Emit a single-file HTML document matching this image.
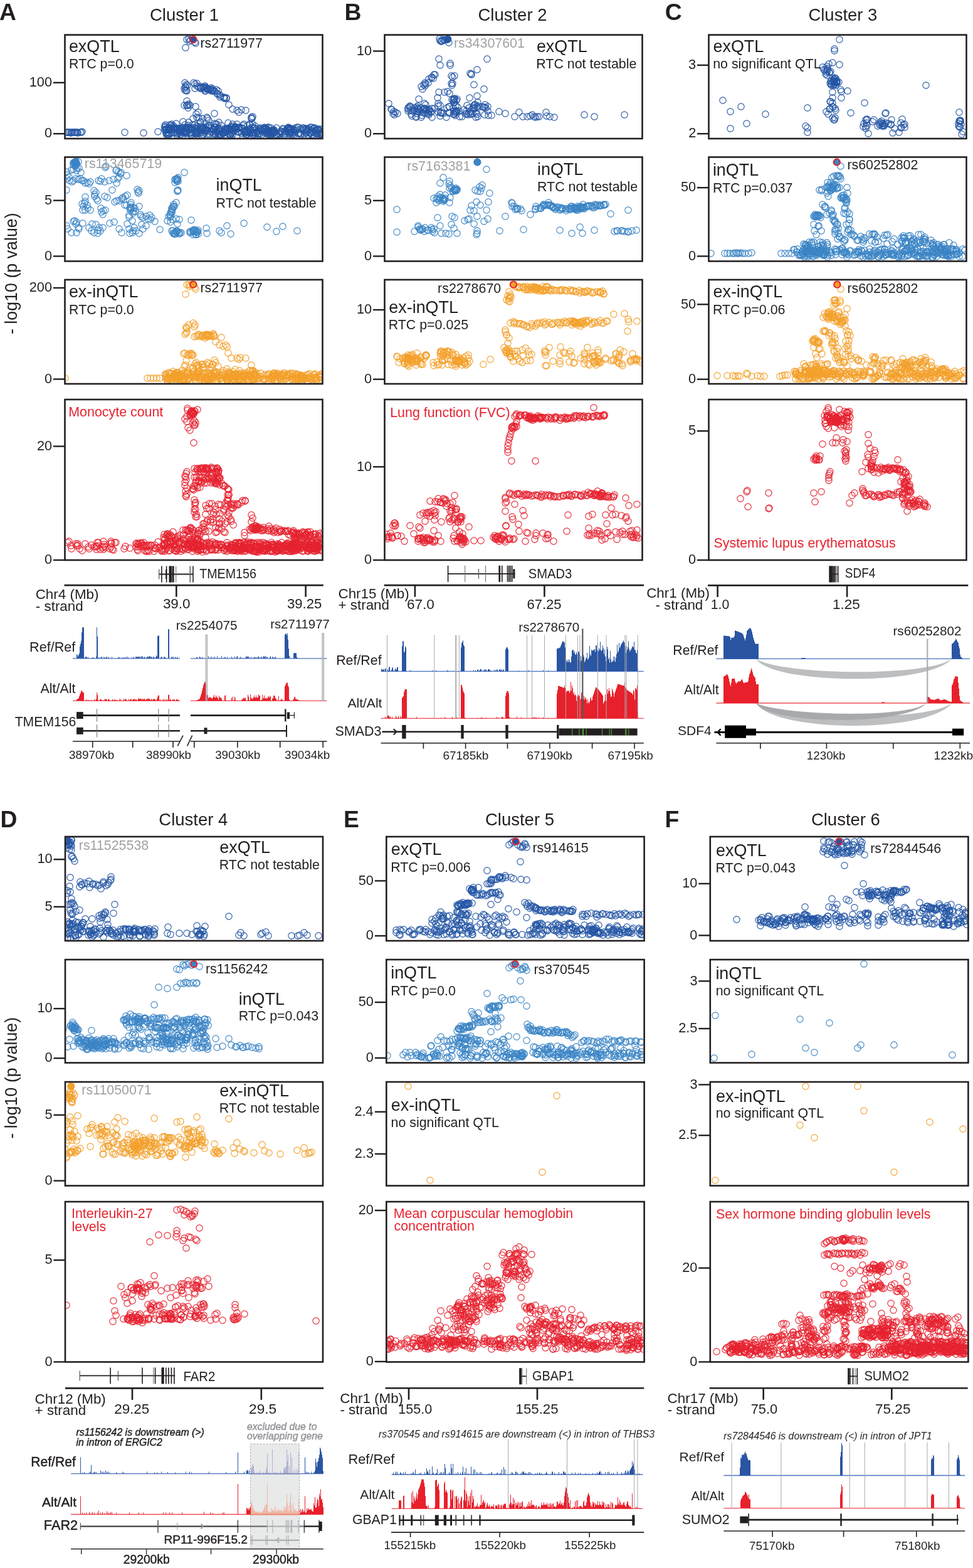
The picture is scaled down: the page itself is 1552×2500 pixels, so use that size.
<!DOCTYPE html>
<html><head><meta charset="utf-8"><title>Figure</title>
<style>html,body{margin:0;padding:0;background:#fff;} svg{display:block;} circle{r:5.15px;} text{font-family:'Liberation Sans', Arial, Helvetica, sans-serif;}</style>
</head><body>
<svg fill="#231f20" width="1552" height="2500" viewBox="0 0 1552 2500">
<rect width="1552" height="2500" fill="#fff"/>
<text x="-0.9" y="31.7" font-size="37.3" font-weight="bold">A</text>
<text x="294.0" y="32.8" font-size="27.5" text-anchor="middle">Cluster 1</text>
<text x="549.5" y="31.7" font-size="37.3" font-weight="bold">B</text>
<text x="817.5" y="32.8" font-size="27.5" text-anchor="middle">Cluster 2</text>
<text x="1060.8" y="31.7" font-size="37.3" font-weight="bold">C</text>
<text x="1344.4" y="32.8" font-size="27.5" text-anchor="middle">Cluster 3</text>
<text x="0.5" y="1318.9" font-size="37.3" font-weight="bold">D</text>
<text x="308.3" y="1315.8" font-size="27.5" text-anchor="middle">Cluster 4</text>
<text x="547.9" y="1318.9" font-size="37.3" font-weight="bold">E</text>
<text x="829.0" y="1315.8" font-size="27.5" text-anchor="middle">Cluster 5</text>
<text x="1060.6" y="1318.9" font-size="37.3" font-weight="bold">F</text>
<text x="1348.9" y="1315.8" font-size="27.5" text-anchor="middle">Cluster 6</text>
<text transform="translate(26.8,533) rotate(-90)" font-size="26.8">- log10 (p value)</text>
<text transform="translate(26.8,1815.5) rotate(-90)" font-size="26.8">- log10 (p value)</text>
<defs>
<clipPath id="cA1"><rect x="104.8" y="56.9" width="408.4" height="162.8"/></clipPath>
<clipPath id="cA2"><rect x="104.8" y="251.8" width="408.4" height="163.4"/></clipPath>
<clipPath id="cA3"><rect x="104.8" y="447.3" width="408.4" height="163.4"/></clipPath>
<clipPath id="cA4"><rect x="104.8" y="638.3" width="408.4" height="253.4"/></clipPath>
<clipPath id="cB1"><rect x="614.8" y="56.9" width="408.4" height="162.8"/></clipPath>
<clipPath id="cB2"><rect x="614.8" y="251.8" width="408.4" height="163.4"/></clipPath>
<clipPath id="cB3"><rect x="614.8" y="447.3" width="408.4" height="163.4"/></clipPath>
<clipPath id="cB4"><rect x="614.8" y="638.3" width="408.4" height="253.4"/></clipPath>
<clipPath id="cC1"><rect x="1131.8" y="56.9" width="408.4" height="162.8"/></clipPath>
<clipPath id="cC2"><rect x="1131.8" y="251.8" width="408.4" height="163.4"/></clipPath>
<clipPath id="cC3"><rect x="1131.8" y="447.3" width="408.4" height="163.4"/></clipPath>
<clipPath id="cC4"><rect x="1131.8" y="638.3" width="408.4" height="253.4"/></clipPath>
<clipPath id="cD1"><rect x="105.3" y="1335.3" width="408.4" height="163.4"/></clipPath>
<clipPath id="cD2"><rect x="105.3" y="1531.3" width="408.4" height="161.9"/></clipPath>
<clipPath id="cD3"><rect x="105.3" y="1726.3" width="408.4" height="162.9"/></clipPath>
<clipPath id="cD4"><rect x="105.3" y="1917.3" width="408.4" height="252.9"/></clipPath>
<clipPath id="cE1"><rect x="617.6" y="1335.3" width="408.7" height="163.4"/></clipPath>
<clipPath id="cE2"><rect x="617.6" y="1531.3" width="408.7" height="161.9"/></clipPath>
<clipPath id="cE3"><rect x="617.6" y="1726.3" width="408.7" height="162.9"/></clipPath>
<clipPath id="cE4"><rect x="617.6" y="1917.3" width="408.7" height="252.9"/></clipPath>
<clipPath id="cF1"><rect x="1134.1" y="1335.3" width="409.0" height="163.4"/></clipPath>
<clipPath id="cF2"><rect x="1134.1" y="1531.3" width="409.0" height="161.9"/></clipPath>
<clipPath id="cF3"><rect x="1134.1" y="1726.3" width="409.0" height="162.9"/></clipPath>
<clipPath id="cF4"><rect x="1134.1" y="1917.3" width="409.0" height="252.9"/></clipPath>
</defs>
<g clip-path="url(#cA1)" fill="none" stroke-width="1.1">
<g stroke="#2456a5"><circle cx="106" cy="211"/><circle cx="108" cy="211"/><circle cx="109" cy="211"/><circle cx="111" cy="211"/><circle cx="113" cy="212"/><circle cx="114" cy="211"/><circle cx="115" cy="211"/><circle cx="117" cy="211"/><circle cx="119" cy="211"/><circle cx="120" cy="211"/><circle cx="122" cy="211"/><circle cx="124" cy="211"/><circle cx="124" cy="212"/><circle cx="128" cy="211"/><circle cx="130" cy="211"/><circle cx="131" cy="210"/><circle cx="199" cy="211"/><circle cx="229" cy="212"/><circle cx="252" cy="210"/><circle cx="307" cy="204"/><circle cx="367" cy="215"/><circle cx="408" cy="213"/><circle cx="321" cy="210"/><circle cx="441" cy="214"/><circle cx="465" cy="206"/><circle cx="482" cy="206"/><circle cx="464" cy="210"/><circle cx="309" cy="211"/><circle cx="393" cy="216"/><circle cx="273" cy="205"/><circle cx="510" cy="214"/><circle cx="300" cy="206"/><circle cx="398" cy="205"/><circle cx="344" cy="203"/><circle cx="441" cy="204"/><circle cx="513" cy="215"/><circle cx="461" cy="213"/><circle cx="355" cy="212"/><circle cx="454" cy="209"/><circle cx="278" cy="211"/><circle cx="344" cy="211"/><circle cx="368" cy="215"/><circle cx="313" cy="213"/><circle cx="438" cy="210"/><circle cx="283" cy="205"/><circle cx="506" cy="206"/><circle cx="304" cy="207"/><circle cx="398" cy="210"/><circle cx="263" cy="203"/><circle cx="387" cy="205"/><circle cx="415" cy="213"/><circle cx="287" cy="210"/><circle cx="365" cy="213"/><circle cx="503" cy="208"/><circle cx="324" cy="214"/><circle cx="269" cy="207"/><circle cx="362" cy="205"/><circle cx="433" cy="210"/><circle cx="325" cy="208"/><circle cx="436" cy="207"/><circle cx="280" cy="209"/><circle cx="312" cy="211"/><circle cx="313" cy="205"/><circle cx="487" cy="207"/><circle cx="336" cy="210"/><circle cx="437" cy="212"/><circle cx="463" cy="206"/><circle cx="370" cy="208"/><circle cx="392" cy="210"/><circle cx="421" cy="204"/><circle cx="356" cy="212"/><circle cx="271" cy="213"/><circle cx="435" cy="208"/><circle cx="375" cy="206"/><circle cx="448" cy="209"/><circle cx="329" cy="203"/><circle cx="349" cy="215"/><circle cx="432" cy="211"/><circle cx="497" cy="203"/><circle cx="414" cy="205"/><circle cx="362" cy="205"/><circle cx="350" cy="215"/><circle cx="445" cy="214"/><circle cx="281" cy="207"/><circle cx="460" cy="203"/><circle cx="310" cy="204"/><circle cx="468" cy="206"/><circle cx="369" cy="203"/><circle cx="291" cy="210"/><circle cx="461" cy="207"/><circle cx="343" cy="203"/><circle cx="288" cy="205"/><circle cx="314" cy="210"/><circle cx="353" cy="216"/><circle cx="334" cy="214"/><circle cx="286" cy="210"/><circle cx="401" cy="212"/><circle cx="366" cy="210"/><circle cx="458" cy="205"/><circle cx="396" cy="211"/><circle cx="459" cy="205"/><circle cx="367" cy="203"/><circle cx="429" cy="214"/><circle cx="351" cy="214"/><circle cx="428" cy="203"/><circle cx="381" cy="203"/><circle cx="341" cy="213"/><circle cx="294" cy="210"/><circle cx="277" cy="204"/><circle cx="502" cy="204"/><circle cx="306" cy="215"/><circle cx="340" cy="206"/><circle cx="287" cy="209"/><circle cx="277" cy="206"/><circle cx="318" cy="213"/><circle cx="303" cy="211"/><circle cx="323" cy="216"/><circle cx="512" cy="215"/><circle cx="489" cy="210"/><circle cx="497" cy="211"/><circle cx="303" cy="213"/><circle cx="476" cy="203"/><circle cx="312" cy="213"/><circle cx="456" cy="210"/><circle cx="293" cy="206"/><circle cx="322" cy="216"/><circle cx="319" cy="208"/><circle cx="436" cy="212"/><circle cx="404" cy="211"/><circle cx="480" cy="215"/><circle cx="290" cy="203"/><circle cx="492" cy="215"/><circle cx="355" cy="208"/><circle cx="435" cy="208"/><circle cx="290" cy="206"/><circle cx="339" cy="210"/><circle cx="306" cy="212"/><circle cx="506" cy="208"/><circle cx="406" cy="211"/><circle cx="463" cy="211"/><circle cx="392" cy="212"/><circle cx="268" cy="215"/><circle cx="488" cy="212"/><circle cx="313" cy="211"/><circle cx="270" cy="208"/><circle cx="317" cy="210"/><circle cx="325" cy="204"/><circle cx="462" cy="206"/><circle cx="403" cy="203"/><circle cx="404" cy="213"/><circle cx="460" cy="207"/><circle cx="295" cy="211"/><circle cx="340" cy="207"/><circle cx="315" cy="208"/><circle cx="434" cy="208"/><circle cx="425" cy="212"/><circle cx="466" cy="210"/><circle cx="511" cy="209"/><circle cx="398" cy="212"/><circle cx="507" cy="212"/><circle cx="493" cy="205"/><circle cx="369" cy="212"/><circle cx="447" cy="214"/><circle cx="329" cy="207"/><circle cx="366" cy="208"/><circle cx="286" cy="208"/><circle cx="424" cy="213"/><circle cx="320" cy="211"/><circle cx="451" cy="205"/><circle cx="266" cy="205"/><circle cx="433" cy="215"/><circle cx="360" cy="207"/><circle cx="420" cy="207"/><circle cx="272" cy="206"/><circle cx="413" cy="209"/><circle cx="350" cy="208"/><circle cx="297" cy="213"/><circle cx="357" cy="212"/><circle cx="405" cy="215"/><circle cx="463" cy="205"/><circle cx="376" cy="203"/><circle cx="452" cy="206"/><circle cx="508" cy="206"/><circle cx="390" cy="209"/><circle cx="470" cy="211"/><circle cx="484" cy="207"/><circle cx="287" cy="205"/><circle cx="274" cy="212"/><circle cx="435" cy="213"/><circle cx="459" cy="204"/><circle cx="279" cy="212"/><circle cx="263" cy="207"/><circle cx="410" cy="211"/><circle cx="417" cy="215"/><circle cx="508" cy="207"/><circle cx="342" cy="203"/><circle cx="293" cy="209"/><circle cx="424" cy="206"/><circle cx="287" cy="212"/><circle cx="431" cy="209"/><circle cx="298" cy="205"/><circle cx="330" cy="214"/><circle cx="495" cy="203"/><circle cx="498" cy="215"/><circle cx="462" cy="206"/><circle cx="506" cy="214"/><circle cx="298" cy="203"/><circle cx="358" cy="211"/><circle cx="269" cy="216"/><circle cx="432" cy="210"/><circle cx="386" cy="204"/><circle cx="450" cy="213"/><circle cx="268" cy="214"/><circle cx="352" cy="215"/><circle cx="348" cy="206"/><circle cx="312" cy="207"/><circle cx="280" cy="205"/><circle cx="381" cy="210"/><circle cx="403" cy="205"/><circle cx="269" cy="205"/><circle cx="489" cy="205"/><circle cx="434" cy="210"/><circle cx="413" cy="215"/><circle cx="327" cy="212"/><circle cx="393" cy="208"/><circle cx="363" cy="205"/><circle cx="288" cy="215"/><circle cx="423" cy="205"/><circle cx="464" cy="205"/><circle cx="429" cy="211"/><circle cx="463" cy="208"/><circle cx="503" cy="212"/><circle cx="375" cy="204"/><circle cx="327" cy="205"/><circle cx="394" cy="214"/><circle cx="449" cy="211"/><circle cx="370" cy="206"/><circle cx="465" cy="212"/><circle cx="429" cy="210"/><circle cx="461" cy="211"/><circle cx="329" cy="208"/><circle cx="340" cy="207"/><circle cx="488" cy="212"/><circle cx="417" cy="209"/><circle cx="385" cy="204"/><circle cx="382" cy="211"/><circle cx="351" cy="210"/><circle cx="514" cy="215"/><circle cx="282" cy="215"/><circle cx="462" cy="214"/><circle cx="465" cy="206"/><circle cx="296" cy="211"/><circle cx="471" cy="204"/><circle cx="266" cy="215"/><circle cx="491" cy="206"/><circle cx="471" cy="207"/><circle cx="474" cy="203"/><circle cx="415" cy="206"/><circle cx="422" cy="203"/><circle cx="425" cy="204"/><circle cx="374" cy="204"/><circle cx="359" cy="205"/><circle cx="345" cy="209"/><circle cx="428" cy="211"/><circle cx="394" cy="214"/><circle cx="366" cy="205"/><circle cx="435" cy="208"/><circle cx="497" cy="208"/><circle cx="266" cy="207"/><circle cx="504" cy="209"/><circle cx="469" cy="208"/><circle cx="415" cy="204"/><circle cx="313" cy="204"/><circle cx="364" cy="207"/><circle cx="403" cy="211"/><circle cx="323" cy="206"/><circle cx="269" cy="204"/><circle cx="358" cy="215"/><circle cx="310" cy="208"/><circle cx="266" cy="211"/><circle cx="368" cy="207"/><circle cx="361" cy="206"/><circle cx="365" cy="205"/><circle cx="442" cy="215"/><circle cx="490" cy="208"/><circle cx="265" cy="213"/><circle cx="379" cy="210"/><circle cx="427" cy="214"/><circle cx="393" cy="209"/><circle cx="296" cy="203"/><circle cx="304" cy="205"/><circle cx="499" cy="210"/><circle cx="269" cy="207"/><circle cx="366" cy="214"/><circle cx="366" cy="210"/><circle cx="329" cy="207"/><circle cx="283" cy="213"/><circle cx="385" cy="213"/><circle cx="406" cy="204"/><circle cx="330" cy="207"/><circle cx="459" cy="207"/><circle cx="505" cy="213"/><circle cx="436" cy="210"/><circle cx="437" cy="207"/><circle cx="288" cy="214"/><circle cx="378" cy="216"/><circle cx="447" cy="210"/><circle cx="370" cy="212"/><circle cx="323" cy="207"/><circle cx="343" cy="214"/><circle cx="501" cy="204"/><circle cx="269" cy="207"/><circle cx="434" cy="209"/><circle cx="454" cy="216"/><circle cx="430" cy="212"/><circle cx="298" cy="211"/><circle cx="420" cy="205"/><circle cx="269" cy="212"/><circle cx="512" cy="211"/><circle cx="313" cy="214"/><circle cx="342" cy="207"/><circle cx="467" cy="213"/><circle cx="497" cy="215"/><circle cx="263" cy="206"/><circle cx="409" cy="206"/><circle cx="476" cy="213"/><circle cx="453" cy="215"/><circle cx="440" cy="216"/><circle cx="380" cy="205"/><circle cx="392" cy="215"/><circle cx="417" cy="207"/><circle cx="287" cy="205"/><circle cx="293" cy="212"/><circle cx="345" cy="209"/><circle cx="508" cy="207"/><circle cx="427" cy="207"/><circle cx="359" cy="208"/><circle cx="374" cy="204"/><circle cx="424" cy="210"/><circle cx="291" cy="216"/><circle cx="511" cy="206"/><circle cx="348" cy="213"/><circle cx="390" cy="210"/><circle cx="455" cy="213"/><circle cx="329" cy="209"/><circle cx="466" cy="215"/><circle cx="480" cy="213"/><circle cx="428" cy="203"/><circle cx="354" cy="212"/><circle cx="324" cy="204"/><circle cx="412" cy="213"/><circle cx="513" cy="212"/><circle cx="375" cy="203"/><circle cx="433" cy="215"/><circle cx="393" cy="210"/><circle cx="286" cy="207"/><circle cx="411" cy="213"/><circle cx="344" cy="214"/><circle cx="410" cy="210"/><circle cx="313" cy="212"/><circle cx="297" cy="208"/><circle cx="485" cy="214"/><circle cx="500" cy="205"/><circle cx="490" cy="209"/><circle cx="304" cy="215"/><circle cx="501" cy="216"/><circle cx="353" cy="206"/><circle cx="495" cy="212"/><circle cx="495" cy="213"/><circle cx="510" cy="213"/><circle cx="469" cy="215"/><circle cx="371" cy="215"/><circle cx="367" cy="216"/><circle cx="399" cy="211"/><circle cx="265" cy="207"/><circle cx="332" cy="203"/><circle cx="341" cy="206"/><circle cx="290" cy="206"/><circle cx="479" cy="206"/><circle cx="438" cy="216"/><circle cx="265" cy="212"/><circle cx="296" cy="205"/><circle cx="340" cy="215"/><circle cx="483" cy="204"/><circle cx="461" cy="204"/><circle cx="353" cy="216"/><circle cx="484" cy="204"/><circle cx="405" cy="208"/><circle cx="432" cy="214"/><circle cx="403" cy="215"/><circle cx="488" cy="205"/><circle cx="277" cy="205"/><circle cx="390" cy="212"/><circle cx="477" cy="213"/><circle cx="427" cy="211"/><circle cx="427" cy="208"/><circle cx="429" cy="214"/><circle cx="478" cy="212"/><circle cx="432" cy="204"/><circle cx="314" cy="201"/><circle cx="311" cy="199"/><circle cx="321" cy="204"/><circle cx="304" cy="205"/><circle cx="263" cy="201"/><circle cx="376" cy="204"/><circle cx="264" cy="199"/><circle cx="274" cy="202"/><circle cx="277" cy="201"/><circle cx="307" cy="199"/><circle cx="321" cy="201"/><circle cx="353" cy="200"/><circle cx="273" cy="200"/><circle cx="371" cy="198"/><circle cx="344" cy="198"/><circle cx="398" cy="199"/><circle cx="346" cy="198"/><circle cx="348" cy="204"/><circle cx="406" cy="204"/><circle cx="403" cy="198"/><circle cx="389" cy="198"/><circle cx="399" cy="206"/><circle cx="375" cy="202"/><circle cx="378" cy="198"/><circle cx="398" cy="198"/><circle cx="300" cy="200"/><circle cx="370" cy="201"/><circle cx="323" cy="202"/><circle cx="381" cy="204"/><circle cx="395" cy="200"/><circle cx="271" cy="199"/><circle cx="281" cy="204"/><circle cx="276" cy="204"/><circle cx="263" cy="203"/><circle cx="301" cy="203"/><circle cx="382" cy="203"/><circle cx="274" cy="198"/><circle cx="323" cy="205"/><circle cx="335" cy="200"/><circle cx="336" cy="204"/><circle cx="295" cy="199"/><circle cx="407" cy="201"/><circle cx="332" cy="200"/><circle cx="301" cy="204"/><circle cx="388" cy="200"/><circle cx="316" cy="179"/><circle cx="281" cy="197"/><circle cx="349" cy="195"/><circle cx="330" cy="187"/><circle cx="320" cy="194"/><circle cx="342" cy="197"/><circle cx="313" cy="182"/><circle cx="314" cy="187"/><circle cx="333" cy="192"/><circle cx="323" cy="189"/><circle cx="308" cy="189"/><circle cx="319" cy="195"/><circle cx="342" cy="181"/><circle cx="317" cy="188"/><circle cx="331" cy="189"/><circle cx="292" cy="194"/><circle cx="301" cy="195"/><circle cx="364" cy="196"/><circle cx="401" cy="189"/><circle cx="403" cy="186"/><circle cx="298" cy="63"/><circle cx="301" cy="62"/><circle cx="304" cy="64"/><circle cx="311" cy="67"/><circle cx="312" cy="69"/><circle cx="302" cy="66"/><circle cx="296" cy="76"/><circle cx="307" cy="61"/><circle cx="296" cy="138"/><circle cx="298" cy="145"/><circle cx="297" cy="135"/><circle cx="297" cy="144"/><circle cx="299" cy="136"/><circle cx="294" cy="141"/><circle cx="295" cy="144"/><circle cx="296" cy="139"/><circle cx="295" cy="132"/><circle cx="309" cy="132"/><circle cx="311" cy="134"/><circle cx="314" cy="133"/><circle cx="314" cy="137"/><circle cx="317" cy="139"/><circle cx="320" cy="138"/><circle cx="320" cy="140"/><circle cx="324" cy="139"/><circle cx="324" cy="140"/><circle cx="328" cy="139"/><circle cx="328" cy="140"/><circle cx="328" cy="145"/><circle cx="331" cy="142"/><circle cx="334" cy="143"/><circle cx="336" cy="142"/><circle cx="339" cy="145"/><circle cx="337" cy="145"/><circle cx="341" cy="145"/><circle cx="345" cy="143"/><circle cx="343" cy="146"/><circle cx="346" cy="149"/><circle cx="350" cy="151"/><circle cx="347" cy="150"/><circle cx="352" cy="153"/><circle cx="351" cy="155"/><circle cx="357" cy="155"/><circle cx="358" cy="156"/><circle cx="358" cy="157"/><circle cx="361" cy="156"/><circle cx="361" cy="157"/><circle cx="320" cy="141"/><circle cx="326" cy="142"/><circle cx="320" cy="141"/><circle cx="348" cy="145"/><circle cx="337" cy="140"/><circle cx="330" cy="141"/><circle cx="332" cy="142"/><circle cx="327" cy="137"/><circle cx="339" cy="144"/><circle cx="332" cy="143"/><circle cx="311" cy="141"/><circle cx="327" cy="145"/><circle cx="325" cy="139"/><circle cx="339" cy="142"/><circle cx="365" cy="167"/><circle cx="371" cy="174"/><circle cx="378" cy="176"/><circle cx="385" cy="175"/><circle cx="392" cy="176"/><circle cx="381" cy="179"/><circle cx="401" cy="187"/><circle cx="402" cy="189"/><circle cx="312" cy="170"/><circle cx="300" cy="172"/><circle cx="298" cy="161"/><circle cx="298" cy="168"/><circle cx="294" cy="168"/><circle cx="301" cy="166"/><circle cx="300" cy="168"/><circle cx="303" cy="168"/><circle cx="298" cy="168"/></g>
<circle cx="308.3" cy="63.1" fill="#2456a5" stroke="#e8212b" stroke-width="2"/>
</g>
<g clip-path="url(#cA2)" fill="none" stroke-width="1.1">
<g stroke="#3a84c5"><circle cx="120" cy="265"/><circle cx="121" cy="264"/><circle cx="120" cy="265"/><circle cx="122" cy="261"/><circle cx="121" cy="262"/><circle cx="125" cy="258"/><circle cx="122" cy="260"/><circle cx="117" cy="263"/><circle cx="117" cy="260"/><circle cx="123" cy="268"/><circle cx="118" cy="259"/><circle cx="119" cy="259"/><circle cx="122" cy="261"/><circle cx="120" cy="261"/><circle cx="119" cy="260"/><circle cx="120" cy="258"/><circle cx="117" cy="270"/><circle cx="122" cy="272"/><circle cx="129" cy="275"/><circle cx="126" cy="268"/><circle cx="114" cy="271"/><circle cx="106" cy="274"/><circle cx="107" cy="279"/><circle cx="110" cy="282"/><circle cx="106" cy="285"/><circle cx="106" cy="303"/><circle cx="111" cy="288"/><circle cx="117" cy="288"/><circle cx="121" cy="285"/><circle cx="125" cy="286"/><circle cx="131" cy="288"/><circle cx="136" cy="292"/><circle cx="142" cy="293"/><circle cx="144" cy="290"/><circle cx="133" cy="288"/><circle cx="139" cy="291"/><circle cx="128" cy="285"/><circle cx="115" cy="290"/><circle cx="157" cy="288"/><circle cx="162" cy="285"/><circle cx="167" cy="290"/><circle cx="174" cy="288"/><circle cx="181" cy="286"/><circle cx="186" cy="292"/><circle cx="160" cy="289"/><circle cx="168" cy="267"/><circle cx="169" cy="265"/><circle cx="186" cy="271"/><circle cx="189" cy="274"/><circle cx="192" cy="277"/><circle cx="190" cy="282"/><circle cx="188" cy="285"/><circle cx="185" cy="272"/><circle cx="193" cy="275"/><circle cx="202" cy="280"/><circle cx="179" cy="303"/><circle cx="219" cy="302"/><circle cx="222" cy="304"/><circle cx="221" cy="308"/><circle cx="220" cy="306"/><circle cx="150" cy="304"/><circle cx="153" cy="307"/><circle cx="151" cy="313"/><circle cx="154" cy="317"/><circle cx="156" cy="320"/><circle cx="151" cy="310"/><circle cx="136" cy="314"/><circle cx="135" cy="324"/><circle cx="139" cy="327"/><circle cx="133" cy="329"/><circle cx="136" cy="335"/><circle cx="140" cy="332"/><circle cx="132" cy="335"/><circle cx="144" cy="335"/><circle cx="136" cy="321"/><circle cx="131" cy="325"/><circle cx="167" cy="313"/><circle cx="171" cy="315"/><circle cx="183" cy="322"/><circle cx="186" cy="320"/><circle cx="196" cy="315"/><circle cx="200" cy="313"/><circle cx="203" cy="311"/><circle cx="197" cy="318"/><circle cx="199" cy="327"/><circle cx="194" cy="317"/><circle cx="190" cy="320"/><circle cx="207" cy="332"/><circle cx="212" cy="340"/><circle cx="210" cy="332"/><circle cx="216" cy="337"/><circle cx="208" cy="326"/><circle cx="209" cy="330"/><circle cx="215" cy="332"/><circle cx="209" cy="323"/><circle cx="213" cy="331"/><circle cx="213" cy="337"/><circle cx="208" cy="335"/><circle cx="206" cy="343"/><circle cx="202" cy="327"/><circle cx="208" cy="332"/><circle cx="161" cy="332"/><circle cx="165" cy="336"/><circle cx="164" cy="342"/><circle cx="168" cy="335"/><circle cx="162" cy="338"/><circle cx="222" cy="329"/><circle cx="224" cy="342"/><circle cx="228" cy="347"/><circle cx="233" cy="345"/><circle cx="239" cy="343"/><circle cx="242" cy="347"/><circle cx="247" cy="353"/><circle cx="240" cy="350"/><circle cx="236" cy="349"/><circle cx="225" cy="345"/><circle cx="119" cy="352"/><circle cx="122" cy="354"/><circle cx="117" cy="353"/><circle cx="132" cy="356"/><circle cx="106" cy="360"/><circle cx="108" cy="365"/><circle cx="114" cy="371"/><circle cx="122" cy="371"/><circle cx="125" cy="363"/><circle cx="142" cy="363"/><circle cx="146" cy="368"/><circle cx="150" cy="371"/><circle cx="156" cy="367"/><circle cx="158" cy="363"/><circle cx="164" cy="363"/><circle cx="156" cy="372"/><circle cx="175" cy="356"/><circle cx="182" cy="354"/><circle cx="190" cy="365"/><circle cx="194" cy="371"/><circle cx="206" cy="365"/><circle cx="211" cy="371"/><circle cx="214" cy="363"/><circle cx="217" cy="368"/><circle cx="222" cy="372"/><circle cx="228" cy="365"/><circle cx="233" cy="360"/><circle cx="211" cy="352"/><circle cx="206" cy="346"/><circle cx="203" cy="357"/><circle cx="121" cy="357"/><circle cx="126" cy="365"/><circle cx="147" cy="357"/><circle cx="153" cy="358"/><circle cx="160" cy="368"/><circle cx="207" cy="372"/><circle cx="212" cy="368"/><circle cx="226" cy="358"/><circle cx="255" cy="366"/><circle cx="282" cy="286"/><circle cx="283" cy="285"/><circle cx="283" cy="286"/><circle cx="282" cy="285"/><circle cx="284" cy="283"/><circle cx="279" cy="286"/><circle cx="282" cy="289"/><circle cx="283" cy="288"/><circle cx="284" cy="289"/><circle cx="280" cy="286"/><circle cx="279" cy="291"/><circle cx="283" cy="304"/><circle cx="284" cy="303"/><circle cx="283" cy="305"/><circle cx="294" cy="275"/><circle cx="281" cy="323"/><circle cx="277" cy="326"/><circle cx="278" cy="329"/><circle cx="276" cy="329"/><circle cx="277" cy="330"/><circle cx="274" cy="332"/><circle cx="275" cy="334"/><circle cx="274" cy="334"/><circle cx="274" cy="337"/><circle cx="274" cy="339"/><circle cx="272" cy="339"/><circle cx="271" cy="343"/><circle cx="272" cy="342"/><circle cx="272" cy="346"/><circle cx="269" cy="345"/><circle cx="267" cy="352"/><circle cx="272" cy="354"/><circle cx="281" cy="349"/><circle cx="286" cy="350"/><circle cx="283" cy="357"/><circle cx="275" cy="350"/><circle cx="303" cy="371"/><circle cx="286" cy="373"/><circle cx="313" cy="374"/><circle cx="282" cy="368"/><circle cx="276" cy="372"/><circle cx="315" cy="369"/><circle cx="289" cy="371"/><circle cx="287" cy="371"/><circle cx="285" cy="371"/><circle cx="316" cy="373"/><circle cx="315" cy="370"/><circle cx="274" cy="368"/><circle cx="278" cy="373"/><circle cx="278" cy="371"/><circle cx="313" cy="370"/><circle cx="279" cy="373"/><circle cx="316" cy="367"/><circle cx="308" cy="374"/><circle cx="281" cy="370"/><circle cx="276" cy="368"/><circle cx="305" cy="370"/><circle cx="282" cy="370"/><circle cx="312" cy="374"/><circle cx="283" cy="369"/><circle cx="280" cy="373"/><circle cx="312" cy="368"/><circle cx="309" cy="369"/><circle cx="310" cy="366"/><circle cx="310" cy="368"/><circle cx="308" cy="368"/><circle cx="308" cy="367"/><circle cx="308" cy="369"/><circle cx="313" cy="370"/><circle cx="303" cy="369"/><circle cx="305" cy="351"/><circle cx="329" cy="364"/><circle cx="330" cy="372"/><circle cx="350" cy="368"/><circle cx="353" cy="371"/><circle cx="362" cy="360"/><circle cx="368" cy="373"/><circle cx="389" cy="356"/><circle cx="426" cy="362"/><circle cx="441" cy="369"/><circle cx="451" cy="361"/><circle cx="474" cy="368"/></g>
<circle cx="120.8" cy="257.7" fill="#3a84c5" stroke="#3a84c5" stroke-width="2"/>
</g>
<g clip-path="url(#cA3)" fill="none" stroke-width="1.1">
<g stroke="#f3a02b"><circle cx="104" cy="603"/><circle cx="235" cy="603"/><circle cx="240" cy="603"/><circle cx="245" cy="603"/><circle cx="250" cy="603"/><circle cx="255" cy="603"/><circle cx="313" cy="602"/><circle cx="326" cy="607"/><circle cx="480" cy="604"/><circle cx="404" cy="605"/><circle cx="284" cy="600"/><circle cx="484" cy="605"/><circle cx="342" cy="600"/><circle cx="298" cy="595"/><circle cx="501" cy="597"/><circle cx="464" cy="597"/><circle cx="377" cy="602"/><circle cx="309" cy="599"/><circle cx="298" cy="595"/><circle cx="355" cy="606"/><circle cx="318" cy="601"/><circle cx="361" cy="602"/><circle cx="316" cy="595"/><circle cx="346" cy="608"/><circle cx="408" cy="601"/><circle cx="337" cy="604"/><circle cx="300" cy="603"/><circle cx="388" cy="596"/><circle cx="388" cy="599"/><circle cx="265" cy="601"/><circle cx="314" cy="596"/><circle cx="435" cy="602"/><circle cx="361" cy="604"/><circle cx="483" cy="600"/><circle cx="395" cy="607"/><circle cx="329" cy="601"/><circle cx="385" cy="600"/><circle cx="403" cy="605"/><circle cx="482" cy="600"/><circle cx="334" cy="605"/><circle cx="439" cy="598"/><circle cx="374" cy="598"/><circle cx="394" cy="598"/><circle cx="280" cy="598"/><circle cx="284" cy="599"/><circle cx="345" cy="599"/><circle cx="496" cy="605"/><circle cx="328" cy="607"/><circle cx="384" cy="595"/><circle cx="381" cy="596"/><circle cx="332" cy="608"/><circle cx="396" cy="608"/><circle cx="374" cy="599"/><circle cx="320" cy="598"/><circle cx="456" cy="603"/><circle cx="479" cy="601"/><circle cx="481" cy="607"/><circle cx="281" cy="604"/><circle cx="281" cy="599"/><circle cx="295" cy="603"/><circle cx="294" cy="596"/><circle cx="447" cy="604"/><circle cx="475" cy="607"/><circle cx="442" cy="606"/><circle cx="335" cy="601"/><circle cx="400" cy="600"/><circle cx="379" cy="601"/><circle cx="393" cy="595"/><circle cx="300" cy="605"/><circle cx="480" cy="598"/><circle cx="291" cy="598"/><circle cx="483" cy="601"/><circle cx="509" cy="601"/><circle cx="292" cy="605"/><circle cx="293" cy="604"/><circle cx="513" cy="605"/><circle cx="467" cy="600"/><circle cx="278" cy="598"/><circle cx="478" cy="605"/><circle cx="407" cy="597"/><circle cx="383" cy="606"/><circle cx="290" cy="607"/><circle cx="282" cy="604"/><circle cx="267" cy="606"/><circle cx="342" cy="602"/><circle cx="274" cy="604"/><circle cx="513" cy="599"/><circle cx="473" cy="597"/><circle cx="272" cy="604"/><circle cx="331" cy="604"/><circle cx="279" cy="597"/><circle cx="342" cy="602"/><circle cx="323" cy="596"/><circle cx="291" cy="600"/><circle cx="278" cy="602"/><circle cx="270" cy="602"/><circle cx="342" cy="595"/><circle cx="268" cy="603"/><circle cx="441" cy="597"/><circle cx="406" cy="596"/><circle cx="380" cy="606"/><circle cx="310" cy="601"/><circle cx="490" cy="598"/><circle cx="459" cy="596"/><circle cx="331" cy="605"/><circle cx="481" cy="599"/><circle cx="366" cy="599"/><circle cx="311" cy="599"/><circle cx="473" cy="602"/><circle cx="475" cy="602"/><circle cx="433" cy="602"/><circle cx="316" cy="601"/><circle cx="349" cy="598"/><circle cx="342" cy="607"/><circle cx="505" cy="608"/><circle cx="399" cy="598"/><circle cx="354" cy="599"/><circle cx="504" cy="606"/><circle cx="460" cy="602"/><circle cx="384" cy="605"/><circle cx="486" cy="604"/><circle cx="501" cy="603"/><circle cx="473" cy="603"/><circle cx="401" cy="606"/><circle cx="375" cy="606"/><circle cx="327" cy="608"/><circle cx="446" cy="597"/><circle cx="435" cy="599"/><circle cx="287" cy="597"/><circle cx="371" cy="607"/><circle cx="322" cy="602"/><circle cx="373" cy="597"/><circle cx="437" cy="599"/><circle cx="274" cy="606"/><circle cx="454" cy="595"/><circle cx="376" cy="599"/><circle cx="427" cy="599"/><circle cx="438" cy="595"/><circle cx="491" cy="603"/><circle cx="363" cy="606"/><circle cx="449" cy="599"/><circle cx="285" cy="603"/><circle cx="369" cy="606"/><circle cx="300" cy="606"/><circle cx="475" cy="598"/><circle cx="327" cy="603"/><circle cx="334" cy="601"/><circle cx="396" cy="600"/><circle cx="294" cy="599"/><circle cx="466" cy="605"/><circle cx="288" cy="604"/><circle cx="484" cy="603"/><circle cx="504" cy="603"/><circle cx="380" cy="600"/><circle cx="409" cy="604"/><circle cx="512" cy="597"/><circle cx="344" cy="607"/><circle cx="435" cy="599"/><circle cx="404" cy="596"/><circle cx="300" cy="595"/><circle cx="475" cy="597"/><circle cx="356" cy="599"/><circle cx="438" cy="596"/><circle cx="265" cy="597"/><circle cx="405" cy="599"/><circle cx="282" cy="599"/><circle cx="329" cy="604"/><circle cx="442" cy="595"/><circle cx="472" cy="596"/><circle cx="363" cy="600"/><circle cx="270" cy="596"/><circle cx="449" cy="604"/><circle cx="461" cy="608"/><circle cx="486" cy="599"/><circle cx="428" cy="604"/><circle cx="320" cy="605"/><circle cx="491" cy="603"/><circle cx="459" cy="599"/><circle cx="475" cy="599"/><circle cx="339" cy="602"/><circle cx="416" cy="601"/><circle cx="472" cy="605"/><circle cx="395" cy="607"/><circle cx="363" cy="600"/><circle cx="509" cy="599"/><circle cx="296" cy="606"/><circle cx="436" cy="599"/><circle cx="465" cy="604"/><circle cx="376" cy="602"/><circle cx="501" cy="602"/><circle cx="289" cy="601"/><circle cx="339" cy="608"/><circle cx="372" cy="600"/><circle cx="455" cy="605"/><circle cx="283" cy="604"/><circle cx="497" cy="603"/><circle cx="332" cy="607"/><circle cx="279" cy="601"/><circle cx="312" cy="602"/><circle cx="363" cy="607"/><circle cx="281" cy="601"/><circle cx="335" cy="596"/><circle cx="475" cy="603"/><circle cx="351" cy="602"/><circle cx="375" cy="596"/><circle cx="345" cy="595"/><circle cx="287" cy="606"/><circle cx="459" cy="599"/><circle cx="267" cy="607"/><circle cx="280" cy="598"/><circle cx="476" cy="602"/><circle cx="373" cy="605"/><circle cx="493" cy="602"/><circle cx="494" cy="596"/><circle cx="393" cy="604"/><circle cx="475" cy="601"/><circle cx="421" cy="599"/><circle cx="446" cy="602"/><circle cx="511" cy="602"/><circle cx="311" cy="605"/><circle cx="376" cy="597"/><circle cx="504" cy="601"/><circle cx="305" cy="597"/><circle cx="326" cy="607"/><circle cx="467" cy="595"/><circle cx="439" cy="599"/><circle cx="372" cy="605"/><circle cx="336" cy="599"/><circle cx="497" cy="605"/><circle cx="471" cy="605"/><circle cx="504" cy="605"/><circle cx="450" cy="599"/><circle cx="440" cy="607"/><circle cx="406" cy="604"/><circle cx="307" cy="601"/><circle cx="396" cy="605"/><circle cx="393" cy="598"/><circle cx="510" cy="601"/><circle cx="292" cy="606"/><circle cx="354" cy="607"/><circle cx="270" cy="605"/><circle cx="433" cy="604"/><circle cx="272" cy="602"/><circle cx="389" cy="599"/><circle cx="285" cy="603"/><circle cx="355" cy="608"/><circle cx="321" cy="600"/><circle cx="428" cy="597"/><circle cx="300" cy="596"/><circle cx="476" cy="605"/><circle cx="292" cy="599"/><circle cx="429" cy="596"/><circle cx="278" cy="597"/><circle cx="458" cy="598"/><circle cx="450" cy="597"/><circle cx="422" cy="604"/><circle cx="423" cy="597"/><circle cx="380" cy="598"/><circle cx="344" cy="599"/><circle cx="491" cy="597"/><circle cx="362" cy="605"/><circle cx="283" cy="605"/><circle cx="490" cy="603"/><circle cx="495" cy="601"/><circle cx="458" cy="608"/><circle cx="387" cy="601"/><circle cx="502" cy="604"/><circle cx="389" cy="600"/><circle cx="443" cy="608"/><circle cx="389" cy="601"/><circle cx="390" cy="595"/><circle cx="470" cy="604"/><circle cx="420" cy="604"/><circle cx="466" cy="601"/><circle cx="406" cy="598"/><circle cx="403" cy="603"/><circle cx="404" cy="597"/><circle cx="332" cy="595"/><circle cx="368" cy="602"/><circle cx="351" cy="604"/><circle cx="359" cy="601"/><circle cx="313" cy="602"/><circle cx="317" cy="598"/><circle cx="370" cy="603"/><circle cx="392" cy="598"/><circle cx="406" cy="604"/><circle cx="316" cy="596"/><circle cx="481" cy="599"/><circle cx="404" cy="601"/><circle cx="391" cy="599"/><circle cx="301" cy="604"/><circle cx="433" cy="607"/><circle cx="388" cy="606"/><circle cx="389" cy="608"/><circle cx="304" cy="599"/><circle cx="456" cy="600"/><circle cx="404" cy="607"/><circle cx="316" cy="596"/><circle cx="267" cy="603"/><circle cx="500" cy="598"/><circle cx="390" cy="600"/><circle cx="387" cy="606"/><circle cx="485" cy="603"/><circle cx="381" cy="607"/><circle cx="374" cy="599"/><circle cx="383" cy="604"/><circle cx="321" cy="605"/><circle cx="356" cy="596"/><circle cx="438" cy="607"/><circle cx="491" cy="608"/><circle cx="274" cy="608"/><circle cx="489" cy="607"/><circle cx="264" cy="604"/><circle cx="312" cy="607"/><circle cx="332" cy="596"/><circle cx="410" cy="604"/><circle cx="397" cy="600"/><circle cx="280" cy="604"/><circle cx="265" cy="602"/><circle cx="287" cy="601"/><circle cx="409" cy="598"/><circle cx="452" cy="598"/><circle cx="480" cy="600"/><circle cx="435" cy="601"/><circle cx="343" cy="596"/><circle cx="416" cy="595"/><circle cx="380" cy="600"/><circle cx="336" cy="598"/><circle cx="385" cy="607"/><circle cx="462" cy="599"/><circle cx="412" cy="603"/><circle cx="444" cy="603"/><circle cx="278" cy="597"/><circle cx="461" cy="598"/><circle cx="405" cy="595"/><circle cx="409" cy="599"/><circle cx="273" cy="595"/><circle cx="322" cy="602"/><circle cx="452" cy="595"/><circle cx="390" cy="599"/><circle cx="415" cy="604"/><circle cx="284" cy="598"/><circle cx="481" cy="604"/><circle cx="304" cy="602"/><circle cx="354" cy="597"/><circle cx="365" cy="602"/><circle cx="428" cy="607"/><circle cx="331" cy="608"/><circle cx="355" cy="603"/><circle cx="362" cy="601"/><circle cx="435" cy="605"/><circle cx="280" cy="595"/><circle cx="350" cy="599"/><circle cx="375" cy="607"/><circle cx="338" cy="598"/><circle cx="371" cy="599"/><circle cx="366" cy="602"/><circle cx="291" cy="605"/><circle cx="422" cy="605"/><circle cx="373" cy="597"/><circle cx="449" cy="606"/><circle cx="487" cy="604"/><circle cx="294" cy="599"/><circle cx="436" cy="595"/><circle cx="334" cy="600"/><circle cx="463" cy="595"/><circle cx="331" cy="603"/><circle cx="264" cy="599"/><circle cx="448" cy="601"/><circle cx="449" cy="598"/><circle cx="442" cy="597"/><circle cx="421" cy="605"/><circle cx="278" cy="599"/><circle cx="346" cy="607"/><circle cx="280" cy="600"/><circle cx="513" cy="596"/><circle cx="503" cy="596"/><circle cx="399" cy="601"/><circle cx="434" cy="599"/><circle cx="381" cy="606"/><circle cx="303" cy="607"/><circle cx="286" cy="597"/><circle cx="319" cy="602"/><circle cx="340" cy="601"/><circle cx="277" cy="599"/><circle cx="264" cy="596"/><circle cx="366" cy="594"/><circle cx="335" cy="591"/><circle cx="382" cy="591"/><circle cx="372" cy="593"/><circle cx="399" cy="591"/><circle cx="318" cy="591"/><circle cx="410" cy="595"/><circle cx="316" cy="592"/><circle cx="402" cy="593"/><circle cx="282" cy="594"/><circle cx="320" cy="596"/><circle cx="272" cy="596"/><circle cx="402" cy="591"/><circle cx="369" cy="596"/><circle cx="381" cy="597"/><circle cx="336" cy="595"/><circle cx="355" cy="594"/><circle cx="283" cy="594"/><circle cx="345" cy="593"/><circle cx="377" cy="597"/><circle cx="342" cy="593"/><circle cx="342" cy="596"/><circle cx="310" cy="596"/><circle cx="366" cy="595"/><circle cx="356" cy="591"/><circle cx="364" cy="597"/><circle cx="367" cy="596"/><circle cx="285" cy="594"/><circle cx="375" cy="597"/><circle cx="276" cy="592"/><circle cx="300" cy="592"/><circle cx="364" cy="593"/><circle cx="407" cy="595"/><circle cx="372" cy="597"/><circle cx="398" cy="591"/><circle cx="329" cy="595"/><circle cx="376" cy="597"/><circle cx="295" cy="594"/><circle cx="404" cy="592"/><circle cx="269" cy="594"/><circle cx="290" cy="591"/><circle cx="324" cy="595"/><circle cx="364" cy="597"/><circle cx="307" cy="593"/><circle cx="404" cy="591"/><circle cx="316" cy="582"/><circle cx="323" cy="581"/><circle cx="328" cy="581"/><circle cx="340" cy="581"/><circle cx="323" cy="581"/><circle cx="313" cy="578"/><circle cx="308" cy="587"/><circle cx="296" cy="582"/><circle cx="348" cy="584"/><circle cx="316" cy="584"/><circle cx="297" cy="575"/><circle cx="324" cy="586"/><circle cx="324" cy="585"/><circle cx="313" cy="583"/><circle cx="344" cy="578"/><circle cx="334" cy="580"/><circle cx="303" cy="586"/><circle cx="307" cy="587"/><circle cx="338" cy="586"/><circle cx="313" cy="583"/><circle cx="294" cy="584"/><circle cx="311" cy="580"/><circle cx="322" cy="581"/><circle cx="331" cy="578"/><circle cx="342" cy="574"/><circle cx="339" cy="581"/><circle cx="317" cy="586"/><circle cx="336" cy="586"/><circle cx="362" cy="588"/><circle cx="375" cy="589"/><circle cx="298" cy="454"/><circle cx="301" cy="454"/><circle cx="304" cy="455"/><circle cx="311" cy="458"/><circle cx="312" cy="461"/><circle cx="302" cy="457"/><circle cx="296" cy="469"/><circle cx="307" cy="453"/><circle cx="298" cy="529"/><circle cx="301" cy="518"/><circle cx="297" cy="522"/><circle cx="295" cy="533"/><circle cx="297" cy="531"/><circle cx="297" cy="522"/><circle cx="298" cy="524"/><circle cx="308" cy="515"/><circle cx="311" cy="518"/><circle cx="310" cy="521"/><circle cx="342" cy="536"/><circle cx="316" cy="536"/><circle cx="341" cy="534"/><circle cx="335" cy="536"/><circle cx="337" cy="536"/><circle cx="325" cy="534"/><circle cx="323" cy="536"/><circle cx="330" cy="537"/><circle cx="327" cy="539"/><circle cx="329" cy="534"/><circle cx="332" cy="535"/><circle cx="335" cy="534"/><circle cx="313" cy="536"/><circle cx="329" cy="535"/><circle cx="334" cy="535"/><circle cx="353" cy="538"/><circle cx="341" cy="536"/><circle cx="329" cy="536"/><circle cx="330" cy="533"/><circle cx="340" cy="532"/><circle cx="316" cy="534"/><circle cx="322" cy="537"/><circle cx="322" cy="535"/><circle cx="317" cy="533"/><circle cx="310" cy="537"/><circle cx="328" cy="535"/><circle cx="344" cy="545"/><circle cx="350" cy="550"/><circle cx="356" cy="552"/><circle cx="362" cy="553"/><circle cx="360" cy="550"/><circle cx="364" cy="563"/><circle cx="369" cy="571"/><circle cx="378" cy="571"/><circle cx="383" cy="570"/><circle cx="392" cy="571"/><circle cx="401" cy="582"/><circle cx="381" cy="573"/><circle cx="306" cy="565"/><circle cx="295" cy="563"/><circle cx="306" cy="567"/><circle cx="299" cy="566"/><circle cx="308" cy="566"/><circle cx="301" cy="566"/><circle cx="305" cy="563"/><circle cx="302" cy="564"/><circle cx="293" cy="564"/></g>
<circle cx="308.3" cy="453.7" fill="#f3a02b" stroke="#e8212b" stroke-width="2"/>
</g>
<g clip-path="url(#cA4)" fill="none" stroke-width="1.1">
<g stroke="#e62330"><circle cx="306" cy="655"/><circle cx="308" cy="661"/><circle cx="308" cy="657"/><circle cx="304" cy="661"/><circle cx="305" cy="662"/><circle cx="306" cy="659"/><circle cx="306" cy="659"/><circle cx="309" cy="660"/><circle cx="305" cy="663"/><circle cx="309" cy="659"/><circle cx="305" cy="656"/><circle cx="305" cy="656"/><circle cx="308" cy="658"/><circle cx="306" cy="658"/><circle cx="310" cy="671"/><circle cx="315" cy="653"/><circle cx="306" cy="659"/><circle cx="303" cy="686"/><circle cx="299" cy="654"/><circle cx="303" cy="660"/><circle cx="310" cy="677"/><circle cx="300" cy="682"/><circle cx="299" cy="651"/><circle cx="298" cy="672"/><circle cx="311" cy="678"/><circle cx="298" cy="664"/><circle cx="312" cy="674"/><circle cx="310" cy="655"/><circle cx="311" cy="656"/><circle cx="295" cy="668"/><circle cx="308" cy="674"/><circle cx="305" cy="656"/><circle cx="309" cy="706"/><circle cx="332" cy="749"/><circle cx="310" cy="747"/><circle cx="325" cy="752"/><circle cx="348" cy="754"/><circle cx="332" cy="748"/><circle cx="343" cy="752"/><circle cx="347" cy="747"/><circle cx="349" cy="750"/><circle cx="335" cy="747"/><circle cx="346" cy="746"/><circle cx="337" cy="754"/><circle cx="341" cy="747"/><circle cx="348" cy="753"/><circle cx="348" cy="752"/><circle cx="347" cy="747"/><circle cx="318" cy="747"/><circle cx="328" cy="746"/><circle cx="345" cy="753"/><circle cx="323" cy="747"/><circle cx="315" cy="747"/><circle cx="320" cy="748"/><circle cx="337" cy="745"/><circle cx="331" cy="752"/><circle cx="319" cy="751"/><circle cx="320" cy="753"/><circle cx="329" cy="748"/><circle cx="346" cy="749"/><circle cx="325" cy="746"/><circle cx="314" cy="748"/><circle cx="311" cy="753"/><circle cx="345" cy="753"/><circle cx="328" cy="748"/><circle cx="321" cy="746"/><circle cx="321" cy="748"/><circle cx="329" cy="746"/><circle cx="330" cy="749"/><circle cx="315" cy="750"/><circle cx="345" cy="752"/><circle cx="331" cy="747"/><circle cx="338" cy="747"/><circle cx="345" cy="762"/><circle cx="318" cy="768"/><circle cx="319" cy="762"/><circle cx="339" cy="763"/><circle cx="326" cy="770"/><circle cx="346" cy="771"/><circle cx="333" cy="763"/><circle cx="334" cy="763"/><circle cx="350" cy="762"/><circle cx="344" cy="768"/><circle cx="321" cy="768"/><circle cx="339" cy="768"/><circle cx="331" cy="760"/><circle cx="330" cy="770"/><circle cx="348" cy="762"/><circle cx="337" cy="759"/><circle cx="340" cy="766"/><circle cx="326" cy="762"/><circle cx="313" cy="761"/><circle cx="328" cy="764"/><circle cx="316" cy="767"/><circle cx="310" cy="761"/><circle cx="322" cy="761"/><circle cx="344" cy="770"/><circle cx="329" cy="763"/><circle cx="345" cy="768"/><circle cx="337" cy="770"/><circle cx="313" cy="766"/><circle cx="321" cy="770"/><circle cx="312" cy="769"/><circle cx="348" cy="759"/><circle cx="347" cy="765"/><circle cx="347" cy="764"/><circle cx="351" cy="762"/><circle cx="318" cy="766"/><circle cx="350" cy="762"/><circle cx="338" cy="762"/><circle cx="325" cy="766"/><circle cx="342" cy="765"/><circle cx="348" cy="767"/><circle cx="298" cy="752"/><circle cx="297" cy="755"/><circle cx="295" cy="759"/><circle cx="296" cy="761"/><circle cx="297" cy="765"/><circle cx="295" cy="769"/><circle cx="295" cy="774"/><circle cx="298" cy="778"/><circle cx="296" cy="783"/><circle cx="298" cy="788"/><circle cx="296" cy="790"/><circle cx="297" cy="792"/><circle cx="311" cy="775"/><circle cx="315" cy="778"/><circle cx="307" cy="780"/><circle cx="309" cy="775"/><circle cx="308" cy="779"/><circle cx="314" cy="775"/><circle cx="319" cy="777"/><circle cx="309" cy="781"/><circle cx="343" cy="771"/><circle cx="346" cy="771"/><circle cx="350" cy="773"/><circle cx="354" cy="771"/><circle cx="356" cy="774"/><circle cx="357" cy="775"/><circle cx="359" cy="775"/><circle cx="364" cy="780"/><circle cx="363" cy="779"/><circle cx="365" cy="781"/><circle cx="363" cy="789"/><circle cx="365" cy="789"/><circle cx="365" cy="789"/><circle cx="364" cy="794"/><circle cx="363" cy="797"/><circle cx="364" cy="799"/><circle cx="362" cy="798"/><circle cx="364" cy="805"/><circle cx="368" cy="804"/><circle cx="374" cy="806"/><circle cx="373" cy="803"/><circle cx="379" cy="804"/><circle cx="378" cy="803"/><circle cx="380" cy="805"/><circle cx="385" cy="801"/><circle cx="387" cy="798"/><circle cx="391" cy="798"/><circle cx="391" cy="799"/><circle cx="310" cy="797"/><circle cx="312" cy="801"/><circle cx="311" cy="802"/><circle cx="311" cy="805"/><circle cx="310" cy="812"/><circle cx="312" cy="812"/><circle cx="310" cy="817"/><circle cx="313" cy="820"/><circle cx="312" cy="824"/><circle cx="314" cy="824"/><circle cx="340" cy="820"/><circle cx="362" cy="832"/><circle cx="344" cy="849"/><circle cx="349" cy="804"/><circle cx="341" cy="817"/><circle cx="330" cy="832"/><circle cx="350" cy="836"/><circle cx="368" cy="810"/><circle cx="336" cy="832"/><circle cx="359" cy="835"/><circle cx="325" cy="840"/><circle cx="334" cy="803"/><circle cx="371" cy="805"/><circle cx="370" cy="810"/><circle cx="333" cy="847"/><circle cx="359" cy="849"/><circle cx="324" cy="835"/><circle cx="344" cy="813"/><circle cx="344" cy="841"/><circle cx="346" cy="848"/><circle cx="369" cy="831"/><circle cx="328" cy="806"/><circle cx="349" cy="842"/><circle cx="372" cy="837"/><circle cx="322" cy="847"/><circle cx="352" cy="805"/><circle cx="357" cy="848"/><circle cx="336" cy="829"/><circle cx="354" cy="831"/><circle cx="339" cy="828"/><circle cx="368" cy="828"/><circle cx="331" cy="829"/><circle cx="359" cy="803"/><circle cx="365" cy="824"/><circle cx="333" cy="810"/><circle cx="326" cy="844"/><circle cx="363" cy="821"/><circle cx="372" cy="810"/><circle cx="322" cy="842"/><circle cx="360" cy="808"/><circle cx="338" cy="803"/><circle cx="350" cy="827"/><circle cx="354" cy="843"/><circle cx="365" cy="817"/><circle cx="343" cy="807"/><circle cx="351" cy="819"/><circle cx="357" cy="815"/><circle cx="340" cy="833"/><circle cx="330" cy="811"/><circle cx="350" cy="834"/><circle cx="328" cy="820"/><circle cx="345" cy="820"/><circle cx="326" cy="835"/><circle cx="357" cy="812"/><circle cx="349" cy="842"/><circle cx="401" cy="821"/><circle cx="403" cy="826"/><circle cx="401" cy="832"/><circle cx="390" cy="849"/><circle cx="390" cy="854"/><circle cx="328" cy="847"/><circle cx="328" cy="857"/><circle cx="407" cy="843"/><circle cx="406" cy="845"/><circle cx="411" cy="841"/><circle cx="407" cy="843"/><circle cx="407" cy="842"/><circle cx="409" cy="845"/><circle cx="404" cy="842"/><circle cx="411" cy="840"/><circle cx="409" cy="843"/><circle cx="403" cy="843"/><circle cx="405" cy="844"/><circle cx="409" cy="842"/><circle cx="408" cy="843"/><circle cx="409" cy="839"/><circle cx="398" cy="844"/><circle cx="400" cy="846"/><circle cx="401" cy="842"/><circle cx="403" cy="840"/><circle cx="410" cy="841"/><circle cx="407" cy="838"/><circle cx="409" cy="842"/><circle cx="412" cy="844"/><circle cx="415" cy="843"/><circle cx="414" cy="843"/><circle cx="415" cy="842"/><circle cx="416" cy="846"/><circle cx="420" cy="841"/><circle cx="420" cy="844"/><circle cx="419" cy="846"/><circle cx="421" cy="845"/><circle cx="427" cy="843"/><circle cx="428" cy="846"/><circle cx="427" cy="846"/><circle cx="433" cy="847"/><circle cx="429" cy="839"/><circle cx="432" cy="843"/><circle cx="437" cy="844"/><circle cx="440" cy="842"/><circle cx="436" cy="846"/><circle cx="437" cy="849"/><circle cx="439" cy="847"/><circle cx="443" cy="849"/><circle cx="449" cy="846"/><circle cx="447" cy="847"/><circle cx="447" cy="848"/><circle cx="446" cy="844"/><circle cx="448" cy="847"/><circle cx="456" cy="847"/><circle cx="453" cy="846"/><circle cx="459" cy="846"/><circle cx="456" cy="847"/><circle cx="455" cy="847"/><circle cx="460" cy="847"/><circle cx="460" cy="852"/><circle cx="466" cy="850"/><circle cx="468" cy="846"/><circle cx="467" cy="848"/><circle cx="468" cy="850"/><circle cx="470" cy="852"/><circle cx="472" cy="850"/><circle cx="476" cy="850"/><circle cx="473" cy="851"/><circle cx="475" cy="853"/><circle cx="483" cy="848"/><circle cx="482" cy="849"/><circle cx="478" cy="852"/><circle cx="486" cy="855"/><circle cx="486" cy="849"/><circle cx="489" cy="851"/><circle cx="489" cy="853"/><circle cx="488" cy="853"/><circle cx="491" cy="848"/><circle cx="495" cy="848"/><circle cx="493" cy="853"/><circle cx="495" cy="854"/><circle cx="495" cy="853"/><circle cx="502" cy="852"/><circle cx="500" cy="852"/><circle cx="500" cy="852"/><circle cx="504" cy="851"/><circle cx="508" cy="855"/><circle cx="508" cy="855"/><circle cx="513" cy="852"/><circle cx="516" cy="852"/><circle cx="475" cy="857"/><circle cx="486" cy="860"/><circle cx="482" cy="851"/><circle cx="507" cy="873"/><circle cx="490" cy="859"/><circle cx="491" cy="864"/><circle cx="480" cy="869"/><circle cx="474" cy="859"/><circle cx="503" cy="869"/><circle cx="471" cy="858"/><circle cx="487" cy="853"/><circle cx="498" cy="866"/><circle cx="479" cy="858"/><circle cx="470" cy="854"/><circle cx="490" cy="864"/><circle cx="503" cy="871"/><circle cx="498" cy="865"/><circle cx="473" cy="861"/><circle cx="506" cy="870"/><circle cx="498" cy="873"/><circle cx="503" cy="856"/><circle cx="506" cy="876"/><circle cx="491" cy="865"/><circle cx="503" cy="871"/><circle cx="506" cy="862"/><circle cx="505" cy="861"/><circle cx="483" cy="862"/><circle cx="491" cy="849"/><circle cx="473" cy="872"/><circle cx="463" cy="873"/><circle cx="507" cy="862"/><circle cx="505" cy="874"/><circle cx="480" cy="870"/><circle cx="471" cy="860"/><circle cx="470" cy="857"/><circle cx="510" cy="866"/><circle cx="477" cy="851"/><circle cx="504" cy="875"/><circle cx="511" cy="850"/><circle cx="501" cy="857"/><circle cx="471" cy="862"/><circle cx="476" cy="874"/><circle cx="469" cy="859"/><circle cx="469" cy="869"/><circle cx="486" cy="862"/><circle cx="506" cy="865"/><circle cx="487" cy="873"/><circle cx="491" cy="874"/><circle cx="493" cy="869"/><circle cx="488" cy="852"/><circle cx="490" cy="873"/><circle cx="499" cy="875"/><circle cx="474" cy="873"/><circle cx="469" cy="849"/><circle cx="463" cy="854"/><circle cx="472" cy="870"/><circle cx="487" cy="873"/><circle cx="479" cy="853"/><circle cx="476" cy="854"/><circle cx="500" cy="875"/><circle cx="166" cy="871"/><circle cx="168" cy="873"/><circle cx="198" cy="875"/><circle cx="155" cy="870"/><circle cx="157" cy="865"/><circle cx="114" cy="875"/><circle cx="155" cy="865"/><circle cx="110" cy="863"/><circle cx="153" cy="871"/><circle cx="207" cy="874"/><circle cx="150" cy="872"/><circle cx="108" cy="865"/><circle cx="154" cy="872"/><circle cx="181" cy="877"/><circle cx="146" cy="869"/><circle cx="121" cy="867"/><circle cx="127" cy="875"/><circle cx="175" cy="875"/><circle cx="113" cy="870"/><circle cx="178" cy="866"/><circle cx="165" cy="863"/><circle cx="177" cy="872"/><circle cx="177" cy="863"/><circle cx="166" cy="868"/><circle cx="131" cy="878"/><circle cx="164" cy="873"/><circle cx="160" cy="876"/><circle cx="124" cy="870"/><circle cx="183" cy="865"/><circle cx="122" cy="870"/><circle cx="165" cy="876"/><circle cx="177" cy="866"/><circle cx="142" cy="875"/><circle cx="124" cy="867"/><circle cx="141" cy="872"/><circle cx="185" cy="865"/><circle cx="154" cy="876"/><circle cx="179" cy="876"/><circle cx="200" cy="871"/><circle cx="136" cy="867"/><circle cx="374" cy="878"/><circle cx="300" cy="876"/><circle cx="293" cy="868"/><circle cx="233" cy="870"/><circle cx="457" cy="871"/><circle cx="401" cy="865"/><circle cx="310" cy="872"/><circle cx="221" cy="868"/><circle cx="459" cy="866"/><circle cx="450" cy="874"/><circle cx="285" cy="867"/><circle cx="416" cy="873"/><circle cx="319" cy="877"/><circle cx="379" cy="879"/><circle cx="319" cy="871"/><circle cx="464" cy="869"/><circle cx="444" cy="876"/><circle cx="412" cy="873"/><circle cx="475" cy="867"/><circle cx="502" cy="878"/><circle cx="320" cy="864"/><circle cx="514" cy="878"/><circle cx="407" cy="879"/><circle cx="263" cy="869"/><circle cx="334" cy="867"/><circle cx="269" cy="878"/><circle cx="369" cy="870"/><circle cx="338" cy="875"/><circle cx="425" cy="870"/><circle cx="247" cy="869"/><circle cx="306" cy="867"/><circle cx="391" cy="879"/><circle cx="389" cy="865"/><circle cx="258" cy="879"/><circle cx="507" cy="870"/><circle cx="352" cy="868"/><circle cx="419" cy="878"/><circle cx="391" cy="875"/><circle cx="220" cy="878"/><circle cx="381" cy="865"/><circle cx="316" cy="876"/><circle cx="278" cy="877"/><circle cx="399" cy="874"/><circle cx="482" cy="878"/><circle cx="311" cy="866"/><circle cx="423" cy="876"/><circle cx="298" cy="870"/><circle cx="470" cy="867"/><circle cx="246" cy="879"/><circle cx="220" cy="867"/><circle cx="223" cy="871"/><circle cx="423" cy="867"/><circle cx="255" cy="872"/><circle cx="280" cy="873"/><circle cx="344" cy="868"/><circle cx="459" cy="868"/><circle cx="383" cy="865"/><circle cx="476" cy="867"/><circle cx="413" cy="880"/><circle cx="282" cy="875"/><circle cx="238" cy="879"/><circle cx="413" cy="875"/><circle cx="229" cy="870"/><circle cx="394" cy="868"/><circle cx="441" cy="873"/><circle cx="280" cy="878"/><circle cx="409" cy="868"/><circle cx="320" cy="875"/><circle cx="407" cy="871"/><circle cx="415" cy="865"/><circle cx="285" cy="865"/><circle cx="421" cy="875"/><circle cx="427" cy="874"/><circle cx="317" cy="872"/><circle cx="343" cy="866"/><circle cx="458" cy="866"/><circle cx="300" cy="876"/><circle cx="473" cy="865"/><circle cx="445" cy="868"/><circle cx="488" cy="866"/><circle cx="511" cy="868"/><circle cx="293" cy="877"/><circle cx="316" cy="867"/><circle cx="307" cy="879"/><circle cx="381" cy="872"/><circle cx="384" cy="866"/><circle cx="385" cy="875"/><circle cx="217" cy="867"/><circle cx="492" cy="872"/><circle cx="295" cy="874"/><circle cx="334" cy="865"/><circle cx="500" cy="869"/><circle cx="355" cy="870"/><circle cx="457" cy="870"/><circle cx="316" cy="871"/><circle cx="506" cy="878"/><circle cx="233" cy="879"/><circle cx="394" cy="866"/><circle cx="314" cy="875"/><circle cx="495" cy="876"/><circle cx="319" cy="872"/><circle cx="446" cy="873"/><circle cx="376" cy="865"/><circle cx="267" cy="866"/><circle cx="283" cy="875"/><circle cx="380" cy="872"/><circle cx="382" cy="867"/><circle cx="266" cy="874"/><circle cx="506" cy="867"/><circle cx="375" cy="867"/><circle cx="235" cy="879"/><circle cx="448" cy="877"/><circle cx="411" cy="865"/><circle cx="323" cy="880"/><circle cx="359" cy="875"/><circle cx="502" cy="875"/><circle cx="271" cy="878"/><circle cx="436" cy="868"/><circle cx="229" cy="869"/><circle cx="343" cy="868"/><circle cx="330" cy="871"/><circle cx="280" cy="878"/><circle cx="407" cy="879"/><circle cx="401" cy="867"/><circle cx="237" cy="869"/><circle cx="380" cy="878"/><circle cx="459" cy="879"/><circle cx="443" cy="872"/><circle cx="323" cy="866"/><circle cx="219" cy="876"/><circle cx="399" cy="868"/><circle cx="252" cy="864"/><circle cx="353" cy="868"/><circle cx="471" cy="865"/><circle cx="362" cy="871"/><circle cx="415" cy="867"/><circle cx="392" cy="868"/><circle cx="335" cy="868"/><circle cx="461" cy="872"/><circle cx="221" cy="872"/><circle cx="469" cy="866"/><circle cx="467" cy="875"/><circle cx="439" cy="876"/><circle cx="226" cy="870"/><circle cx="465" cy="875"/><circle cx="441" cy="874"/><circle cx="330" cy="877"/><circle cx="257" cy="877"/><circle cx="463" cy="872"/><circle cx="393" cy="875"/><circle cx="223" cy="866"/><circle cx="456" cy="868"/><circle cx="338" cy="876"/><circle cx="420" cy="865"/><circle cx="335" cy="868"/><circle cx="350" cy="870"/><circle cx="325" cy="876"/><circle cx="358" cy="874"/><circle cx="278" cy="869"/><circle cx="355" cy="873"/><circle cx="343" cy="876"/><circle cx="325" cy="868"/><circle cx="307" cy="871"/><circle cx="469" cy="876"/><circle cx="281" cy="879"/><circle cx="481" cy="874"/><circle cx="370" cy="878"/><circle cx="417" cy="874"/><circle cx="230" cy="872"/><circle cx="468" cy="871"/><circle cx="497" cy="870"/><circle cx="343" cy="877"/><circle cx="346" cy="867"/><circle cx="401" cy="865"/><circle cx="248" cy="874"/><circle cx="376" cy="866"/><circle cx="339" cy="864"/><circle cx="471" cy="877"/><circle cx="241" cy="870"/><circle cx="290" cy="874"/><circle cx="369" cy="873"/><circle cx="473" cy="873"/><circle cx="387" cy="875"/><circle cx="286" cy="876"/><circle cx="493" cy="874"/><circle cx="488" cy="869"/><circle cx="311" cy="873"/><circle cx="234" cy="872"/><circle cx="247" cy="873"/><circle cx="498" cy="864"/><circle cx="317" cy="864"/><circle cx="319" cy="869"/><circle cx="218" cy="866"/><circle cx="401" cy="872"/><circle cx="421" cy="870"/><circle cx="429" cy="874"/><circle cx="446" cy="869"/><circle cx="362" cy="865"/><circle cx="311" cy="872"/><circle cx="463" cy="879"/><circle cx="436" cy="868"/><circle cx="336" cy="876"/><circle cx="483" cy="879"/><circle cx="327" cy="869"/><circle cx="438" cy="872"/><circle cx="466" cy="871"/><circle cx="261" cy="870"/><circle cx="380" cy="875"/><circle cx="329" cy="879"/><circle cx="260" cy="870"/><circle cx="277" cy="867"/><circle cx="472" cy="878"/><circle cx="500" cy="873"/><circle cx="229" cy="865"/><circle cx="288" cy="879"/><circle cx="315" cy="879"/><circle cx="330" cy="865"/><circle cx="450" cy="875"/><circle cx="390" cy="873"/><circle cx="425" cy="867"/><circle cx="319" cy="870"/><circle cx="253" cy="874"/><circle cx="381" cy="866"/><circle cx="474" cy="865"/><circle cx="329" cy="867"/><circle cx="443" cy="867"/><circle cx="236" cy="877"/><circle cx="325" cy="876"/><circle cx="429" cy="878"/><circle cx="320" cy="877"/><circle cx="371" cy="877"/><circle cx="299" cy="866"/><circle cx="406" cy="878"/><circle cx="308" cy="873"/><circle cx="389" cy="865"/><circle cx="400" cy="876"/><circle cx="308" cy="864"/><circle cx="318" cy="871"/><circle cx="396" cy="867"/><circle cx="231" cy="878"/><circle cx="381" cy="871"/><circle cx="449" cy="865"/><circle cx="420" cy="877"/><circle cx="334" cy="870"/><circle cx="491" cy="866"/><circle cx="406" cy="872"/><circle cx="365" cy="874"/><circle cx="389" cy="875"/><circle cx="291" cy="876"/><circle cx="349" cy="868"/><circle cx="264" cy="876"/><circle cx="491" cy="878"/><circle cx="451" cy="879"/><circle cx="506" cy="872"/><circle cx="433" cy="865"/><circle cx="226" cy="866"/><circle cx="403" cy="879"/><circle cx="358" cy="878"/><circle cx="275" cy="875"/><circle cx="406" cy="866"/><circle cx="309" cy="875"/><circle cx="374" cy="875"/><circle cx="366" cy="877"/><circle cx="392" cy="873"/><circle cx="464" cy="877"/><circle cx="409" cy="880"/><circle cx="406" cy="878"/><circle cx="374" cy="877"/><circle cx="323" cy="871"/><circle cx="419" cy="878"/><circle cx="470" cy="878"/><circle cx="409" cy="878"/><circle cx="512" cy="866"/><circle cx="301" cy="869"/><circle cx="357" cy="877"/><circle cx="480" cy="874"/><circle cx="235" cy="870"/><circle cx="422" cy="878"/><circle cx="260" cy="878"/><circle cx="455" cy="877"/><circle cx="410" cy="880"/><circle cx="435" cy="871"/><circle cx="509" cy="872"/><circle cx="506" cy="873"/><circle cx="447" cy="875"/><circle cx="224" cy="866"/><circle cx="480" cy="865"/><circle cx="346" cy="873"/><circle cx="472" cy="867"/><circle cx="316" cy="877"/><circle cx="345" cy="876"/><circle cx="259" cy="875"/><circle cx="362" cy="879"/><circle cx="343" cy="870"/><circle cx="308" cy="867"/><circle cx="404" cy="866"/><circle cx="311" cy="872"/><circle cx="471" cy="867"/><circle cx="263" cy="879"/><circle cx="429" cy="870"/><circle cx="241" cy="869"/><circle cx="273" cy="865"/><circle cx="314" cy="870"/><circle cx="434" cy="879"/><circle cx="295" cy="868"/><circle cx="280" cy="867"/><circle cx="430" cy="873"/><circle cx="267" cy="871"/><circle cx="333" cy="872"/><circle cx="441" cy="877"/><circle cx="460" cy="872"/><circle cx="439" cy="880"/><circle cx="498" cy="872"/><circle cx="469" cy="866"/><circle cx="363" cy="871"/><circle cx="353" cy="873"/><circle cx="495" cy="869"/><circle cx="337" cy="877"/><circle cx="370" cy="873"/><circle cx="486" cy="864"/><circle cx="348" cy="877"/><circle cx="371" cy="869"/><circle cx="248" cy="875"/><circle cx="398" cy="866"/><circle cx="217" cy="872"/><circle cx="382" cy="876"/><circle cx="395" cy="864"/><circle cx="425" cy="869"/><circle cx="427" cy="874"/><circle cx="456" cy="868"/><circle cx="428" cy="873"/><circle cx="432" cy="872"/><circle cx="371" cy="870"/><circle cx="425" cy="870"/><circle cx="448" cy="872"/><circle cx="459" cy="870"/><circle cx="449" cy="875"/><circle cx="505" cy="877"/><circle cx="495" cy="874"/><circle cx="445" cy="868"/><circle cx="437" cy="873"/><circle cx="372" cy="873"/><circle cx="436" cy="873"/><circle cx="514" cy="869"/><circle cx="442" cy="871"/><circle cx="412" cy="873"/><circle cx="498" cy="878"/><circle cx="387" cy="871"/><circle cx="453" cy="876"/><circle cx="453" cy="871"/><circle cx="465" cy="873"/><circle cx="432" cy="879"/><circle cx="402" cy="878"/><circle cx="466" cy="876"/><circle cx="415" cy="871"/><circle cx="467" cy="874"/><circle cx="372" cy="869"/><circle cx="468" cy="868"/><circle cx="435" cy="869"/><circle cx="466" cy="871"/><circle cx="456" cy="872"/><circle cx="487" cy="868"/><circle cx="510" cy="876"/><circle cx="362" cy="869"/><circle cx="434" cy="878"/><circle cx="414" cy="868"/><circle cx="484" cy="870"/><circle cx="397" cy="877"/><circle cx="451" cy="878"/><circle cx="486" cy="868"/><circle cx="457" cy="877"/><circle cx="448" cy="877"/><circle cx="468" cy="874"/><circle cx="493" cy="876"/><circle cx="400" cy="875"/><circle cx="497" cy="875"/><circle cx="496" cy="869"/><circle cx="396" cy="872"/><circle cx="452" cy="870"/><circle cx="375" cy="876"/><circle cx="433" cy="870"/><circle cx="509" cy="868"/><circle cx="466" cy="879"/><circle cx="475" cy="873"/><circle cx="398" cy="876"/><circle cx="386" cy="879"/><circle cx="443" cy="872"/><circle cx="431" cy="879"/><circle cx="378" cy="876"/><circle cx="383" cy="871"/><circle cx="399" cy="876"/><circle cx="458" cy="871"/><circle cx="441" cy="878"/><circle cx="369" cy="873"/><circle cx="415" cy="877"/><circle cx="492" cy="878"/><circle cx="420" cy="878"/><circle cx="477" cy="874"/><circle cx="500" cy="868"/><circle cx="413" cy="877"/><circle cx="462" cy="879"/><circle cx="495" cy="875"/><circle cx="427" cy="873"/><circle cx="505" cy="871"/><circle cx="399" cy="868"/><circle cx="374" cy="878"/><circle cx="408" cy="872"/><circle cx="506" cy="871"/><circle cx="495" cy="872"/><circle cx="491" cy="879"/><circle cx="442" cy="879"/><circle cx="410" cy="871"/><circle cx="478" cy="877"/><circle cx="504" cy="873"/><circle cx="501" cy="868"/><circle cx="507" cy="870"/><circle cx="466" cy="879"/><circle cx="494" cy="875"/><circle cx="478" cy="873"/><circle cx="461" cy="870"/><circle cx="383" cy="877"/><circle cx="444" cy="878"/><circle cx="371" cy="870"/><circle cx="472" cy="874"/><circle cx="383" cy="876"/><circle cx="444" cy="871"/><circle cx="399" cy="875"/><circle cx="512" cy="872"/><circle cx="395" cy="875"/><circle cx="466" cy="876"/><circle cx="426" cy="878"/><circle cx="405" cy="878"/><circle cx="502" cy="879"/><circle cx="442" cy="870"/><circle cx="464" cy="868"/><circle cx="475" cy="871"/><circle cx="495" cy="868"/><circle cx="504" cy="873"/><circle cx="409" cy="875"/><circle cx="513" cy="878"/><circle cx="428" cy="874"/><circle cx="379" cy="875"/><circle cx="390" cy="869"/><circle cx="433" cy="868"/><circle cx="416" cy="874"/><circle cx="487" cy="871"/><circle cx="465" cy="871"/><circle cx="411" cy="871"/><circle cx="427" cy="868"/><circle cx="443" cy="878"/><circle cx="425" cy="875"/><circle cx="445" cy="874"/><circle cx="369" cy="868"/><circle cx="406" cy="878"/><circle cx="366" cy="875"/><circle cx="383" cy="868"/><circle cx="384" cy="876"/><circle cx="366" cy="873"/><circle cx="475" cy="876"/><circle cx="422" cy="879"/><circle cx="445" cy="870"/><circle cx="391" cy="878"/><circle cx="395" cy="872"/><circle cx="475" cy="875"/><circle cx="420" cy="870"/><circle cx="367" cy="873"/><circle cx="458" cy="877"/><circle cx="376" cy="872"/><circle cx="384" cy="878"/><circle cx="423" cy="874"/><circle cx="311" cy="860"/><circle cx="292" cy="866"/><circle cx="293" cy="859"/><circle cx="306" cy="869"/><circle cx="314" cy="862"/><circle cx="304" cy="843"/><circle cx="299" cy="868"/><circle cx="301" cy="866"/><circle cx="302" cy="846"/><circle cx="305" cy="871"/><circle cx="315" cy="859"/><circle cx="297" cy="874"/><circle cx="302" cy="851"/><circle cx="299" cy="847"/><circle cx="293" cy="852"/><circle cx="302" cy="870"/><circle cx="311" cy="858"/><circle cx="317" cy="846"/><circle cx="305" cy="873"/><circle cx="292" cy="845"/><circle cx="296" cy="845"/><circle cx="305" cy="860"/><circle cx="318" cy="852"/><circle cx="317" cy="846"/><circle cx="294" cy="862"/><circle cx="314" cy="861"/><circle cx="300" cy="857"/><circle cx="316" cy="850"/><circle cx="316" cy="860"/><circle cx="298" cy="845"/><circle cx="308" cy="861"/><circle cx="307" cy="848"/><circle cx="303" cy="863"/><circle cx="304" cy="841"/><circle cx="309" cy="846"/><circle cx="315" cy="851"/><circle cx="306" cy="865"/><circle cx="307" cy="844"/><circle cx="305" cy="873"/><circle cx="304" cy="842"/><circle cx="315" cy="861"/><circle cx="300" cy="872"/><circle cx="297" cy="863"/><circle cx="300" cy="846"/><circle cx="297" cy="859"/><circle cx="311" cy="851"/><circle cx="316" cy="858"/><circle cx="304" cy="861"/><circle cx="306" cy="865"/><circle cx="316" cy="869"/><circle cx="262" cy="866"/><circle cx="266" cy="865"/><circle cx="262" cy="852"/><circle cx="271" cy="852"/><circle cx="279" cy="861"/><circle cx="278" cy="870"/><circle cx="263" cy="860"/><circle cx="265" cy="854"/><circle cx="272" cy="865"/><circle cx="281" cy="860"/><circle cx="283" cy="857"/><circle cx="270" cy="858"/><circle cx="286" cy="865"/><circle cx="274" cy="856"/><circle cx="273" cy="854"/><circle cx="276" cy="848"/><circle cx="287" cy="853"/><circle cx="268" cy="868"/><circle cx="263" cy="859"/><circle cx="267" cy="851"/><circle cx="267" cy="852"/><circle cx="272" cy="868"/><circle cx="287" cy="863"/><circle cx="270" cy="855"/><circle cx="268" cy="856"/><circle cx="284" cy="855"/><circle cx="283" cy="859"/><circle cx="261" cy="857"/><circle cx="273" cy="864"/><circle cx="268" cy="854"/><circle cx="266" cy="866"/><circle cx="262" cy="867"/><circle cx="276" cy="863"/><circle cx="272" cy="864"/><circle cx="280" cy="863"/></g>
</g>
<g clip-path="url(#cB1)" fill="none" stroke-width="1.1">
<g stroke="#2456a5"><circle cx="701" cy="62"/><circle cx="702" cy="65"/><circle cx="704" cy="66"/><circle cx="705" cy="65"/><circle cx="707" cy="63"/><circle cx="709" cy="64"/><circle cx="709" cy="64"/><circle cx="713" cy="63"/><circle cx="716" cy="68"/><circle cx="704" cy="66"/><circle cx="700" cy="94"/><circle cx="702" cy="104"/><circle cx="718" cy="101"/><circle cx="718" cy="104"/><circle cx="777" cy="94"/><circle cx="720" cy="121"/><circle cx="725" cy="121"/><circle cx="722" cy="123"/><circle cx="750" cy="117"/><circle cx="752" cy="119"/><circle cx="761" cy="111"/><circle cx="752" cy="118"/><circle cx="674" cy="142"/><circle cx="672" cy="138"/><circle cx="676" cy="135"/><circle cx="678" cy="137"/><circle cx="679" cy="134"/><circle cx="678" cy="132"/><circle cx="683" cy="132"/><circle cx="684" cy="126"/><circle cx="688" cy="124"/><circle cx="689" cy="123"/><circle cx="691" cy="125"/><circle cx="692" cy="119"/><circle cx="694" cy="119"/><circle cx="720" cy="133"/><circle cx="722" cy="133"/><circle cx="721" cy="136"/><circle cx="756" cy="135"/><circle cx="772" cy="142"/><circle cx="700" cy="147"/><circle cx="709" cy="147"/><circle cx="714" cy="146"/><circle cx="717" cy="149"/><circle cx="723" cy="160"/><circle cx="721" cy="159"/><circle cx="728" cy="160"/><circle cx="724" cy="160"/><circle cx="729" cy="158"/><circle cx="725" cy="163"/><circle cx="725" cy="158"/><circle cx="724" cy="158"/><circle cx="725" cy="157"/><circle cx="724" cy="164"/><circle cx="698" cy="156"/><circle cx="668" cy="158"/><circle cx="749" cy="156"/><circle cx="761" cy="153"/><circle cx="699" cy="165"/><circle cx="702" cy="168"/><circle cx="677" cy="165"/><circle cx="679" cy="167"/><circle cx="705" cy="180"/><circle cx="702" cy="185"/><circle cx="762" cy="186"/><circle cx="726" cy="184"/><circle cx="712" cy="187"/><circle cx="730" cy="171"/><circle cx="723" cy="182"/><circle cx="684" cy="183"/><circle cx="743" cy="182"/><circle cx="728" cy="177"/><circle cx="728" cy="177"/><circle cx="724" cy="177"/><circle cx="681" cy="175"/><circle cx="723" cy="172"/><circle cx="727" cy="169"/><circle cx="677" cy="173"/><circle cx="654" cy="169"/><circle cx="715" cy="180"/><circle cx="737" cy="186"/><circle cx="703" cy="180"/><circle cx="666" cy="173"/><circle cx="657" cy="185"/><circle cx="752" cy="182"/><circle cx="773" cy="183"/><circle cx="779" cy="184"/><circle cx="669" cy="175"/><circle cx="703" cy="179"/><circle cx="754" cy="181"/><circle cx="707" cy="181"/><circle cx="778" cy="170"/><circle cx="667" cy="174"/><circle cx="673" cy="184"/><circle cx="762" cy="172"/><circle cx="658" cy="177"/><circle cx="675" cy="180"/><circle cx="778" cy="177"/><circle cx="726" cy="180"/><circle cx="664" cy="187"/><circle cx="667" cy="174"/><circle cx="729" cy="178"/><circle cx="651" cy="174"/><circle cx="740" cy="175"/><circle cx="656" cy="182"/><circle cx="661" cy="172"/><circle cx="672" cy="187"/><circle cx="727" cy="177"/><circle cx="748" cy="180"/><circle cx="775" cy="172"/><circle cx="688" cy="178"/><circle cx="684" cy="181"/><circle cx="699" cy="169"/><circle cx="716" cy="170"/><circle cx="750" cy="182"/><circle cx="748" cy="172"/><circle cx="713" cy="172"/><circle cx="745" cy="168"/><circle cx="759" cy="187"/><circle cx="761" cy="182"/><circle cx="732" cy="177"/><circle cx="726" cy="178"/><circle cx="699" cy="179"/><circle cx="666" cy="169"/><circle cx="689" cy="187"/><circle cx="733" cy="186"/><circle cx="747" cy="183"/><circle cx="717" cy="180"/><circle cx="653" cy="170"/><circle cx="651" cy="177"/><circle cx="654" cy="171"/><circle cx="663" cy="186"/><circle cx="689" cy="173"/><circle cx="759" cy="180"/><circle cx="693" cy="173"/><circle cx="771" cy="171"/><circle cx="655" cy="176"/><circle cx="744" cy="181"/><circle cx="661" cy="176"/><circle cx="725" cy="182"/><circle cx="744" cy="177"/><circle cx="751" cy="178"/><circle cx="665" cy="171"/><circle cx="666" cy="181"/><circle cx="651" cy="172"/><circle cx="784" cy="184"/><circle cx="717" cy="170"/><circle cx="679" cy="178"/><circle cx="682" cy="180"/><circle cx="685" cy="175"/><circle cx="680" cy="175"/><circle cx="687" cy="179"/><circle cx="684" cy="174"/><circle cx="671" cy="172"/><circle cx="676" cy="175"/><circle cx="678" cy="181"/><circle cx="678" cy="173"/><circle cx="677" cy="173"/><circle cx="664" cy="177"/><circle cx="684" cy="177"/><circle cx="667" cy="177"/><circle cx="668" cy="179"/><circle cx="755" cy="173"/><circle cx="762" cy="163"/><circle cx="755" cy="171"/><circle cx="769" cy="170"/><circle cx="756" cy="168"/><circle cx="761" cy="170"/><circle cx="757" cy="167"/><circle cx="774" cy="167"/><circle cx="758" cy="167"/><circle cx="763" cy="169"/><circle cx="773" cy="171"/><circle cx="757" cy="173"/><circle cx="620" cy="165"/><circle cx="625" cy="175"/><circle cx="627" cy="181"/><circle cx="631" cy="179"/><circle cx="634" cy="181"/><circle cx="629" cy="183"/><circle cx="628" cy="178"/><circle cx="624" cy="174"/><circle cx="796" cy="178"/><circle cx="806" cy="181"/><circle cx="821" cy="186"/><circle cx="828" cy="179"/><circle cx="834" cy="186"/><circle cx="841" cy="186"/><circle cx="846" cy="185"/><circle cx="849" cy="183"/><circle cx="852" cy="186"/><circle cx="854" cy="187"/><circle cx="857" cy="186"/><circle cx="860" cy="186"/><circle cx="871" cy="179"/><circle cx="872" cy="185"/><circle cx="877" cy="186"/><circle cx="884" cy="187"/><circle cx="932" cy="183"/><circle cx="948" cy="186"/><circle cx="996" cy="183"/></g>
<circle cx="714.2" cy="62.5" fill="#2456a5" stroke="#2456a5" stroke-width="2"/>
</g>
<g clip-path="url(#cB2)" fill="none" stroke-width="1.1">
<g stroke="#3a84c5"><circle cx="776" cy="270"/><circle cx="707" cy="283"/><circle cx="702" cy="292"/><circle cx="717" cy="289"/><circle cx="716" cy="293"/><circle cx="718" cy="296"/><circle cx="725" cy="304"/><circle cx="720" cy="300"/><circle cx="727" cy="300"/><circle cx="722" cy="305"/><circle cx="729" cy="302"/><circle cx="729" cy="302"/><circle cx="725" cy="302"/><circle cx="723" cy="305"/><circle cx="726" cy="304"/><circle cx="724" cy="302"/><circle cx="726" cy="303"/><circle cx="728" cy="304"/><circle cx="717" cy="300"/><circle cx="728" cy="303"/><circle cx="717" cy="323"/><circle cx="708" cy="319"/><circle cx="718" cy="315"/><circle cx="706" cy="316"/><circle cx="707" cy="317"/><circle cx="692" cy="316"/><circle cx="709" cy="319"/><circle cx="698" cy="317"/><circle cx="710" cy="316"/><circle cx="700" cy="320"/><circle cx="702" cy="319"/><circle cx="702" cy="316"/><circle cx="696" cy="323"/><circle cx="709" cy="318"/><circle cx="702" cy="315"/><circle cx="696" cy="317"/><circle cx="708" cy="318"/><circle cx="707" cy="321"/><circle cx="702" cy="310"/><circle cx="699" cy="313"/><circle cx="710" cy="311"/><circle cx="758" cy="303"/><circle cx="762" cy="305"/><circle cx="766" cy="305"/><circle cx="765" cy="298"/><circle cx="768" cy="300"/><circle cx="769" cy="295"/><circle cx="781" cy="308"/><circle cx="760" cy="322"/><circle cx="766" cy="327"/><circle cx="779" cy="322"/><circle cx="752" cy="328"/><circle cx="750" cy="335"/><circle cx="756" cy="336"/><circle cx="776" cy="335"/><circle cx="761" cy="345"/><circle cx="778" cy="349"/><circle cx="772" cy="353"/><circle cx="756" cy="357"/><circle cx="746" cy="350"/><circle cx="741" cy="352"/><circle cx="748" cy="349"/><circle cx="633" cy="334"/><circle cx="633" cy="370"/><circle cx="698" cy="347"/><circle cx="721" cy="345"/><circle cx="725" cy="347"/><circle cx="761" cy="368"/><circle cx="761" cy="372"/><circle cx="760" cy="374"/><circle cx="797" cy="368"/><circle cx="806" cy="345"/><circle cx="835" cy="366"/><circle cx="846" cy="342"/><circle cx="893" cy="367"/><circle cx="912" cy="372"/><circle cx="925" cy="362"/><circle cx="929" cy="372"/><circle cx="948" cy="367"/><circle cx="974" cy="341"/><circle cx="1002" cy="335"/><circle cx="661" cy="369"/><circle cx="667" cy="360"/><circle cx="693" cy="371"/><circle cx="702" cy="360"/><circle cx="704" cy="372"/><circle cx="711" cy="372"/><circle cx="716" cy="373"/><circle cx="720" cy="358"/><circle cx="724" cy="364"/><circle cx="729" cy="372"/><circle cx="690" cy="369"/><circle cx="669" cy="365"/><circle cx="692" cy="365"/><circle cx="683" cy="367"/><circle cx="678" cy="363"/><circle cx="688" cy="363"/><circle cx="677" cy="369"/><circle cx="667" cy="362"/><circle cx="689" cy="366"/><circle cx="671" cy="367"/><circle cx="673" cy="366"/><circle cx="682" cy="367"/><circle cx="674" cy="365"/><circle cx="670" cy="366"/><circle cx="816" cy="323"/><circle cx="817" cy="324"/><circle cx="817" cy="329"/><circle cx="820" cy="329"/><circle cx="822" cy="334"/><circle cx="825" cy="332"/><circle cx="824" cy="333"/><circle cx="826" cy="333"/><circle cx="830" cy="333"/><circle cx="832" cy="336"/><circle cx="854" cy="333"/><circle cx="854" cy="334"/><circle cx="859" cy="332"/><circle cx="855" cy="329"/><circle cx="862" cy="332"/><circle cx="863" cy="332"/><circle cx="863" cy="332"/><circle cx="865" cy="329"/><circle cx="867" cy="328"/><circle cx="868" cy="327"/><circle cx="867" cy="326"/><circle cx="870" cy="327"/><circle cx="872" cy="327"/><circle cx="875" cy="323"/><circle cx="874" cy="327"/><circle cx="874" cy="327"/><circle cx="877" cy="328"/><circle cx="878" cy="327"/><circle cx="877" cy="327"/><circle cx="881" cy="330"/><circle cx="883" cy="330"/><circle cx="882" cy="331"/><circle cx="886" cy="334"/><circle cx="882" cy="329"/><circle cx="886" cy="332"/><circle cx="889" cy="330"/><circle cx="889" cy="331"/><circle cx="893" cy="335"/><circle cx="894" cy="331"/><circle cx="895" cy="334"/><circle cx="897" cy="333"/><circle cx="896" cy="332"/><circle cx="897" cy="332"/><circle cx="902" cy="333"/><circle cx="903" cy="333"/><circle cx="903" cy="336"/><circle cx="908" cy="332"/><circle cx="908" cy="334"/><circle cx="910" cy="334"/><circle cx="912" cy="332"/><circle cx="915" cy="331"/><circle cx="916" cy="333"/><circle cx="916" cy="331"/><circle cx="919" cy="335"/><circle cx="919" cy="332"/><circle cx="920" cy="333"/><circle cx="921" cy="332"/><circle cx="924" cy="332"/><circle cx="925" cy="331"/><circle cx="926" cy="333"/><circle cx="928" cy="330"/><circle cx="931" cy="331"/><circle cx="932" cy="333"/><circle cx="932" cy="331"/><circle cx="935" cy="329"/><circle cx="937" cy="329"/><circle cx="938" cy="328"/><circle cx="938" cy="329"/><circle cx="941" cy="328"/><circle cx="945" cy="331"/><circle cx="944" cy="328"/><circle cx="944" cy="329"/><circle cx="948" cy="331"/><circle cx="949" cy="326"/><circle cx="951" cy="329"/><circle cx="951" cy="327"/><circle cx="953" cy="327"/><circle cx="956" cy="328"/><circle cx="957" cy="327"/><circle cx="957" cy="328"/><circle cx="959" cy="328"/><circle cx="963" cy="327"/><circle cx="963" cy="326"/><circle cx="966" cy="326"/><circle cx="964" cy="327"/><circle cx="926" cy="329"/><circle cx="917" cy="332"/><circle cx="914" cy="331"/><circle cx="910" cy="332"/><circle cx="927" cy="331"/><circle cx="926" cy="332"/><circle cx="930" cy="326"/><circle cx="917" cy="333"/><circle cx="921" cy="331"/><circle cx="929" cy="331"/><circle cx="912" cy="329"/><circle cx="921" cy="329"/><circle cx="929" cy="332"/><circle cx="922" cy="335"/><circle cx="911" cy="329"/><circle cx="980" cy="369"/><circle cx="984" cy="368"/><circle cx="985" cy="368"/><circle cx="991" cy="368"/><circle cx="993" cy="368"/><circle cx="996" cy="369"/><circle cx="1002" cy="370"/><circle cx="1002" cy="369"/><circle cx="1008" cy="368"/><circle cx="1015" cy="367"/></g>
<circle cx="761.4" cy="258.5" fill="#3a84c5" stroke="#3a84c5" stroke-width="2"/>
</g>
<g clip-path="url(#cB3)" fill="none" stroke-width="1.1">
<g stroke="#f3a02b"><circle cx="822" cy="457"/><circle cx="825" cy="458"/><circle cx="828" cy="459"/><circle cx="829" cy="458"/><circle cx="834" cy="458"/><circle cx="835" cy="459"/><circle cx="835" cy="457"/><circle cx="841" cy="457"/><circle cx="842" cy="459"/><circle cx="841" cy="462"/><circle cx="848" cy="462"/><circle cx="848" cy="458"/><circle cx="850" cy="460"/><circle cx="854" cy="458"/><circle cx="856" cy="461"/><circle cx="858" cy="461"/><circle cx="863" cy="462"/><circle cx="860" cy="464"/><circle cx="865" cy="464"/><circle cx="870" cy="463"/><circle cx="871" cy="462"/><circle cx="875" cy="463"/><circle cx="876" cy="462"/><circle cx="879" cy="464"/><circle cx="879" cy="461"/><circle cx="882" cy="462"/><circle cx="885" cy="463"/><circle cx="888" cy="463"/><circle cx="892" cy="463"/><circle cx="894" cy="464"/><circle cx="895" cy="462"/><circle cx="897" cy="462"/><circle cx="901" cy="463"/><circle cx="902" cy="463"/><circle cx="904" cy="464"/><circle cx="911" cy="464"/><circle cx="909" cy="462"/><circle cx="914" cy="464"/><circle cx="914" cy="463"/><circle cx="919" cy="465"/><circle cx="918" cy="465"/><circle cx="924" cy="463"/><circle cx="925" cy="467"/><circle cx="928" cy="465"/><circle cx="931" cy="465"/><circle cx="932" cy="466"/><circle cx="934" cy="466"/><circle cx="936" cy="464"/><circle cx="938" cy="464"/><circle cx="942" cy="465"/><circle cx="945" cy="467"/><circle cx="945" cy="467"/><circle cx="948" cy="466"/><circle cx="953" cy="465"/><circle cx="958" cy="465"/><circle cx="956" cy="466"/><circle cx="958" cy="467"/><circle cx="961" cy="464"/><circle cx="963" cy="468"/><circle cx="963" cy="469"/><circle cx="853" cy="461"/><circle cx="841" cy="461"/><circle cx="873" cy="457"/><circle cx="847" cy="458"/><circle cx="855" cy="463"/><circle cx="862" cy="461"/><circle cx="855" cy="459"/><circle cx="871" cy="457"/><circle cx="866" cy="457"/><circle cx="844" cy="462"/><circle cx="851" cy="457"/><circle cx="837" cy="462"/><circle cx="828" cy="457"/><circle cx="867" cy="464"/><circle cx="855" cy="458"/><circle cx="854" cy="459"/><circle cx="858" cy="459"/><circle cx="872" cy="458"/><circle cx="867" cy="462"/><circle cx="862" cy="461"/><circle cx="815" cy="474"/><circle cx="810" cy="472"/><circle cx="813" cy="473"/><circle cx="811" cy="480"/><circle cx="812" cy="476"/><circle cx="812" cy="476"/><circle cx="812" cy="465"/><circle cx="813" cy="481"/><circle cx="814" cy="470"/><circle cx="808" cy="478"/><circle cx="814" cy="515"/><circle cx="819" cy="513"/><circle cx="820" cy="516"/><circle cx="821" cy="514"/><circle cx="825" cy="516"/><circle cx="828" cy="516"/><circle cx="831" cy="516"/><circle cx="834" cy="518"/><circle cx="836" cy="518"/><circle cx="840" cy="520"/><circle cx="841" cy="521"/><circle cx="845" cy="522"/><circle cx="848" cy="516"/><circle cx="849" cy="519"/><circle cx="854" cy="520"/><circle cx="856" cy="517"/><circle cx="857" cy="515"/><circle cx="861" cy="515"/><circle cx="865" cy="515"/><circle cx="868" cy="513"/><circle cx="869" cy="518"/><circle cx="871" cy="516"/><circle cx="876" cy="514"/><circle cx="880" cy="517"/><circle cx="881" cy="517"/><circle cx="883" cy="515"/><circle cx="889" cy="514"/><circle cx="891" cy="515"/><circle cx="893" cy="518"/><circle cx="895" cy="514"/><circle cx="898" cy="515"/><circle cx="903" cy="514"/><circle cx="904" cy="515"/><circle cx="909" cy="512"/><circle cx="912" cy="512"/><circle cx="916" cy="513"/><circle cx="914" cy="515"/><circle cx="919" cy="514"/><circle cx="924" cy="514"/><circle cx="925" cy="515"/><circle cx="928" cy="513"/><circle cx="930" cy="512"/><circle cx="935" cy="514"/><circle cx="936" cy="513"/><circle cx="939" cy="511"/><circle cx="943" cy="517"/><circle cx="945" cy="515"/><circle cx="948" cy="513"/><circle cx="949" cy="515"/><circle cx="954" cy="514"/><circle cx="957" cy="511"/><circle cx="960" cy="515"/><circle cx="963" cy="515"/><circle cx="967" cy="512"/><circle cx="969" cy="512"/><circle cx="917" cy="516"/><circle cx="930" cy="517"/><circle cx="920" cy="515"/><circle cx="912" cy="518"/><circle cx="916" cy="513"/><circle cx="932" cy="516"/><circle cx="917" cy="514"/><circle cx="914" cy="512"/><circle cx="926" cy="520"/><circle cx="901" cy="512"/><circle cx="921" cy="518"/><circle cx="917" cy="515"/><circle cx="923" cy="515"/><circle cx="935" cy="511"/><circle cx="928" cy="515"/><circle cx="979" cy="501"/><circle cx="996" cy="500"/><circle cx="1002" cy="509"/><circle cx="1003" cy="513"/><circle cx="1016" cy="512"/><circle cx="1001" cy="528"/><circle cx="806" cy="526"/><circle cx="806" cy="529"/><circle cx="808" cy="534"/><circle cx="808" cy="534"/><circle cx="812" cy="539"/><circle cx="810" cy="547"/><circle cx="809" cy="560"/><circle cx="808" cy="563"/><circle cx="810" cy="556"/><circle cx="806" cy="559"/><circle cx="804" cy="554"/><circle cx="814" cy="568"/><circle cx="808" cy="562"/><circle cx="813" cy="559"/><circle cx="808" cy="558"/><circle cx="815" cy="570"/><circle cx="814" cy="568"/><circle cx="812" cy="561"/><circle cx="813" cy="564"/><circle cx="819" cy="576"/><circle cx="812" cy="564"/><circle cx="822" cy="568"/><circle cx="838" cy="555"/><circle cx="821" cy="565"/><circle cx="829" cy="576"/><circle cx="843" cy="560"/><circle cx="821" cy="560"/><circle cx="825" cy="560"/><circle cx="827" cy="572"/><circle cx="833" cy="578"/><circle cx="844" cy="566"/><circle cx="834" cy="567"/><circle cx="848" cy="565"/><circle cx="833" cy="558"/><circle cx="846" cy="575"/><circle cx="840" cy="575"/><circle cx="916" cy="578"/><circle cx="894" cy="553"/><circle cx="952" cy="576"/><circle cx="940" cy="570"/><circle cx="937" cy="554"/><circle cx="938" cy="580"/><circle cx="871" cy="561"/><circle cx="933" cy="565"/><circle cx="954" cy="558"/><circle cx="945" cy="568"/><circle cx="966" cy="573"/><circle cx="954" cy="562"/><circle cx="983" cy="564"/><circle cx="945" cy="563"/><circle cx="975" cy="575"/><circle cx="940" cy="582"/><circle cx="982" cy="564"/><circle cx="901" cy="563"/><circle cx="899" cy="562"/><circle cx="882" cy="576"/><circle cx="915" cy="579"/><circle cx="869" cy="562"/><circle cx="988" cy="580"/><circle cx="993" cy="583"/><circle cx="979" cy="573"/><circle cx="989" cy="558"/><circle cx="926" cy="571"/><circle cx="966" cy="571"/><circle cx="893" cy="580"/><circle cx="932" cy="573"/><circle cx="870" cy="583"/><circle cx="872" cy="583"/><circle cx="947" cy="567"/><circle cx="949" cy="568"/><circle cx="986" cy="578"/><circle cx="870" cy="566"/><circle cx="908" cy="577"/><circle cx="908" cy="564"/><circle cx="986" cy="570"/><circle cx="910" cy="560"/><circle cx="869" cy="559"/><circle cx="893" cy="576"/><circle cx="988" cy="565"/><circle cx="876" cy="554"/><circle cx="992" cy="580"/><circle cx="978" cy="575"/><circle cx="932" cy="563"/><circle cx="912" cy="568"/><circle cx="893" cy="566"/><circle cx="987" cy="569"/><circle cx="933" cy="568"/><circle cx="932" cy="580"/><circle cx="949" cy="576"/><circle cx="984" cy="576"/><circle cx="957" cy="579"/><circle cx="947" cy="578"/><circle cx="951" cy="582"/><circle cx="954" cy="572"/><circle cx="945" cy="569"/><circle cx="949" cy="579"/><circle cx="955" cy="573"/><circle cx="954" cy="576"/><circle cx="955" cy="577"/><circle cx="958" cy="577"/><circle cx="952" cy="576"/><circle cx="1005" cy="575"/><circle cx="1007" cy="574"/><circle cx="1006" cy="577"/><circle cx="1011" cy="574"/><circle cx="1015" cy="575"/><circle cx="1012" cy="572"/><circle cx="1015" cy="572"/><circle cx="1016" cy="573"/><circle cx="1019" cy="574"/><circle cx="1021" cy="577"/><circle cx="1009" cy="564"/><circle cx="995" cy="561"/><circle cx="664" cy="571"/><circle cx="661" cy="576"/><circle cx="633" cy="568"/><circle cx="674" cy="581"/><circle cx="653" cy="572"/><circle cx="646" cy="572"/><circle cx="636" cy="578"/><circle cx="667" cy="573"/><circle cx="646" cy="571"/><circle cx="638" cy="572"/><circle cx="652" cy="572"/><circle cx="653" cy="571"/><circle cx="645" cy="578"/><circle cx="657" cy="575"/><circle cx="658" cy="573"/><circle cx="650" cy="571"/><circle cx="657" cy="570"/><circle cx="670" cy="576"/><circle cx="650" cy="570"/><circle cx="671" cy="579"/><circle cx="647" cy="569"/><circle cx="665" cy="575"/><circle cx="652" cy="570"/><circle cx="634" cy="569"/><circle cx="644" cy="575"/><circle cx="652" cy="573"/><circle cx="652" cy="571"/><circle cx="680" cy="566"/><circle cx="679" cy="568"/><circle cx="658" cy="578"/><circle cx="657" cy="567"/><circle cx="651" cy="566"/><circle cx="661" cy="573"/><circle cx="679" cy="566"/><circle cx="654" cy="567"/><circle cx="665" cy="563"/><circle cx="658" cy="565"/><circle cx="666" cy="573"/><circle cx="650" cy="576"/><circle cx="651" cy="580"/><circle cx="721" cy="562"/><circle cx="714" cy="560"/><circle cx="713" cy="560"/><circle cx="708" cy="563"/><circle cx="703" cy="562"/><circle cx="715" cy="561"/><circle cx="717" cy="561"/><circle cx="714" cy="566"/><circle cx="709" cy="561"/><circle cx="704" cy="560"/><circle cx="703" cy="560"/><circle cx="707" cy="562"/><circle cx="727" cy="565"/><circle cx="723" cy="566"/><circle cx="706" cy="566"/><circle cx="702" cy="564"/><circle cx="711" cy="564"/><circle cx="721" cy="566"/><circle cx="749" cy="576"/><circle cx="734" cy="572"/><circle cx="737" cy="582"/><circle cx="727" cy="576"/><circle cx="714" cy="572"/><circle cx="739" cy="571"/><circle cx="719" cy="573"/><circle cx="731" cy="576"/><circle cx="728" cy="575"/><circle cx="731" cy="578"/><circle cx="730" cy="575"/><circle cx="732" cy="575"/><circle cx="747" cy="566"/><circle cx="732" cy="574"/><circle cx="742" cy="579"/><circle cx="719" cy="576"/><circle cx="721" cy="582"/><circle cx="729" cy="580"/><circle cx="726" cy="574"/><circle cx="727" cy="584"/><circle cx="747" cy="571"/><circle cx="731" cy="570"/><circle cx="671" cy="569"/><circle cx="746" cy="580"/><circle cx="664" cy="582"/><circle cx="703" cy="569"/><circle cx="671" cy="571"/><circle cx="726" cy="581"/><circle cx="709" cy="574"/><circle cx="737" cy="574"/><circle cx="650" cy="578"/><circle cx="743" cy="582"/><circle cx="733" cy="574"/><circle cx="691" cy="578"/><circle cx="698" cy="582"/><circle cx="715" cy="581"/><circle cx="707" cy="568"/><circle cx="642" cy="571"/><circle cx="705" cy="582"/><circle cx="741" cy="577"/><circle cx="665" cy="577"/><circle cx="662" cy="576"/><circle cx="692" cy="583"/><circle cx="743" cy="568"/><circle cx="732" cy="577"/><circle cx="705" cy="574"/><circle cx="741" cy="580"/><circle cx="650" cy="573"/><circle cx="663" cy="571"/><circle cx="657" cy="578"/><circle cx="677" cy="571"/><circle cx="672" cy="581"/><circle cx="650" cy="582"/><circle cx="706" cy="575"/><circle cx="652" cy="584"/><circle cx="733" cy="577"/><circle cx="697" cy="577"/><circle cx="680" cy="567"/><circle cx="655" cy="573"/><circle cx="645" cy="580"/><circle cx="700" cy="581"/><circle cx="740" cy="577"/><circle cx="771" cy="581"/><circle cx="782" cy="573"/></g>
<circle cx="818.9" cy="453.7" fill="#f3a02b" stroke="#e8212b" stroke-width="2"/>
</g>
<g clip-path="url(#cB4)" fill="none" stroke-width="1.1">
<g stroke="#e62330"><circle cx="823" cy="662"/><circle cx="828" cy="664"/><circle cx="829" cy="662"/><circle cx="831" cy="662"/><circle cx="830" cy="662"/><circle cx="836" cy="662"/><circle cx="837" cy="662"/><circle cx="839" cy="662"/><circle cx="840" cy="666"/><circle cx="843" cy="665"/><circle cx="845" cy="665"/><circle cx="846" cy="666"/><circle cx="849" cy="667"/><circle cx="852" cy="667"/><circle cx="853" cy="667"/><circle cx="853" cy="667"/><circle cx="854" cy="668"/><circle cx="861" cy="666"/><circle cx="860" cy="666"/><circle cx="862" cy="666"/><circle cx="864" cy="666"/><circle cx="866" cy="666"/><circle cx="871" cy="666"/><circle cx="870" cy="666"/><circle cx="873" cy="668"/><circle cx="875" cy="665"/><circle cx="879" cy="666"/><circle cx="879" cy="668"/><circle cx="884" cy="668"/><circle cx="885" cy="665"/><circle cx="887" cy="665"/><circle cx="886" cy="667"/><circle cx="887" cy="665"/><circle cx="893" cy="670"/><circle cx="894" cy="666"/><circle cx="896" cy="667"/><circle cx="899" cy="666"/><circle cx="901" cy="665"/><circle cx="902" cy="668"/><circle cx="904" cy="667"/><circle cx="905" cy="668"/><circle cx="906" cy="666"/><circle cx="908" cy="667"/><circle cx="911" cy="666"/><circle cx="915" cy="667"/><circle cx="916" cy="663"/><circle cx="916" cy="665"/><circle cx="919" cy="663"/><circle cx="920" cy="663"/><circle cx="924" cy="666"/><circle cx="925" cy="663"/><circle cx="928" cy="664"/><circle cx="931" cy="663"/><circle cx="931" cy="665"/><circle cx="934" cy="666"/><circle cx="938" cy="664"/><circle cx="937" cy="664"/><circle cx="939" cy="664"/><circle cx="945" cy="665"/><circle cx="946" cy="664"/><circle cx="946" cy="664"/><circle cx="951" cy="662"/><circle cx="952" cy="663"/><circle cx="954" cy="663"/><circle cx="956" cy="664"/><circle cx="958" cy="663"/><circle cx="962" cy="662"/><circle cx="963" cy="663"/><circle cx="964" cy="663"/><circle cx="964" cy="661"/><circle cx="847" cy="669"/><circle cx="848" cy="667"/><circle cx="862" cy="668"/><circle cx="846" cy="663"/><circle cx="850" cy="667"/><circle cx="853" cy="666"/><circle cx="850" cy="670"/><circle cx="843" cy="667"/><circle cx="847" cy="666"/><circle cx="852" cy="666"/><circle cx="861" cy="667"/><circle cx="858" cy="663"/><circle cx="862" cy="666"/><circle cx="861" cy="666"/><circle cx="844" cy="667"/><circle cx="846" cy="665"/><circle cx="859" cy="665"/><circle cx="864" cy="665"/><circle cx="947" cy="650"/><circle cx="824" cy="660"/><circle cx="821" cy="664"/><circle cx="824" cy="672"/><circle cx="823" cy="676"/><circle cx="819" cy="679"/><circle cx="818" cy="683"/><circle cx="816" cy="687"/><circle cx="814" cy="693"/><circle cx="813" cy="697"/><circle cx="812" cy="700"/><circle cx="811" cy="706"/><circle cx="810" cy="711"/><circle cx="810" cy="717"/><circle cx="810" cy="721"/><circle cx="816" cy="682"/><circle cx="817" cy="680"/><circle cx="821" cy="682"/><circle cx="817" cy="681"/><circle cx="824" cy="680"/><circle cx="821" cy="680"/><circle cx="816" cy="735"/><circle cx="854" cy="735"/><circle cx="813" cy="788"/><circle cx="813" cy="786"/><circle cx="817" cy="788"/><circle cx="820" cy="790"/><circle cx="825" cy="788"/><circle cx="825" cy="787"/><circle cx="828" cy="787"/><circle cx="829" cy="788"/><circle cx="832" cy="791"/><circle cx="836" cy="788"/><circle cx="837" cy="790"/><circle cx="840" cy="788"/><circle cx="840" cy="790"/><circle cx="844" cy="789"/><circle cx="843" cy="789"/><circle cx="848" cy="791"/><circle cx="851" cy="790"/><circle cx="855" cy="789"/><circle cx="858" cy="790"/><circle cx="857" cy="790"/><circle cx="863" cy="791"/><circle cx="863" cy="793"/><circle cx="864" cy="788"/><circle cx="868" cy="791"/><circle cx="870" cy="789"/><circle cx="874" cy="790"/><circle cx="876" cy="789"/><circle cx="878" cy="792"/><circle cx="879" cy="790"/><circle cx="883" cy="791"/><circle cx="884" cy="792"/><circle cx="886" cy="792"/><circle cx="890" cy="792"/><circle cx="893" cy="792"/><circle cx="898" cy="790"/><circle cx="898" cy="790"/><circle cx="899" cy="791"/><circle cx="904" cy="789"/><circle cx="905" cy="790"/><circle cx="908" cy="790"/><circle cx="911" cy="791"/><circle cx="908" cy="788"/><circle cx="912" cy="791"/><circle cx="917" cy="788"/><circle cx="917" cy="789"/><circle cx="922" cy="789"/><circle cx="926" cy="790"/><circle cx="928" cy="791"/><circle cx="926" cy="791"/><circle cx="931" cy="788"/><circle cx="934" cy="790"/><circle cx="937" cy="790"/><circle cx="938" cy="785"/><circle cx="941" cy="787"/><circle cx="942" cy="788"/><circle cx="947" cy="790"/><circle cx="949" cy="790"/><circle cx="951" cy="789"/><circle cx="952" cy="789"/><circle cx="956" cy="792"/><circle cx="955" cy="789"/><circle cx="959" cy="791"/><circle cx="964" cy="791"/><circle cx="966" cy="792"/><circle cx="968" cy="792"/><circle cx="970" cy="790"/><circle cx="971" cy="793"/><circle cx="975" cy="792"/><circle cx="979" cy="792"/><circle cx="978" cy="792"/><circle cx="960" cy="786"/><circle cx="959" cy="787"/><circle cx="959" cy="792"/><circle cx="953" cy="783"/><circle cx="961" cy="787"/><circle cx="960" cy="786"/><circle cx="944" cy="787"/><circle cx="959" cy="790"/><circle cx="949" cy="788"/><circle cx="954" cy="790"/><circle cx="980" cy="789"/><circle cx="958" cy="789"/><circle cx="949" cy="787"/><circle cx="962" cy="791"/><circle cx="806" cy="793"/><circle cx="806" cy="795"/><circle cx="808" cy="800"/><circle cx="806" cy="802"/><circle cx="821" cy="804"/><circle cx="806" cy="815"/><circle cx="817" cy="824"/><circle cx="818" cy="828"/><circle cx="827" cy="836"/><circle cx="828" cy="847"/><circle cx="807" cy="839"/><circle cx="807" cy="838"/><circle cx="834" cy="814"/><circle cx="836" cy="822"/><circle cx="906" cy="821"/><circle cx="904" cy="847"/><circle cx="939" cy="823"/><circle cx="945" cy="820"/><circle cx="939" cy="842"/><circle cx="956" cy="847"/><circle cx="959" cy="854"/><circle cx="960" cy="861"/><circle cx="968" cy="835"/><circle cx="966" cy="821"/><circle cx="975" cy="810"/><circle cx="977" cy="821"/><circle cx="982" cy="820"/><circle cx="991" cy="822"/><circle cx="998" cy="794"/><circle cx="998" cy="826"/><circle cx="1002" cy="831"/><circle cx="1003" cy="806"/><circle cx="1016" cy="804"/><circle cx="999" cy="824"/><circle cx="874" cy="852"/><circle cx="866" cy="850"/><circle cx="874" cy="858"/><circle cx="855" cy="850"/><circle cx="873" cy="853"/><circle cx="883" cy="863"/><circle cx="842" cy="850"/><circle cx="840" cy="849"/><circle cx="838" cy="863"/><circle cx="853" cy="860"/><circle cx="871" cy="859"/><circle cx="855" cy="854"/><circle cx="953" cy="846"/><circle cx="982" cy="848"/><circle cx="989" cy="849"/><circle cx="952" cy="851"/><circle cx="944" cy="853"/><circle cx="1005" cy="847"/><circle cx="993" cy="847"/><circle cx="956" cy="851"/><circle cx="965" cy="859"/><circle cx="937" cy="853"/><circle cx="968" cy="850"/><circle cx="948" cy="850"/><circle cx="984" cy="860"/><circle cx="1013" cy="852"/><circle cx="940" cy="851"/><circle cx="997" cy="852"/><circle cx="970" cy="849"/><circle cx="1010" cy="857"/><circle cx="974" cy="854"/><circle cx="940" cy="854"/><circle cx="1011" cy="856"/><circle cx="993" cy="852"/><circle cx="1005" cy="853"/><circle cx="1008" cy="852"/><circle cx="1016" cy="854"/><circle cx="1007" cy="856"/><circle cx="1018" cy="858"/><circle cx="1015" cy="857"/><circle cx="1008" cy="846"/><circle cx="1016" cy="845"/><circle cx="800" cy="858"/><circle cx="813" cy="860"/><circle cx="791" cy="860"/><circle cx="803" cy="853"/><circle cx="803" cy="855"/><circle cx="801" cy="853"/><circle cx="790" cy="859"/><circle cx="794" cy="855"/><circle cx="789" cy="854"/><circle cx="792" cy="857"/><circle cx="793" cy="856"/><circle cx="806" cy="864"/><circle cx="813" cy="858"/><circle cx="787" cy="857"/><circle cx="805" cy="861"/><circle cx="799" cy="860"/><circle cx="790" cy="857"/><circle cx="798" cy="858"/><circle cx="818" cy="860"/><circle cx="796" cy="863"/><circle cx="794" cy="860"/><circle cx="800" cy="860"/><circle cx="756" cy="862"/><circle cx="767" cy="862"/><circle cx="820" cy="859"/><circle cx="811" cy="860"/><circle cx="629" cy="834"/><circle cx="631" cy="837"/><circle cx="630" cy="834"/><circle cx="627" cy="838"/><circle cx="630" cy="839"/><circle cx="617" cy="852"/><circle cx="640" cy="855"/><circle cx="618" cy="859"/><circle cx="634" cy="854"/><circle cx="623" cy="850"/><circle cx="616" cy="856"/><circle cx="612" cy="857"/><circle cx="620" cy="856"/><circle cx="625" cy="855"/><circle cx="634" cy="854"/><circle cx="603" cy="857"/><circle cx="626" cy="858"/><circle cx="626" cy="857"/><circle cx="620" cy="856"/><circle cx="645" cy="863"/><circle cx="654" cy="838"/><circle cx="660" cy="851"/><circle cx="668" cy="840"/><circle cx="670" cy="842"/><circle cx="681" cy="859"/><circle cx="676" cy="862"/><circle cx="678" cy="865"/><circle cx="690" cy="864"/><circle cx="693" cy="864"/><circle cx="681" cy="862"/><circle cx="684" cy="860"/><circle cx="685" cy="859"/><circle cx="685" cy="862"/><circle cx="686" cy="861"/><circle cx="687" cy="860"/><circle cx="675" cy="860"/><circle cx="680" cy="859"/><circle cx="676" cy="862"/><circle cx="674" cy="859"/><circle cx="676" cy="865"/><circle cx="694" cy="861"/><circle cx="675" cy="857"/><circle cx="682" cy="857"/><circle cx="693" cy="862"/><circle cx="670" cy="858"/><circle cx="667" cy="859"/><circle cx="668" cy="860"/><circle cx="667" cy="863"/><circle cx="667" cy="859"/><circle cx="671" cy="858"/><circle cx="687" cy="816"/><circle cx="675" cy="818"/><circle cx="670" cy="821"/><circle cx="693" cy="818"/><circle cx="686" cy="823"/><circle cx="684" cy="818"/><circle cx="695" cy="816"/><circle cx="680" cy="818"/><circle cx="692" cy="814"/><circle cx="694" cy="822"/><circle cx="682" cy="817"/><circle cx="681" cy="821"/><circle cx="699" cy="795"/><circle cx="698" cy="800"/><circle cx="706" cy="802"/><circle cx="703" cy="801"/><circle cx="713" cy="803"/><circle cx="686" cy="799"/><circle cx="694" cy="800"/><circle cx="718" cy="803"/><circle cx="702" cy="801"/><circle cx="709" cy="796"/><circle cx="712" cy="807"/><circle cx="710" cy="799"/><circle cx="707" cy="795"/><circle cx="711" cy="797"/><circle cx="725" cy="790"/><circle cx="693" cy="829"/><circle cx="704" cy="832"/><circle cx="678" cy="831"/><circle cx="692" cy="846"/><circle cx="699" cy="854"/><circle cx="718" cy="832"/><circle cx="703" cy="863"/><circle cx="722" cy="801"/><circle cx="724" cy="828"/><circle cx="717" cy="825"/><circle cx="721" cy="829"/><circle cx="724" cy="826"/><circle cx="720" cy="815"/><circle cx="727" cy="817"/><circle cx="728" cy="812"/><circle cx="728" cy="811"/><circle cx="716" cy="827"/><circle cx="720" cy="809"/><circle cx="721" cy="813"/><circle cx="718" cy="815"/><circle cx="726" cy="813"/><circle cx="730" cy="829"/><circle cx="735" cy="826"/><circle cx="733" cy="827"/><circle cx="735" cy="824"/><circle cx="735" cy="828"/><circle cx="730" cy="832"/><circle cx="731" cy="832"/><circle cx="734" cy="824"/><circle cx="735" cy="832"/><circle cx="737" cy="824"/><circle cx="733" cy="848"/><circle cx="741" cy="861"/><circle cx="734" cy="858"/><circle cx="740" cy="859"/><circle cx="739" cy="862"/><circle cx="723" cy="858"/><circle cx="737" cy="868"/><circle cx="733" cy="856"/><circle cx="739" cy="858"/><circle cx="740" cy="864"/><circle cx="730" cy="863"/><circle cx="738" cy="860"/><circle cx="734" cy="855"/><circle cx="732" cy="860"/><circle cx="738" cy="851"/><circle cx="748" cy="840"/><circle cx="735" cy="860"/><circle cx="737" cy="865"/><circle cx="737" cy="859"/><circle cx="734" cy="858"/><circle cx="736" cy="858"/><circle cx="729" cy="862"/><circle cx="727" cy="842"/><circle cx="725" cy="863"/><circle cx="743" cy="864"/><circle cx="724" cy="854"/></g>
</g>
<g clip-path="url(#cC1)" fill="none" stroke-width="1.1">
<g stroke="#2456a5"><circle cx="1339" cy="63"/><circle cx="1331" cy="78"/><circle cx="1331" cy="81"/><circle cx="1328" cy="100"/><circle cx="1339" cy="103"/><circle cx="1153" cy="160"/><circle cx="1165" cy="178"/><circle cx="1182" cy="170"/><circle cx="1221" cy="182"/><circle cx="1191" cy="197"/><circle cx="1165" cy="205"/><circle cx="1288" cy="172"/><circle cx="1285" cy="201"/><circle cx="1288" cy="204"/><circle cx="1288" cy="211"/><circle cx="1477" cy="136"/><circle cx="1379" cy="164"/><circle cx="1357" cy="180"/><circle cx="1352" cy="145"/><circle cx="1342" cy="146"/><circle cx="1342" cy="156"/><circle cx="1341" cy="143"/><circle cx="1317" cy="118"/><circle cx="1314" cy="111"/><circle cx="1323" cy="115"/><circle cx="1320" cy="109"/><circle cx="1322" cy="102"/><circle cx="1319" cy="106"/><circle cx="1316" cy="112"/><circle cx="1323" cy="116"/><circle cx="1319" cy="120"/><circle cx="1318" cy="115"/><circle cx="1325" cy="114"/><circle cx="1320" cy="113"/><circle cx="1312" cy="107"/><circle cx="1319" cy="111"/><circle cx="1331" cy="130"/><circle cx="1326" cy="136"/><circle cx="1331" cy="135"/><circle cx="1326" cy="130"/><circle cx="1324" cy="133"/><circle cx="1335" cy="131"/><circle cx="1326" cy="134"/><circle cx="1333" cy="136"/><circle cx="1330" cy="129"/><circle cx="1332" cy="125"/><circle cx="1331" cy="130"/><circle cx="1331" cy="134"/><circle cx="1333" cy="125"/><circle cx="1335" cy="132"/><circle cx="1334" cy="131"/><circle cx="1331" cy="124"/><circle cx="1330" cy="126"/><circle cx="1334" cy="131"/><circle cx="1331" cy="131"/><circle cx="1330" cy="127"/><circle cx="1331" cy="129"/><circle cx="1329" cy="136"/><circle cx="1325" cy="129"/><circle cx="1326" cy="134"/><circle cx="1334" cy="132"/><circle cx="1328" cy="131"/><circle cx="1335" cy="129"/><circle cx="1338" cy="131"/><circle cx="1328" cy="188"/><circle cx="1325" cy="162"/><circle cx="1328" cy="170"/><circle cx="1324" cy="162"/><circle cx="1324" cy="173"/><circle cx="1329" cy="171"/><circle cx="1332" cy="188"/><circle cx="1328" cy="164"/><circle cx="1330" cy="191"/><circle cx="1323" cy="174"/><circle cx="1328" cy="156"/><circle cx="1328" cy="147"/><circle cx="1332" cy="173"/><circle cx="1321" cy="182"/><circle cx="1331" cy="191"/><circle cx="1318" cy="178"/><circle cx="1333" cy="176"/><circle cx="1413" cy="196"/><circle cx="1438" cy="203"/><circle cx="1437" cy="204"/><circle cx="1392" cy="194"/><circle cx="1443" cy="198"/><circle cx="1381" cy="205"/><circle cx="1406" cy="196"/><circle cx="1427" cy="205"/><circle cx="1417" cy="197"/><circle cx="1394" cy="191"/><circle cx="1383" cy="190"/><circle cx="1382" cy="196"/><circle cx="1421" cy="198"/><circle cx="1422" cy="191"/><circle cx="1443" cy="203"/><circle cx="1441" cy="199"/><circle cx="1408" cy="200"/><circle cx="1439" cy="190"/><circle cx="1381" cy="191"/><circle cx="1383" cy="200"/><circle cx="1377" cy="202"/><circle cx="1421" cy="199"/><circle cx="1406" cy="193"/><circle cx="1381" cy="202"/><circle cx="1378" cy="197"/><circle cx="1383" cy="191"/><circle cx="1437" cy="196"/><circle cx="1400" cy="201"/><circle cx="1385" cy="213"/><circle cx="1424" cy="212"/><circle cx="1434" cy="211"/><circle cx="1413" cy="180"/><circle cx="1412" cy="181"/><circle cx="1410" cy="200"/><circle cx="1404" cy="198"/><circle cx="1403" cy="199"/><circle cx="1410" cy="201"/><circle cx="1407" cy="201"/><circle cx="1408" cy="197"/><circle cx="1411" cy="198"/><circle cx="1404" cy="195"/><circle cx="1530" cy="179"/><circle cx="1534" cy="214"/><circle cx="1533" cy="198"/><circle cx="1536" cy="210"/><circle cx="1531" cy="203"/><circle cx="1530" cy="193"/><circle cx="1531" cy="192"/><circle cx="1529" cy="197"/><circle cx="1532" cy="194"/><circle cx="1531" cy="202"/><circle cx="1529" cy="201"/><circle cx="1532" cy="192"/></g>
</g>
<g clip-path="url(#cC2)" fill="none" stroke-width="1.1">
<g stroke="#3a84c5"><circle cx="1341" cy="265"/><circle cx="1134" cy="404"/><circle cx="1341" cy="285"/><circle cx="1340" cy="282"/><circle cx="1338" cy="280"/><circle cx="1330" cy="281"/><circle cx="1327" cy="283"/><circle cx="1338" cy="281"/><circle cx="1336" cy="281"/><circle cx="1334" cy="280"/><circle cx="1332" cy="297"/><circle cx="1336" cy="300"/><circle cx="1331" cy="294"/><circle cx="1310" cy="304"/><circle cx="1321" cy="299"/><circle cx="1326" cy="303"/><circle cx="1328" cy="295"/><circle cx="1320" cy="297"/><circle cx="1320" cy="291"/><circle cx="1311" cy="302"/><circle cx="1328" cy="301"/><circle cx="1325" cy="299"/><circle cx="1318" cy="299"/><circle cx="1329" cy="301"/><circle cx="1320" cy="305"/><circle cx="1328" cy="298"/><circle cx="1307" cy="303"/><circle cx="1323" cy="295"/><circle cx="1323" cy="298"/><circle cx="1324" cy="303"/><circle cx="1334" cy="301"/><circle cx="1336" cy="299"/><circle cx="1330" cy="295"/><circle cx="1325" cy="291"/><circle cx="1325" cy="300"/><circle cx="1325" cy="304"/><circle cx="1329" cy="297"/><circle cx="1328" cy="299"/><circle cx="1334" cy="295"/><circle cx="1339" cy="299"/><circle cx="1352" cy="308"/><circle cx="1346" cy="311"/><circle cx="1341" cy="315"/><circle cx="1350" cy="322"/><circle cx="1344" cy="316"/><circle cx="1345" cy="316"/><circle cx="1350" cy="324"/><circle cx="1345" cy="316"/><circle cx="1349" cy="319"/><circle cx="1351" cy="319"/><circle cx="1342" cy="316"/><circle cx="1350" cy="317"/><circle cx="1343" cy="312"/><circle cx="1346" cy="315"/><circle cx="1347" cy="318"/><circle cx="1347" cy="314"/><circle cx="1351" cy="299"/><circle cx="1319" cy="308"/><circle cx="1321" cy="313"/><circle cx="1312" cy="326"/><circle cx="1316" cy="329"/><circle cx="1315" cy="330"/><circle cx="1317" cy="331"/><circle cx="1319" cy="342"/><circle cx="1326" cy="335"/><circle cx="1323" cy="340"/><circle cx="1326" cy="337"/><circle cx="1328" cy="345"/><circle cx="1329" cy="342"/><circle cx="1327" cy="343"/><circle cx="1329" cy="351"/><circle cx="1332" cy="352"/><circle cx="1331" cy="353"/><circle cx="1332" cy="355"/><circle cx="1335" cy="357"/><circle cx="1336" cy="358"/><circle cx="1337" cy="364"/><circle cx="1332" cy="366"/><circle cx="1334" cy="366"/><circle cx="1332" cy="373"/><circle cx="1332" cy="369"/><circle cx="1337" cy="372"/><circle cx="1339" cy="377"/><circle cx="1336" cy="381"/><circle cx="1339" cy="378"/><circle cx="1343" cy="380"/><circle cx="1346" cy="385"/><circle cx="1348" cy="383"/><circle cx="1347" cy="382"/><circle cx="1347" cy="333"/><circle cx="1348" cy="331"/><circle cx="1352" cy="338"/><circle cx="1346" cy="340"/><circle cx="1349" cy="341"/><circle cx="1355" cy="341"/><circle cx="1355" cy="350"/><circle cx="1355" cy="350"/><circle cx="1354" cy="356"/><circle cx="1350" cy="358"/><circle cx="1354" cy="367"/><circle cx="1353" cy="366"/><circle cx="1352" cy="370"/><circle cx="1357" cy="367"/><circle cx="1357" cy="374"/><circle cx="1362" cy="375"/><circle cx="1359" cy="373"/><circle cx="1363" cy="377"/><circle cx="1367" cy="383"/><circle cx="1369" cy="383"/><circle cx="1373" cy="377"/><circle cx="1375" cy="382"/><circle cx="1303" cy="343"/><circle cx="1306" cy="343"/><circle cx="1301" cy="346"/><circle cx="1298" cy="345"/><circle cx="1302" cy="345"/><circle cx="1309" cy="347"/><circle cx="1308" cy="344"/><circle cx="1301" cy="345"/><circle cx="1303" cy="343"/><circle cx="1305" cy="343"/><circle cx="1299" cy="344"/><circle cx="1300" cy="342"/><circle cx="1306" cy="345"/><circle cx="1304" cy="345"/><circle cx="1298" cy="358"/><circle cx="1305" cy="361"/><circle cx="1299" cy="368"/><circle cx="1302" cy="374"/><circle cx="1310" cy="368"/><circle cx="1306" cy="360"/><circle cx="1391" cy="374"/><circle cx="1393" cy="373"/><circle cx="1395" cy="374"/><circle cx="1395" cy="373"/><circle cx="1414" cy="375"/><circle cx="1399" cy="378"/><circle cx="1387" cy="373"/><circle cx="1396" cy="386"/><circle cx="1378" cy="383"/><circle cx="1416" cy="374"/><circle cx="1423" cy="385"/><circle cx="1415" cy="389"/><circle cx="1411" cy="375"/><circle cx="1409" cy="380"/><circle cx="1396" cy="386"/><circle cx="1377" cy="386"/><circle cx="1378" cy="379"/><circle cx="1380" cy="380"/><circle cx="1390" cy="384"/><circle cx="1401" cy="385"/><circle cx="1454" cy="386"/><circle cx="1455" cy="391"/><circle cx="1426" cy="381"/><circle cx="1468" cy="392"/><circle cx="1465" cy="374"/><circle cx="1468" cy="386"/><circle cx="1477" cy="388"/><circle cx="1459" cy="388"/><circle cx="1449" cy="386"/><circle cx="1438" cy="385"/><circle cx="1455" cy="385"/><circle cx="1462" cy="385"/><circle cx="1457" cy="381"/><circle cx="1439" cy="384"/><circle cx="1432" cy="390"/><circle cx="1446" cy="387"/><circle cx="1457" cy="383"/><circle cx="1452" cy="376"/><circle cx="1442" cy="379"/><circle cx="1445" cy="386"/><circle cx="1443" cy="380"/><circle cx="1441" cy="376"/><circle cx="1441" cy="379"/><circle cx="1463" cy="386"/><circle cx="1444" cy="386"/><circle cx="1444" cy="388"/><circle cx="1438" cy="379"/><circle cx="1449" cy="376"/><circle cx="1474" cy="386"/><circle cx="1452" cy="380"/><circle cx="1484" cy="388"/><circle cx="1469" cy="374"/><circle cx="1467" cy="387"/><circle cx="1467" cy="387"/><circle cx="1474" cy="381"/><circle cx="1472" cy="385"/><circle cx="1485" cy="383"/><circle cx="1474" cy="381"/><circle cx="1476" cy="382"/><circle cx="1472" cy="385"/><circle cx="1475" cy="378"/><circle cx="1475" cy="385"/><circle cx="1494" cy="390"/><circle cx="1503" cy="393"/><circle cx="1490" cy="394"/><circle cx="1521" cy="391"/><circle cx="1473" cy="395"/><circle cx="1505" cy="390"/><circle cx="1487" cy="389"/><circle cx="1500" cy="398"/><circle cx="1510" cy="397"/><circle cx="1497" cy="390"/><circle cx="1488" cy="390"/><circle cx="1488" cy="392"/><circle cx="1508" cy="401"/><circle cx="1506" cy="390"/><circle cx="1501" cy="395"/><circle cx="1514" cy="387"/><circle cx="1498" cy="393"/><circle cx="1492" cy="397"/><circle cx="1500" cy="394"/><circle cx="1489" cy="387"/><circle cx="1288" cy="392"/><circle cx="1319" cy="387"/><circle cx="1291" cy="386"/><circle cx="1320" cy="390"/><circle cx="1285" cy="392"/><circle cx="1298" cy="400"/><circle cx="1289" cy="391"/><circle cx="1289" cy="396"/><circle cx="1287" cy="394"/><circle cx="1300" cy="400"/><circle cx="1313" cy="392"/><circle cx="1283" cy="396"/><circle cx="1293" cy="399"/><circle cx="1295" cy="388"/><circle cx="1302" cy="401"/><circle cx="1316" cy="400"/><circle cx="1308" cy="386"/><circle cx="1296" cy="399"/><circle cx="1288" cy="396"/><circle cx="1319" cy="393"/><circle cx="1298" cy="386"/><circle cx="1313" cy="390"/><circle cx="1286" cy="390"/><circle cx="1295" cy="386"/><circle cx="1318" cy="401"/><circle cx="1296" cy="399"/><circle cx="1296" cy="391"/><circle cx="1286" cy="400"/><circle cx="1282" cy="389"/><circle cx="1306" cy="393"/><circle cx="1313" cy="397"/><circle cx="1297" cy="401"/><circle cx="1306" cy="393"/><circle cx="1309" cy="391"/><circle cx="1288" cy="397"/><circle cx="1292" cy="399"/><circle cx="1284" cy="390"/><circle cx="1312" cy="387"/><circle cx="1291" cy="398"/><circle cx="1302" cy="398"/><circle cx="1500" cy="403"/><circle cx="1301" cy="406"/><circle cx="1350" cy="406"/><circle cx="1292" cy="404"/><circle cx="1343" cy="396"/><circle cx="1306" cy="403"/><circle cx="1283" cy="410"/><circle cx="1520" cy="398"/><circle cx="1285" cy="397"/><circle cx="1503" cy="398"/><circle cx="1423" cy="400"/><circle cx="1377" cy="410"/><circle cx="1466" cy="408"/><circle cx="1434" cy="405"/><circle cx="1373" cy="408"/><circle cx="1457" cy="404"/><circle cx="1291" cy="407"/><circle cx="1495" cy="404"/><circle cx="1350" cy="404"/><circle cx="1333" cy="406"/><circle cx="1426" cy="403"/><circle cx="1405" cy="398"/><circle cx="1520" cy="397"/><circle cx="1367" cy="401"/><circle cx="1424" cy="407"/><circle cx="1335" cy="401"/><circle cx="1426" cy="407"/><circle cx="1409" cy="409"/><circle cx="1400" cy="402"/><circle cx="1402" cy="399"/><circle cx="1280" cy="404"/><circle cx="1482" cy="403"/><circle cx="1370" cy="402"/><circle cx="1309" cy="398"/><circle cx="1493" cy="397"/><circle cx="1333" cy="401"/><circle cx="1478" cy="408"/><circle cx="1502" cy="406"/><circle cx="1493" cy="404"/><circle cx="1497" cy="402"/><circle cx="1401" cy="409"/><circle cx="1369" cy="402"/><circle cx="1295" cy="405"/><circle cx="1510" cy="401"/><circle cx="1475" cy="407"/><circle cx="1480" cy="401"/><circle cx="1277" cy="406"/><circle cx="1434" cy="407"/><circle cx="1277" cy="407"/><circle cx="1271" cy="402"/><circle cx="1387" cy="402"/><circle cx="1413" cy="406"/><circle cx="1486" cy="410"/><circle cx="1344" cy="402"/><circle cx="1394" cy="405"/><circle cx="1513" cy="407"/><circle cx="1440" cy="398"/><circle cx="1297" cy="409"/><circle cx="1487" cy="401"/><circle cx="1443" cy="400"/><circle cx="1476" cy="402"/><circle cx="1512" cy="409"/><circle cx="1459" cy="403"/><circle cx="1488" cy="410"/><circle cx="1364" cy="402"/><circle cx="1320" cy="407"/><circle cx="1326" cy="407"/><circle cx="1525" cy="405"/><circle cx="1306" cy="404"/><circle cx="1301" cy="402"/><circle cx="1307" cy="402"/><circle cx="1459" cy="399"/><circle cx="1370" cy="398"/><circle cx="1320" cy="410"/><circle cx="1510" cy="406"/><circle cx="1308" cy="404"/><circle cx="1422" cy="404"/><circle cx="1524" cy="398"/><circle cx="1347" cy="403"/><circle cx="1314" cy="406"/><circle cx="1344" cy="396"/><circle cx="1326" cy="403"/><circle cx="1512" cy="404"/><circle cx="1385" cy="408"/><circle cx="1489" cy="401"/><circle cx="1464" cy="408"/><circle cx="1438" cy="409"/><circle cx="1414" cy="406"/><circle cx="1403" cy="406"/><circle cx="1310" cy="399"/><circle cx="1348" cy="402"/><circle cx="1401" cy="410"/><circle cx="1433" cy="407"/><circle cx="1451" cy="402"/><circle cx="1447" cy="408"/><circle cx="1323" cy="400"/><circle cx="1479" cy="401"/><circle cx="1306" cy="403"/><circle cx="1517" cy="397"/><circle cx="1512" cy="404"/><circle cx="1380" cy="405"/><circle cx="1271" cy="402"/><circle cx="1405" cy="404"/><circle cx="1517" cy="409"/><circle cx="1512" cy="400"/><circle cx="1506" cy="400"/><circle cx="1289" cy="409"/><circle cx="1411" cy="398"/><circle cx="1500" cy="397"/><circle cx="1473" cy="401"/><circle cx="1464" cy="398"/><circle cx="1462" cy="409"/><circle cx="1339" cy="398"/><circle cx="1409" cy="403"/><circle cx="1447" cy="400"/><circle cx="1443" cy="409"/><circle cx="1267" cy="398"/><circle cx="1525" cy="401"/><circle cx="1375" cy="401"/><circle cx="1510" cy="407"/><circle cx="1343" cy="406"/><circle cx="1299" cy="402"/><circle cx="1469" cy="403"/><circle cx="1411" cy="402"/><circle cx="1447" cy="397"/><circle cx="1280" cy="404"/><circle cx="1392" cy="403"/><circle cx="1494" cy="402"/><circle cx="1412" cy="407"/><circle cx="1354" cy="406"/><circle cx="1351" cy="410"/><circle cx="1488" cy="403"/><circle cx="1453" cy="400"/><circle cx="1290" cy="401"/><circle cx="1477" cy="409"/><circle cx="1357" cy="400"/><circle cx="1535" cy="409"/><circle cx="1447" cy="398"/><circle cx="1475" cy="404"/><circle cx="1304" cy="398"/><circle cx="1504" cy="401"/><circle cx="1421" cy="406"/><circle cx="1459" cy="402"/><circle cx="1344" cy="399"/><circle cx="1364" cy="406"/><circle cx="1526" cy="401"/><circle cx="1380" cy="408"/><circle cx="1512" cy="397"/><circle cx="1374" cy="399"/><circle cx="1432" cy="409"/><circle cx="1425" cy="405"/><circle cx="1421" cy="400"/><circle cx="1468" cy="404"/><circle cx="1289" cy="405"/><circle cx="1313" cy="407"/><circle cx="1465" cy="409"/><circle cx="1440" cy="397"/><circle cx="1504" cy="406"/><circle cx="1497" cy="402"/><circle cx="1436" cy="403"/><circle cx="1528" cy="405"/><circle cx="1387" cy="397"/><circle cx="1312" cy="400"/><circle cx="1391" cy="408"/><circle cx="1459" cy="397"/><circle cx="1539" cy="399"/><circle cx="1317" cy="401"/><circle cx="1362" cy="407"/><circle cx="1470" cy="401"/><circle cx="1315" cy="403"/><circle cx="1332" cy="397"/><circle cx="1506" cy="402"/><circle cx="1508" cy="406"/><circle cx="1383" cy="405"/><circle cx="1490" cy="407"/><circle cx="1488" cy="402"/><circle cx="1438" cy="407"/><circle cx="1440" cy="404"/><circle cx="1303" cy="407"/><circle cx="1323" cy="403"/><circle cx="1314" cy="406"/><circle cx="1404" cy="407"/><circle cx="1445" cy="399"/><circle cx="1346" cy="402"/><circle cx="1272" cy="397"/><circle cx="1305" cy="402"/><circle cx="1508" cy="397"/><circle cx="1285" cy="402"/><circle cx="1411" cy="397"/><circle cx="1415" cy="403"/><circle cx="1319" cy="399"/><circle cx="1394" cy="407"/><circle cx="1449" cy="406"/><circle cx="1452" cy="397"/><circle cx="1486" cy="397"/><circle cx="1311" cy="403"/><circle cx="1280" cy="407"/><circle cx="1433" cy="410"/><circle cx="1490" cy="406"/><circle cx="1355" cy="400"/><circle cx="1530" cy="403"/><circle cx="1539" cy="399"/><circle cx="1480" cy="408"/><circle cx="1282" cy="405"/><circle cx="1422" cy="404"/><circle cx="1455" cy="399"/><circle cx="1513" cy="408"/><circle cx="1288" cy="404"/><circle cx="1494" cy="409"/><circle cx="1334" cy="398"/><circle cx="1454" cy="405"/><circle cx="1386" cy="409"/><circle cx="1295" cy="408"/><circle cx="1536" cy="397"/><circle cx="1530" cy="409"/><circle cx="1472" cy="407"/><circle cx="1516" cy="407"/><circle cx="1276" cy="407"/><circle cx="1394" cy="401"/><circle cx="1315" cy="405"/><circle cx="1468" cy="409"/><circle cx="1506" cy="397"/><circle cx="1283" cy="408"/><circle cx="1379" cy="399"/><circle cx="1407" cy="397"/><circle cx="1367" cy="405"/><circle cx="1369" cy="401"/><circle cx="1488" cy="410"/><circle cx="1492" cy="401"/><circle cx="1390" cy="409"/><circle cx="1425" cy="396"/><circle cx="1350" cy="402"/><circle cx="1384" cy="407"/><circle cx="1459" cy="406"/><circle cx="1417" cy="405"/><circle cx="1280" cy="401"/><circle cx="1274" cy="407"/><circle cx="1284" cy="399"/><circle cx="1304" cy="400"/><circle cx="1523" cy="406"/><circle cx="1449" cy="407"/><circle cx="1307" cy="399"/><circle cx="1472" cy="407"/><circle cx="1443" cy="401"/><circle cx="1302" cy="404"/><circle cx="1438" cy="396"/><circle cx="1526" cy="405"/><circle cx="1298" cy="402"/><circle cx="1500" cy="399"/><circle cx="1454" cy="397"/><circle cx="1287" cy="401"/><circle cx="1315" cy="407"/><circle cx="1395" cy="399"/><circle cx="1517" cy="406"/><circle cx="1311" cy="399"/><circle cx="1526" cy="398"/><circle cx="1279" cy="401"/><circle cx="1506" cy="407"/><circle cx="1266" cy="398"/><circle cx="1397" cy="404"/><circle cx="1246" cy="404"/><circle cx="1252" cy="404"/><circle cx="1258" cy="404"/><circle cx="1263" cy="404"/><circle cx="1156" cy="404"/><circle cx="1160" cy="404"/><circle cx="1164" cy="404"/><circle cx="1169" cy="404"/><circle cx="1171" cy="404"/><circle cx="1174" cy="403"/><circle cx="1176" cy="404"/><circle cx="1178" cy="404"/><circle cx="1181" cy="403"/><circle cx="1184" cy="404"/><circle cx="1188" cy="404"/><circle cx="1194" cy="404"/><circle cx="1199" cy="403"/></g>
<circle cx="1334.8" cy="258.5" fill="#3a84c5" stroke="#e8212b" stroke-width="2"/>
</g>
<g clip-path="url(#cC3)" fill="none" stroke-width="1.1">
<g stroke="#f3a02b"><circle cx="1341" cy="461"/><circle cx="1351" cy="492"/><circle cx="1332" cy="478"/><circle cx="1332" cy="479"/><circle cx="1335" cy="483"/><circle cx="1340" cy="479"/><circle cx="1330" cy="487"/><circle cx="1330" cy="479"/><circle cx="1340" cy="482"/><circle cx="1333" cy="485"/><circle cx="1332" cy="483"/><circle cx="1321" cy="500"/><circle cx="1327" cy="499"/><circle cx="1327" cy="502"/><circle cx="1328" cy="505"/><circle cx="1338" cy="497"/><circle cx="1324" cy="506"/><circle cx="1321" cy="509"/><circle cx="1318" cy="505"/><circle cx="1337" cy="505"/><circle cx="1345" cy="506"/><circle cx="1328" cy="501"/><circle cx="1337" cy="511"/><circle cx="1330" cy="507"/><circle cx="1331" cy="512"/><circle cx="1336" cy="503"/><circle cx="1324" cy="501"/><circle cx="1323" cy="504"/><circle cx="1337" cy="499"/><circle cx="1318" cy="505"/><circle cx="1313" cy="506"/><circle cx="1327" cy="506"/><circle cx="1335" cy="513"/><circle cx="1326" cy="504"/><circle cx="1331" cy="506"/><circle cx="1321" cy="498"/><circle cx="1323" cy="497"/><circle cx="1320" cy="501"/><circle cx="1315" cy="500"/><circle cx="1321" cy="505"/><circle cx="1321" cy="507"/><circle cx="1348" cy="502"/><circle cx="1348" cy="510"/><circle cx="1340" cy="517"/><circle cx="1343" cy="516"/><circle cx="1344" cy="513"/><circle cx="1348" cy="520"/><circle cx="1345" cy="511"/><circle cx="1335" cy="510"/><circle cx="1343" cy="513"/><circle cx="1342" cy="513"/><circle cx="1347" cy="511"/><circle cx="1340" cy="514"/><circle cx="1341" cy="506"/><circle cx="1343" cy="512"/><circle cx="1313" cy="528"/><circle cx="1315" cy="528"/><circle cx="1316" cy="527"/><circle cx="1317" cy="529"/><circle cx="1323" cy="531"/><circle cx="1322" cy="535"/><circle cx="1324" cy="531"/><circle cx="1331" cy="535"/><circle cx="1327" cy="535"/><circle cx="1332" cy="540"/><circle cx="1327" cy="547"/><circle cx="1328" cy="545"/><circle cx="1329" cy="547"/><circle cx="1332" cy="547"/><circle cx="1327" cy="550"/><circle cx="1336" cy="555"/><circle cx="1330" cy="559"/><circle cx="1331" cy="561"/><circle cx="1335" cy="560"/><circle cx="1335" cy="566"/><circle cx="1336" cy="570"/><circle cx="1337" cy="573"/><circle cx="1333" cy="571"/><circle cx="1339" cy="570"/><circle cx="1339" cy="578"/><circle cx="1341" cy="576"/><circle cx="1346" cy="578"/><circle cx="1346" cy="577"/><circle cx="1347" cy="578"/><circle cx="1351" cy="583"/><circle cx="1350" cy="527"/><circle cx="1354" cy="529"/><circle cx="1352" cy="534"/><circle cx="1352" cy="534"/><circle cx="1356" cy="535"/><circle cx="1354" cy="543"/><circle cx="1349" cy="544"/><circle cx="1353" cy="549"/><circle cx="1351" cy="552"/><circle cx="1348" cy="556"/><circle cx="1353" cy="556"/><circle cx="1349" cy="565"/><circle cx="1353" cy="560"/><circle cx="1353" cy="568"/><circle cx="1357" cy="567"/><circle cx="1358" cy="572"/><circle cx="1365" cy="570"/><circle cx="1369" cy="573"/><circle cx="1369" cy="575"/><circle cx="1369" cy="575"/><circle cx="1374" cy="576"/><circle cx="1382" cy="582"/><circle cx="1305" cy="545"/><circle cx="1298" cy="543"/><circle cx="1302" cy="547"/><circle cx="1307" cy="546"/><circle cx="1305" cy="547"/><circle cx="1300" cy="545"/><circle cx="1298" cy="541"/><circle cx="1297" cy="543"/><circle cx="1305" cy="544"/><circle cx="1304" cy="544"/><circle cx="1296" cy="544"/><circle cx="1300" cy="540"/><circle cx="1305" cy="547"/><circle cx="1300" cy="543"/><circle cx="1298" cy="554"/><circle cx="1306" cy="557"/><circle cx="1301" cy="564"/><circle cx="1303" cy="570"/><circle cx="1311" cy="564"/><circle cx="1308" cy="556"/><circle cx="1392" cy="569"/><circle cx="1396" cy="570"/><circle cx="1396" cy="569"/><circle cx="1394" cy="571"/><circle cx="1409" cy="575"/><circle cx="1428" cy="586"/><circle cx="1400" cy="580"/><circle cx="1395" cy="573"/><circle cx="1406" cy="586"/><circle cx="1426" cy="582"/><circle cx="1413" cy="574"/><circle cx="1389" cy="583"/><circle cx="1407" cy="580"/><circle cx="1421" cy="574"/><circle cx="1393" cy="579"/><circle cx="1395" cy="579"/><circle cx="1401" cy="583"/><circle cx="1422" cy="575"/><circle cx="1408" cy="583"/><circle cx="1415" cy="585"/><circle cx="1467" cy="578"/><circle cx="1452" cy="577"/><circle cx="1440" cy="585"/><circle cx="1460" cy="586"/><circle cx="1447" cy="583"/><circle cx="1461" cy="576"/><circle cx="1445" cy="578"/><circle cx="1442" cy="582"/><circle cx="1451" cy="579"/><circle cx="1430" cy="580"/><circle cx="1448" cy="578"/><circle cx="1443" cy="584"/><circle cx="1440" cy="579"/><circle cx="1462" cy="582"/><circle cx="1436" cy="578"/><circle cx="1452" cy="584"/><circle cx="1450" cy="583"/><circle cx="1438" cy="586"/><circle cx="1444" cy="588"/><circle cx="1442" cy="580"/><circle cx="1440" cy="572"/><circle cx="1464" cy="580"/><circle cx="1446" cy="587"/><circle cx="1458" cy="574"/><circle cx="1446" cy="581"/><circle cx="1455" cy="574"/><circle cx="1448" cy="588"/><circle cx="1444" cy="580"/><circle cx="1470" cy="581"/><circle cx="1448" cy="585"/><circle cx="1485" cy="577"/><circle cx="1472" cy="583"/><circle cx="1469" cy="572"/><circle cx="1476" cy="570"/><circle cx="1482" cy="584"/><circle cx="1478" cy="586"/><circle cx="1477" cy="575"/><circle cx="1468" cy="577"/><circle cx="1473" cy="577"/><circle cx="1472" cy="580"/><circle cx="1476" cy="574"/><circle cx="1474" cy="576"/><circle cx="1498" cy="595"/><circle cx="1506" cy="591"/><circle cx="1486" cy="593"/><circle cx="1512" cy="594"/><circle cx="1486" cy="583"/><circle cx="1492" cy="591"/><circle cx="1503" cy="589"/><circle cx="1499" cy="593"/><circle cx="1499" cy="590"/><circle cx="1495" cy="596"/><circle cx="1504" cy="588"/><circle cx="1494" cy="588"/><circle cx="1491" cy="592"/><circle cx="1503" cy="588"/><circle cx="1487" cy="587"/><circle cx="1508" cy="588"/><circle cx="1495" cy="596"/><circle cx="1502" cy="591"/><circle cx="1506" cy="592"/><circle cx="1504" cy="589"/><circle cx="1319" cy="593"/><circle cx="1309" cy="597"/><circle cx="1301" cy="596"/><circle cx="1285" cy="584"/><circle cx="1314" cy="591"/><circle cx="1311" cy="583"/><circle cx="1302" cy="585"/><circle cx="1284" cy="593"/><circle cx="1293" cy="582"/><circle cx="1303" cy="588"/><circle cx="1287" cy="592"/><circle cx="1312" cy="596"/><circle cx="1306" cy="591"/><circle cx="1302" cy="584"/><circle cx="1311" cy="594"/><circle cx="1290" cy="590"/><circle cx="1292" cy="597"/><circle cx="1297" cy="597"/><circle cx="1317" cy="591"/><circle cx="1282" cy="580"/><circle cx="1299" cy="589"/><circle cx="1313" cy="591"/><circle cx="1298" cy="581"/><circle cx="1316" cy="582"/><circle cx="1285" cy="585"/><circle cx="1290" cy="597"/><circle cx="1286" cy="593"/><circle cx="1305" cy="593"/><circle cx="1289" cy="597"/><circle cx="1291" cy="597"/><circle cx="1320" cy="580"/><circle cx="1306" cy="589"/><circle cx="1302" cy="586"/><circle cx="1296" cy="582"/><circle cx="1287" cy="594"/><circle cx="1285" cy="592"/><circle cx="1297" cy="594"/><circle cx="1295" cy="597"/><circle cx="1307" cy="587"/><circle cx="1284" cy="585"/><circle cx="1285" cy="595"/><circle cx="1317" cy="597"/><circle cx="1319" cy="581"/><circle cx="1301" cy="581"/><circle cx="1310" cy="580"/><circle cx="1305" cy="597"/><circle cx="1298" cy="591"/><circle cx="1489" cy="601"/><circle cx="1273" cy="597"/><circle cx="1461" cy="600"/><circle cx="1476" cy="602"/><circle cx="1439" cy="598"/><circle cx="1331" cy="591"/><circle cx="1330" cy="595"/><circle cx="1274" cy="604"/><circle cx="1389" cy="593"/><circle cx="1312" cy="595"/><circle cx="1339" cy="592"/><circle cx="1436" cy="594"/><circle cx="1455" cy="593"/><circle cx="1521" cy="601"/><circle cx="1376" cy="597"/><circle cx="1437" cy="604"/><circle cx="1484" cy="598"/><circle cx="1345" cy="600"/><circle cx="1355" cy="597"/><circle cx="1305" cy="598"/><circle cx="1328" cy="596"/><circle cx="1287" cy="593"/><circle cx="1316" cy="591"/><circle cx="1459" cy="592"/><circle cx="1288" cy="604"/><circle cx="1420" cy="601"/><circle cx="1422" cy="604"/><circle cx="1400" cy="599"/><circle cx="1312" cy="602"/><circle cx="1300" cy="595"/><circle cx="1518" cy="595"/><circle cx="1335" cy="596"/><circle cx="1327" cy="597"/><circle cx="1276" cy="591"/><circle cx="1416" cy="594"/><circle cx="1271" cy="596"/><circle cx="1539" cy="594"/><circle cx="1525" cy="596"/><circle cx="1463" cy="601"/><circle cx="1397" cy="602"/><circle cx="1500" cy="593"/><circle cx="1425" cy="604"/><circle cx="1421" cy="597"/><circle cx="1371" cy="597"/><circle cx="1389" cy="593"/><circle cx="1322" cy="593"/><circle cx="1358" cy="594"/><circle cx="1474" cy="595"/><circle cx="1450" cy="604"/><circle cx="1513" cy="600"/><circle cx="1518" cy="599"/><circle cx="1533" cy="593"/><circle cx="1507" cy="600"/><circle cx="1421" cy="596"/><circle cx="1425" cy="604"/><circle cx="1469" cy="597"/><circle cx="1525" cy="602"/><circle cx="1323" cy="601"/><circle cx="1294" cy="603"/><circle cx="1313" cy="604"/><circle cx="1377" cy="594"/><circle cx="1314" cy="601"/><circle cx="1292" cy="592"/><circle cx="1514" cy="599"/><circle cx="1431" cy="602"/><circle cx="1425" cy="596"/><circle cx="1394" cy="603"/><circle cx="1271" cy="596"/><circle cx="1470" cy="592"/><circle cx="1403" cy="593"/><circle cx="1338" cy="601"/><circle cx="1454" cy="595"/><circle cx="1373" cy="593"/><circle cx="1281" cy="604"/><circle cx="1518" cy="604"/><circle cx="1329" cy="592"/><circle cx="1485" cy="599"/><circle cx="1479" cy="596"/><circle cx="1529" cy="599"/><circle cx="1474" cy="595"/><circle cx="1327" cy="600"/><circle cx="1465" cy="603"/><circle cx="1364" cy="594"/><circle cx="1352" cy="593"/><circle cx="1319" cy="593"/><circle cx="1509" cy="603"/><circle cx="1458" cy="591"/><circle cx="1525" cy="603"/><circle cx="1324" cy="596"/><circle cx="1350" cy="598"/><circle cx="1397" cy="600"/><circle cx="1441" cy="604"/><circle cx="1462" cy="595"/><circle cx="1436" cy="596"/><circle cx="1447" cy="597"/><circle cx="1471" cy="600"/><circle cx="1428" cy="594"/><circle cx="1346" cy="604"/><circle cx="1289" cy="604"/><circle cx="1329" cy="591"/><circle cx="1295" cy="602"/><circle cx="1336" cy="600"/><circle cx="1291" cy="604"/><circle cx="1508" cy="598"/><circle cx="1479" cy="604"/><circle cx="1319" cy="597"/><circle cx="1294" cy="593"/><circle cx="1363" cy="598"/><circle cx="1475" cy="602"/><circle cx="1446" cy="594"/><circle cx="1325" cy="594"/><circle cx="1339" cy="598"/><circle cx="1425" cy="596"/><circle cx="1514" cy="596"/><circle cx="1342" cy="595"/><circle cx="1426" cy="601"/><circle cx="1493" cy="599"/><circle cx="1280" cy="604"/><circle cx="1494" cy="592"/><circle cx="1299" cy="600"/><circle cx="1359" cy="602"/><circle cx="1481" cy="593"/><circle cx="1434" cy="604"/><circle cx="1307" cy="594"/><circle cx="1462" cy="599"/><circle cx="1366" cy="602"/><circle cx="1292" cy="602"/><circle cx="1531" cy="598"/><circle cx="1513" cy="595"/><circle cx="1406" cy="596"/><circle cx="1422" cy="595"/><circle cx="1537" cy="603"/><circle cx="1277" cy="604"/><circle cx="1395" cy="601"/><circle cx="1368" cy="592"/><circle cx="1475" cy="598"/><circle cx="1339" cy="592"/><circle cx="1485" cy="594"/><circle cx="1334" cy="604"/><circle cx="1432" cy="603"/><circle cx="1537" cy="591"/><circle cx="1310" cy="600"/><circle cx="1434" cy="591"/><circle cx="1536" cy="604"/><circle cx="1296" cy="599"/><circle cx="1447" cy="604"/><circle cx="1269" cy="596"/><circle cx="1318" cy="598"/><circle cx="1427" cy="599"/><circle cx="1442" cy="596"/><circle cx="1302" cy="592"/><circle cx="1305" cy="604"/><circle cx="1451" cy="595"/><circle cx="1523" cy="592"/><circle cx="1417" cy="601"/><circle cx="1366" cy="603"/><circle cx="1444" cy="601"/><circle cx="1302" cy="598"/><circle cx="1363" cy="604"/><circle cx="1508" cy="603"/><circle cx="1363" cy="598"/><circle cx="1411" cy="601"/><circle cx="1483" cy="601"/><circle cx="1275" cy="594"/><circle cx="1510" cy="601"/><circle cx="1356" cy="592"/><circle cx="1526" cy="599"/><circle cx="1457" cy="597"/><circle cx="1424" cy="595"/><circle cx="1394" cy="604"/><circle cx="1284" cy="591"/><circle cx="1490" cy="603"/><circle cx="1276" cy="600"/><circle cx="1269" cy="593"/><circle cx="1290" cy="602"/><circle cx="1306" cy="591"/><circle cx="1497" cy="602"/><circle cx="1283" cy="594"/><circle cx="1378" cy="597"/><circle cx="1297" cy="595"/><circle cx="1468" cy="603"/><circle cx="1434" cy="594"/><circle cx="1514" cy="596"/><circle cx="1300" cy="601"/><circle cx="1429" cy="591"/><circle cx="1360" cy="594"/><circle cx="1486" cy="594"/><circle cx="1341" cy="596"/><circle cx="1300" cy="603"/><circle cx="1345" cy="592"/><circle cx="1303" cy="598"/><circle cx="1465" cy="596"/><circle cx="1332" cy="597"/><circle cx="1470" cy="596"/><circle cx="1368" cy="601"/><circle cx="1466" cy="600"/><circle cx="1354" cy="596"/><circle cx="1522" cy="603"/><circle cx="1519" cy="596"/><circle cx="1473" cy="600"/><circle cx="1492" cy="602"/><circle cx="1461" cy="604"/><circle cx="1298" cy="591"/><circle cx="1285" cy="595"/><circle cx="1340" cy="594"/><circle cx="1377" cy="600"/><circle cx="1437" cy="596"/><circle cx="1377" cy="598"/><circle cx="1509" cy="591"/><circle cx="1451" cy="594"/><circle cx="1380" cy="594"/><circle cx="1432" cy="601"/><circle cx="1350" cy="596"/><circle cx="1275" cy="600"/><circle cx="1295" cy="594"/><circle cx="1343" cy="602"/><circle cx="1430" cy="600"/><circle cx="1283" cy="596"/><circle cx="1451" cy="591"/><circle cx="1319" cy="594"/><circle cx="1513" cy="599"/><circle cx="1362" cy="595"/><circle cx="1269" cy="604"/><circle cx="1286" cy="592"/><circle cx="1401" cy="598"/><circle cx="1311" cy="595"/><circle cx="1294" cy="596"/><circle cx="1387" cy="592"/><circle cx="1414" cy="602"/><circle cx="1480" cy="596"/><circle cx="1377" cy="592"/><circle cx="1378" cy="599"/><circle cx="1456" cy="601"/><circle cx="1403" cy="595"/><circle cx="1484" cy="604"/><circle cx="1387" cy="594"/><circle cx="1327" cy="593"/><circle cx="1479" cy="591"/><circle cx="1316" cy="596"/><circle cx="1329" cy="597"/><circle cx="1508" cy="600"/><circle cx="1391" cy="604"/><circle cx="1269" cy="597"/><circle cx="1428" cy="599"/><circle cx="1267" cy="592"/><circle cx="1284" cy="604"/><circle cx="1348" cy="595"/><circle cx="1298" cy="592"/><circle cx="1244" cy="600"/><circle cx="1248" cy="599"/><circle cx="1252" cy="598"/><circle cx="1256" cy="598"/><circle cx="1270" cy="593"/><circle cx="1273" cy="599"/><circle cx="1144" cy="599"/><circle cx="1160" cy="599"/><circle cx="1169" cy="599"/><circle cx="1173" cy="600"/><circle cx="1177" cy="599"/><circle cx="1180" cy="600"/><circle cx="1191" cy="595"/><circle cx="1192" cy="597"/><circle cx="1199" cy="600"/><circle cx="1208" cy="599"/><circle cx="1213" cy="600"/><circle cx="1219" cy="600"/></g>
<circle cx="1335.3" cy="453.7" fill="#f3a02b" stroke="#e8212b" stroke-width="2"/>
</g>
<g clip-path="url(#cC4)" fill="none" stroke-width="1.1">
<g stroke="#e62330"><circle cx="1316" cy="670"/><circle cx="1326" cy="672"/><circle cx="1353" cy="658"/><circle cx="1330" cy="663"/><circle cx="1315" cy="663"/><circle cx="1355" cy="656"/><circle cx="1346" cy="678"/><circle cx="1333" cy="671"/><circle cx="1321" cy="665"/><circle cx="1345" cy="670"/><circle cx="1316" cy="675"/><circle cx="1351" cy="657"/><circle cx="1345" cy="672"/><circle cx="1335" cy="674"/><circle cx="1318" cy="680"/><circle cx="1320" cy="664"/><circle cx="1323" cy="667"/><circle cx="1351" cy="668"/><circle cx="1336" cy="670"/><circle cx="1341" cy="677"/><circle cx="1330" cy="663"/><circle cx="1317" cy="675"/><circle cx="1350" cy="658"/><circle cx="1351" cy="663"/><circle cx="1319" cy="663"/><circle cx="1334" cy="667"/><circle cx="1354" cy="673"/><circle cx="1332" cy="668"/><circle cx="1318" cy="656"/><circle cx="1354" cy="663"/><circle cx="1321" cy="664"/><circle cx="1341" cy="662"/><circle cx="1350" cy="666"/><circle cx="1347" cy="656"/><circle cx="1351" cy="671"/><circle cx="1344" cy="669"/><circle cx="1333" cy="668"/><circle cx="1322" cy="662"/><circle cx="1350" cy="680"/><circle cx="1341" cy="673"/><circle cx="1354" cy="680"/><circle cx="1342" cy="680"/><circle cx="1325" cy="672"/><circle cx="1343" cy="669"/><circle cx="1344" cy="668"/><circle cx="1351" cy="666"/><circle cx="1319" cy="666"/><circle cx="1325" cy="673"/><circle cx="1337" cy="671"/><circle cx="1325" cy="671"/><circle cx="1335" cy="673"/><circle cx="1331" cy="664"/><circle cx="1334" cy="674"/><circle cx="1337" cy="664"/><circle cx="1335" cy="667"/><circle cx="1338" cy="670"/><circle cx="1334" cy="665"/><circle cx="1325" cy="665"/><circle cx="1329" cy="672"/><circle cx="1323" cy="668"/><circle cx="1339" cy="666"/><circle cx="1333" cy="672"/><circle cx="1335" cy="672"/><circle cx="1333" cy="669"/><circle cx="1331" cy="668"/><circle cx="1325" cy="667"/><circle cx="1330" cy="669"/><circle cx="1334" cy="666"/><circle cx="1327" cy="670"/><circle cx="1326" cy="670"/><circle cx="1333" cy="666"/><circle cx="1329" cy="670"/><circle cx="1327" cy="661"/><circle cx="1326" cy="670"/><circle cx="1332" cy="672"/><circle cx="1321" cy="650"/><circle cx="1321" cy="653"/><circle cx="1339" cy="653"/><circle cx="1352" cy="658"/><circle cx="1356" cy="665"/><circle cx="1353" cy="686"/><circle cx="1321" cy="683"/><circle cx="1331" cy="682"/><circle cx="1312" cy="708"/><circle cx="1328" cy="706"/><circle cx="1334" cy="698"/><circle cx="1333" cy="706"/><circle cx="1344" cy="706"/><circle cx="1345" cy="701"/><circle cx="1351" cy="704"/><circle cx="1350" cy="717"/><circle cx="1347" cy="719"/><circle cx="1349" cy="721"/><circle cx="1349" cy="723"/><circle cx="1349" cy="727"/><circle cx="1350" cy="730"/><circle cx="1348" cy="732"/><circle cx="1349" cy="735"/><circle cx="1307" cy="733"/><circle cx="1308" cy="727"/><circle cx="1300" cy="730"/><circle cx="1302" cy="727"/><circle cx="1306" cy="733"/><circle cx="1298" cy="732"/><circle cx="1301" cy="734"/><circle cx="1302" cy="730"/><circle cx="1303" cy="733"/><circle cx="1302" cy="732"/><circle cx="1324" cy="752"/><circle cx="1323" cy="755"/><circle cx="1322" cy="758"/><circle cx="1322" cy="762"/><circle cx="1322" cy="766"/><circle cx="1385" cy="693"/><circle cx="1385" cy="707"/><circle cx="1388" cy="715"/><circle cx="1395" cy="718"/><circle cx="1396" cy="722"/><circle cx="1384" cy="725"/><circle cx="1385" cy="729"/><circle cx="1394" cy="728"/><circle cx="1394" cy="753"/><circle cx="1390" cy="745"/><circle cx="1389" cy="739"/><circle cx="1393" cy="744"/><circle cx="1381" cy="737"/><circle cx="1392" cy="734"/><circle cx="1394" cy="746"/><circle cx="1390" cy="743"/><circle cx="1405" cy="745"/><circle cx="1391" cy="738"/><circle cx="1385" cy="747"/><circle cx="1390" cy="749"/><circle cx="1401" cy="754"/><circle cx="1390" cy="741"/><circle cx="1389" cy="743"/><circle cx="1399" cy="746"/><circle cx="1390" cy="748"/><circle cx="1375" cy="752"/><circle cx="1407" cy="748"/><circle cx="1404" cy="748"/><circle cx="1407" cy="751"/><circle cx="1409" cy="747"/><circle cx="1411" cy="747"/><circle cx="1412" cy="749"/><circle cx="1413" cy="748"/><circle cx="1416" cy="747"/><circle cx="1416" cy="747"/><circle cx="1419" cy="749"/><circle cx="1417" cy="745"/><circle cx="1420" cy="748"/><circle cx="1419" cy="750"/><circle cx="1424" cy="747"/><circle cx="1424" cy="746"/><circle cx="1428" cy="747"/><circle cx="1425" cy="747"/><circle cx="1427" cy="748"/><circle cx="1431" cy="746"/><circle cx="1431" cy="748"/><circle cx="1431" cy="749"/><circle cx="1436" cy="748"/><circle cx="1435" cy="748"/><circle cx="1436" cy="750"/><circle cx="1435" cy="752"/><circle cx="1441" cy="749"/><circle cx="1440" cy="752"/><circle cx="1443" cy="755"/><circle cx="1445" cy="754"/><circle cx="1445" cy="753"/><circle cx="1447" cy="766"/><circle cx="1446" cy="761"/><circle cx="1440" cy="762"/><circle cx="1446" cy="767"/><circle cx="1442" cy="769"/><circle cx="1437" cy="768"/><circle cx="1443" cy="772"/><circle cx="1443" cy="769"/><circle cx="1445" cy="772"/><circle cx="1444" cy="768"/><circle cx="1451" cy="776"/><circle cx="1442" cy="773"/><circle cx="1444" cy="779"/><circle cx="1447" cy="775"/><circle cx="1451" cy="773"/><circle cx="1449" cy="775"/><circle cx="1447" cy="780"/><circle cx="1452" cy="783"/><circle cx="1442" cy="779"/><circle cx="1449" cy="782"/><circle cx="1449" cy="783"/><circle cx="1451" cy="785"/><circle cx="1451" cy="781"/><circle cx="1446" cy="784"/><circle cx="1453" cy="784"/><circle cx="1460" cy="807"/><circle cx="1450" cy="807"/><circle cx="1450" cy="804"/><circle cx="1452" cy="798"/><circle cx="1457" cy="803"/><circle cx="1444" cy="799"/><circle cx="1442" cy="804"/><circle cx="1447" cy="815"/><circle cx="1440" cy="794"/><circle cx="1440" cy="795"/><circle cx="1443" cy="785"/><circle cx="1452" cy="802"/><circle cx="1460" cy="805"/><circle cx="1463" cy="805"/><circle cx="1467" cy="796"/><circle cx="1456" cy="802"/><circle cx="1448" cy="802"/><circle cx="1458" cy="808"/><circle cx="1456" cy="802"/><circle cx="1447" cy="798"/><circle cx="1466" cy="800"/><circle cx="1443" cy="802"/><circle cx="1432" cy="733"/><circle cx="1449" cy="760"/><circle cx="1378" cy="784"/><circle cx="1378" cy="786"/><circle cx="1382" cy="790"/><circle cx="1380" cy="790"/><circle cx="1386" cy="788"/><circle cx="1390" cy="788"/><circle cx="1392" cy="790"/><circle cx="1394" cy="791"/><circle cx="1394" cy="792"/><circle cx="1400" cy="789"/><circle cx="1403" cy="793"/><circle cx="1404" cy="791"/><circle cx="1403" cy="789"/><circle cx="1406" cy="792"/><circle cx="1412" cy="790"/><circle cx="1411" cy="789"/><circle cx="1416" cy="787"/><circle cx="1418" cy="788"/><circle cx="1420" cy="788"/><circle cx="1423" cy="789"/><circle cx="1425" cy="790"/><circle cx="1431" cy="785"/><circle cx="1431" cy="788"/><circle cx="1435" cy="784"/><circle cx="1435" cy="784"/><circle cx="1440" cy="788"/><circle cx="1439" cy="788"/><circle cx="1443" cy="787"/><circle cx="1455" cy="796"/><circle cx="1458" cy="800"/><circle cx="1461" cy="798"/><circle cx="1465" cy="799"/><circle cx="1464" cy="803"/><circle cx="1467" cy="805"/><circle cx="1474" cy="805"/><circle cx="1475" cy="802"/><circle cx="1475" cy="804"/><circle cx="1474" cy="807"/><circle cx="1476" cy="807"/><circle cx="1479" cy="808"/><circle cx="1181" cy="795"/><circle cx="1191" cy="784"/><circle cx="1192" cy="782"/><circle cx="1193" cy="808"/><circle cx="1226" cy="786"/><circle cx="1226" cy="811"/><circle cx="1227" cy="810"/><circle cx="1298" cy="786"/><circle cx="1300" cy="800"/><circle cx="1310" cy="784"/><circle cx="1355" cy="802"/><circle cx="1359" cy="790"/><circle cx="1363" cy="786"/><circle cx="1376" cy="779"/><circle cx="1376" cy="782"/></g>
</g>
<g clip-path="url(#cD1)" fill="none" stroke-width="1.1">
<g stroke="#2456a5"><circle cx="108" cy="1340"/><circle cx="114" cy="1339"/><circle cx="110" cy="1347"/><circle cx="107" cy="1352"/><circle cx="114" cy="1349"/><circle cx="108" cy="1342"/><circle cx="107" cy="1340"/><circle cx="106" cy="1348"/><circle cx="113" cy="1343"/><circle cx="113" cy="1347"/><circle cx="111" cy="1343"/><circle cx="114" cy="1340"/><circle cx="109" cy="1347"/><circle cx="111" cy="1346"/><circle cx="114" cy="1355"/><circle cx="111" cy="1354"/><circle cx="115" cy="1365"/><circle cx="117" cy="1369"/><circle cx="119" cy="1373"/><circle cx="114" cy="1366"/><circle cx="112" cy="1399"/><circle cx="111" cy="1413"/><circle cx="108" cy="1420"/><circle cx="112" cy="1422"/><circle cx="107" cy="1424"/><circle cx="127" cy="1414"/><circle cx="130" cy="1410"/><circle cx="131" cy="1411"/><circle cx="135" cy="1408"/><circle cx="139" cy="1409"/><circle cx="142" cy="1405"/><circle cx="148" cy="1410"/><circle cx="148" cy="1409"/><circle cx="153" cy="1410"/><circle cx="156" cy="1412"/><circle cx="159" cy="1411"/><circle cx="165" cy="1408"/><circle cx="165" cy="1406"/><circle cx="173" cy="1407"/><circle cx="172" cy="1410"/><circle cx="176" cy="1404"/><circle cx="177" cy="1402"/><circle cx="177" cy="1398"/><circle cx="143" cy="1415"/><circle cx="161" cy="1417"/><circle cx="169" cy="1412"/><circle cx="128" cy="1406"/><circle cx="119" cy="1445"/><circle cx="113" cy="1456"/><circle cx="114" cy="1433"/><circle cx="112" cy="1451"/><circle cx="114" cy="1441"/><circle cx="112" cy="1442"/><circle cx="127" cy="1451"/><circle cx="115" cy="1439"/><circle cx="117" cy="1441"/><circle cx="121" cy="1453"/><circle cx="116" cy="1456"/><circle cx="116" cy="1467"/><circle cx="109" cy="1442"/><circle cx="115" cy="1458"/><circle cx="183" cy="1442"/><circle cx="136" cy="1465"/><circle cx="147" cy="1465"/><circle cx="162" cy="1458"/><circle cx="160" cy="1470"/><circle cx="181" cy="1456"/><circle cx="168" cy="1454"/><circle cx="171" cy="1466"/><circle cx="172" cy="1474"/><circle cx="144" cy="1477"/><circle cx="146" cy="1484"/><circle cx="158" cy="1460"/><circle cx="165" cy="1459"/><circle cx="166" cy="1458"/><circle cx="159" cy="1464"/><circle cx="168" cy="1456"/><circle cx="163" cy="1463"/><circle cx="131" cy="1474"/><circle cx="108" cy="1495"/><circle cx="133" cy="1485"/><circle cx="130" cy="1477"/><circle cx="117" cy="1473"/><circle cx="110" cy="1483"/><circle cx="125" cy="1471"/><circle cx="121" cy="1470"/><circle cx="109" cy="1484"/><circle cx="132" cy="1471"/><circle cx="124" cy="1479"/><circle cx="119" cy="1481"/><circle cx="124" cy="1490"/><circle cx="129" cy="1477"/><circle cx="111" cy="1472"/><circle cx="110" cy="1489"/><circle cx="120" cy="1492"/><circle cx="120" cy="1491"/><circle cx="113" cy="1483"/><circle cx="109" cy="1488"/><circle cx="120" cy="1492"/><circle cx="108" cy="1473"/><circle cx="126" cy="1490"/><circle cx="108" cy="1496"/><circle cx="115" cy="1473"/><circle cx="113" cy="1496"/><circle cx="112" cy="1477"/><circle cx="114" cy="1475"/><circle cx="129" cy="1483"/><circle cx="107" cy="1489"/><circle cx="111" cy="1474"/><circle cx="133" cy="1471"/><circle cx="121" cy="1486"/><circle cx="121" cy="1495"/><circle cx="132" cy="1485"/><circle cx="108" cy="1470"/><circle cx="128" cy="1483"/><circle cx="115" cy="1478"/><circle cx="125" cy="1477"/><circle cx="127" cy="1480"/><circle cx="142" cy="1485"/><circle cx="223" cy="1492"/><circle cx="213" cy="1484"/><circle cx="142" cy="1486"/><circle cx="141" cy="1484"/><circle cx="232" cy="1489"/><circle cx="214" cy="1486"/><circle cx="212" cy="1492"/><circle cx="232" cy="1482"/><circle cx="180" cy="1483"/><circle cx="200" cy="1481"/><circle cx="206" cy="1490"/><circle cx="187" cy="1494"/><circle cx="149" cy="1492"/><circle cx="213" cy="1482"/><circle cx="165" cy="1494"/><circle cx="151" cy="1490"/><circle cx="207" cy="1486"/><circle cx="170" cy="1484"/><circle cx="244" cy="1484"/><circle cx="150" cy="1482"/><circle cx="207" cy="1494"/><circle cx="206" cy="1483"/><circle cx="232" cy="1491"/><circle cx="159" cy="1480"/><circle cx="200" cy="1482"/><circle cx="162" cy="1484"/><circle cx="147" cy="1494"/><circle cx="247" cy="1481"/><circle cx="246" cy="1486"/><circle cx="177" cy="1485"/><circle cx="189" cy="1493"/><circle cx="246" cy="1491"/><circle cx="215" cy="1480"/><circle cx="237" cy="1491"/><circle cx="146" cy="1487"/><circle cx="192" cy="1482"/><circle cx="240" cy="1488"/><circle cx="174" cy="1484"/><circle cx="178" cy="1489"/><circle cx="201" cy="1483"/><circle cx="193" cy="1494"/><circle cx="246" cy="1489"/><circle cx="141" cy="1491"/><circle cx="177" cy="1488"/><circle cx="236" cy="1484"/><circle cx="238" cy="1481"/><circle cx="188" cy="1486"/><circle cx="227" cy="1483"/><circle cx="160" cy="1487"/><circle cx="223" cy="1493"/><circle cx="145" cy="1490"/><circle cx="185" cy="1488"/><circle cx="181" cy="1491"/><circle cx="193" cy="1485"/><circle cx="152" cy="1481"/><circle cx="153" cy="1486"/><circle cx="144" cy="1490"/><circle cx="190" cy="1490"/><circle cx="171" cy="1487"/><circle cx="237" cy="1493"/><circle cx="208" cy="1491"/><circle cx="197" cy="1493"/><circle cx="149" cy="1484"/><circle cx="237" cy="1486"/><circle cx="175" cy="1483"/><circle cx="197" cy="1481"/><circle cx="158" cy="1489"/><circle cx="172" cy="1480"/><circle cx="169" cy="1484"/><circle cx="214" cy="1485"/><circle cx="216" cy="1486"/><circle cx="207" cy="1482"/><circle cx="205" cy="1481"/><circle cx="222" cy="1483"/><circle cx="226" cy="1484"/><circle cx="235" cy="1487"/><circle cx="225" cy="1485"/><circle cx="214" cy="1482"/><circle cx="224" cy="1485"/><circle cx="213" cy="1485"/><circle cx="237" cy="1484"/><circle cx="221" cy="1482"/><circle cx="230" cy="1482"/><circle cx="268" cy="1478"/><circle cx="267" cy="1488"/><circle cx="272" cy="1490"/><circle cx="286" cy="1488"/><circle cx="298" cy="1488"/><circle cx="306" cy="1490"/><circle cx="314" cy="1476"/><circle cx="317" cy="1490"/><circle cx="320" cy="1491"/><circle cx="318" cy="1489"/><circle cx="320" cy="1483"/><circle cx="327" cy="1477"/><circle cx="323" cy="1484"/><circle cx="315" cy="1485"/><circle cx="326" cy="1490"/><circle cx="320" cy="1489"/><circle cx="313" cy="1485"/><circle cx="318" cy="1489"/><circle cx="325" cy="1493"/><circle cx="317" cy="1492"/><circle cx="324" cy="1485"/><circle cx="365" cy="1461"/><circle cx="381" cy="1491"/><circle cx="384" cy="1487"/><circle cx="389" cy="1492"/><circle cx="416" cy="1490"/><circle cx="418" cy="1488"/><circle cx="424" cy="1486"/><circle cx="428" cy="1492"/><circle cx="465" cy="1492"/><circle cx="475" cy="1492"/><circle cx="478" cy="1491"/><circle cx="485" cy="1487"/><circle cx="490" cy="1491"/><circle cx="508" cy="1492"/></g>
<circle cx="108.3" cy="1341.1" fill="#2456a5" stroke="#2456a5" stroke-width="2"/>
</g>
<g clip-path="url(#cD2)" fill="none" stroke-width="1.1">
<g stroke="#3a84c5"><circle cx="282" cy="1545"/><circle cx="286" cy="1546"/><circle cx="292" cy="1538"/><circle cx="297" cy="1538"/><circle cx="301" cy="1537"/><circle cx="306" cy="1539"/><circle cx="318" cy="1541"/><circle cx="294" cy="1540"/><circle cx="253" cy="1574"/><circle cx="267" cy="1576"/><circle cx="282" cy="1574"/><circle cx="246" cy="1602"/><circle cx="288" cy="1568"/><circle cx="293" cy="1568"/><circle cx="296" cy="1566"/><circle cx="299" cy="1567"/><circle cx="302" cy="1568"/><circle cx="308" cy="1567"/><circle cx="313" cy="1568"/><circle cx="314" cy="1567"/><circle cx="119" cy="1635"/><circle cx="119" cy="1640"/><circle cx="115" cy="1636"/><circle cx="119" cy="1639"/><circle cx="113" cy="1635"/><circle cx="116" cy="1633"/><circle cx="121" cy="1640"/><circle cx="122" cy="1641"/><circle cx="101" cy="1641"/><circle cx="118" cy="1643"/><circle cx="124" cy="1641"/><circle cx="116" cy="1630"/><circle cx="119" cy="1638"/><circle cx="118" cy="1638"/><circle cx="116" cy="1640"/><circle cx="116" cy="1639"/><circle cx="123" cy="1646"/><circle cx="121" cy="1637"/><circle cx="119" cy="1643"/><circle cx="115" cy="1638"/><circle cx="112" cy="1636"/><circle cx="125" cy="1642"/><circle cx="146" cy="1643"/><circle cx="108" cy="1669"/><circle cx="117" cy="1668"/><circle cx="111" cy="1657"/><circle cx="163" cy="1669"/><circle cx="140" cy="1673"/><circle cx="138" cy="1659"/><circle cx="168" cy="1659"/><circle cx="146" cy="1659"/><circle cx="148" cy="1670"/><circle cx="165" cy="1670"/><circle cx="126" cy="1659"/><circle cx="155" cy="1661"/><circle cx="124" cy="1663"/><circle cx="142" cy="1655"/><circle cx="158" cy="1661"/><circle cx="180" cy="1663"/><circle cx="149" cy="1666"/><circle cx="169" cy="1672"/><circle cx="152" cy="1663"/><circle cx="146" cy="1668"/><circle cx="157" cy="1666"/><circle cx="188" cy="1666"/><circle cx="183" cy="1664"/><circle cx="143" cy="1669"/><circle cx="127" cy="1663"/><circle cx="146" cy="1658"/><circle cx="170" cy="1665"/><circle cx="158" cy="1671"/><circle cx="137" cy="1660"/><circle cx="139" cy="1672"/><circle cx="149" cy="1662"/><circle cx="165" cy="1656"/><circle cx="183" cy="1661"/><circle cx="154" cy="1658"/><circle cx="166" cy="1666"/><circle cx="163" cy="1672"/><circle cx="183" cy="1673"/><circle cx="131" cy="1657"/><circle cx="123" cy="1656"/><circle cx="155" cy="1668"/><circle cx="171" cy="1659"/><circle cx="181" cy="1656"/><circle cx="153" cy="1667"/><circle cx="147" cy="1671"/><circle cx="139" cy="1660"/><circle cx="189" cy="1672"/><circle cx="168" cy="1660"/><circle cx="186" cy="1664"/><circle cx="128" cy="1659"/><circle cx="184" cy="1663"/><circle cx="178" cy="1661"/><circle cx="154" cy="1663"/><circle cx="151" cy="1672"/><circle cx="125" cy="1656"/><circle cx="129" cy="1654"/><circle cx="134" cy="1658"/><circle cx="137" cy="1668"/><circle cx="160" cy="1659"/><circle cx="125" cy="1660"/><circle cx="131" cy="1669"/><circle cx="144" cy="1666"/><circle cx="179" cy="1661"/><circle cx="173" cy="1656"/><circle cx="167" cy="1665"/><circle cx="152" cy="1660"/><circle cx="156" cy="1670"/><circle cx="138" cy="1673"/><circle cx="147" cy="1666"/><circle cx="168" cy="1660"/><circle cx="165" cy="1658"/><circle cx="164" cy="1660"/><circle cx="175" cy="1671"/><circle cx="183" cy="1671"/><circle cx="129" cy="1662"/><circle cx="151" cy="1665"/><circle cx="153" cy="1670"/><circle cx="139" cy="1660"/><circle cx="134" cy="1670"/><circle cx="175" cy="1666"/><circle cx="163" cy="1667"/><circle cx="136" cy="1664"/><circle cx="173" cy="1664"/><circle cx="154" cy="1667"/><circle cx="153" cy="1664"/><circle cx="135" cy="1667"/><circle cx="165" cy="1663"/><circle cx="148" cy="1663"/><circle cx="143" cy="1669"/><circle cx="139" cy="1666"/><circle cx="169" cy="1666"/><circle cx="142" cy="1660"/><circle cx="146" cy="1663"/><circle cx="153" cy="1667"/><circle cx="173" cy="1663"/><circle cx="151" cy="1667"/><circle cx="139" cy="1663"/><circle cx="142" cy="1665"/><circle cx="168" cy="1667"/><circle cx="253" cy="1624"/><circle cx="278" cy="1637"/><circle cx="282" cy="1624"/><circle cx="220" cy="1636"/><circle cx="224" cy="1626"/><circle cx="259" cy="1623"/><circle cx="327" cy="1635"/><circle cx="314" cy="1630"/><circle cx="249" cy="1624"/><circle cx="235" cy="1630"/><circle cx="317" cy="1630"/><circle cx="324" cy="1636"/><circle cx="311" cy="1637"/><circle cx="206" cy="1638"/><circle cx="326" cy="1625"/><circle cx="267" cy="1639"/><circle cx="296" cy="1634"/><circle cx="215" cy="1626"/><circle cx="279" cy="1638"/><circle cx="327" cy="1631"/><circle cx="257" cy="1626"/><circle cx="263" cy="1623"/><circle cx="313" cy="1629"/><circle cx="288" cy="1630"/><circle cx="245" cy="1622"/><circle cx="232" cy="1624"/><circle cx="200" cy="1626"/><circle cx="264" cy="1633"/><circle cx="283" cy="1632"/><circle cx="215" cy="1629"/><circle cx="255" cy="1623"/><circle cx="197" cy="1626"/><circle cx="202" cy="1625"/><circle cx="202" cy="1628"/><circle cx="204" cy="1623"/><circle cx="294" cy="1635"/><circle cx="312" cy="1622"/><circle cx="308" cy="1638"/><circle cx="250" cy="1639"/><circle cx="270" cy="1632"/><circle cx="240" cy="1636"/><circle cx="252" cy="1625"/><circle cx="278" cy="1631"/><circle cx="246" cy="1625"/><circle cx="307" cy="1625"/><circle cx="222" cy="1638"/><circle cx="331" cy="1626"/><circle cx="213" cy="1639"/><circle cx="221" cy="1629"/><circle cx="222" cy="1639"/><circle cx="280" cy="1625"/><circle cx="329" cy="1631"/><circle cx="240" cy="1631"/><circle cx="222" cy="1631"/><circle cx="229" cy="1637"/><circle cx="217" cy="1627"/><circle cx="317" cy="1627"/><circle cx="313" cy="1640"/><circle cx="293" cy="1632"/><circle cx="297" cy="1630"/><circle cx="253" cy="1634"/><circle cx="198" cy="1627"/><circle cx="202" cy="1634"/><circle cx="207" cy="1630"/><circle cx="277" cy="1629"/><circle cx="279" cy="1638"/><circle cx="212" cy="1629"/><circle cx="287" cy="1638"/><circle cx="302" cy="1638"/><circle cx="231" cy="1623"/><circle cx="241" cy="1637"/><circle cx="240" cy="1633"/><circle cx="201" cy="1631"/><circle cx="289" cy="1627"/><circle cx="309" cy="1628"/><circle cx="300" cy="1650"/><circle cx="207" cy="1667"/><circle cx="236" cy="1647"/><circle cx="295" cy="1658"/><circle cx="223" cy="1665"/><circle cx="216" cy="1650"/><circle cx="222" cy="1658"/><circle cx="225" cy="1671"/><circle cx="222" cy="1660"/><circle cx="202" cy="1662"/><circle cx="207" cy="1664"/><circle cx="229" cy="1672"/><circle cx="298" cy="1655"/><circle cx="205" cy="1652"/><circle cx="313" cy="1668"/><circle cx="273" cy="1659"/><circle cx="327" cy="1665"/><circle cx="255" cy="1670"/><circle cx="311" cy="1659"/><circle cx="250" cy="1669"/><circle cx="262" cy="1666"/><circle cx="299" cy="1654"/><circle cx="331" cy="1669"/><circle cx="250" cy="1664"/><circle cx="259" cy="1646"/><circle cx="310" cy="1648"/><circle cx="209" cy="1668"/><circle cx="279" cy="1665"/><circle cx="329" cy="1670"/><circle cx="309" cy="1671"/><circle cx="261" cy="1660"/><circle cx="212" cy="1664"/><circle cx="250" cy="1654"/><circle cx="273" cy="1671"/><circle cx="238" cy="1654"/><circle cx="283" cy="1669"/><circle cx="283" cy="1662"/><circle cx="297" cy="1655"/><circle cx="272" cy="1664"/><circle cx="318" cy="1671"/><circle cx="315" cy="1668"/><circle cx="308" cy="1651"/><circle cx="331" cy="1673"/><circle cx="288" cy="1653"/><circle cx="256" cy="1646"/><circle cx="209" cy="1670"/><circle cx="238" cy="1658"/><circle cx="323" cy="1645"/><circle cx="280" cy="1655"/><circle cx="296" cy="1658"/><circle cx="332" cy="1667"/><circle cx="198" cy="1665"/><circle cx="222" cy="1665"/><circle cx="255" cy="1651"/><circle cx="260" cy="1657"/><circle cx="330" cy="1661"/><circle cx="266" cy="1664"/><circle cx="284" cy="1650"/><circle cx="211" cy="1650"/><circle cx="273" cy="1664"/><circle cx="259" cy="1650"/><circle cx="265" cy="1647"/><circle cx="216" cy="1664"/><circle cx="237" cy="1673"/><circle cx="295" cy="1658"/><circle cx="321" cy="1648"/><circle cx="322" cy="1670"/><circle cx="206" cy="1671"/><circle cx="300" cy="1649"/><circle cx="250" cy="1660"/><circle cx="327" cy="1656"/><circle cx="316" cy="1662"/><circle cx="284" cy="1651"/><circle cx="323" cy="1670"/><circle cx="292" cy="1672"/><circle cx="201" cy="1663"/><circle cx="311" cy="1663"/><circle cx="198" cy="1667"/><circle cx="325" cy="1655"/><circle cx="278" cy="1650"/><circle cx="198" cy="1659"/><circle cx="276" cy="1672"/><circle cx="238" cy="1655"/><circle cx="324" cy="1662"/><circle cx="265" cy="1661"/><circle cx="260" cy="1653"/><circle cx="298" cy="1663"/><circle cx="265" cy="1657"/><circle cx="230" cy="1664"/><circle cx="216" cy="1662"/><circle cx="307" cy="1650"/><circle cx="272" cy="1672"/><circle cx="285" cy="1666"/><circle cx="275" cy="1652"/><circle cx="289" cy="1653"/><circle cx="310" cy="1643"/><circle cx="248" cy="1645"/><circle cx="293" cy="1647"/><circle cx="320" cy="1646"/><circle cx="260" cy="1640"/><circle cx="261" cy="1639"/><circle cx="291" cy="1645"/><circle cx="289" cy="1643"/><circle cx="301" cy="1645"/><circle cx="323" cy="1643"/><circle cx="225" cy="1641"/><circle cx="213" cy="1646"/><circle cx="220" cy="1624"/><circle cx="236" cy="1627"/><circle cx="201" cy="1620"/><circle cx="212" cy="1620"/><circle cx="226" cy="1628"/><circle cx="230" cy="1624"/><circle cx="241" cy="1625"/><circle cx="208" cy="1617"/><circle cx="232" cy="1624"/><circle cx="210" cy="1629"/><circle cx="221" cy="1625"/><circle cx="216" cy="1621"/><circle cx="218" cy="1625"/><circle cx="222" cy="1624"/><circle cx="222" cy="1621"/><circle cx="220" cy="1629"/><circle cx="222" cy="1629"/><circle cx="233" cy="1628"/><circle cx="253" cy="1639"/><circle cx="247" cy="1637"/><circle cx="260" cy="1639"/><circle cx="266" cy="1639"/><circle cx="266" cy="1639"/><circle cx="276" cy="1639"/><circle cx="267" cy="1644"/><circle cx="264" cy="1638"/><circle cx="264" cy="1638"/><circle cx="266" cy="1639"/><circle cx="251" cy="1638"/><circle cx="248" cy="1639"/><circle cx="274" cy="1636"/><circle cx="261" cy="1638"/><circle cx="289" cy="1630"/><circle cx="290" cy="1630"/><circle cx="298" cy="1629"/><circle cx="312" cy="1629"/><circle cx="301" cy="1625"/><circle cx="310" cy="1625"/><circle cx="303" cy="1626"/><circle cx="298" cy="1626"/><circle cx="327" cy="1625"/><circle cx="309" cy="1628"/><circle cx="317" cy="1626"/><circle cx="275" cy="1629"/><circle cx="303" cy="1631"/><circle cx="293" cy="1627"/><circle cx="267" cy="1631"/><circle cx="292" cy="1630"/><circle cx="319" cy="1638"/><circle cx="327" cy="1651"/><circle cx="321" cy="1637"/><circle cx="324" cy="1647"/><circle cx="325" cy="1640"/><circle cx="318" cy="1657"/><circle cx="332" cy="1635"/><circle cx="307" cy="1648"/><circle cx="323" cy="1643"/><circle cx="329" cy="1654"/><circle cx="312" cy="1641"/><circle cx="312" cy="1657"/><circle cx="258" cy="1665"/><circle cx="268" cy="1658"/><circle cx="257" cy="1657"/><circle cx="298" cy="1658"/><circle cx="286" cy="1659"/><circle cx="233" cy="1661"/><circle cx="291" cy="1654"/><circle cx="242" cy="1662"/><circle cx="275" cy="1655"/><circle cx="287" cy="1661"/><circle cx="245" cy="1661"/><circle cx="249" cy="1663"/><circle cx="268" cy="1657"/><circle cx="263" cy="1655"/><circle cx="265" cy="1662"/><circle cx="275" cy="1657"/><circle cx="293" cy="1666"/><circle cx="261" cy="1661"/><circle cx="268" cy="1664"/><circle cx="229" cy="1660"/><circle cx="274" cy="1659"/><circle cx="275" cy="1660"/><circle cx="274" cy="1658"/><circle cx="266" cy="1659"/><circle cx="290" cy="1658"/><circle cx="344" cy="1656"/><circle cx="365" cy="1656"/><circle cx="346" cy="1670"/><circle cx="355" cy="1668"/><circle cx="369" cy="1666"/><circle cx="377" cy="1669"/><circle cx="376" cy="1669"/><circle cx="383" cy="1667"/><circle cx="387" cy="1670"/><circle cx="388" cy="1670"/><circle cx="393" cy="1669"/><circle cx="396" cy="1668"/><circle cx="402" cy="1670"/><circle cx="408" cy="1671"/><circle cx="413" cy="1669"/><circle cx="413" cy="1672"/></g>
<circle cx="309.2" cy="1537.1" fill="#3a84c5" stroke="#e8212b" stroke-width="2"/>
</g>
<g clip-path="url(#cD3)" fill="none" stroke-width="1.1">
<g stroke="#f3a02b"><circle cx="106" cy="1752"/><circle cx="116" cy="1752"/><circle cx="109" cy="1750"/><circle cx="112" cy="1740"/><circle cx="111" cy="1751"/><circle cx="113" cy="1750"/><circle cx="119" cy="1746"/><circle cx="114" cy="1757"/><circle cx="103" cy="1748"/><circle cx="106" cy="1749"/><circle cx="115" cy="1758"/><circle cx="112" cy="1746"/><circle cx="114" cy="1745"/><circle cx="116" cy="1752"/><circle cx="106" cy="1745"/><circle cx="117" cy="1743"/><circle cx="111" cy="1744"/><circle cx="115" cy="1756"/><circle cx="112" cy="1781"/><circle cx="107" cy="1788"/><circle cx="183" cy="1789"/><circle cx="188" cy="1782"/><circle cx="199" cy="1788"/><circle cx="246" cy="1783"/><circle cx="282" cy="1789"/><circle cx="288" cy="1788"/><circle cx="314" cy="1781"/><circle cx="365" cy="1784"/><circle cx="147" cy="1793"/><circle cx="144" cy="1828"/><circle cx="161" cy="1817"/><circle cx="342" cy="1824"/><circle cx="378" cy="1822"/><circle cx="418" cy="1825"/><circle cx="122" cy="1819"/><circle cx="100" cy="1797"/><circle cx="115" cy="1787"/><circle cx="124" cy="1812"/><circle cx="108" cy="1811"/><circle cx="115" cy="1818"/><circle cx="118" cy="1832"/><circle cx="112" cy="1801"/><circle cx="111" cy="1812"/><circle cx="109" cy="1818"/><circle cx="106" cy="1823"/><circle cx="103" cy="1788"/><circle cx="106" cy="1792"/><circle cx="124" cy="1779"/><circle cx="116" cy="1813"/><circle cx="113" cy="1809"/><circle cx="116" cy="1793"/><circle cx="116" cy="1811"/><circle cx="106" cy="1844"/><circle cx="114" cy="1837"/><circle cx="114" cy="1809"/><circle cx="119" cy="1804"/><circle cx="128" cy="1831"/><circle cx="114" cy="1836"/><circle cx="119" cy="1835"/><circle cx="123" cy="1835"/><circle cx="111" cy="1839"/><circle cx="103" cy="1832"/><circle cx="112" cy="1836"/><circle cx="106" cy="1846"/><circle cx="116" cy="1837"/><circle cx="120" cy="1838"/><circle cx="124" cy="1834"/><circle cx="104" cy="1840"/><circle cx="139" cy="1800"/><circle cx="186" cy="1800"/><circle cx="187" cy="1811"/><circle cx="142" cy="1807"/><circle cx="160" cy="1807"/><circle cx="158" cy="1809"/><circle cx="171" cy="1806"/><circle cx="173" cy="1810"/><circle cx="162" cy="1797"/><circle cx="156" cy="1799"/><circle cx="146" cy="1797"/><circle cx="167" cy="1804"/><circle cx="171" cy="1796"/><circle cx="170" cy="1804"/><circle cx="154" cy="1810"/><circle cx="184" cy="1810"/><circle cx="185" cy="1810"/><circle cx="144" cy="1799"/><circle cx="180" cy="1806"/><circle cx="158" cy="1801"/><circle cx="163" cy="1800"/><circle cx="162" cy="1811"/><circle cx="162" cy="1796"/><circle cx="164" cy="1808"/><circle cx="167" cy="1811"/><circle cx="192" cy="1836"/><circle cx="184" cy="1840"/><circle cx="173" cy="1827"/><circle cx="164" cy="1840"/><circle cx="171" cy="1823"/><circle cx="179" cy="1837"/><circle cx="174" cy="1828"/><circle cx="186" cy="1824"/><circle cx="168" cy="1828"/><circle cx="172" cy="1827"/><circle cx="188" cy="1825"/><circle cx="181" cy="1840"/><circle cx="165" cy="1840"/><circle cx="165" cy="1831"/><circle cx="232" cy="1819"/><circle cx="213" cy="1826"/><circle cx="223" cy="1835"/><circle cx="204" cy="1822"/><circle cx="221" cy="1823"/><circle cx="224" cy="1833"/><circle cx="230" cy="1827"/><circle cx="224" cy="1828"/><circle cx="220" cy="1828"/><circle cx="231" cy="1825"/><circle cx="228" cy="1814"/><circle cx="219" cy="1833"/><circle cx="222" cy="1822"/><circle cx="246" cy="1814"/><circle cx="250" cy="1824"/><circle cx="222" cy="1812"/><circle cx="229" cy="1819"/><circle cx="199" cy="1839"/><circle cx="246" cy="1822"/><circle cx="210" cy="1833"/><circle cx="240" cy="1827"/><circle cx="215" cy="1826"/><circle cx="223" cy="1824"/><circle cx="218" cy="1827"/><circle cx="180" cy="1822"/><circle cx="240" cy="1821"/><circle cx="230" cy="1822"/><circle cx="219" cy="1831"/><circle cx="205" cy="1809"/><circle cx="182" cy="1821"/><circle cx="203" cy="1817"/><circle cx="242" cy="1818"/><circle cx="228" cy="1818"/><circle cx="232" cy="1823"/><circle cx="240" cy="1816"/><circle cx="227" cy="1826"/><circle cx="206" cy="1834"/><circle cx="197" cy="1827"/><circle cx="217" cy="1826"/><circle cx="247" cy="1827"/><circle cx="232" cy="1818"/><circle cx="238" cy="1828"/><circle cx="215" cy="1838"/><circle cx="209" cy="1833"/><circle cx="215" cy="1827"/><circle cx="220" cy="1828"/><circle cx="264" cy="1830"/><circle cx="227" cy="1843"/><circle cx="195" cy="1831"/><circle cx="226" cy="1826"/><circle cx="258" cy="1829"/><circle cx="232" cy="1819"/><circle cx="212" cy="1822"/><circle cx="234" cy="1836"/><circle cx="257" cy="1835"/><circle cx="213" cy="1828"/><circle cx="215" cy="1820"/><circle cx="211" cy="1810"/><circle cx="242" cy="1835"/><circle cx="244" cy="1828"/><circle cx="210" cy="1838"/><circle cx="242" cy="1823"/><circle cx="215" cy="1822"/><circle cx="247" cy="1832"/><circle cx="216" cy="1837"/><circle cx="195" cy="1824"/><circle cx="211" cy="1841"/><circle cx="215" cy="1829"/><circle cx="211" cy="1824"/><circle cx="217" cy="1843"/><circle cx="232" cy="1822"/><circle cx="222" cy="1838"/><circle cx="247" cy="1824"/><circle cx="215" cy="1822"/><circle cx="251" cy="1842"/><circle cx="204" cy="1831"/><circle cx="211" cy="1837"/><circle cx="198" cy="1822"/><circle cx="231" cy="1840"/><circle cx="255" cy="1823"/><circle cx="234" cy="1841"/><circle cx="218" cy="1832"/><circle cx="222" cy="1820"/><circle cx="217" cy="1824"/><circle cx="242" cy="1830"/><circle cx="196" cy="1837"/><circle cx="240" cy="1836"/><circle cx="198" cy="1822"/><circle cx="199" cy="1837"/><circle cx="249" cy="1842"/><circle cx="272" cy="1814"/><circle cx="258" cy="1821"/><circle cx="269" cy="1815"/><circle cx="274" cy="1814"/><circle cx="262" cy="1812"/><circle cx="262" cy="1813"/><circle cx="267" cy="1814"/><circle cx="269" cy="1818"/><circle cx="266" cy="1821"/><circle cx="270" cy="1814"/><circle cx="270" cy="1819"/><circle cx="259" cy="1813"/><circle cx="217" cy="1807"/><circle cx="240" cy="1813"/><circle cx="279" cy="1837"/><circle cx="274" cy="1840"/><circle cx="275" cy="1839"/><circle cx="259" cy="1840"/><circle cx="271" cy="1843"/><circle cx="272" cy="1844"/><circle cx="252" cy="1839"/><circle cx="270" cy="1838"/><circle cx="275" cy="1839"/><circle cx="270" cy="1839"/><circle cx="295" cy="1832"/><circle cx="322" cy="1821"/><circle cx="302" cy="1828"/><circle cx="306" cy="1837"/><circle cx="315" cy="1818"/><circle cx="293" cy="1829"/><circle cx="301" cy="1829"/><circle cx="311" cy="1823"/><circle cx="323" cy="1827"/><circle cx="313" cy="1823"/><circle cx="302" cy="1818"/><circle cx="285" cy="1813"/><circle cx="298" cy="1818"/><circle cx="296" cy="1831"/><circle cx="303" cy="1814"/><circle cx="294" cy="1827"/><circle cx="310" cy="1820"/><circle cx="296" cy="1845"/><circle cx="282" cy="1820"/><circle cx="287" cy="1824"/><circle cx="297" cy="1828"/><circle cx="302" cy="1830"/><circle cx="298" cy="1827"/><circle cx="288" cy="1817"/><circle cx="311" cy="1824"/><circle cx="306" cy="1822"/><circle cx="286" cy="1826"/><circle cx="303" cy="1812"/><circle cx="306" cy="1825"/><circle cx="300" cy="1822"/><circle cx="323" cy="1817"/><circle cx="320" cy="1826"/><circle cx="321" cy="1819"/><circle cx="322" cy="1813"/><circle cx="318" cy="1813"/><circle cx="313" cy="1822"/><circle cx="320" cy="1800"/><circle cx="319" cy="1816"/><circle cx="317" cy="1812"/><circle cx="322" cy="1809"/><circle cx="305" cy="1805"/><circle cx="301" cy="1807"/><circle cx="301" cy="1800"/><circle cx="299" cy="1807"/><circle cx="309" cy="1806"/><circle cx="299" cy="1801"/><circle cx="295" cy="1801"/><circle cx="309" cy="1803"/><circle cx="317" cy="1802"/><circle cx="326" cy="1831"/><circle cx="327" cy="1821"/><circle cx="348" cy="1839"/><circle cx="347" cy="1836"/><circle cx="341" cy="1837"/><circle cx="350" cy="1839"/><circle cx="344" cy="1834"/><circle cx="346" cy="1837"/><circle cx="343" cy="1839"/><circle cx="346" cy="1836"/><circle cx="355" cy="1834"/><circle cx="372" cy="1830"/><circle cx="374" cy="1839"/><circle cx="383" cy="1832"/><circle cx="389" cy="1835"/><circle cx="390" cy="1836"/><circle cx="405" cy="1838"/><circle cx="422" cy="1835"/><circle cx="429" cy="1838"/><circle cx="447" cy="1840"/><circle cx="474" cy="1834"/><circle cx="485" cy="1830"/><circle cx="486" cy="1840"/><circle cx="492" cy="1839"/><circle cx="497" cy="1837"/><circle cx="494" cy="1838"/></g>
<circle cx="113.3" cy="1732.1" fill="#f3a02b" stroke="#f3a02b" stroke-width="2"/>
</g>
<g clip-path="url(#cD4)" fill="none" stroke-width="1.1">
<g stroke="#e62330"><circle cx="282" cy="1929"/><circle cx="288" cy="1928"/><circle cx="293" cy="1930"/><circle cx="297" cy="1932"/><circle cx="301" cy="1935"/><circle cx="306" cy="1937"/><circle cx="307" cy="1939"/><circle cx="311" cy="1931"/><circle cx="310" cy="1935"/><circle cx="304" cy="1940"/><circle cx="294" cy="1937"/><circle cx="318" cy="1958"/><circle cx="253" cy="1969"/><circle cx="267" cy="1970"/><circle cx="282" cy="1962"/><circle cx="281" cy="1972"/><circle cx="239" cy="1980"/><circle cx="292" cy="1978"/><circle cx="297" cy="1990"/><circle cx="294" cy="1974"/><circle cx="301" cy="1972"/><circle cx="304" cy="1973"/><circle cx="314" cy="1978"/><circle cx="312" cy="1976"/><circle cx="282" cy="1967"/><circle cx="246" cy="2034"/><circle cx="181" cy="2074"/><circle cx="106" cy="2081"/><circle cx="504" cy="2106"/><circle cx="390" cy="2095"/><circle cx="211" cy="2063"/><circle cx="224" cy="2045"/><circle cx="219" cy="2047"/><circle cx="233" cy="2055"/><circle cx="231" cy="2053"/><circle cx="248" cy="2048"/><circle cx="220" cy="2055"/><circle cx="221" cy="2053"/><circle cx="223" cy="2056"/><circle cx="218" cy="2053"/><circle cx="214" cy="2057"/><circle cx="221" cy="2048"/><circle cx="221" cy="2056"/><circle cx="227" cy="2059"/><circle cx="235" cy="2051"/><circle cx="232" cy="2061"/><circle cx="210" cy="2053"/><circle cx="213" cy="2056"/><circle cx="209" cy="2053"/><circle cx="203" cy="2061"/><circle cx="198" cy="2064"/><circle cx="240" cy="2051"/><circle cx="218" cy="2055"/><circle cx="227" cy="2062"/><circle cx="219" cy="2058"/><circle cx="193" cy="2051"/><circle cx="200" cy="2069"/><circle cx="203" cy="2078"/><circle cx="211" cy="2074"/><circle cx="226" cy="2067"/><circle cx="239" cy="2048"/><circle cx="247" cy="2050"/><circle cx="257" cy="2058"/><circle cx="267" cy="2054"/><circle cx="275" cy="2053"/><circle cx="272" cy="2069"/><circle cx="281" cy="2065"/><circle cx="320" cy="2054"/><circle cx="286" cy="2052"/><circle cx="292" cy="2062"/><circle cx="310" cy="2061"/><circle cx="301" cy="2069"/><circle cx="318" cy="2052"/><circle cx="315" cy="2044"/><circle cx="293" cy="2047"/><circle cx="308" cy="2049"/><circle cx="316" cy="2041"/><circle cx="299" cy="2049"/><circle cx="290" cy="2058"/><circle cx="312" cy="2051"/><circle cx="290" cy="2052"/><circle cx="311" cy="2063"/><circle cx="313" cy="2049"/><circle cx="313" cy="2041"/><circle cx="301" cy="2048"/><circle cx="314" cy="2051"/><circle cx="314" cy="2054"/><circle cx="300" cy="2042"/><circle cx="308" cy="2054"/><circle cx="289" cy="2047"/><circle cx="290" cy="2057"/><circle cx="325" cy="2043"/><circle cx="331" cy="2039"/><circle cx="333" cy="2051"/><circle cx="322" cy="2054"/><circle cx="183" cy="2090"/><circle cx="185" cy="2097"/><circle cx="213" cy="2107"/><circle cx="211" cy="2100"/><circle cx="218" cy="2101"/><circle cx="205" cy="2100"/><circle cx="208" cy="2101"/><circle cx="207" cy="2097"/><circle cx="206" cy="2105"/><circle cx="211" cy="2107"/><circle cx="204" cy="2104"/><circle cx="220" cy="2104"/><circle cx="227" cy="2105"/><circle cx="238" cy="2102"/><circle cx="234" cy="2095"/><circle cx="204" cy="2102"/><circle cx="223" cy="2095"/><circle cx="218" cy="2105"/><circle cx="218" cy="2105"/><circle cx="213" cy="2104"/><circle cx="237" cy="2102"/><circle cx="223" cy="2103"/><circle cx="223" cy="2104"/><circle cx="197" cy="2103"/><circle cx="216" cy="2096"/><circle cx="221" cy="2097"/><circle cx="224" cy="2104"/><circle cx="221" cy="2107"/><circle cx="212" cy="2100"/><circle cx="231" cy="2105"/><circle cx="211" cy="2102"/><circle cx="227" cy="2109"/><circle cx="219" cy="2100"/><circle cx="203" cy="2103"/><circle cx="180" cy="2107"/><circle cx="208" cy="2094"/><circle cx="221" cy="2101"/><circle cx="278" cy="2092"/><circle cx="273" cy="2095"/><circle cx="325" cy="2084"/><circle cx="312" cy="2099"/><circle cx="288" cy="2104"/><circle cx="325" cy="2097"/><circle cx="311" cy="2100"/><circle cx="293" cy="2100"/><circle cx="250" cy="2083"/><circle cx="278" cy="2096"/><circle cx="314" cy="2102"/><circle cx="292" cy="2083"/><circle cx="293" cy="2100"/><circle cx="326" cy="2082"/><circle cx="322" cy="2084"/><circle cx="315" cy="2092"/><circle cx="284" cy="2082"/><circle cx="276" cy="2103"/><circle cx="292" cy="2087"/><circle cx="242" cy="2089"/><circle cx="303" cy="2099"/><circle cx="313" cy="2085"/><circle cx="255" cy="2082"/><circle cx="271" cy="2098"/><circle cx="280" cy="2084"/><circle cx="245" cy="2081"/><circle cx="261" cy="2093"/><circle cx="319" cy="2097"/><circle cx="280" cy="2084"/><circle cx="287" cy="2104"/><circle cx="311" cy="2098"/><circle cx="243" cy="2078"/><circle cx="264" cy="2103"/><circle cx="260" cy="2097"/><circle cx="240" cy="2088"/><circle cx="241" cy="2085"/><circle cx="259" cy="2095"/><circle cx="264" cy="2102"/><circle cx="325" cy="2079"/><circle cx="305" cy="2089"/><circle cx="304" cy="2095"/><circle cx="262" cy="2102"/><circle cx="300" cy="2083"/><circle cx="313" cy="2090"/><circle cx="240" cy="2087"/><circle cx="267" cy="2095"/><circle cx="323" cy="2099"/><circle cx="325" cy="2102"/><circle cx="255" cy="2105"/><circle cx="240" cy="2083"/><circle cx="249" cy="2097"/><circle cx="317" cy="2097"/><circle cx="254" cy="2104"/><circle cx="246" cy="2103"/><circle cx="267" cy="2102"/><circle cx="289" cy="2097"/><circle cx="261" cy="2079"/><circle cx="324" cy="2079"/><circle cx="268" cy="2103"/><circle cx="231" cy="2102"/><circle cx="254" cy="2095"/><circle cx="289" cy="2096"/><circle cx="320" cy="2080"/><circle cx="284" cy="2103"/><circle cx="236" cy="2080"/><circle cx="312" cy="2097"/><circle cx="263" cy="2098"/><circle cx="237" cy="2104"/><circle cx="294" cy="2085"/><circle cx="253" cy="2081"/><circle cx="272" cy="2094"/><circle cx="270" cy="2098"/><circle cx="274" cy="2103"/><circle cx="272" cy="2100"/><circle cx="272" cy="2103"/><circle cx="271" cy="2095"/><circle cx="273" cy="2101"/><circle cx="273" cy="2103"/><circle cx="336" cy="2105"/><circle cx="343" cy="2096"/><circle cx="346" cy="2094"/><circle cx="344" cy="2103"/><circle cx="355" cy="2105"/><circle cx="375" cy="2080"/><circle cx="375" cy="2085"/><circle cx="378" cy="2093"/><circle cx="373" cy="2100"/><circle cx="372" cy="2102"/><circle cx="380" cy="2101"/><circle cx="378" cy="2103"/><circle cx="376" cy="2103"/><circle cx="374" cy="2104"/><circle cx="378" cy="2099"/><circle cx="373" cy="2104"/></g>
</g>
<g clip-path="url(#cE1)" fill="none" stroke-width="1.1">
<g stroke="#2456a5"><circle cx="812" cy="1347"/><circle cx="816" cy="1344"/><circle cx="819" cy="1342"/><circle cx="826" cy="1347"/><circle cx="830" cy="1350"/><circle cx="834" cy="1349"/><circle cx="838" cy="1347"/><circle cx="840" cy="1351"/><circle cx="837" cy="1345"/><circle cx="833" cy="1351"/><circle cx="830" cy="1374"/><circle cx="777" cy="1388"/><circle cx="840" cy="1403"/><circle cx="831" cy="1402"/><circle cx="819" cy="1401"/><circle cx="815" cy="1399"/><circle cx="777" cy="1409"/><circle cx="780" cy="1409"/><circle cx="783" cy="1409"/><circle cx="783" cy="1407"/><circle cx="783" cy="1403"/><circle cx="784" cy="1404"/><circle cx="784" cy="1402"/><circle cx="787" cy="1403"/><circle cx="790" cy="1402"/><circle cx="793" cy="1402"/><circle cx="796" cy="1400"/><circle cx="796" cy="1398"/><circle cx="797" cy="1399"/><circle cx="798" cy="1398"/><circle cx="801" cy="1401"/><circle cx="802" cy="1399"/><circle cx="806" cy="1396"/><circle cx="807" cy="1399"/><circle cx="749" cy="1417"/><circle cx="752" cy="1419"/><circle cx="755" cy="1420"/><circle cx="754" cy="1423"/><circle cx="756" cy="1423"/><circle cx="760" cy="1427"/><circle cx="762" cy="1427"/><circle cx="765" cy="1427"/><circle cx="768" cy="1427"/><circle cx="771" cy="1425"/><circle cx="769" cy="1425"/><circle cx="775" cy="1428"/><circle cx="778" cy="1427"/><circle cx="781" cy="1425"/><circle cx="783" cy="1423"/><circle cx="786" cy="1424"/><circle cx="785" cy="1423"/><circle cx="790" cy="1424"/><circle cx="795" cy="1422"/><circle cx="791" cy="1423"/><circle cx="796" cy="1427"/><circle cx="798" cy="1427"/><circle cx="753" cy="1419"/><circle cx="752" cy="1418"/><circle cx="752" cy="1420"/><circle cx="755" cy="1415"/><circle cx="755" cy="1418"/><circle cx="752" cy="1421"/><circle cx="763" cy="1415"/><circle cx="783" cy="1442"/><circle cx="794" cy="1434"/><circle cx="729" cy="1443"/><circle cx="730" cy="1444"/><circle cx="731" cy="1445"/><circle cx="732" cy="1444"/><circle cx="735" cy="1443"/><circle cx="733" cy="1441"/><circle cx="736" cy="1444"/><circle cx="735" cy="1442"/><circle cx="738" cy="1439"/><circle cx="740" cy="1443"/><circle cx="736" cy="1441"/><circle cx="741" cy="1442"/><circle cx="742" cy="1443"/><circle cx="742" cy="1442"/><circle cx="744" cy="1443"/><circle cx="745" cy="1442"/><circle cx="744" cy="1440"/><circle cx="746" cy="1440"/><circle cx="746" cy="1441"/><circle cx="748" cy="1440"/><circle cx="748" cy="1441"/><circle cx="753" cy="1440"/><circle cx="729" cy="1453"/><circle cx="729" cy="1455"/><circle cx="731" cy="1455"/><circle cx="733" cy="1455"/><circle cx="736" cy="1458"/><circle cx="736" cy="1457"/><circle cx="739" cy="1459"/><circle cx="743" cy="1459"/><circle cx="742" cy="1456"/><circle cx="745" cy="1458"/><circle cx="744" cy="1459"/><circle cx="747" cy="1456"/><circle cx="703" cy="1454"/><circle cx="811" cy="1449"/><circle cx="824" cy="1454"/><circle cx="840" cy="1463"/><circle cx="808" cy="1470"/><circle cx="802" cy="1461"/><circle cx="791" cy="1459"/><circle cx="837" cy="1439"/><circle cx="840" cy="1442"/><circle cx="841" cy="1445"/><circle cx="843" cy="1440"/><circle cx="847" cy="1444"/><circle cx="845" cy="1448"/><circle cx="847" cy="1446"/><circle cx="854" cy="1447"/><circle cx="851" cy="1445"/><circle cx="854" cy="1449"/><circle cx="853" cy="1447"/><circle cx="856" cy="1448"/><circle cx="855" cy="1452"/><circle cx="859" cy="1451"/><circle cx="862" cy="1451"/><circle cx="862" cy="1452"/><circle cx="867" cy="1451"/><circle cx="863" cy="1451"/><circle cx="869" cy="1453"/><circle cx="869" cy="1454"/><circle cx="873" cy="1452"/><circle cx="873" cy="1450"/><circle cx="878" cy="1453"/><circle cx="878" cy="1453"/><circle cx="880" cy="1451"/><circle cx="884" cy="1453"/><circle cx="882" cy="1454"/><circle cx="882" cy="1452"/><circle cx="885" cy="1450"/><circle cx="884" cy="1451"/><circle cx="889" cy="1452"/><circle cx="893" cy="1450"/><circle cx="894" cy="1452"/><circle cx="893" cy="1450"/><circle cx="896" cy="1455"/><circle cx="897" cy="1454"/><circle cx="899" cy="1450"/><circle cx="899" cy="1452"/><circle cx="903" cy="1452"/><circle cx="908" cy="1453"/><circle cx="909" cy="1452"/><circle cx="910" cy="1453"/><circle cx="912" cy="1453"/><circle cx="913" cy="1453"/><circle cx="914" cy="1450"/><circle cx="929" cy="1458"/><circle cx="929" cy="1461"/><circle cx="932" cy="1458"/><circle cx="935" cy="1461"/><circle cx="937" cy="1457"/><circle cx="943" cy="1456"/><circle cx="950" cy="1457"/><circle cx="952" cy="1462"/><circle cx="952" cy="1458"/><circle cx="956" cy="1459"/><circle cx="961" cy="1457"/><circle cx="962" cy="1457"/><circle cx="967" cy="1458"/><circle cx="973" cy="1459"/><circle cx="973" cy="1459"/><circle cx="976" cy="1460"/><circle cx="980" cy="1457"/><circle cx="982" cy="1460"/><circle cx="986" cy="1458"/><circle cx="989" cy="1457"/><circle cx="992" cy="1459"/><circle cx="997" cy="1456"/><circle cx="999" cy="1458"/><circle cx="1003" cy="1461"/><circle cx="1005" cy="1459"/><circle cx="1011" cy="1458"/><circle cx="1015" cy="1459"/><circle cx="1018" cy="1458"/><circle cx="1019" cy="1458"/><circle cx="1026" cy="1458"/><circle cx="780" cy="1466"/><circle cx="695" cy="1464"/><circle cx="739" cy="1476"/><circle cx="695" cy="1473"/><circle cx="771" cy="1458"/><circle cx="775" cy="1476"/><circle cx="728" cy="1468"/><circle cx="689" cy="1466"/><circle cx="713" cy="1461"/><circle cx="706" cy="1461"/><circle cx="713" cy="1470"/><circle cx="727" cy="1480"/><circle cx="774" cy="1473"/><circle cx="705" cy="1465"/><circle cx="736" cy="1471"/><circle cx="743" cy="1479"/><circle cx="801" cy="1464"/><circle cx="805" cy="1463"/><circle cx="712" cy="1479"/><circle cx="749" cy="1469"/><circle cx="759" cy="1461"/><circle cx="746" cy="1477"/><circle cx="689" cy="1472"/><circle cx="721" cy="1473"/><circle cx="796" cy="1475"/><circle cx="749" cy="1479"/><circle cx="761" cy="1478"/><circle cx="707" cy="1464"/><circle cx="707" cy="1465"/><circle cx="693" cy="1469"/><circle cx="736" cy="1472"/><circle cx="729" cy="1467"/><circle cx="697" cy="1476"/><circle cx="732" cy="1475"/><circle cx="784" cy="1478"/><circle cx="704" cy="1480"/><circle cx="700" cy="1471"/><circle cx="777" cy="1480"/><circle cx="766" cy="1473"/><circle cx="700" cy="1459"/><circle cx="773" cy="1459"/><circle cx="796" cy="1462"/><circle cx="728" cy="1470"/><circle cx="707" cy="1459"/><circle cx="750" cy="1476"/><circle cx="786" cy="1476"/><circle cx="717" cy="1460"/><circle cx="750" cy="1479"/><circle cx="795" cy="1473"/><circle cx="732" cy="1467"/><circle cx="715" cy="1472"/><circle cx="767" cy="1462"/><circle cx="702" cy="1460"/><circle cx="777" cy="1462"/><circle cx="784" cy="1474"/><circle cx="726" cy="1474"/><circle cx="789" cy="1461"/><circle cx="711" cy="1478"/><circle cx="724" cy="1463"/><circle cx="742" cy="1466"/><circle cx="849" cy="1489"/><circle cx="942" cy="1489"/><circle cx="811" cy="1490"/><circle cx="958" cy="1487"/><circle cx="702" cy="1485"/><circle cx="688" cy="1487"/><circle cx="1007" cy="1485"/><circle cx="792" cy="1490"/><circle cx="776" cy="1483"/><circle cx="721" cy="1491"/><circle cx="823" cy="1490"/><circle cx="717" cy="1485"/><circle cx="845" cy="1484"/><circle cx="865" cy="1488"/><circle cx="699" cy="1491"/><circle cx="774" cy="1487"/><circle cx="924" cy="1483"/><circle cx="898" cy="1482"/><circle cx="851" cy="1487"/><circle cx="717" cy="1486"/><circle cx="1008" cy="1482"/><circle cx="900" cy="1485"/><circle cx="929" cy="1484"/><circle cx="712" cy="1489"/><circle cx="708" cy="1483"/><circle cx="696" cy="1484"/><circle cx="813" cy="1491"/><circle cx="983" cy="1482"/><circle cx="745" cy="1487"/><circle cx="694" cy="1482"/><circle cx="658" cy="1490"/><circle cx="660" cy="1490"/><circle cx="644" cy="1482"/><circle cx="637" cy="1490"/><circle cx="964" cy="1486"/><circle cx="640" cy="1484"/><circle cx="789" cy="1487"/><circle cx="781" cy="1491"/><circle cx="675" cy="1485"/><circle cx="938" cy="1482"/><circle cx="696" cy="1490"/><circle cx="989" cy="1487"/><circle cx="632" cy="1487"/><circle cx="916" cy="1490"/><circle cx="979" cy="1486"/><circle cx="873" cy="1484"/><circle cx="969" cy="1486"/><circle cx="820" cy="1486"/><circle cx="722" cy="1489"/><circle cx="747" cy="1489"/><circle cx="1025" cy="1485"/><circle cx="653" cy="1485"/><circle cx="1023" cy="1485"/><circle cx="794" cy="1487"/><circle cx="678" cy="1486"/><circle cx="776" cy="1483"/><circle cx="802" cy="1485"/><circle cx="638" cy="1482"/><circle cx="693" cy="1484"/><circle cx="862" cy="1491"/><circle cx="900" cy="1491"/><circle cx="811" cy="1490"/><circle cx="942" cy="1484"/><circle cx="652" cy="1486"/><circle cx="1004" cy="1487"/><circle cx="754" cy="1490"/><circle cx="632" cy="1483"/><circle cx="996" cy="1482"/><circle cx="710" cy="1482"/><circle cx="865" cy="1490"/><circle cx="962" cy="1491"/><circle cx="788" cy="1486"/><circle cx="996" cy="1485"/><circle cx="661" cy="1489"/><circle cx="970" cy="1491"/><circle cx="683" cy="1485"/><circle cx="697" cy="1486"/><circle cx="953" cy="1488"/><circle cx="820" cy="1487"/><circle cx="1020" cy="1488"/><circle cx="753" cy="1490"/><circle cx="803" cy="1483"/><circle cx="993" cy="1488"/><circle cx="638" cy="1491"/><circle cx="957" cy="1489"/><circle cx="729" cy="1489"/><circle cx="941" cy="1481"/><circle cx="679" cy="1482"/><circle cx="913" cy="1488"/><circle cx="911" cy="1483"/><circle cx="768" cy="1483"/><circle cx="908" cy="1482"/><circle cx="944" cy="1482"/><circle cx="671" cy="1482"/><circle cx="724" cy="1482"/><circle cx="927" cy="1482"/><circle cx="976" cy="1484"/><circle cx="929" cy="1490"/><circle cx="738" cy="1489"/><circle cx="898" cy="1485"/><circle cx="978" cy="1482"/><circle cx="752" cy="1483"/><circle cx="889" cy="1486"/><circle cx="700" cy="1486"/><circle cx="708" cy="1490"/><circle cx="1002" cy="1485"/><circle cx="811" cy="1487"/><circle cx="883" cy="1483"/><circle cx="988" cy="1486"/><circle cx="893" cy="1490"/><circle cx="939" cy="1490"/><circle cx="753" cy="1486"/><circle cx="958" cy="1487"/><circle cx="842" cy="1491"/><circle cx="976" cy="1490"/><circle cx="946" cy="1487"/><circle cx="724" cy="1483"/><circle cx="728" cy="1490"/><circle cx="949" cy="1482"/><circle cx="867" cy="1483"/><circle cx="734" cy="1483"/><circle cx="946" cy="1485"/><circle cx="750" cy="1484"/><circle cx="738" cy="1483"/><circle cx="852" cy="1488"/><circle cx="941" cy="1489"/><circle cx="833" cy="1490"/><circle cx="686" cy="1490"/><circle cx="733" cy="1483"/><circle cx="668" cy="1484"/><circle cx="854" cy="1490"/><circle cx="656" cy="1483"/><circle cx="855" cy="1482"/><circle cx="669" cy="1482"/><circle cx="794" cy="1488"/><circle cx="822" cy="1490"/><circle cx="920" cy="1489"/><circle cx="846" cy="1490"/><circle cx="871" cy="1482"/><circle cx="954" cy="1487"/><circle cx="898" cy="1482"/><circle cx="855" cy="1477"/><circle cx="857" cy="1476"/><circle cx="907" cy="1474"/><circle cx="914" cy="1479"/><circle cx="873" cy="1483"/><circle cx="887" cy="1472"/><circle cx="913" cy="1479"/><circle cx="887" cy="1484"/><circle cx="903" cy="1476"/><circle cx="911" cy="1473"/><circle cx="863" cy="1472"/><circle cx="892" cy="1475"/><circle cx="851" cy="1480"/><circle cx="865" cy="1474"/><circle cx="861" cy="1476"/><circle cx="856" cy="1475"/><circle cx="920" cy="1485"/><circle cx="879" cy="1478"/><circle cx="854" cy="1474"/><circle cx="908" cy="1472"/><circle cx="886" cy="1474"/><circle cx="900" cy="1479"/><circle cx="884" cy="1483"/><circle cx="891" cy="1479"/><circle cx="860" cy="1480"/><circle cx="889" cy="1483"/><circle cx="900" cy="1474"/><circle cx="909" cy="1473"/><circle cx="916" cy="1484"/><circle cx="874" cy="1475"/><circle cx="882" cy="1475"/><circle cx="861" cy="1473"/><circle cx="919" cy="1477"/><circle cx="858" cy="1473"/><circle cx="855" cy="1475"/><circle cx="898" cy="1478"/><circle cx="918" cy="1481"/><circle cx="920" cy="1484"/><circle cx="890" cy="1475"/><circle cx="1008" cy="1488"/><circle cx="955" cy="1487"/><circle cx="951" cy="1480"/><circle cx="971" cy="1480"/><circle cx="997" cy="1486"/><circle cx="979" cy="1483"/><circle cx="966" cy="1488"/><circle cx="972" cy="1481"/><circle cx="1019" cy="1480"/><circle cx="932" cy="1475"/><circle cx="976" cy="1487"/><circle cx="940" cy="1477"/><circle cx="1024" cy="1483"/><circle cx="945" cy="1486"/><circle cx="985" cy="1478"/><circle cx="983" cy="1488"/><circle cx="1003" cy="1486"/><circle cx="1024" cy="1490"/><circle cx="955" cy="1486"/><circle cx="952" cy="1485"/><circle cx="1022" cy="1490"/><circle cx="946" cy="1482"/><circle cx="1026" cy="1481"/><circle cx="947" cy="1483"/><circle cx="955" cy="1475"/><circle cx="946" cy="1483"/><circle cx="1010" cy="1480"/><circle cx="946" cy="1484"/><circle cx="1020" cy="1482"/><circle cx="950" cy="1480"/><circle cx="927" cy="1481"/><circle cx="1001" cy="1487"/><circle cx="943" cy="1476"/><circle cx="988" cy="1490"/><circle cx="985" cy="1484"/><circle cx="992" cy="1483"/><circle cx="984" cy="1476"/><circle cx="1000" cy="1478"/><circle cx="939" cy="1484"/><circle cx="972" cy="1478"/></g>
<circle cx="822.6" cy="1341.7" fill="#2456a5" stroke="#e8212b" stroke-width="2"/>
</g>
<g clip-path="url(#cE2)" fill="none" stroke-width="1.1">
<g stroke="#3a84c5"><circle cx="812" cy="1543"/><circle cx="816" cy="1540"/><circle cx="819" cy="1538"/><circle cx="826" cy="1543"/><circle cx="830" cy="1546"/><circle cx="834" cy="1545"/><circle cx="838" cy="1543"/><circle cx="840" cy="1547"/><circle cx="837" cy="1541"/><circle cx="833" cy="1545"/><circle cx="618" cy="1683"/><circle cx="830" cy="1564"/><circle cx="777" cy="1584"/><circle cx="840" cy="1604"/><circle cx="831" cy="1594"/><circle cx="819" cy="1593"/><circle cx="815" cy="1594"/><circle cx="801" cy="1591"/><circle cx="805" cy="1595"/><circle cx="781" cy="1609"/><circle cx="780" cy="1608"/><circle cx="778" cy="1607"/><circle cx="782" cy="1610"/><circle cx="781" cy="1607"/><circle cx="784" cy="1604"/><circle cx="785" cy="1605"/><circle cx="786" cy="1606"/><circle cx="789" cy="1606"/><circle cx="789" cy="1606"/><circle cx="787" cy="1604"/><circle cx="791" cy="1604"/><circle cx="796" cy="1606"/><circle cx="795" cy="1604"/><circle cx="796" cy="1603"/><circle cx="796" cy="1604"/><circle cx="752" cy="1613"/><circle cx="754" cy="1617"/><circle cx="756" cy="1619"/><circle cx="757" cy="1624"/><circle cx="761" cy="1623"/><circle cx="758" cy="1626"/><circle cx="764" cy="1626"/><circle cx="762" cy="1630"/><circle cx="766" cy="1630"/><circle cx="768" cy="1628"/><circle cx="770" cy="1630"/><circle cx="773" cy="1628"/><circle cx="775" cy="1629"/><circle cx="783" cy="1628"/><circle cx="781" cy="1625"/><circle cx="784" cy="1628"/><circle cx="789" cy="1628"/><circle cx="785" cy="1629"/><circle cx="793" cy="1625"/><circle cx="791" cy="1623"/><circle cx="794" cy="1628"/><circle cx="799" cy="1623"/><circle cx="763" cy="1615"/><circle cx="783" cy="1645"/><circle cx="794" cy="1637"/><circle cx="790" cy="1616"/><circle cx="729" cy="1644"/><circle cx="731" cy="1640"/><circle cx="732" cy="1641"/><circle cx="732" cy="1640"/><circle cx="734" cy="1641"/><circle cx="736" cy="1642"/><circle cx="735" cy="1636"/><circle cx="738" cy="1639"/><circle cx="740" cy="1641"/><circle cx="739" cy="1639"/><circle cx="739" cy="1636"/><circle cx="742" cy="1637"/><circle cx="744" cy="1638"/><circle cx="745" cy="1637"/><circle cx="748" cy="1638"/><circle cx="749" cy="1638"/><circle cx="748" cy="1637"/><circle cx="749" cy="1635"/><circle cx="749" cy="1636"/><circle cx="753" cy="1637"/><circle cx="753" cy="1635"/><circle cx="755" cy="1634"/><circle cx="730" cy="1655"/><circle cx="734" cy="1654"/><circle cx="734" cy="1655"/><circle cx="736" cy="1655"/><circle cx="738" cy="1655"/><circle cx="743" cy="1655"/><circle cx="742" cy="1657"/><circle cx="740" cy="1655"/><circle cx="745" cy="1654"/><circle cx="744" cy="1657"/><circle cx="750" cy="1655"/><circle cx="751" cy="1652"/><circle cx="703" cy="1653"/><circle cx="811" cy="1652"/><circle cx="824" cy="1653"/><circle cx="840" cy="1659"/><circle cx="808" cy="1668"/><circle cx="802" cy="1658"/><circle cx="791" cy="1661"/><circle cx="841" cy="1633"/><circle cx="842" cy="1638"/><circle cx="844" cy="1639"/><circle cx="846" cy="1636"/><circle cx="846" cy="1641"/><circle cx="846" cy="1643"/><circle cx="850" cy="1641"/><circle cx="849" cy="1643"/><circle cx="852" cy="1644"/><circle cx="856" cy="1643"/><circle cx="853" cy="1644"/><circle cx="859" cy="1643"/><circle cx="860" cy="1644"/><circle cx="861" cy="1641"/><circle cx="865" cy="1642"/><circle cx="863" cy="1645"/><circle cx="863" cy="1644"/><circle cx="868" cy="1647"/><circle cx="867" cy="1646"/><circle cx="874" cy="1646"/><circle cx="874" cy="1645"/><circle cx="874" cy="1645"/><circle cx="876" cy="1647"/><circle cx="879" cy="1643"/><circle cx="882" cy="1647"/><circle cx="883" cy="1644"/><circle cx="885" cy="1646"/><circle cx="887" cy="1645"/><circle cx="887" cy="1642"/><circle cx="889" cy="1642"/><circle cx="891" cy="1646"/><circle cx="890" cy="1646"/><circle cx="895" cy="1647"/><circle cx="897" cy="1646"/><circle cx="898" cy="1646"/><circle cx="901" cy="1645"/><circle cx="904" cy="1647"/><circle cx="904" cy="1647"/><circle cx="904" cy="1645"/><circle cx="907" cy="1648"/><circle cx="906" cy="1651"/><circle cx="910" cy="1650"/><circle cx="915" cy="1652"/><circle cx="913" cy="1654"/><circle cx="917" cy="1650"/><circle cx="928" cy="1662"/><circle cx="931" cy="1660"/><circle cx="932" cy="1659"/><circle cx="937" cy="1661"/><circle cx="939" cy="1659"/><circle cx="944" cy="1660"/><circle cx="947" cy="1661"/><circle cx="952" cy="1663"/><circle cx="954" cy="1660"/><circle cx="957" cy="1662"/><circle cx="961" cy="1660"/><circle cx="964" cy="1661"/><circle cx="967" cy="1657"/><circle cx="971" cy="1657"/><circle cx="976" cy="1661"/><circle cx="979" cy="1659"/><circle cx="980" cy="1661"/><circle cx="986" cy="1660"/><circle cx="988" cy="1660"/><circle cx="990" cy="1659"/><circle cx="991" cy="1658"/><circle cx="998" cy="1661"/><circle cx="998" cy="1662"/><circle cx="1004" cy="1660"/><circle cx="1007" cy="1660"/><circle cx="1013" cy="1660"/><circle cx="1013" cy="1667"/><circle cx="1015" cy="1660"/><circle cx="1022" cy="1661"/><circle cx="1023" cy="1662"/><circle cx="722" cy="1668"/><circle cx="804" cy="1662"/><circle cx="732" cy="1660"/><circle cx="738" cy="1672"/><circle cx="732" cy="1664"/><circle cx="760" cy="1664"/><circle cx="726" cy="1657"/><circle cx="716" cy="1667"/><circle cx="708" cy="1659"/><circle cx="713" cy="1660"/><circle cx="755" cy="1664"/><circle cx="737" cy="1670"/><circle cx="804" cy="1677"/><circle cx="756" cy="1657"/><circle cx="741" cy="1665"/><circle cx="733" cy="1668"/><circle cx="688" cy="1667"/><circle cx="743" cy="1674"/><circle cx="766" cy="1659"/><circle cx="748" cy="1659"/><circle cx="733" cy="1662"/><circle cx="783" cy="1666"/><circle cx="737" cy="1660"/><circle cx="700" cy="1673"/><circle cx="721" cy="1674"/><circle cx="784" cy="1664"/><circle cx="706" cy="1670"/><circle cx="718" cy="1660"/><circle cx="748" cy="1674"/><circle cx="687" cy="1668"/><circle cx="790" cy="1674"/><circle cx="788" cy="1670"/><circle cx="742" cy="1666"/><circle cx="751" cy="1659"/><circle cx="742" cy="1672"/><circle cx="766" cy="1659"/><circle cx="803" cy="1657"/><circle cx="730" cy="1667"/><circle cx="720" cy="1673"/><circle cx="758" cy="1668"/><circle cx="795" cy="1662"/><circle cx="732" cy="1664"/><circle cx="766" cy="1664"/><circle cx="774" cy="1669"/><circle cx="744" cy="1672"/><circle cx="778" cy="1664"/><circle cx="761" cy="1658"/><circle cx="759" cy="1665"/><circle cx="721" cy="1657"/><circle cx="799" cy="1676"/><circle cx="805" cy="1671"/><circle cx="762" cy="1660"/><circle cx="746" cy="1672"/><circle cx="798" cy="1665"/><circle cx="698" cy="1659"/><circle cx="664" cy="1683"/><circle cx="687" cy="1686"/><circle cx="947" cy="1684"/><circle cx="777" cy="1679"/><circle cx="693" cy="1684"/><circle cx="982" cy="1683"/><circle cx="812" cy="1686"/><circle cx="821" cy="1687"/><circle cx="712" cy="1678"/><circle cx="901" cy="1682"/><circle cx="833" cy="1685"/><circle cx="836" cy="1681"/><circle cx="803" cy="1684"/><circle cx="675" cy="1679"/><circle cx="813" cy="1687"/><circle cx="995" cy="1680"/><circle cx="811" cy="1680"/><circle cx="1017" cy="1679"/><circle cx="795" cy="1678"/><circle cx="874" cy="1679"/><circle cx="668" cy="1683"/><circle cx="831" cy="1679"/><circle cx="1003" cy="1678"/><circle cx="886" cy="1683"/><circle cx="958" cy="1678"/><circle cx="850" cy="1678"/><circle cx="888" cy="1681"/><circle cx="684" cy="1687"/><circle cx="666" cy="1681"/><circle cx="742" cy="1681"/><circle cx="925" cy="1678"/><circle cx="647" cy="1678"/><circle cx="740" cy="1685"/><circle cx="897" cy="1681"/><circle cx="654" cy="1678"/><circle cx="922" cy="1683"/><circle cx="695" cy="1684"/><circle cx="960" cy="1686"/><circle cx="937" cy="1681"/><circle cx="671" cy="1685"/><circle cx="890" cy="1686"/><circle cx="856" cy="1680"/><circle cx="789" cy="1684"/><circle cx="833" cy="1684"/><circle cx="987" cy="1679"/><circle cx="674" cy="1682"/><circle cx="891" cy="1686"/><circle cx="911" cy="1687"/><circle cx="882" cy="1686"/><circle cx="947" cy="1679"/><circle cx="771" cy="1678"/><circle cx="650" cy="1685"/><circle cx="954" cy="1682"/><circle cx="808" cy="1682"/><circle cx="773" cy="1682"/><circle cx="769" cy="1687"/><circle cx="919" cy="1679"/><circle cx="926" cy="1681"/><circle cx="891" cy="1681"/><circle cx="701" cy="1684"/><circle cx="963" cy="1683"/><circle cx="820" cy="1685"/><circle cx="866" cy="1681"/><circle cx="980" cy="1680"/><circle cx="818" cy="1680"/><circle cx="751" cy="1683"/><circle cx="832" cy="1683"/><circle cx="714" cy="1685"/><circle cx="935" cy="1686"/><circle cx="870" cy="1686"/><circle cx="778" cy="1685"/><circle cx="1009" cy="1679"/><circle cx="920" cy="1684"/><circle cx="775" cy="1680"/><circle cx="935" cy="1681"/><circle cx="1006" cy="1685"/><circle cx="737" cy="1686"/><circle cx="751" cy="1684"/><circle cx="697" cy="1680"/><circle cx="1022" cy="1682"/><circle cx="919" cy="1687"/><circle cx="672" cy="1685"/><circle cx="990" cy="1684"/><circle cx="824" cy="1680"/><circle cx="753" cy="1680"/><circle cx="712" cy="1687"/><circle cx="997" cy="1686"/><circle cx="826" cy="1681"/><circle cx="832" cy="1680"/><circle cx="734" cy="1679"/><circle cx="909" cy="1680"/><circle cx="833" cy="1678"/><circle cx="953" cy="1687"/><circle cx="698" cy="1683"/><circle cx="821" cy="1683"/><circle cx="898" cy="1678"/><circle cx="677" cy="1686"/><circle cx="762" cy="1685"/><circle cx="828" cy="1682"/><circle cx="685" cy="1686"/><circle cx="828" cy="1685"/><circle cx="775" cy="1679"/><circle cx="1016" cy="1684"/><circle cx="1009" cy="1681"/><circle cx="742" cy="1682"/><circle cx="905" cy="1684"/><circle cx="831" cy="1683"/><circle cx="698" cy="1683"/><circle cx="815" cy="1678"/><circle cx="836" cy="1680"/><circle cx="914" cy="1682"/><circle cx="656" cy="1683"/><circle cx="750" cy="1687"/><circle cx="998" cy="1686"/><circle cx="663" cy="1678"/><circle cx="834" cy="1683"/><circle cx="761" cy="1683"/><circle cx="761" cy="1686"/><circle cx="643" cy="1682"/><circle cx="721" cy="1684"/><circle cx="673" cy="1685"/><circle cx="717" cy="1687"/><circle cx="737" cy="1682"/><circle cx="966" cy="1678"/><circle cx="971" cy="1682"/><circle cx="816" cy="1681"/><circle cx="691" cy="1681"/><circle cx="822" cy="1680"/><circle cx="804" cy="1684"/><circle cx="898" cy="1685"/><circle cx="906" cy="1680"/><circle cx="1016" cy="1683"/><circle cx="831" cy="1684"/><circle cx="792" cy="1687"/><circle cx="811" cy="1680"/><circle cx="792" cy="1686"/><circle cx="692" cy="1681"/><circle cx="807" cy="1685"/><circle cx="696" cy="1678"/><circle cx="807" cy="1686"/><circle cx="867" cy="1679"/><circle cx="912" cy="1672"/><circle cx="919" cy="1669"/><circle cx="857" cy="1681"/><circle cx="854" cy="1680"/><circle cx="914" cy="1680"/><circle cx="878" cy="1670"/><circle cx="889" cy="1668"/><circle cx="911" cy="1674"/><circle cx="890" cy="1678"/><circle cx="873" cy="1673"/><circle cx="874" cy="1669"/><circle cx="903" cy="1682"/><circle cx="895" cy="1681"/><circle cx="878" cy="1668"/><circle cx="870" cy="1674"/><circle cx="878" cy="1680"/><circle cx="917" cy="1680"/><circle cx="911" cy="1681"/><circle cx="910" cy="1675"/><circle cx="854" cy="1670"/><circle cx="876" cy="1680"/><circle cx="860" cy="1676"/><circle cx="860" cy="1676"/><circle cx="869" cy="1673"/><circle cx="893" cy="1678"/><circle cx="857" cy="1681"/><circle cx="851" cy="1669"/><circle cx="899" cy="1673"/><circle cx="904" cy="1675"/><circle cx="882" cy="1681"/><circle cx="860" cy="1672"/><circle cx="872" cy="1674"/><circle cx="896" cy="1670"/><circle cx="882" cy="1678"/><circle cx="874" cy="1672"/><circle cx="913" cy="1676"/><circle cx="866" cy="1670"/><circle cx="870" cy="1682"/><circle cx="895" cy="1671"/><circle cx="950" cy="1672"/><circle cx="963" cy="1674"/><circle cx="943" cy="1678"/><circle cx="953" cy="1685"/><circle cx="979" cy="1683"/><circle cx="995" cy="1675"/><circle cx="937" cy="1685"/><circle cx="1024" cy="1685"/><circle cx="974" cy="1673"/><circle cx="1015" cy="1673"/><circle cx="945" cy="1676"/><circle cx="933" cy="1680"/><circle cx="951" cy="1680"/><circle cx="980" cy="1686"/><circle cx="939" cy="1674"/><circle cx="990" cy="1671"/><circle cx="1023" cy="1677"/><circle cx="958" cy="1683"/><circle cx="952" cy="1684"/><circle cx="990" cy="1681"/><circle cx="966" cy="1672"/><circle cx="954" cy="1671"/><circle cx="994" cy="1679"/><circle cx="975" cy="1672"/><circle cx="958" cy="1681"/><circle cx="1004" cy="1679"/><circle cx="1023" cy="1681"/><circle cx="1004" cy="1684"/><circle cx="986" cy="1684"/><circle cx="930" cy="1676"/><circle cx="942" cy="1677"/><circle cx="960" cy="1682"/><circle cx="938" cy="1676"/><circle cx="977" cy="1671"/><circle cx="975" cy="1684"/></g>
<circle cx="821.7" cy="1537.1" fill="#3a84c5" stroke="#e8212b" stroke-width="2"/>
</g>
<g clip-path="url(#cE3)" fill="none" stroke-width="1.1">
<g stroke="#f3a02b"><circle cx="651" cy="1732"/><circle cx="888" cy="1747"/><circle cx="686" cy="1882"/><circle cx="865" cy="1869"/></g>
</g>
<g clip-path="url(#cE4)" fill="none" stroke-width="1.1">
<g stroke="#e62330"><circle cx="825" cy="1998"/><circle cx="801" cy="2001"/><circle cx="825" cy="2001"/><circle cx="824" cy="1999"/><circle cx="822" cy="1999"/><circle cx="822" cy="2001"/><circle cx="829" cy="2011"/><circle cx="828" cy="1988"/><circle cx="817" cy="2006"/><circle cx="820" cy="2003"/><circle cx="818" cy="2012"/><circle cx="836" cy="1993"/><circle cx="812" cy="1999"/><circle cx="823" cy="1991"/><circle cx="813" cy="2002"/><circle cx="848" cy="2000"/><circle cx="836" cy="2000"/><circle cx="813" cy="1999"/><circle cx="834" cy="1999"/><circle cx="836" cy="2000"/><circle cx="803" cy="1997"/><circle cx="827" cy="2009"/><circle cx="829" cy="2013"/><circle cx="824" cy="2008"/><circle cx="821" cy="2028"/><circle cx="820" cy="2029"/><circle cx="808" cy="2014"/><circle cx="811" cy="2019"/><circle cx="816" cy="2011"/><circle cx="819" cy="2027"/><circle cx="828" cy="2040"/><circle cx="829" cy="2036"/><circle cx="836" cy="2017"/><circle cx="808" cy="2030"/><circle cx="830" cy="2025"/><circle cx="845" cy="2027"/><circle cx="818" cy="2031"/><circle cx="809" cy="2026"/><circle cx="806" cy="2037"/><circle cx="805" cy="2013"/><circle cx="819" cy="2011"/><circle cx="836" cy="2012"/><circle cx="810" cy="2040"/><circle cx="840" cy="2030"/><circle cx="822" cy="2027"/><circle cx="832" cy="2033"/><circle cx="809" cy="2012"/><circle cx="804" cy="2017"/><circle cx="837" cy="2023"/><circle cx="807" cy="2028"/><circle cx="839" cy="2040"/><circle cx="834" cy="2013"/><circle cx="835" cy="2037"/><circle cx="808" cy="2029"/><circle cx="820" cy="2022"/><circle cx="811" cy="2030"/><circle cx="818" cy="2034"/><circle cx="832" cy="2018"/><circle cx="822" cy="2035"/><circle cx="815" cy="2013"/><circle cx="825" cy="2018"/><circle cx="820" cy="2032"/><circle cx="843" cy="2033"/><circle cx="829" cy="2023"/><circle cx="807" cy="2016"/><circle cx="841" cy="2029"/><circle cx="839" cy="2023"/><circle cx="811" cy="2015"/><circle cx="807" cy="2034"/><circle cx="786" cy="2048"/><circle cx="798" cy="2055"/><circle cx="776" cy="2044"/><circle cx="769" cy="2046"/><circle cx="792" cy="2049"/><circle cx="791" cy="2053"/><circle cx="832" cy="2052"/><circle cx="800" cy="2050"/><circle cx="782" cy="2045"/><circle cx="780" cy="2044"/><circle cx="778" cy="2063"/><circle cx="769" cy="2047"/><circle cx="769" cy="2047"/><circle cx="760" cy="2034"/><circle cx="782" cy="2048"/><circle cx="784" cy="2042"/><circle cx="771" cy="2047"/><circle cx="785" cy="2047"/><circle cx="780" cy="2053"/><circle cx="793" cy="2042"/><circle cx="789" cy="2046"/><circle cx="795" cy="2047"/><circle cx="794" cy="2053"/><circle cx="758" cy="2051"/><circle cx="794" cy="2041"/><circle cx="777" cy="2019"/><circle cx="763" cy="2039"/><circle cx="763" cy="2043"/><circle cx="754" cy="2056"/><circle cx="831" cy="2069"/><circle cx="779" cy="2037"/><circle cx="781" cy="2042"/><circle cx="793" cy="2072"/><circle cx="756" cy="2077"/><circle cx="752" cy="2086"/><circle cx="794" cy="2080"/><circle cx="775" cy="2074"/><circle cx="780" cy="2056"/><circle cx="801" cy="2070"/><circle cx="798" cy="2063"/><circle cx="789" cy="2088"/><circle cx="801" cy="2071"/><circle cx="755" cy="2080"/><circle cx="763" cy="2065"/><circle cx="798" cy="2068"/><circle cx="759" cy="2083"/><circle cx="754" cy="2076"/><circle cx="762" cy="2060"/><circle cx="767" cy="2085"/><circle cx="783" cy="2085"/><circle cx="797" cy="2086"/><circle cx="797" cy="2069"/><circle cx="787" cy="2085"/><circle cx="774" cy="2066"/><circle cx="780" cy="2087"/><circle cx="765" cy="2084"/><circle cx="784" cy="2065"/><circle cx="760" cy="2077"/><circle cx="758" cy="2067"/><circle cx="752" cy="2071"/><circle cx="800" cy="2068"/><circle cx="778" cy="2073"/><circle cx="757" cy="2070"/><circle cx="752" cy="2067"/><circle cx="780" cy="2080"/><circle cx="755" cy="2068"/><circle cx="770" cy="2069"/><circle cx="784" cy="2056"/><circle cx="778" cy="2081"/><circle cx="785" cy="2070"/><circle cx="789" cy="2068"/><circle cx="762" cy="2073"/><circle cx="760" cy="2107"/><circle cx="747" cy="2092"/><circle cx="758" cy="2099"/><circle cx="745" cy="2071"/><circle cx="727" cy="2102"/><circle cx="741" cy="2083"/><circle cx="764" cy="2096"/><circle cx="722" cy="2090"/><circle cx="738" cy="2094"/><circle cx="755" cy="2088"/><circle cx="714" cy="2097"/><circle cx="739" cy="2082"/><circle cx="749" cy="2076"/><circle cx="743" cy="2103"/><circle cx="734" cy="2109"/><circle cx="753" cy="2092"/><circle cx="750" cy="2107"/><circle cx="736" cy="2088"/><circle cx="759" cy="2104"/><circle cx="726" cy="2088"/><circle cx="730" cy="2083"/><circle cx="741" cy="2096"/><circle cx="738" cy="2094"/><circle cx="743" cy="2093"/><circle cx="730" cy="2102"/><circle cx="747" cy="2103"/><circle cx="733" cy="2089"/><circle cx="753" cy="2103"/><circle cx="760" cy="2076"/><circle cx="731" cy="2080"/><circle cx="750" cy="2107"/><circle cx="755" cy="2102"/><circle cx="718" cy="2087"/><circle cx="760" cy="2091"/><circle cx="724" cy="2103"/><circle cx="732" cy="2097"/><circle cx="741" cy="2078"/><circle cx="750" cy="2077"/><circle cx="747" cy="2112"/><circle cx="748" cy="2099"/><circle cx="748" cy="2107"/><circle cx="737" cy="2105"/><circle cx="735" cy="2097"/><circle cx="760" cy="2087"/><circle cx="726" cy="2098"/><circle cx="731" cy="2082"/><circle cx="754" cy="2100"/><circle cx="735" cy="2094"/><circle cx="742" cy="2083"/><circle cx="732" cy="2077"/><circle cx="745" cy="2086"/><circle cx="729" cy="2083"/><circle cx="729" cy="2085"/><circle cx="740" cy="2098"/><circle cx="726" cy="2115"/><circle cx="732" cy="2084"/><circle cx="723" cy="2119"/><circle cx="743" cy="2105"/><circle cx="736" cy="2090"/><circle cx="742" cy="2100"/><circle cx="789" cy="2071"/><circle cx="778" cy="2077"/><circle cx="787" cy="2080"/><circle cx="786" cy="2068"/><circle cx="784" cy="2078"/><circle cx="784" cy="2072"/><circle cx="773" cy="2077"/><circle cx="781" cy="2083"/><circle cx="788" cy="2073"/><circle cx="769" cy="2072"/><circle cx="779" cy="2070"/><circle cx="778" cy="2091"/><circle cx="783" cy="2078"/><circle cx="785" cy="2075"/><circle cx="703" cy="2090"/><circle cx="698" cy="2105"/><circle cx="702" cy="2114"/><circle cx="690" cy="2118"/><circle cx="689" cy="2128"/><circle cx="740" cy="2138"/><circle cx="713" cy="2134"/><circle cx="719" cy="2129"/><circle cx="740" cy="2120"/><circle cx="739" cy="2116"/><circle cx="743" cy="2120"/><circle cx="682" cy="2132"/><circle cx="730" cy="2115"/><circle cx="683" cy="2135"/><circle cx="707" cy="2135"/><circle cx="720" cy="2136"/><circle cx="745" cy="2138"/><circle cx="679" cy="2139"/><circle cx="714" cy="2139"/><circle cx="695" cy="2137"/><circle cx="704" cy="2125"/><circle cx="682" cy="2138"/><circle cx="734" cy="2114"/><circle cx="711" cy="2117"/><circle cx="688" cy="2134"/><circle cx="700" cy="2119"/><circle cx="741" cy="2124"/><circle cx="700" cy="2121"/><circle cx="741" cy="2138"/><circle cx="736" cy="2120"/><circle cx="693" cy="2123"/><circle cx="752" cy="2123"/><circle cx="705" cy="2140"/><circle cx="731" cy="2121"/><circle cx="847" cy="2083"/><circle cx="845" cy="2084"/><circle cx="850" cy="2089"/><circle cx="845" cy="2087"/><circle cx="854" cy="2081"/><circle cx="846" cy="2093"/><circle cx="845" cy="2085"/><circle cx="840" cy="2085"/><circle cx="837" cy="2083"/><circle cx="846" cy="2085"/><circle cx="840" cy="2087"/><circle cx="847" cy="2083"/><circle cx="829" cy="2115"/><circle cx="840" cy="2105"/><circle cx="927" cy="2111"/><circle cx="927" cy="2112"/><circle cx="927" cy="2130"/><circle cx="891" cy="2094"/><circle cx="884" cy="2111"/><circle cx="861" cy="2108"/><circle cx="854" cy="2095"/><circle cx="885" cy="2094"/><circle cx="887" cy="2121"/><circle cx="910" cy="2101"/><circle cx="885" cy="2097"/><circle cx="894" cy="2106"/><circle cx="859" cy="2096"/><circle cx="870" cy="2089"/><circle cx="862" cy="2107"/><circle cx="870" cy="2111"/><circle cx="847" cy="2111"/><circle cx="894" cy="2103"/><circle cx="881" cy="2091"/><circle cx="883" cy="2098"/><circle cx="931" cy="2105"/><circle cx="897" cy="2087"/><circle cx="863" cy="2088"/><circle cx="916" cy="2102"/><circle cx="887" cy="2089"/><circle cx="872" cy="2108"/><circle cx="923" cy="2104"/><circle cx="926" cy="2097"/><circle cx="869" cy="2111"/><circle cx="896" cy="2114"/><circle cx="909" cy="2104"/><circle cx="887" cy="2110"/><circle cx="909" cy="2101"/><circle cx="882" cy="2121"/><circle cx="862" cy="2091"/><circle cx="888" cy="2123"/><circle cx="877" cy="2115"/><circle cx="865" cy="2104"/><circle cx="868" cy="2118"/><circle cx="869" cy="2086"/><circle cx="912" cy="2088"/><circle cx="882" cy="2117"/><circle cx="882" cy="2117"/><circle cx="831" cy="2117"/><circle cx="870" cy="2108"/><circle cx="846" cy="2118"/><circle cx="848" cy="2128"/><circle cx="853" cy="2121"/><circle cx="855" cy="2125"/><circle cx="860" cy="2110"/><circle cx="845" cy="2125"/><circle cx="870" cy="2113"/><circle cx="849" cy="2119"/><circle cx="843" cy="2119"/><circle cx="869" cy="2111"/><circle cx="850" cy="2115"/><circle cx="856" cy="2120"/><circle cx="849" cy="2128"/><circle cx="877" cy="2113"/><circle cx="855" cy="2108"/><circle cx="858" cy="2114"/><circle cx="866" cy="2111"/><circle cx="860" cy="2111"/><circle cx="866" cy="2121"/><circle cx="904" cy="2122"/><circle cx="915" cy="2113"/><circle cx="901" cy="2120"/><circle cx="896" cy="2137"/><circle cx="870" cy="2132"/><circle cx="863" cy="2115"/><circle cx="883" cy="2138"/><circle cx="892" cy="2132"/><circle cx="887" cy="2112"/><circle cx="856" cy="2126"/><circle cx="914" cy="2117"/><circle cx="907" cy="2131"/><circle cx="881" cy="2119"/><circle cx="888" cy="2131"/><circle cx="909" cy="2113"/><circle cx="896" cy="2113"/><circle cx="908" cy="2122"/><circle cx="907" cy="2111"/><circle cx="882" cy="2111"/><circle cx="875" cy="2127"/><circle cx="876" cy="2124"/><circle cx="876" cy="2136"/><circle cx="890" cy="2137"/><circle cx="894" cy="2132"/><circle cx="899" cy="2127"/><circle cx="858" cy="2138"/><circle cx="876" cy="2136"/><circle cx="916" cy="2137"/><circle cx="888" cy="2118"/><circle cx="913" cy="2131"/><circle cx="915" cy="2138"/><circle cx="901" cy="2136"/><circle cx="893" cy="2116"/><circle cx="897" cy="2135"/><circle cx="936" cy="2124"/><circle cx="939" cy="2119"/><circle cx="944" cy="2119"/><circle cx="942" cy="2122"/><circle cx="946" cy="2118"/><circle cx="947" cy="2117"/><circle cx="949" cy="2116"/><circle cx="953" cy="2117"/><circle cx="957" cy="2114"/><circle cx="964" cy="2114"/><circle cx="965" cy="2114"/><circle cx="967" cy="2117"/><circle cx="972" cy="2112"/><circle cx="973" cy="2114"/><circle cx="977" cy="2117"/><circle cx="981" cy="2116"/><circle cx="983" cy="2113"/><circle cx="984" cy="2113"/><circle cx="988" cy="2116"/><circle cx="989" cy="2115"/><circle cx="994" cy="2117"/><circle cx="999" cy="2115"/><circle cx="998" cy="2114"/><circle cx="1006" cy="2118"/><circle cx="1006" cy="2114"/><circle cx="1013" cy="2117"/><circle cx="1014" cy="2114"/><circle cx="1017" cy="2113"/><circle cx="1020" cy="2115"/><circle cx="1022" cy="2114"/><circle cx="995" cy="2118"/><circle cx="1000" cy="2129"/><circle cx="1000" cy="2118"/><circle cx="990" cy="2121"/><circle cx="998" cy="2120"/><circle cx="985" cy="2124"/><circle cx="967" cy="2120"/><circle cx="1007" cy="2124"/><circle cx="998" cy="2120"/><circle cx="960" cy="2128"/><circle cx="1010" cy="2126"/><circle cx="979" cy="2119"/><circle cx="980" cy="2128"/><circle cx="980" cy="2118"/><circle cx="938" cy="2121"/><circle cx="1014" cy="2122"/><circle cx="979" cy="2120"/><circle cx="1019" cy="2125"/><circle cx="984" cy="2124"/><circle cx="952" cy="2122"/><circle cx="984" cy="2133"/><circle cx="830" cy="2137"/><circle cx="671" cy="2144"/><circle cx="671" cy="2137"/><circle cx="785" cy="2139"/><circle cx="983" cy="2138"/><circle cx="715" cy="2136"/><circle cx="691" cy="2137"/><circle cx="740" cy="2143"/><circle cx="921" cy="2141"/><circle cx="659" cy="2141"/><circle cx="917" cy="2150"/><circle cx="1004" cy="2137"/><circle cx="699" cy="2139"/><circle cx="902" cy="2150"/><circle cx="663" cy="2147"/><circle cx="622" cy="2143"/><circle cx="930" cy="2136"/><circle cx="754" cy="2150"/><circle cx="845" cy="2137"/><circle cx="849" cy="2147"/><circle cx="813" cy="2135"/><circle cx="941" cy="2149"/><circle cx="975" cy="2146"/><circle cx="802" cy="2149"/><circle cx="618" cy="2151"/><circle cx="810" cy="2144"/><circle cx="755" cy="2147"/><circle cx="773" cy="2135"/><circle cx="837" cy="2140"/><circle cx="962" cy="2146"/><circle cx="901" cy="2141"/><circle cx="887" cy="2150"/><circle cx="994" cy="2150"/><circle cx="757" cy="2136"/><circle cx="719" cy="2148"/><circle cx="973" cy="2146"/><circle cx="798" cy="2144"/><circle cx="692" cy="2138"/><circle cx="971" cy="2146"/><circle cx="743" cy="2138"/><circle cx="645" cy="2142"/><circle cx="986" cy="2138"/><circle cx="907" cy="2147"/><circle cx="819" cy="2135"/><circle cx="1011" cy="2149"/><circle cx="802" cy="2145"/><circle cx="848" cy="2146"/><circle cx="697" cy="2144"/><circle cx="834" cy="2134"/><circle cx="868" cy="2141"/><circle cx="620" cy="2139"/><circle cx="980" cy="2134"/><circle cx="751" cy="2146"/><circle cx="925" cy="2136"/><circle cx="624" cy="2149"/><circle cx="682" cy="2148"/><circle cx="676" cy="2145"/><circle cx="987" cy="2151"/><circle cx="671" cy="2136"/><circle cx="820" cy="2148"/><circle cx="650" cy="2148"/><circle cx="739" cy="2144"/><circle cx="907" cy="2144"/><circle cx="674" cy="2146"/><circle cx="1007" cy="2134"/><circle cx="884" cy="2141"/><circle cx="821" cy="2138"/><circle cx="639" cy="2144"/><circle cx="750" cy="2135"/><circle cx="631" cy="2138"/><circle cx="694" cy="2138"/><circle cx="870" cy="2149"/><circle cx="798" cy="2134"/><circle cx="638" cy="2146"/><circle cx="904" cy="2136"/><circle cx="649" cy="2135"/><circle cx="625" cy="2146"/><circle cx="1007" cy="2135"/><circle cx="672" cy="2146"/><circle cx="806" cy="2136"/><circle cx="693" cy="2148"/><circle cx="901" cy="2134"/><circle cx="894" cy="2135"/><circle cx="818" cy="2135"/><circle cx="705" cy="2148"/><circle cx="821" cy="2142"/><circle cx="688" cy="2140"/><circle cx="847" cy="2141"/><circle cx="737" cy="2144"/><circle cx="659" cy="2142"/><circle cx="920" cy="2147"/><circle cx="833" cy="2147"/><circle cx="756" cy="2140"/><circle cx="797" cy="2136"/><circle cx="653" cy="2150"/><circle cx="948" cy="2149"/><circle cx="1025" cy="2141"/><circle cx="845" cy="2142"/><circle cx="674" cy="2135"/><circle cx="868" cy="2135"/><circle cx="947" cy="2145"/><circle cx="869" cy="2142"/><circle cx="963" cy="2137"/><circle cx="762" cy="2143"/><circle cx="912" cy="2135"/><circle cx="755" cy="2141"/><circle cx="962" cy="2145"/><circle cx="721" cy="2146"/><circle cx="685" cy="2148"/><circle cx="739" cy="2145"/><circle cx="988" cy="2144"/><circle cx="1003" cy="2136"/><circle cx="772" cy="2143"/><circle cx="949" cy="2151"/><circle cx="1001" cy="2150"/><circle cx="718" cy="2150"/><circle cx="678" cy="2150"/><circle cx="777" cy="2140"/><circle cx="905" cy="2145"/><circle cx="747" cy="2138"/><circle cx="683" cy="2151"/><circle cx="898" cy="2135"/><circle cx="685" cy="2148"/><circle cx="723" cy="2139"/><circle cx="953" cy="2142"/><circle cx="815" cy="2146"/><circle cx="969" cy="2148"/><circle cx="725" cy="2144"/><circle cx="705" cy="2138"/><circle cx="679" cy="2146"/><circle cx="777" cy="2138"/><circle cx="905" cy="2140"/><circle cx="930" cy="2150"/><circle cx="1018" cy="2151"/><circle cx="687" cy="2150"/><circle cx="716" cy="2151"/><circle cx="814" cy="2140"/><circle cx="665" cy="2147"/><circle cx="946" cy="2147"/><circle cx="717" cy="2143"/><circle cx="1017" cy="2136"/><circle cx="899" cy="2139"/><circle cx="849" cy="2143"/><circle cx="678" cy="2133"/><circle cx="619" cy="2137"/><circle cx="798" cy="2144"/><circle cx="890" cy="2134"/><circle cx="682" cy="2144"/><circle cx="831" cy="2145"/><circle cx="968" cy="2140"/><circle cx="917" cy="2134"/><circle cx="832" cy="2148"/><circle cx="750" cy="2149"/><circle cx="989" cy="2144"/><circle cx="858" cy="2134"/><circle cx="927" cy="2140"/><circle cx="771" cy="2139"/><circle cx="892" cy="2139"/><circle cx="977" cy="2141"/><circle cx="729" cy="2139"/><circle cx="660" cy="2136"/><circle cx="930" cy="2141"/><circle cx="844" cy="2135"/><circle cx="790" cy="2143"/><circle cx="1020" cy="2146"/><circle cx="623" cy="2144"/><circle cx="623" cy="2136"/><circle cx="627" cy="2142"/><circle cx="882" cy="2151"/><circle cx="672" cy="2135"/><circle cx="921" cy="2135"/><circle cx="790" cy="2147"/><circle cx="920" cy="2149"/><circle cx="821" cy="2136"/><circle cx="677" cy="2141"/><circle cx="618" cy="2149"/><circle cx="925" cy="2144"/><circle cx="808" cy="2147"/><circle cx="711" cy="2145"/><circle cx="798" cy="2142"/><circle cx="726" cy="2149"/><circle cx="794" cy="2143"/><circle cx="664" cy="2146"/><circle cx="623" cy="2135"/><circle cx="952" cy="2145"/><circle cx="620" cy="2151"/><circle cx="650" cy="2138"/><circle cx="760" cy="2141"/><circle cx="705" cy="2147"/><circle cx="1024" cy="2142"/><circle cx="773" cy="2138"/><circle cx="796" cy="2143"/><circle cx="784" cy="2151"/><circle cx="1008" cy="2149"/><circle cx="1024" cy="2141"/><circle cx="890" cy="2137"/><circle cx="924" cy="2136"/><circle cx="1006" cy="2145"/><circle cx="688" cy="2139"/><circle cx="783" cy="2143"/><circle cx="930" cy="2137"/><circle cx="741" cy="2137"/><circle cx="781" cy="2139"/><circle cx="782" cy="2137"/><circle cx="983" cy="2138"/><circle cx="726" cy="2145"/><circle cx="943" cy="2149"/><circle cx="857" cy="2135"/><circle cx="751" cy="2133"/><circle cx="630" cy="2148"/><circle cx="734" cy="2135"/><circle cx="707" cy="2137"/><circle cx="914" cy="2137"/><circle cx="991" cy="2151"/><circle cx="656" cy="2147"/><circle cx="851" cy="2144"/><circle cx="734" cy="2135"/><circle cx="661" cy="2133"/><circle cx="934" cy="2151"/><circle cx="855" cy="2137"/><circle cx="736" cy="2134"/><circle cx="829" cy="2142"/><circle cx="671" cy="2141"/><circle cx="859" cy="2141"/><circle cx="622" cy="2146"/><circle cx="667" cy="2134"/><circle cx="854" cy="2141"/><circle cx="913" cy="2134"/><circle cx="707" cy="2144"/><circle cx="875" cy="2141"/><circle cx="967" cy="2146"/><circle cx="682" cy="2136"/><circle cx="687" cy="2147"/><circle cx="797" cy="2148"/><circle cx="925" cy="2144"/><circle cx="840" cy="2140"/><circle cx="788" cy="2138"/><circle cx="914" cy="2142"/><circle cx="882" cy="2151"/><circle cx="886" cy="2139"/><circle cx="983" cy="2139"/><circle cx="850" cy="2150"/><circle cx="773" cy="2133"/><circle cx="742" cy="2146"/><circle cx="794" cy="2137"/><circle cx="941" cy="2145"/><circle cx="903" cy="2136"/><circle cx="794" cy="2136"/><circle cx="905" cy="2151"/><circle cx="906" cy="2139"/><circle cx="700" cy="2140"/><circle cx="884" cy="2138"/><circle cx="1003" cy="2145"/><circle cx="999" cy="2151"/><circle cx="808" cy="2150"/><circle cx="798" cy="2147"/><circle cx="674" cy="2137"/><circle cx="640" cy="2142"/><circle cx="1017" cy="2151"/><circle cx="727" cy="2137"/><circle cx="719" cy="2140"/><circle cx="717" cy="2136"/><circle cx="725" cy="2144"/><circle cx="727" cy="2139"/><circle cx="725" cy="2140"/><circle cx="721" cy="2142"/><circle cx="724" cy="2143"/><circle cx="719" cy="2137"/><circle cx="717" cy="2139"/><circle cx="708" cy="2139"/><circle cx="729" cy="2140"/><circle cx="727" cy="2137"/><circle cx="717" cy="2141"/><circle cx="731" cy="2136"/><circle cx="734" cy="2140"/><circle cx="720" cy="2138"/><circle cx="745" cy="2140"/><circle cx="723" cy="2140"/><circle cx="733" cy="2136"/><circle cx="951" cy="2144"/><circle cx="941" cy="2139"/><circle cx="948" cy="2146"/><circle cx="924" cy="2143"/><circle cx="946" cy="2142"/><circle cx="916" cy="2149"/><circle cx="939" cy="2140"/><circle cx="920" cy="2146"/><circle cx="931" cy="2144"/><circle cx="938" cy="2147"/><circle cx="944" cy="2145"/><circle cx="951" cy="2142"/><circle cx="957" cy="2149"/><circle cx="959" cy="2140"/><circle cx="960" cy="2148"/><circle cx="926" cy="2145"/><circle cx="953" cy="2151"/><circle cx="937" cy="2144"/><circle cx="938" cy="2144"/><circle cx="947" cy="2147"/><circle cx="1003" cy="2145"/><circle cx="1000" cy="2146"/><circle cx="1017" cy="2133"/><circle cx="1011" cy="2144"/><circle cx="1001" cy="2144"/><circle cx="1013" cy="2140"/><circle cx="1009" cy="2140"/><circle cx="999" cy="2153"/><circle cx="1018" cy="2138"/><circle cx="1019" cy="2131"/><circle cx="1009" cy="2140"/><circle cx="1019" cy="2147"/><circle cx="1016" cy="2144"/><circle cx="1000" cy="2143"/><circle cx="1034" cy="2147"/><circle cx="1016" cy="2137"/><circle cx="1021" cy="2139"/><circle cx="1004" cy="2142"/><circle cx="1023" cy="2137"/><circle cx="1026" cy="2151"/><circle cx="1010" cy="2148"/><circle cx="1006" cy="2152"/><circle cx="1007" cy="2142"/><circle cx="1016" cy="2142"/><circle cx="1000" cy="2136"/></g>
</g>
<g clip-path="url(#cF1)" fill="none" stroke-width="1.1">
<g stroke="#2456a5"><circle cx="1326" cy="1358"/><circle cx="1363" cy="1342"/><circle cx="1314" cy="1352"/><circle cx="1332" cy="1347"/><circle cx="1354" cy="1347"/><circle cx="1341" cy="1342"/><circle cx="1361" cy="1347"/><circle cx="1354" cy="1349"/><circle cx="1315" cy="1354"/><circle cx="1358" cy="1359"/><circle cx="1379" cy="1363"/><circle cx="1326" cy="1359"/><circle cx="1374" cy="1352"/><circle cx="1359" cy="1357"/><circle cx="1343" cy="1346"/><circle cx="1336" cy="1356"/><circle cx="1335" cy="1354"/><circle cx="1327" cy="1344"/><circle cx="1331" cy="1361"/><circle cx="1368" cy="1353"/><circle cx="1350" cy="1360"/><circle cx="1371" cy="1358"/><circle cx="1351" cy="1357"/><circle cx="1351" cy="1349"/><circle cx="1346" cy="1361"/><circle cx="1314" cy="1341"/><circle cx="1320" cy="1362"/><circle cx="1342" cy="1351"/><circle cx="1353" cy="1358"/><circle cx="1359" cy="1362"/><circle cx="1330" cy="1350"/><circle cx="1321" cy="1343"/><circle cx="1328" cy="1354"/><circle cx="1313" cy="1358"/><circle cx="1372" cy="1341"/><circle cx="1374" cy="1347"/><circle cx="1375" cy="1343"/><circle cx="1350" cy="1343"/><circle cx="1373" cy="1355"/><circle cx="1323" cy="1342"/><circle cx="1337" cy="1362"/><circle cx="1351" cy="1342"/><circle cx="1355" cy="1356"/><circle cx="1337" cy="1353"/><circle cx="1361" cy="1347"/><circle cx="1343" cy="1359"/><circle cx="1361" cy="1356"/><circle cx="1339" cy="1359"/><circle cx="1332" cy="1358"/><circle cx="1352" cy="1360"/><circle cx="1336" cy="1352"/><circle cx="1319" cy="1356"/><circle cx="1367" cy="1351"/><circle cx="1344" cy="1358"/><circle cx="1332" cy="1363"/><circle cx="1347" cy="1380"/><circle cx="1175" cy="1466"/><circle cx="1377" cy="1409"/><circle cx="1366" cy="1422"/><circle cx="1327" cy="1433"/><circle cx="1350" cy="1434"/><circle cx="1354" cy="1436"/><circle cx="1335" cy="1442"/><circle cx="1322" cy="1446"/><circle cx="1328" cy="1447"/><circle cx="1332" cy="1448"/><circle cx="1363" cy="1447"/><circle cx="1284" cy="1446"/><circle cx="1467" cy="1439"/><circle cx="1397" cy="1422"/><circle cx="1386" cy="1422"/><circle cx="1409" cy="1427"/><circle cx="1385" cy="1428"/><circle cx="1400" cy="1427"/><circle cx="1408" cy="1419"/><circle cx="1414" cy="1426"/><circle cx="1413" cy="1427"/><circle cx="1391" cy="1428"/><circle cx="1407" cy="1434"/><circle cx="1385" cy="1426"/><circle cx="1374" cy="1422"/><circle cx="1387" cy="1429"/><circle cx="1424" cy="1424"/><circle cx="1400" cy="1423"/><circle cx="1400" cy="1423"/><circle cx="1383" cy="1422"/><circle cx="1411" cy="1427"/><circle cx="1387" cy="1433"/><circle cx="1423" cy="1425"/><circle cx="1390" cy="1428"/><circle cx="1402" cy="1422"/><circle cx="1420" cy="1424"/><circle cx="1390" cy="1426"/><circle cx="1419" cy="1435"/><circle cx="1387" cy="1425"/><circle cx="1376" cy="1428"/><circle cx="1422" cy="1427"/><circle cx="1390" cy="1423"/><circle cx="1398" cy="1421"/><circle cx="1402" cy="1428"/><circle cx="1425" cy="1420"/><circle cx="1413" cy="1433"/><circle cx="1412" cy="1430"/><circle cx="1421" cy="1431"/><circle cx="1425" cy="1422"/><circle cx="1385" cy="1428"/><circle cx="1388" cy="1420"/><circle cx="1414" cy="1422"/><circle cx="1418" cy="1433"/><circle cx="1421" cy="1420"/><circle cx="1426" cy="1420"/><circle cx="1425" cy="1421"/><circle cx="1426" cy="1422"/><circle cx="1428" cy="1421"/><circle cx="1429" cy="1420"/><circle cx="1431" cy="1423"/><circle cx="1435" cy="1422"/><circle cx="1438" cy="1422"/><circle cx="1438" cy="1423"/><circle cx="1441" cy="1421"/><circle cx="1442" cy="1418"/><circle cx="1445" cy="1419"/><circle cx="1446" cy="1418"/><circle cx="1421" cy="1438"/><circle cx="1411" cy="1436"/><circle cx="1210" cy="1467"/><circle cx="1214" cy="1470"/><circle cx="1213" cy="1467"/><circle cx="1218" cy="1470"/><circle cx="1218" cy="1469"/><circle cx="1222" cy="1471"/><circle cx="1225" cy="1471"/><circle cx="1228" cy="1469"/><circle cx="1228" cy="1473"/><circle cx="1229" cy="1473"/><circle cx="1233" cy="1475"/><circle cx="1236" cy="1474"/><circle cx="1238" cy="1473"/><circle cx="1240" cy="1470"/><circle cx="1244" cy="1469"/><circle cx="1247" cy="1469"/><circle cx="1247" cy="1469"/><circle cx="1256" cy="1468"/><circle cx="1249" cy="1464"/><circle cx="1257" cy="1466"/><circle cx="1260" cy="1468"/><circle cx="1259" cy="1467"/><circle cx="1261" cy="1463"/><circle cx="1266" cy="1465"/><circle cx="1271" cy="1463"/><circle cx="1272" cy="1463"/><circle cx="1275" cy="1467"/><circle cx="1277" cy="1466"/><circle cx="1280" cy="1464"/><circle cx="1283" cy="1466"/><circle cx="1287" cy="1466"/><circle cx="1288" cy="1465"/><circle cx="1289" cy="1465"/><circle cx="1291" cy="1466"/><circle cx="1295" cy="1467"/><circle cx="1296" cy="1465"/><circle cx="1302" cy="1470"/><circle cx="1299" cy="1466"/><circle cx="1306" cy="1464"/><circle cx="1309" cy="1466"/><circle cx="1313" cy="1468"/><circle cx="1317" cy="1465"/><circle cx="1316" cy="1465"/><circle cx="1318" cy="1465"/><circle cx="1321" cy="1468"/><circle cx="1284" cy="1459"/><circle cx="1286" cy="1462"/><circle cx="1284" cy="1458"/><circle cx="1286" cy="1459"/><circle cx="1283" cy="1458"/><circle cx="1288" cy="1460"/><circle cx="1294" cy="1467"/><circle cx="1298" cy="1466"/><circle cx="1296" cy="1468"/><circle cx="1297" cy="1467"/><circle cx="1301" cy="1466"/><circle cx="1297" cy="1467"/><circle cx="1297" cy="1465"/><circle cx="1297" cy="1468"/><circle cx="1270" cy="1476"/><circle cx="1269" cy="1473"/><circle cx="1233" cy="1470"/><circle cx="1230" cy="1467"/><circle cx="1227" cy="1461"/><circle cx="1321" cy="1474"/><circle cx="1242" cy="1477"/><circle cx="1236" cy="1474"/><circle cx="1279" cy="1473"/><circle cx="1239" cy="1467"/><circle cx="1303" cy="1464"/><circle cx="1283" cy="1474"/><circle cx="1296" cy="1470"/><circle cx="1303" cy="1464"/><circle cx="1301" cy="1475"/><circle cx="1253" cy="1471"/><circle cx="1225" cy="1461"/><circle cx="1213" cy="1476"/><circle cx="1251" cy="1466"/><circle cx="1243" cy="1472"/><circle cx="1270" cy="1469"/><circle cx="1213" cy="1466"/><circle cx="1251" cy="1463"/><circle cx="1304" cy="1469"/><circle cx="1272" cy="1461"/><circle cx="1248" cy="1464"/><circle cx="1267" cy="1462"/><circle cx="1224" cy="1465"/><circle cx="1289" cy="1471"/><circle cx="1305" cy="1477"/><circle cx="1253" cy="1470"/><circle cx="1240" cy="1465"/><circle cx="1215" cy="1463"/><circle cx="1299" cy="1473"/><circle cx="1276" cy="1474"/><circle cx="1320" cy="1461"/><circle cx="1253" cy="1475"/><circle cx="1321" cy="1461"/><circle cx="1270" cy="1476"/><circle cx="1307" cy="1473"/><circle cx="1384" cy="1471"/><circle cx="1372" cy="1468"/><circle cx="1384" cy="1476"/><circle cx="1410" cy="1470"/><circle cx="1346" cy="1461"/><circle cx="1401" cy="1468"/><circle cx="1374" cy="1460"/><circle cx="1370" cy="1466"/><circle cx="1344" cy="1466"/><circle cx="1360" cy="1458"/><circle cx="1363" cy="1467"/><circle cx="1333" cy="1460"/><circle cx="1401" cy="1475"/><circle cx="1382" cy="1468"/><circle cx="1335" cy="1458"/><circle cx="1339" cy="1462"/><circle cx="1333" cy="1465"/><circle cx="1409" cy="1461"/><circle cx="1404" cy="1469"/><circle cx="1401" cy="1462"/><circle cx="1372" cy="1458"/><circle cx="1347" cy="1461"/><circle cx="1340" cy="1471"/><circle cx="1407" cy="1465"/><circle cx="1356" cy="1472"/><circle cx="1354" cy="1470"/><circle cx="1333" cy="1460"/><circle cx="1339" cy="1477"/><circle cx="1338" cy="1467"/><circle cx="1363" cy="1471"/><circle cx="1342" cy="1463"/><circle cx="1412" cy="1458"/><circle cx="1409" cy="1466"/><circle cx="1357" cy="1466"/><circle cx="1334" cy="1469"/><circle cx="1380" cy="1456"/><circle cx="1381" cy="1457"/><circle cx="1384" cy="1459"/><circle cx="1384" cy="1458"/><circle cx="1384" cy="1456"/><circle cx="1385" cy="1456"/><circle cx="1506" cy="1462"/><circle cx="1477" cy="1464"/><circle cx="1429" cy="1455"/><circle cx="1443" cy="1447"/><circle cx="1502" cy="1447"/><circle cx="1433" cy="1452"/><circle cx="1450" cy="1461"/><circle cx="1483" cy="1447"/><circle cx="1467" cy="1455"/><circle cx="1514" cy="1454"/><circle cx="1490" cy="1466"/><circle cx="1476" cy="1465"/><circle cx="1528" cy="1466"/><circle cx="1493" cy="1451"/><circle cx="1513" cy="1466"/><circle cx="1509" cy="1463"/><circle cx="1486" cy="1448"/><circle cx="1540" cy="1457"/><circle cx="1452" cy="1456"/><circle cx="1469" cy="1456"/><circle cx="1482" cy="1472"/><circle cx="1445" cy="1449"/><circle cx="1430" cy="1465"/><circle cx="1457" cy="1455"/><circle cx="1504" cy="1453"/><circle cx="1440" cy="1469"/><circle cx="1535" cy="1459"/><circle cx="1443" cy="1456"/><circle cx="1503" cy="1474"/><circle cx="1513" cy="1470"/><circle cx="1503" cy="1469"/><circle cx="1529" cy="1447"/><circle cx="1494" cy="1470"/><circle cx="1519" cy="1452"/><circle cx="1527" cy="1472"/><circle cx="1428" cy="1461"/><circle cx="1472" cy="1452"/><circle cx="1451" cy="1456"/><circle cx="1520" cy="1454"/><circle cx="1433" cy="1467"/><circle cx="1481" cy="1460"/><circle cx="1509" cy="1457"/><circle cx="1542" cy="1474"/><circle cx="1435" cy="1455"/><circle cx="1530" cy="1470"/><circle cx="1439" cy="1458"/><circle cx="1510" cy="1466"/><circle cx="1492" cy="1450"/><circle cx="1457" cy="1470"/><circle cx="1467" cy="1469"/><circle cx="1422" cy="1448"/><circle cx="1522" cy="1468"/><circle cx="1455" cy="1463"/><circle cx="1530" cy="1454"/><circle cx="1425" cy="1461"/><circle cx="1512" cy="1459"/><circle cx="1475" cy="1467"/><circle cx="1515" cy="1459"/><circle cx="1490" cy="1473"/><circle cx="1528" cy="1473"/><circle cx="1509" cy="1448"/><circle cx="1507" cy="1460"/><circle cx="1450" cy="1457"/><circle cx="1477" cy="1473"/><circle cx="1540" cy="1454"/><circle cx="1487" cy="1473"/><circle cx="1540" cy="1456"/><circle cx="1509" cy="1456"/><circle cx="1458" cy="1469"/><circle cx="1504" cy="1473"/><circle cx="1448" cy="1471"/><circle cx="1521" cy="1465"/><circle cx="1447" cy="1469"/><circle cx="1449" cy="1464"/><circle cx="1536" cy="1450"/><circle cx="1473" cy="1448"/><circle cx="1427" cy="1456"/><circle cx="1475" cy="1468"/><circle cx="1425" cy="1453"/><circle cx="1538" cy="1461"/><circle cx="1507" cy="1449"/><circle cx="1480" cy="1445"/><circle cx="1511" cy="1444"/><circle cx="1501" cy="1449"/><circle cx="1517" cy="1442"/><circle cx="1499" cy="1444"/><circle cx="1489" cy="1448"/><circle cx="1498" cy="1441"/><circle cx="1490" cy="1450"/><circle cx="1478" cy="1445"/><circle cx="1487" cy="1455"/><circle cx="1514" cy="1452"/><circle cx="1473" cy="1448"/><circle cx="1473" cy="1448"/><circle cx="1484" cy="1456"/><circle cx="1494" cy="1448"/><circle cx="1483" cy="1449"/><circle cx="1489" cy="1448"/><circle cx="1512" cy="1447"/><circle cx="1483" cy="1446"/><circle cx="1476" cy="1449"/><circle cx="1485" cy="1449"/><circle cx="1515" cy="1452"/><circle cx="1494" cy="1450"/><circle cx="1504" cy="1447"/><circle cx="1513" cy="1475"/><circle cx="1506" cy="1475"/><circle cx="1505" cy="1473"/><circle cx="1514" cy="1474"/><circle cx="1511" cy="1475"/><circle cx="1513" cy="1475"/><circle cx="1521" cy="1477"/><circle cx="1503" cy="1474"/><circle cx="1503" cy="1475"/><circle cx="1506" cy="1473"/><circle cx="1541" cy="1468"/><circle cx="1531" cy="1469"/><circle cx="1531" cy="1465"/><circle cx="1538" cy="1469"/><circle cx="1538" cy="1469"/><circle cx="1533" cy="1471"/></g>
<circle cx="1338.3" cy="1341.7" fill="#2456a5" stroke="#e8212b" stroke-width="2"/>
</g>
<g clip-path="url(#cF2)" fill="none" stroke-width="1.1">
<g stroke="#3a84c5"><circle cx="1378" cy="1537"/><circle cx="1141" cy="1619"/><circle cx="1276" cy="1625"/><circle cx="1323" cy="1631"/></g>
<g stroke="#3a84c5"><circle cx="1285" cy="1671"/><circle cx="1299" cy="1678"/><circle cx="1368" cy="1671"/><circle cx="1373" cy="1666"/><circle cx="1426" cy="1666"/><circle cx="1519" cy="1682"/><circle cx="1199" cy="1681"/><circle cx="1139" cy="1687"/></g>
</g>
<g clip-path="url(#cF3)" fill="none" stroke-width="1.1">
<g stroke="#f3a02b"><circle cx="1285" cy="1732"/><circle cx="1368" cy="1732"/><circle cx="1378" cy="1771"/><circle cx="1276" cy="1794"/><circle cx="1299" cy="1814"/><circle cx="1483" cy="1789"/><circle cx="1536" cy="1800"/><circle cx="1426" cy="1869"/><circle cx="1141" cy="1882"/></g>
</g>
<g clip-path="url(#cF4)" fill="none" stroke-width="1.1">
<g stroke="#e62330"><circle cx="1315" cy="1983"/><circle cx="1318" cy="1981"/><circle cx="1319" cy="1980"/><circle cx="1323" cy="1978"/><circle cx="1327" cy="1977"/><circle cx="1331" cy="1980"/><circle cx="1331" cy="1979"/><circle cx="1335" cy="1978"/><circle cx="1339" cy="1977"/><circle cx="1343" cy="1977"/><circle cx="1346" cy="1979"/><circle cx="1347" cy="1978"/><circle cx="1348" cy="1977"/><circle cx="1354" cy="1977"/><circle cx="1359" cy="1976"/><circle cx="1359" cy="1978"/><circle cx="1361" cy="1979"/><circle cx="1361" cy="1975"/><circle cx="1370" cy="1976"/><circle cx="1371" cy="1979"/><circle cx="1375" cy="1978"/><circle cx="1378" cy="1979"/><circle cx="1348" cy="1976"/><circle cx="1349" cy="1977"/><circle cx="1346" cy="1978"/><circle cx="1345" cy="1977"/><circle cx="1344" cy="1975"/><circle cx="1344" cy="1975"/><circle cx="1345" cy="1975"/><circle cx="1349" cy="1974"/><circle cx="1315" cy="2001"/><circle cx="1319" cy="1999"/><circle cx="1321" cy="2000"/><circle cx="1322" cy="1999"/><circle cx="1324" cy="2001"/><circle cx="1330" cy="1998"/><circle cx="1333" cy="1999"/><circle cx="1336" cy="1998"/><circle cx="1338" cy="2000"/><circle cx="1343" cy="1999"/><circle cx="1343" cy="1998"/><circle cx="1348" cy="1998"/><circle cx="1353" cy="1998"/><circle cx="1353" cy="2000"/><circle cx="1358" cy="1998"/><circle cx="1360" cy="1999"/><circle cx="1363" cy="2001"/><circle cx="1364" cy="1999"/><circle cx="1368" cy="1998"/><circle cx="1372" cy="2001"/><circle cx="1375" cy="1997"/><circle cx="1379" cy="1998"/><circle cx="1331" cy="2019"/><circle cx="1341" cy="2022"/><circle cx="1356" cy="2030"/><circle cx="1346" cy="2046"/><circle cx="1314" cy="2065"/><circle cx="1318" cy="2064"/><circle cx="1321" cy="2064"/><circle cx="1322" cy="2065"/><circle cx="1329" cy="2066"/><circle cx="1331" cy="2064"/><circle cx="1335" cy="2064"/><circle cx="1334" cy="2066"/><circle cx="1340" cy="2066"/><circle cx="1342" cy="2068"/><circle cx="1346" cy="2068"/><circle cx="1348" cy="2067"/><circle cx="1351" cy="2066"/><circle cx="1351" cy="2063"/><circle cx="1356" cy="2066"/><circle cx="1359" cy="2067"/><circle cx="1362" cy="2068"/><circle cx="1367" cy="2066"/><circle cx="1369" cy="2066"/><circle cx="1371" cy="2066"/><circle cx="1374" cy="2065"/><circle cx="1376" cy="2066"/><circle cx="1348" cy="2064"/><circle cx="1346" cy="2066"/><circle cx="1343" cy="2067"/><circle cx="1345" cy="2066"/><circle cx="1340" cy="2065"/><circle cx="1344" cy="2067"/><circle cx="1349" cy="2075"/><circle cx="1356" cy="2084"/><circle cx="1334" cy="2103"/><circle cx="1321" cy="2105"/><circle cx="1331" cy="2105"/><circle cx="1316" cy="2097"/><circle cx="1323" cy="2100"/><circle cx="1342" cy="2089"/><circle cx="1326" cy="2076"/><circle cx="1362" cy="2084"/><circle cx="1313" cy="2095"/><circle cx="1322" cy="2090"/><circle cx="1354" cy="2092"/><circle cx="1379" cy="2089"/><circle cx="1341" cy="2097"/><circle cx="1328" cy="2085"/><circle cx="1328" cy="2088"/><circle cx="1331" cy="2093"/><circle cx="1320" cy="2082"/><circle cx="1326" cy="2075"/><circle cx="1350" cy="2079"/><circle cx="1371" cy="2094"/><circle cx="1349" cy="2077"/><circle cx="1326" cy="2100"/><circle cx="1335" cy="2093"/><circle cx="1350" cy="2093"/><circle cx="1343" cy="2076"/><circle cx="1348" cy="2098"/><circle cx="1321" cy="2092"/><circle cx="1324" cy="2076"/><circle cx="1353" cy="2076"/><circle cx="1372" cy="2088"/><circle cx="1350" cy="2099"/><circle cx="1374" cy="2100"/><circle cx="1366" cy="2104"/><circle cx="1370" cy="2082"/><circle cx="1343" cy="2092"/><circle cx="1374" cy="2088"/><circle cx="1363" cy="2101"/><circle cx="1365" cy="2087"/><circle cx="1313" cy="2093"/><circle cx="1347" cy="2089"/><circle cx="1354" cy="2081"/><circle cx="1325" cy="2081"/><circle cx="1316" cy="2092"/><circle cx="1325" cy="2080"/><circle cx="1330" cy="2083"/><circle cx="1341" cy="2086"/><circle cx="1316" cy="2095"/><circle cx="1321" cy="2093"/><circle cx="1353" cy="2079"/><circle cx="1337" cy="2086"/><circle cx="1333" cy="2087"/><circle cx="1338" cy="2078"/><circle cx="1356" cy="2087"/><circle cx="1375" cy="2093"/><circle cx="1352" cy="2085"/><circle cx="1356" cy="2100"/><circle cx="1372" cy="2105"/><circle cx="1332" cy="2077"/><circle cx="1331" cy="2087"/><circle cx="1346" cy="2085"/><circle cx="1326" cy="2086"/><circle cx="1345" cy="2086"/><circle cx="1321" cy="2102"/><circle cx="1376" cy="2081"/><circle cx="1331" cy="2089"/><circle cx="1354" cy="2101"/><circle cx="1369" cy="2077"/><circle cx="1320" cy="2094"/><circle cx="1349" cy="2088"/><circle cx="1335" cy="2084"/><circle cx="1345" cy="2090"/><circle cx="1354" cy="2091"/><circle cx="1345" cy="2088"/><circle cx="1347" cy="2084"/><circle cx="1342" cy="2091"/><circle cx="1344" cy="2086"/><circle cx="1349" cy="2092"/><circle cx="1333" cy="2085"/><circle cx="1338" cy="2088"/><circle cx="1340" cy="2088"/><circle cx="1337" cy="2094"/><circle cx="1336" cy="2086"/><circle cx="1345" cy="2107"/><circle cx="1347" cy="2107"/><circle cx="1347" cy="2113"/><circle cx="1347" cy="2119"/><circle cx="1349" cy="2114"/><circle cx="1349" cy="2123"/><circle cx="1350" cy="2124"/><circle cx="1349" cy="2125"/><circle cx="1348" cy="2127"/><circle cx="1345" cy="2135"/><circle cx="1347" cy="2135"/><circle cx="1349" cy="2138"/><circle cx="1347" cy="2148"/><circle cx="1354" cy="2150"/><circle cx="1405" cy="2019"/><circle cx="1404" cy="2024"/><circle cx="1406" cy="2021"/><circle cx="1392" cy="2023"/><circle cx="1394" cy="2017"/><circle cx="1417" cy="2027"/><circle cx="1391" cy="2025"/><circle cx="1404" cy="2020"/><circle cx="1372" cy="2026"/><circle cx="1382" cy="2024"/><circle cx="1401" cy="2023"/><circle cx="1381" cy="2029"/><circle cx="1393" cy="2016"/><circle cx="1399" cy="2034"/><circle cx="1409" cy="2023"/><circle cx="1407" cy="2028"/><circle cx="1403" cy="2023"/><circle cx="1360" cy="2026"/><circle cx="1388" cy="2023"/><circle cx="1403" cy="2026"/><circle cx="1409" cy="2023"/><circle cx="1396" cy="2022"/><circle cx="1406" cy="2017"/><circle cx="1401" cy="2021"/><circle cx="1402" cy="2020"/><circle cx="1387" cy="2029"/><circle cx="1399" cy="2025"/><circle cx="1397" cy="2022"/><circle cx="1406" cy="2018"/><circle cx="1397" cy="2018"/><circle cx="1387" cy="2021"/><circle cx="1398" cy="2023"/><circle cx="1393" cy="2022"/><circle cx="1387" cy="2023"/><circle cx="1376" cy="2017"/><circle cx="1420" cy="2015"/><circle cx="1417" cy="2017"/><circle cx="1436" cy="2015"/><circle cx="1442" cy="2017"/><circle cx="1434" cy="2019"/><circle cx="1446" cy="2035"/><circle cx="1447" cy="2044"/><circle cx="1379" cy="2040"/><circle cx="1392" cy="2079"/><circle cx="1421" cy="2078"/><circle cx="1425" cy="2089"/><circle cx="1406" cy="2094"/><circle cx="1389" cy="2107"/><circle cx="1403" cy="2051"/><circle cx="1427" cy="2047"/><circle cx="1395" cy="2052"/><circle cx="1391" cy="2054"/><circle cx="1410" cy="2054"/><circle cx="1393" cy="2053"/><circle cx="1407" cy="2054"/><circle cx="1405" cy="2052"/><circle cx="1384" cy="2063"/><circle cx="1373" cy="2058"/><circle cx="1388" cy="2047"/><circle cx="1390" cy="2053"/><circle cx="1395" cy="2052"/><circle cx="1376" cy="2054"/><circle cx="1399" cy="2050"/><circle cx="1420" cy="2053"/><circle cx="1390" cy="2051"/><circle cx="1402" cy="2050"/><circle cx="1422" cy="2049"/><circle cx="1405" cy="2050"/><circle cx="1401" cy="2045"/><circle cx="1384" cy="2050"/><circle cx="1404" cy="2048"/><circle cx="1392" cy="2053"/><circle cx="1394" cy="2055"/><circle cx="1432" cy="2059"/><circle cx="1439" cy="2059"/><circle cx="1444" cy="2063"/><circle cx="1430" cy="2059"/><circle cx="1436" cy="2054"/><circle cx="1435" cy="2055"/><circle cx="1438" cy="2057"/><circle cx="1433" cy="2055"/><circle cx="1443" cy="2075"/><circle cx="1446" cy="2076"/><circle cx="1442" cy="2078"/><circle cx="1445" cy="2082"/><circle cx="1450" cy="2086"/><circle cx="1447" cy="2088"/><circle cx="1445" cy="2094"/><circle cx="1447" cy="2100"/><circle cx="1446" cy="2101"/><circle cx="1452" cy="2104"/><circle cx="1416" cy="2129"/><circle cx="1410" cy="2120"/><circle cx="1410" cy="2127"/><circle cx="1397" cy="2132"/><circle cx="1393" cy="2118"/><circle cx="1389" cy="2121"/><circle cx="1374" cy="2133"/><circle cx="1411" cy="2117"/><circle cx="1407" cy="2129"/><circle cx="1391" cy="2130"/><circle cx="1416" cy="2129"/><circle cx="1394" cy="2127"/><circle cx="1388" cy="2119"/><circle cx="1385" cy="2119"/><circle cx="1416" cy="2129"/><circle cx="1409" cy="2119"/><circle cx="1394" cy="2129"/><circle cx="1412" cy="2133"/><circle cx="1387" cy="2119"/><circle cx="1386" cy="2120"/><circle cx="1400" cy="2122"/><circle cx="1395" cy="2128"/><circle cx="1415" cy="2129"/><circle cx="1392" cy="2119"/><circle cx="1387" cy="2122"/><circle cx="1407" cy="2133"/><circle cx="1402" cy="2122"/><circle cx="1409" cy="2129"/><circle cx="1407" cy="2118"/><circle cx="1405" cy="2124"/><circle cx="1380" cy="2129"/><circle cx="1416" cy="2120"/><circle cx="1400" cy="2118"/><circle cx="1387" cy="2133"/><circle cx="1405" cy="2120"/><circle cx="1412" cy="2129"/><circle cx="1391" cy="2118"/><circle cx="1388" cy="2128"/><circle cx="1416" cy="2122"/><circle cx="1404" cy="2130"/><circle cx="1484" cy="2105"/><circle cx="1486" cy="2104"/><circle cx="1510" cy="2104"/><circle cx="1491" cy="2111"/><circle cx="1492" cy="2116"/><circle cx="1502" cy="2099"/><circle cx="1504" cy="2111"/><circle cx="1454" cy="2105"/><circle cx="1492" cy="2109"/><circle cx="1500" cy="2109"/><circle cx="1497" cy="2105"/><circle cx="1467" cy="2102"/><circle cx="1498" cy="2103"/><circle cx="1528" cy="2100"/><circle cx="1524" cy="2103"/><circle cx="1511" cy="2114"/><circle cx="1501" cy="2107"/><circle cx="1505" cy="2116"/><circle cx="1489" cy="2099"/><circle cx="1481" cy="2110"/><circle cx="1487" cy="2103"/><circle cx="1482" cy="2104"/><circle cx="1452" cy="2108"/><circle cx="1487" cy="2104"/><circle cx="1497" cy="2112"/><circle cx="1469" cy="2107"/><circle cx="1484" cy="2111"/><circle cx="1491" cy="2101"/><circle cx="1467" cy="2100"/><circle cx="1483" cy="2099"/><circle cx="1407" cy="2109"/><circle cx="1429" cy="2125"/><circle cx="1533" cy="2132"/><circle cx="1446" cy="2107"/><circle cx="1510" cy="2125"/><circle cx="1430" cy="2107"/><circle cx="1417" cy="2110"/><circle cx="1491" cy="2131"/><circle cx="1508" cy="2114"/><circle cx="1447" cy="2117"/><circle cx="1531" cy="2118"/><circle cx="1437" cy="2125"/><circle cx="1501" cy="2105"/><circle cx="1480" cy="2108"/><circle cx="1465" cy="2128"/><circle cx="1438" cy="2120"/><circle cx="1469" cy="2104"/><circle cx="1512" cy="2102"/><circle cx="1411" cy="2129"/><circle cx="1453" cy="2112"/><circle cx="1480" cy="2114"/><circle cx="1424" cy="2113"/><circle cx="1511" cy="2121"/><circle cx="1534" cy="2123"/><circle cx="1463" cy="2117"/><circle cx="1451" cy="2108"/><circle cx="1465" cy="2131"/><circle cx="1462" cy="2105"/><circle cx="1493" cy="2103"/><circle cx="1490" cy="2106"/><circle cx="1529" cy="2114"/><circle cx="1496" cy="2121"/><circle cx="1481" cy="2111"/><circle cx="1410" cy="2124"/><circle cx="1407" cy="2113"/><circle cx="1512" cy="2125"/><circle cx="1526" cy="2122"/><circle cx="1449" cy="2107"/><circle cx="1458" cy="2106"/><circle cx="1417" cy="2104"/><circle cx="1539" cy="2133"/><circle cx="1479" cy="2115"/><circle cx="1524" cy="2130"/><circle cx="1503" cy="2114"/><circle cx="1484" cy="2111"/><circle cx="1476" cy="2115"/><circle cx="1501" cy="2100"/><circle cx="1424" cy="2108"/><circle cx="1512" cy="2125"/><circle cx="1410" cy="2107"/><circle cx="1428" cy="2131"/><circle cx="1461" cy="2109"/><circle cx="1468" cy="2122"/><circle cx="1429" cy="2109"/><circle cx="1408" cy="2102"/><circle cx="1508" cy="2106"/><circle cx="1505" cy="2108"/><circle cx="1498" cy="2131"/><circle cx="1423" cy="2117"/><circle cx="1488" cy="2116"/><circle cx="1461" cy="2121"/><circle cx="1407" cy="2132"/><circle cx="1442" cy="2107"/><circle cx="1445" cy="2123"/><circle cx="1423" cy="2122"/><circle cx="1436" cy="2124"/><circle cx="1444" cy="2106"/><circle cx="1507" cy="2109"/><circle cx="1480" cy="2127"/><circle cx="1500" cy="2123"/><circle cx="1487" cy="2118"/><circle cx="1454" cy="2117"/><circle cx="1409" cy="2133"/><circle cx="1423" cy="2117"/><circle cx="1413" cy="2132"/><circle cx="1409" cy="2114"/><circle cx="1438" cy="2128"/><circle cx="1462" cy="2102"/><circle cx="1538" cy="2126"/><circle cx="1465" cy="2128"/><circle cx="1496" cy="2110"/><circle cx="1406" cy="2106"/><circle cx="1459" cy="2133"/><circle cx="1426" cy="2114"/><circle cx="1485" cy="2115"/><circle cx="1416" cy="2113"/><circle cx="1455" cy="2116"/><circle cx="1423" cy="2122"/><circle cx="1483" cy="2118"/><circle cx="1528" cy="2127"/><circle cx="1523" cy="2129"/><circle cx="1420" cy="2111"/><circle cx="1417" cy="2108"/><circle cx="1472" cy="2131"/><circle cx="1484" cy="2132"/><circle cx="1530" cy="2122"/><circle cx="1462" cy="2126"/><circle cx="1495" cy="2111"/><circle cx="1512" cy="2116"/><circle cx="1496" cy="2101"/><circle cx="1460" cy="2107"/><circle cx="1517" cy="2133"/><circle cx="1463" cy="2126"/><circle cx="1497" cy="2122"/><circle cx="1476" cy="2103"/><circle cx="1414" cy="2119"/><circle cx="1488" cy="2104"/><circle cx="1464" cy="2123"/><circle cx="1421" cy="2132"/><circle cx="1486" cy="2119"/><circle cx="1278" cy="2117"/><circle cx="1281" cy="2121"/><circle cx="1281" cy="2116"/><circle cx="1286" cy="2108"/><circle cx="1274" cy="2105"/><circle cx="1290" cy="2104"/><circle cx="1288" cy="2110"/><circle cx="1291" cy="2108"/><circle cx="1285" cy="2105"/><circle cx="1286" cy="2116"/><circle cx="1279" cy="2103"/><circle cx="1291" cy="2122"/><circle cx="1290" cy="2116"/><circle cx="1276" cy="2097"/><circle cx="1298" cy="2122"/><circle cx="1295" cy="2133"/><circle cx="1293" cy="2130"/><circle cx="1300" cy="2131"/><circle cx="1294" cy="2128"/><circle cx="1297" cy="2132"/><circle cx="1299" cy="2135"/><circle cx="1293" cy="2119"/><circle cx="1250" cy="2110"/><circle cx="1254" cy="2111"/><circle cx="1247" cy="2111"/><circle cx="1143" cy="2155"/><circle cx="1159" cy="2149"/><circle cx="1165" cy="2145"/><circle cx="1168" cy="2145"/><circle cx="1171" cy="2144"/><circle cx="1240" cy="2138"/><circle cx="1251" cy="2136"/><circle cx="1230" cy="2131"/><circle cx="1251" cy="2127"/><circle cx="1234" cy="2133"/><circle cx="1242" cy="2136"/><circle cx="1239" cy="2133"/><circle cx="1246" cy="2129"/><circle cx="1227" cy="2133"/><circle cx="1247" cy="2137"/><circle cx="1241" cy="2131"/><circle cx="1248" cy="2130"/><circle cx="1250" cy="2122"/><circle cx="1249" cy="2133"/><circle cx="1278" cy="2141"/><circle cx="1232" cy="2141"/><circle cx="1214" cy="2159"/><circle cx="1233" cy="2146"/><circle cx="1232" cy="2140"/><circle cx="1172" cy="2147"/><circle cx="1188" cy="2155"/><circle cx="1273" cy="2153"/><circle cx="1264" cy="2134"/><circle cx="1270" cy="2144"/><circle cx="1265" cy="2124"/><circle cx="1196" cy="2157"/><circle cx="1262" cy="2146"/><circle cx="1223" cy="2155"/><circle cx="1279" cy="2125"/><circle cx="1289" cy="2122"/><circle cx="1288" cy="2148"/><circle cx="1249" cy="2160"/><circle cx="1190" cy="2143"/><circle cx="1272" cy="2129"/><circle cx="1320" cy="2121"/><circle cx="1261" cy="2130"/><circle cx="1299" cy="2138"/><circle cx="1231" cy="2132"/><circle cx="1164" cy="2154"/><circle cx="1263" cy="2147"/><circle cx="1282" cy="2139"/><circle cx="1190" cy="2141"/><circle cx="1263" cy="2144"/><circle cx="1217" cy="2140"/><circle cx="1191" cy="2146"/><circle cx="1317" cy="2133"/><circle cx="1313" cy="2121"/><circle cx="1171" cy="2148"/><circle cx="1321" cy="2148"/><circle cx="1294" cy="2155"/><circle cx="1217" cy="2135"/><circle cx="1302" cy="2129"/><circle cx="1219" cy="2143"/><circle cx="1314" cy="2160"/><circle cx="1221" cy="2139"/><circle cx="1173" cy="2147"/><circle cx="1215" cy="2144"/><circle cx="1209" cy="2158"/><circle cx="1164" cy="2155"/><circle cx="1263" cy="2128"/><circle cx="1249" cy="2151"/><circle cx="1303" cy="2153"/><circle cx="1169" cy="2152"/><circle cx="1184" cy="2146"/><circle cx="1163" cy="2147"/><circle cx="1275" cy="2155"/><circle cx="1202" cy="2143"/><circle cx="1266" cy="2154"/><circle cx="1318" cy="2117"/><circle cx="1314" cy="2156"/><circle cx="1303" cy="2133"/><circle cx="1214" cy="2147"/><circle cx="1177" cy="2147"/><circle cx="1285" cy="2135"/><circle cx="1319" cy="2143"/><circle cx="1220" cy="2147"/><circle cx="1316" cy="2123"/><circle cx="1296" cy="2140"/><circle cx="1219" cy="2153"/><circle cx="1313" cy="2115"/><circle cx="1280" cy="2149"/><circle cx="1264" cy="2156"/><circle cx="1182" cy="2147"/><circle cx="1286" cy="2159"/><circle cx="1288" cy="2125"/><circle cx="1287" cy="2155"/><circle cx="1220" cy="2144"/><circle cx="1262" cy="2142"/><circle cx="1174" cy="2155"/><circle cx="1175" cy="2150"/><circle cx="1204" cy="2136"/><circle cx="1231" cy="2133"/><circle cx="1194" cy="2143"/><circle cx="1230" cy="2152"/><circle cx="1274" cy="2127"/><circle cx="1298" cy="2135"/><circle cx="1245" cy="2146"/><circle cx="1291" cy="2131"/><circle cx="1181" cy="2150"/><circle cx="1221" cy="2146"/><circle cx="1262" cy="2136"/><circle cx="1234" cy="2133"/><circle cx="1284" cy="2144"/><circle cx="1286" cy="2146"/><circle cx="1170" cy="2143"/><circle cx="1294" cy="2122"/><circle cx="1215" cy="2159"/><circle cx="1178" cy="2146"/><circle cx="1275" cy="2155"/><circle cx="1183" cy="2143"/><circle cx="1228" cy="2154"/><circle cx="1188" cy="2141"/><circle cx="1195" cy="2159"/><circle cx="1235" cy="2136"/><circle cx="1297" cy="2119"/><circle cx="1157" cy="2152"/><circle cx="1170" cy="2145"/><circle cx="1205" cy="2140"/><circle cx="1240" cy="2158"/><circle cx="1293" cy="2144"/><circle cx="1173" cy="2150"/><circle cx="1165" cy="2157"/><circle cx="1256" cy="2159"/><circle cx="1178" cy="2156"/><circle cx="1315" cy="2122"/><circle cx="1169" cy="2155"/><circle cx="1284" cy="2150"/><circle cx="1307" cy="2139"/><circle cx="1199" cy="2149"/><circle cx="1208" cy="2149"/><circle cx="1168" cy="2143"/><circle cx="1264" cy="2147"/><circle cx="1306" cy="2148"/><circle cx="1302" cy="2133"/><circle cx="1266" cy="2129"/><circle cx="1283" cy="2143"/><circle cx="1265" cy="2124"/><circle cx="1274" cy="2155"/><circle cx="1214" cy="2157"/><circle cx="1183" cy="2144"/><circle cx="1173" cy="2147"/><circle cx="1320" cy="2114"/><circle cx="1179" cy="2143"/><circle cx="1159" cy="2149"/><circle cx="1290" cy="2131"/><circle cx="1230" cy="2146"/><circle cx="1314" cy="2135"/><circle cx="1299" cy="2155"/><circle cx="1239" cy="2132"/><circle cx="1290" cy="2132"/><circle cx="1209" cy="2148"/><circle cx="1199" cy="2150"/><circle cx="1270" cy="2128"/><circle cx="1200" cy="2146"/><circle cx="1234" cy="2156"/><circle cx="1227" cy="2142"/><circle cx="1200" cy="2141"/><circle cx="1170" cy="2151"/><circle cx="1180" cy="2147"/><circle cx="1205" cy="2144"/><circle cx="1176" cy="2152"/><circle cx="1203" cy="2153"/><circle cx="1199" cy="2150"/><circle cx="1274" cy="2128"/><circle cx="1211" cy="2152"/><circle cx="1291" cy="2159"/><circle cx="1259" cy="2159"/><circle cx="1228" cy="2161"/><circle cx="1188" cy="2154"/><circle cx="1208" cy="2154"/><circle cx="1292" cy="2149"/><circle cx="1274" cy="2155"/><circle cx="1313" cy="2155"/><circle cx="1193" cy="2154"/><circle cx="1296" cy="2157"/><circle cx="1227" cy="2158"/><circle cx="1189" cy="2157"/><circle cx="1322" cy="2159"/><circle cx="1263" cy="2152"/><circle cx="1205" cy="2155"/><circle cx="1290" cy="2153"/><circle cx="1266" cy="2156"/><circle cx="1216" cy="2151"/><circle cx="1312" cy="2151"/><circle cx="1235" cy="2153"/><circle cx="1285" cy="2152"/><circle cx="1278" cy="2154"/><circle cx="1205" cy="2153"/><circle cx="1206" cy="2154"/><circle cx="1300" cy="2153"/><circle cx="1322" cy="2156"/><circle cx="1207" cy="2152"/><circle cx="1243" cy="2153"/><circle cx="1293" cy="2153"/><circle cx="1250" cy="2159"/><circle cx="1310" cy="2153"/><circle cx="1320" cy="2156"/><circle cx="1187" cy="2156"/><circle cx="1303" cy="2150"/><circle cx="1197" cy="2150"/><circle cx="1254" cy="2155"/><circle cx="1259" cy="2158"/><circle cx="1203" cy="2153"/><circle cx="1224" cy="2153"/><circle cx="1231" cy="2160"/><circle cx="1312" cy="2155"/><circle cx="1285" cy="2158"/><circle cx="1226" cy="2157"/><circle cx="1251" cy="2150"/><circle cx="1306" cy="2159"/><circle cx="1268" cy="2157"/><circle cx="1198" cy="2155"/><circle cx="1176" cy="2152"/><circle cx="1207" cy="2152"/><circle cx="1195" cy="2160"/><circle cx="1301" cy="2154"/><circle cx="1258" cy="2156"/><circle cx="1180" cy="2151"/><circle cx="1315" cy="2160"/><circle cx="1200" cy="2160"/><circle cx="1305" cy="2156"/><circle cx="1177" cy="2149"/><circle cx="1275" cy="2161"/><circle cx="1315" cy="2149"/><circle cx="1330" cy="2146"/><circle cx="1460" cy="2155"/><circle cx="1465" cy="2160"/><circle cx="1505" cy="2150"/><circle cx="1478" cy="2152"/><circle cx="1542" cy="2151"/><circle cx="1434" cy="2152"/><circle cx="1540" cy="2149"/><circle cx="1531" cy="2156"/><circle cx="1369" cy="2152"/><circle cx="1362" cy="2151"/><circle cx="1466" cy="2150"/><circle cx="1437" cy="2151"/><circle cx="1411" cy="2159"/><circle cx="1342" cy="2147"/><circle cx="1490" cy="2159"/><circle cx="1364" cy="2155"/><circle cx="1511" cy="2155"/><circle cx="1532" cy="2150"/><circle cx="1515" cy="2156"/><circle cx="1512" cy="2150"/><circle cx="1527" cy="2153"/><circle cx="1340" cy="2158"/><circle cx="1520" cy="2154"/><circle cx="1368" cy="2161"/><circle cx="1471" cy="2160"/><circle cx="1541" cy="2154"/><circle cx="1343" cy="2146"/><circle cx="1508" cy="2148"/><circle cx="1485" cy="2156"/><circle cx="1365" cy="2160"/><circle cx="1416" cy="2149"/><circle cx="1404" cy="2156"/><circle cx="1338" cy="2159"/><circle cx="1356" cy="2151"/><circle cx="1455" cy="2157"/><circle cx="1410" cy="2149"/><circle cx="1336" cy="2149"/><circle cx="1498" cy="2149"/><circle cx="1336" cy="2149"/><circle cx="1377" cy="2149"/><circle cx="1470" cy="2155"/><circle cx="1343" cy="2154"/><circle cx="1408" cy="2151"/><circle cx="1415" cy="2158"/><circle cx="1343" cy="2156"/><circle cx="1383" cy="2148"/><circle cx="1532" cy="2159"/><circle cx="1378" cy="2147"/><circle cx="1323" cy="2159"/><circle cx="1341" cy="2147"/><circle cx="1382" cy="2148"/><circle cx="1384" cy="2151"/><circle cx="1527" cy="2147"/><circle cx="1373" cy="2151"/><circle cx="1519" cy="2156"/><circle cx="1478" cy="2154"/><circle cx="1339" cy="2148"/><circle cx="1536" cy="2152"/><circle cx="1433" cy="2150"/><circle cx="1393" cy="2159"/><circle cx="1333" cy="2159"/><circle cx="1512" cy="2159"/><circle cx="1447" cy="2160"/><circle cx="1378" cy="2150"/><circle cx="1459" cy="2156"/><circle cx="1363" cy="2147"/><circle cx="1538" cy="2148"/><circle cx="1541" cy="2152"/><circle cx="1483" cy="2150"/><circle cx="1336" cy="2157"/><circle cx="1375" cy="2156"/><circle cx="1370" cy="2147"/><circle cx="1445" cy="2161"/><circle cx="1417" cy="2151"/><circle cx="1365" cy="2148"/><circle cx="1488" cy="2148"/><circle cx="1336" cy="2151"/><circle cx="1410" cy="2146"/><circle cx="1472" cy="2154"/><circle cx="1540" cy="2158"/><circle cx="1460" cy="2158"/><circle cx="1474" cy="2158"/><circle cx="1407" cy="2156"/><circle cx="1537" cy="2159"/><circle cx="1476" cy="2148"/><circle cx="1540" cy="2154"/><circle cx="1536" cy="2158"/><circle cx="1501" cy="2150"/><circle cx="1376" cy="2146"/><circle cx="1336" cy="2161"/><circle cx="1514" cy="2154"/><circle cx="1458" cy="2156"/><circle cx="1375" cy="2150"/><circle cx="1483" cy="2155"/><circle cx="1402" cy="2148"/><circle cx="1374" cy="2148"/><circle cx="1541" cy="2146"/><circle cx="1520" cy="2146"/><circle cx="1437" cy="2159"/><circle cx="1376" cy="2156"/><circle cx="1361" cy="2159"/><circle cx="1402" cy="2159"/><circle cx="1417" cy="2148"/><circle cx="1427" cy="2160"/><circle cx="1333" cy="2153"/><circle cx="1462" cy="2158"/><circle cx="1333" cy="2149"/><circle cx="1365" cy="2158"/><circle cx="1363" cy="2161"/><circle cx="1481" cy="2150"/><circle cx="1349" cy="2148"/><circle cx="1374" cy="2147"/><circle cx="1397" cy="2159"/><circle cx="1374" cy="2146"/><circle cx="1423" cy="2153"/><circle cx="1455" cy="2157"/><circle cx="1508" cy="2151"/><circle cx="1399" cy="2156"/><circle cx="1436" cy="2152"/><circle cx="1358" cy="2148"/><circle cx="1511" cy="2151"/><circle cx="1404" cy="2152"/><circle cx="1477" cy="2157"/><circle cx="1468" cy="2158"/><circle cx="1446" cy="2161"/><circle cx="1367" cy="2158"/><circle cx="1426" cy="2151"/><circle cx="1467" cy="2154"/><circle cx="1362" cy="2153"/><circle cx="1525" cy="2159"/><circle cx="1508" cy="2154"/><circle cx="1325" cy="2152"/><circle cx="1507" cy="2155"/><circle cx="1421" cy="2152"/><circle cx="1426" cy="2156"/><circle cx="1509" cy="2157"/><circle cx="1390" cy="2160"/><circle cx="1352" cy="2151"/><circle cx="1524" cy="2150"/><circle cx="1411" cy="2159"/><circle cx="1466" cy="2150"/><circle cx="1329" cy="2149"/><circle cx="1336" cy="2150"/><circle cx="1473" cy="2147"/><circle cx="1428" cy="2154"/><circle cx="1363" cy="2159"/><circle cx="1451" cy="2159"/><circle cx="1499" cy="2150"/><circle cx="1394" cy="2156"/><circle cx="1503" cy="2154"/><circle cx="1426" cy="2142"/><circle cx="1492" cy="2148"/><circle cx="1524" cy="2147"/><circle cx="1450" cy="2146"/><circle cx="1453" cy="2140"/><circle cx="1429" cy="2156"/><circle cx="1526" cy="2140"/><circle cx="1478" cy="2151"/><circle cx="1445" cy="2154"/><circle cx="1428" cy="2151"/><circle cx="1495" cy="2142"/><circle cx="1448" cy="2142"/><circle cx="1491" cy="2138"/><circle cx="1463" cy="2148"/><circle cx="1514" cy="2150"/><circle cx="1502" cy="2154"/><circle cx="1518" cy="2154"/><circle cx="1479" cy="2148"/><circle cx="1436" cy="2149"/><circle cx="1517" cy="2138"/><circle cx="1433" cy="2143"/><circle cx="1470" cy="2139"/><circle cx="1533" cy="2152"/><circle cx="1498" cy="2142"/><circle cx="1480" cy="2149"/><circle cx="1504" cy="2152"/><circle cx="1466" cy="2156"/><circle cx="1467" cy="2156"/><circle cx="1421" cy="2153"/><circle cx="1524" cy="2153"/><circle cx="1507" cy="2147"/><circle cx="1488" cy="2150"/><circle cx="1499" cy="2150"/><circle cx="1540" cy="2142"/><circle cx="1515" cy="2144"/><circle cx="1536" cy="2150"/><circle cx="1502" cy="2139"/><circle cx="1468" cy="2138"/><circle cx="1437" cy="2142"/><circle cx="1473" cy="2145"/><circle cx="1441" cy="2143"/><circle cx="1521" cy="2141"/><circle cx="1528" cy="2140"/><circle cx="1523" cy="2142"/><circle cx="1480" cy="2151"/><circle cx="1501" cy="2145"/><circle cx="1509" cy="2155"/><circle cx="1422" cy="2143"/><circle cx="1465" cy="2157"/><circle cx="1459" cy="2149"/><circle cx="1483" cy="2140"/><circle cx="1488" cy="2156"/><circle cx="1455" cy="2150"/><circle cx="1500" cy="2150"/><circle cx="1451" cy="2146"/><circle cx="1461" cy="2148"/><circle cx="1486" cy="2148"/><circle cx="1423" cy="2153"/><circle cx="1518" cy="2151"/><circle cx="1419" cy="2142"/><circle cx="1451" cy="2144"/><circle cx="1469" cy="2151"/><circle cx="1427" cy="2152"/><circle cx="1515" cy="2144"/><circle cx="1501" cy="2149"/><circle cx="1536" cy="2153"/><circle cx="1531" cy="2148"/><circle cx="1474" cy="2147"/><circle cx="1474" cy="2141"/><circle cx="1531" cy="2153"/><circle cx="1518" cy="2153"/><circle cx="1501" cy="2143"/><circle cx="1447" cy="2144"/><circle cx="1509" cy="2140"/><circle cx="1459" cy="2146"/><circle cx="1464" cy="2144"/><circle cx="1542" cy="2150"/><circle cx="1541" cy="2141"/><circle cx="1516" cy="2145"/><circle cx="1539" cy="2154"/><circle cx="1461" cy="2148"/><circle cx="1528" cy="2138"/><circle cx="1453" cy="2156"/><circle cx="1507" cy="2155"/><circle cx="1436" cy="2157"/><circle cx="1470" cy="2147"/><circle cx="1445" cy="2143"/><circle cx="1430" cy="2147"/><circle cx="1534" cy="2154"/><circle cx="1441" cy="2152"/><circle cx="1487" cy="2149"/><circle cx="1447" cy="2143"/><circle cx="1526" cy="2155"/><circle cx="1470" cy="2153"/><circle cx="1472" cy="2154"/><circle cx="1447" cy="2147"/><circle cx="1445" cy="2154"/><circle cx="1436" cy="2149"/><circle cx="1464" cy="2142"/><circle cx="1430" cy="2146"/><circle cx="1518" cy="2140"/><circle cx="1466" cy="2148"/><circle cx="1423" cy="2152"/><circle cx="1514" cy="2140"/><circle cx="1462" cy="2148"/><circle cx="1527" cy="2150"/><circle cx="1461" cy="2153"/><circle cx="1496" cy="2142"/><circle cx="1516" cy="2149"/><circle cx="1423" cy="2154"/><circle cx="1442" cy="2141"/><circle cx="1506" cy="2153"/><circle cx="1470" cy="2154"/><circle cx="1482" cy="2146"/><circle cx="1479" cy="2144"/><circle cx="1462" cy="2157"/><circle cx="1452" cy="2142"/><circle cx="1441" cy="2155"/><circle cx="1489" cy="2138"/><circle cx="1508" cy="2154"/><circle cx="1527" cy="2153"/><circle cx="1484" cy="2155"/><circle cx="1527" cy="2142"/><circle cx="1417" cy="2153"/><circle cx="1432" cy="2138"/><circle cx="1539" cy="2140"/><circle cx="1428" cy="2153"/><circle cx="1541" cy="2153"/><circle cx="1461" cy="2140"/><circle cx="1438" cy="2150"/><circle cx="1507" cy="2154"/><circle cx="1444" cy="2140"/><circle cx="1429" cy="2149"/><circle cx="1481" cy="2147"/><circle cx="1513" cy="2157"/><circle cx="1472" cy="2140"/><circle cx="1499" cy="2145"/><circle cx="1536" cy="2157"/><circle cx="1503" cy="2144"/><circle cx="1436" cy="2153"/><circle cx="1418" cy="2155"/><circle cx="1481" cy="2146"/><circle cx="1449" cy="2155"/><circle cx="1453" cy="2148"/><circle cx="1490" cy="2142"/><circle cx="1482" cy="2145"/><circle cx="1540" cy="2145"/><circle cx="1431" cy="2144"/><circle cx="1474" cy="2155"/><circle cx="1452" cy="2156"/><circle cx="1437" cy="2151"/><circle cx="1513" cy="2149"/><circle cx="1527" cy="2149"/><circle cx="1520" cy="2155"/><circle cx="1531" cy="2153"/><circle cx="1504" cy="2140"/><circle cx="1481" cy="2139"/><circle cx="1492" cy="2153"/><circle cx="1420" cy="2146"/><circle cx="1515" cy="2155"/><circle cx="1487" cy="2152"/><circle cx="1470" cy="2149"/><circle cx="1528" cy="2144"/><circle cx="1424" cy="2147"/><circle cx="1513" cy="2146"/><circle cx="1475" cy="2145"/><circle cx="1424" cy="2139"/><circle cx="1488" cy="2141"/><circle cx="1480" cy="2151"/><circle cx="1511" cy="2141"/><circle cx="1478" cy="2139"/><circle cx="1447" cy="2144"/><circle cx="1523" cy="2151"/><circle cx="1501" cy="2156"/><circle cx="1447" cy="2146"/><circle cx="1432" cy="2153"/><circle cx="1524" cy="2151"/><circle cx="1454" cy="2140"/><circle cx="1492" cy="2156"/><circle cx="1517" cy="2140"/><circle cx="1499" cy="2154"/><circle cx="1530" cy="2155"/><circle cx="1422" cy="2147"/><circle cx="1540" cy="2154"/><circle cx="1449" cy="2141"/><circle cx="1461" cy="2156"/><circle cx="1507" cy="2149"/><circle cx="1503" cy="2145"/><circle cx="1459" cy="2150"/><circle cx="1428" cy="2144"/><circle cx="1430" cy="2143"/><circle cx="1452" cy="2155"/><circle cx="1499" cy="2139"/><circle cx="1451" cy="2153"/><circle cx="1526" cy="2154"/><circle cx="1440" cy="2152"/><circle cx="1531" cy="2150"/><circle cx="1500" cy="2139"/><circle cx="1489" cy="2140"/><circle cx="1536" cy="2149"/><circle cx="1460" cy="2142"/><circle cx="1508" cy="2146"/><circle cx="1429" cy="2147"/><circle cx="1490" cy="2154"/><circle cx="1526" cy="2139"/><circle cx="1505" cy="2152"/><circle cx="1447" cy="2145"/><circle cx="1476" cy="2149"/><circle cx="1478" cy="2153"/><circle cx="1452" cy="2139"/><circle cx="1472" cy="2145"/><circle cx="1520" cy="2143"/><circle cx="1453" cy="2153"/><circle cx="1432" cy="2138"/><circle cx="1533" cy="2156"/><circle cx="1509" cy="2147"/><circle cx="1470" cy="2145"/><circle cx="1459" cy="2149"/><circle cx="1511" cy="2155"/><circle cx="1439" cy="2151"/><circle cx="1523" cy="2154"/><circle cx="1542" cy="2141"/><circle cx="1429" cy="2145"/><circle cx="1500" cy="2151"/><circle cx="1484" cy="2155"/><circle cx="1500" cy="2152"/><circle cx="1534" cy="2139"/><circle cx="1493" cy="2149"/><circle cx="1478" cy="2147"/><circle cx="1385" cy="2121"/><circle cx="1375" cy="2121"/><circle cx="1378" cy="2120"/><circle cx="1404" cy="2128"/><circle cx="1402" cy="2123"/><circle cx="1405" cy="2120"/><circle cx="1389" cy="2127"/><circle cx="1407" cy="2123"/><circle cx="1375" cy="2126"/><circle cx="1401" cy="2119"/><circle cx="1377" cy="2131"/><circle cx="1378" cy="2126"/><circle cx="1378" cy="2128"/><circle cx="1416" cy="2123"/><circle cx="1389" cy="2125"/><circle cx="1382" cy="2129"/><circle cx="1405" cy="2122"/><circle cx="1404" cy="2127"/><circle cx="1414" cy="2121"/><circle cx="1377" cy="2127"/><circle cx="1400" cy="2120"/><circle cx="1384" cy="2129"/><circle cx="1402" cy="2123"/><circle cx="1394" cy="2130"/><circle cx="1381" cy="2126"/><circle cx="1383" cy="2130"/><circle cx="1410" cy="2128"/><circle cx="1390" cy="2131"/><circle cx="1390" cy="2124"/><circle cx="1416" cy="2120"/><circle cx="1408" cy="2126"/><circle cx="1410" cy="2123"/><circle cx="1415" cy="2123"/><circle cx="1379" cy="2120"/><circle cx="1394" cy="2129"/><circle cx="1393" cy="2131"/><circle cx="1391" cy="2125"/><circle cx="1385" cy="2131"/><circle cx="1377" cy="2125"/><circle cx="1411" cy="2122"/><circle cx="1182" cy="2147"/><circle cx="1198" cy="2148"/><circle cx="1168" cy="2151"/><circle cx="1182" cy="2150"/><circle cx="1185" cy="2150"/><circle cx="1189" cy="2155"/><circle cx="1174" cy="2152"/><circle cx="1182" cy="2156"/><circle cx="1186" cy="2155"/><circle cx="1190" cy="2147"/><circle cx="1166" cy="2157"/><circle cx="1188" cy="2151"/><circle cx="1179" cy="2156"/><circle cx="1198" cy="2149"/><circle cx="1176" cy="2153"/></g>
</g>
<rect x="103.5" y="55.6" width="411.0" height="165.4" fill="none" stroke="#231f20" stroke-width="2.6"/>
<line x1="85.0" y1="131.8" x2="103.5" y2="131.8" stroke="#231f20" stroke-width="2.4"/>
<text x="46.8" y="138.0" font-size="21.7">100</text>
<line x1="85.0" y1="213.2" x2="103.5" y2="213.2" stroke="#231f20" stroke-width="2.4"/>
<text x="71.0" y="219.4" font-size="21.7">0</text>
<rect x="103.5" y="250.5" width="411.0" height="166.0" fill="none" stroke="#231f20" stroke-width="2.6"/>
<line x1="85.0" y1="319.6" x2="103.5" y2="319.6" stroke="#231f20" stroke-width="2.4"/>
<text x="71.0" y="325.8" font-size="21.7">5</text>
<line x1="85.0" y1="408.5" x2="103.5" y2="408.5" stroke="#231f20" stroke-width="2.4"/>
<text x="71.0" y="414.7" font-size="21.7">0</text>
<rect x="103.5" y="446" width="411.0" height="166.0" fill="none" stroke="#231f20" stroke-width="2.6"/>
<line x1="85.0" y1="459.0" x2="103.5" y2="459.0" stroke="#231f20" stroke-width="2.4"/>
<text x="46.8" y="465.2" font-size="21.7">200</text>
<line x1="85.0" y1="604.5" x2="103.5" y2="604.5" stroke="#231f20" stroke-width="2.4"/>
<text x="71.0" y="610.7" font-size="21.7">0</text>
<rect x="103.5" y="637" width="411.0" height="256.0" fill="none" stroke="#231f20" stroke-width="2.6"/>
<line x1="85.0" y1="711.6" x2="103.5" y2="711.6" stroke="#231f20" stroke-width="2.4"/>
<text x="58.9" y="717.8" font-size="21.7">20</text>
<line x1="85.0" y1="893.0" x2="103.5" y2="893.0" stroke="#231f20" stroke-width="2.4"/>
<text x="71.0" y="899.2" font-size="21.7">0</text>
<rect x="613.5" y="55.6" width="411.0" height="165.4" fill="none" stroke="#231f20" stroke-width="2.6"/>
<line x1="595.0" y1="81.5" x2="613.5" y2="81.5" stroke="#231f20" stroke-width="2.4"/>
<text x="568.9" y="87.7" font-size="21.7">10</text>
<line x1="595.0" y1="213.2" x2="613.5" y2="213.2" stroke="#231f20" stroke-width="2.4"/>
<text x="581.0" y="219.4" font-size="21.7">0</text>
<rect x="613.5" y="250.5" width="411.0" height="166.0" fill="none" stroke="#231f20" stroke-width="2.6"/>
<line x1="595.0" y1="319.8" x2="613.5" y2="319.8" stroke="#231f20" stroke-width="2.4"/>
<text x="581.0" y="326.0" font-size="21.7">5</text>
<line x1="595.0" y1="408.5" x2="613.5" y2="408.5" stroke="#231f20" stroke-width="2.4"/>
<text x="581.0" y="414.7" font-size="21.7">0</text>
<rect x="613.5" y="446" width="411.0" height="166.0" fill="none" stroke="#231f20" stroke-width="2.6"/>
<line x1="595.0" y1="494.0" x2="613.5" y2="494.0" stroke="#231f20" stroke-width="2.4"/>
<text x="568.9" y="500.2" font-size="21.7">10</text>
<line x1="595.0" y1="604.7" x2="613.5" y2="604.7" stroke="#231f20" stroke-width="2.4"/>
<text x="581.0" y="610.9" font-size="21.7">0</text>
<rect x="613.5" y="637" width="411.0" height="256.0" fill="none" stroke="#231f20" stroke-width="2.6"/>
<line x1="595.0" y1="744.3" x2="613.5" y2="744.3" stroke="#231f20" stroke-width="2.4"/>
<text x="568.9" y="750.5" font-size="21.7">10</text>
<line x1="595.0" y1="893.0" x2="613.5" y2="893.0" stroke="#231f20" stroke-width="2.4"/>
<text x="581.0" y="899.2" font-size="21.7">0</text>
<rect x="1130.5" y="55.6" width="411.0" height="165.4" fill="none" stroke="#231f20" stroke-width="2.6"/>
<line x1="1112.0" y1="103.9" x2="1130.5" y2="103.9" stroke="#231f20" stroke-width="2.4"/>
<text x="1098.1" y="110.1" font-size="21.7">3</text>
<line x1="1112.0" y1="213.2" x2="1130.5" y2="213.2" stroke="#231f20" stroke-width="2.4"/>
<text x="1098.2" y="219.4" font-size="21.7">2</text>
<rect x="1130.5" y="250.5" width="411.0" height="166.0" fill="none" stroke="#231f20" stroke-width="2.6"/>
<line x1="1112.0" y1="299.2" x2="1130.5" y2="299.2" stroke="#231f20" stroke-width="2.4"/>
<text x="1085.9" y="305.4" font-size="21.7">50</text>
<line x1="1112.0" y1="408.5" x2="1130.5" y2="408.5" stroke="#231f20" stroke-width="2.4"/>
<text x="1098.0" y="414.7" font-size="21.7">0</text>
<rect x="1130.5" y="446" width="411.0" height="166.0" fill="none" stroke="#231f20" stroke-width="2.6"/>
<line x1="1112.0" y1="485.3" x2="1130.5" y2="485.3" stroke="#231f20" stroke-width="2.4"/>
<text x="1085.9" y="491.5" font-size="21.7">50</text>
<line x1="1112.0" y1="604.7" x2="1130.5" y2="604.7" stroke="#231f20" stroke-width="2.4"/>
<text x="1098.0" y="610.9" font-size="21.7">0</text>
<rect x="1130.5" y="637" width="411.0" height="256.0" fill="none" stroke="#231f20" stroke-width="2.6"/>
<line x1="1112.0" y1="687.2" x2="1130.5" y2="687.2" stroke="#231f20" stroke-width="2.4"/>
<text x="1098.0" y="693.4" font-size="21.7">5</text>
<line x1="1112.0" y1="893.0" x2="1130.5" y2="893.0" stroke="#231f20" stroke-width="2.4"/>
<text x="1098.0" y="899.2" font-size="21.7">0</text>
<rect x="104" y="1334" width="411.0" height="166.0" fill="none" stroke="#231f20" stroke-width="2.6"/>
<line x1="85.5" y1="1370.2" x2="104.0" y2="1370.2" stroke="#231f20" stroke-width="2.4"/>
<text x="59.4" y="1376.4" font-size="21.7">10</text>
<line x1="85.5" y1="1445.8" x2="104.0" y2="1445.8" stroke="#231f20" stroke-width="2.4"/>
<text x="71.5" y="1452.0" font-size="21.7">5</text>
<rect x="104" y="1530" width="411.0" height="164.5" fill="none" stroke="#231f20" stroke-width="2.6"/>
<line x1="85.5" y1="1608.1" x2="104.0" y2="1608.1" stroke="#231f20" stroke-width="2.4"/>
<text x="59.4" y="1614.3" font-size="21.7">10</text>
<line x1="85.5" y1="1687.2" x2="104.0" y2="1687.2" stroke="#231f20" stroke-width="2.4"/>
<text x="71.5" y="1693.4" font-size="21.7">0</text>
<rect x="104" y="1725" width="411.0" height="165.5" fill="none" stroke="#231f20" stroke-width="2.6"/>
<line x1="85.5" y1="1777.7" x2="104.0" y2="1777.7" stroke="#231f20" stroke-width="2.4"/>
<text x="71.5" y="1783.9" font-size="21.7">5</text>
<line x1="85.5" y1="1882.6" x2="104.0" y2="1882.6" stroke="#231f20" stroke-width="2.4"/>
<text x="71.5" y="1888.8" font-size="21.7">0</text>
<rect x="104" y="1916" width="411.0" height="255.5" fill="none" stroke="#231f20" stroke-width="2.6"/>
<line x1="85.5" y1="2009.1" x2="104.0" y2="2009.1" stroke="#231f20" stroke-width="2.4"/>
<text x="71.5" y="2015.3" font-size="21.7">5</text>
<line x1="85.5" y1="2171.4" x2="104.0" y2="2171.4" stroke="#231f20" stroke-width="2.4"/>
<text x="71.5" y="2177.6" font-size="21.7">0</text>
<rect x="616.3" y="1334" width="411.3" height="166.0" fill="none" stroke="#231f20" stroke-width="2.6"/>
<line x1="597.8" y1="1404.4" x2="616.3" y2="1404.4" stroke="#231f20" stroke-width="2.4"/>
<text x="571.7" y="1410.6" font-size="21.7">50</text>
<line x1="597.8" y1="1492.1" x2="616.3" y2="1492.1" stroke="#231f20" stroke-width="2.4"/>
<text x="583.8" y="1498.3" font-size="21.7">0</text>
<rect x="616.3" y="1530" width="411.3" height="164.5" fill="none" stroke="#231f20" stroke-width="2.6"/>
<line x1="597.8" y1="1598.0" x2="616.3" y2="1598.0" stroke="#231f20" stroke-width="2.4"/>
<text x="571.7" y="1604.2" font-size="21.7">50</text>
<line x1="597.8" y1="1686.8" x2="616.3" y2="1686.8" stroke="#231f20" stroke-width="2.4"/>
<text x="583.8" y="1693.0" font-size="21.7">0</text>
<rect x="616.3" y="1725" width="411.3" height="165.5" fill="none" stroke="#231f20" stroke-width="2.6"/>
<line x1="597.8" y1="1772.7" x2="616.3" y2="1772.7" stroke="#231f20" stroke-width="2.4"/>
<text x="565.4" y="1778.9" font-size="21.7">2.4</text>
<line x1="597.8" y1="1839.8" x2="616.3" y2="1839.8" stroke="#231f20" stroke-width="2.4"/>
<text x="565.8" y="1846.0" font-size="21.7">2.3</text>
<rect x="616.3" y="1916" width="411.3" height="255.5" fill="none" stroke="#231f20" stroke-width="2.6"/>
<line x1="597.8" y1="1929.9" x2="616.3" y2="1929.9" stroke="#231f20" stroke-width="2.4"/>
<text x="571.7" y="1936.1" font-size="21.7">20</text>
<line x1="597.8" y1="2170.9" x2="616.3" y2="2170.9" stroke="#231f20" stroke-width="2.4"/>
<text x="583.8" y="2177.1" font-size="21.7">0</text>
<rect x="1132.8" y="1334" width="411.6" height="166.0" fill="none" stroke="#231f20" stroke-width="2.6"/>
<line x1="1114.3" y1="1408.9" x2="1132.8" y2="1408.9" stroke="#231f20" stroke-width="2.4"/>
<text x="1088.2" y="1415.1" font-size="21.7">10</text>
<line x1="1114.3" y1="1491.4" x2="1132.8" y2="1491.4" stroke="#231f20" stroke-width="2.4"/>
<text x="1100.3" y="1497.6" font-size="21.7">0</text>
<rect x="1132.8" y="1530" width="411.6" height="164.5" fill="none" stroke="#231f20" stroke-width="2.6"/>
<line x1="1114.3" y1="1564.3" x2="1132.8" y2="1564.3" stroke="#231f20" stroke-width="2.4"/>
<text x="1100.4" y="1570.5" font-size="21.7">3</text>
<line x1="1114.3" y1="1640.0" x2="1132.8" y2="1640.0" stroke="#231f20" stroke-width="2.4"/>
<text x="1082.2" y="1646.2" font-size="21.7">2.5</text>
<rect x="1132.8" y="1725" width="411.6" height="165.5" fill="none" stroke="#231f20" stroke-width="2.6"/>
<line x1="1114.3" y1="1729.4" x2="1132.8" y2="1729.4" stroke="#231f20" stroke-width="2.4"/>
<text x="1100.4" y="1735.6" font-size="21.7">3</text>
<line x1="1114.3" y1="1810.2" x2="1132.8" y2="1810.2" stroke="#231f20" stroke-width="2.4"/>
<text x="1082.2" y="1816.4" font-size="21.7">2.5</text>
<rect x="1132.8" y="1916" width="411.6" height="255.5" fill="none" stroke="#231f20" stroke-width="2.6"/>
<line x1="1114.3" y1="2021.7" x2="1132.8" y2="2021.7" stroke="#231f20" stroke-width="2.4"/>
<text x="1088.2" y="2027.9" font-size="21.7">20</text>
<line x1="1114.3" y1="2171.4" x2="1132.8" y2="2171.4" stroke="#231f20" stroke-width="2.4"/>
<text x="1100.3" y="2177.6" font-size="21.7">0</text>
<text x="109.9" y="82.5" font-size="26.9">exQTL</text>
<text x="110.1" y="108.7" font-size="21.4">RTC p=0.0</text>
<text x="319.4" y="76.3" font-size="21.4">rs2711977</text>
<text x="134.8" y="268.2" font-size="21.4" fill="#a0a2a4">rs113465719</text>
<text x="344.6" y="304.3" font-size="26.9">inQTL</text>
<text x="344.6" y="330.8" font-size="21.4">RTC not testable</text>
<text x="109.9" y="474.0" font-size="26.9">ex-inQTL</text>
<text x="110.1" y="500.8" font-size="21.4">RTC p=0.0</text>
<text x="319.4" y="466.4" font-size="21.4">rs2711977</text>
<text x="109.3" y="664.2" font-size="21.4" fill="#e62330">Monocyte count</text>
<text x="723.9" y="76.3" font-size="21.4" fill="#a0a2a4">rs34307601</text>
<text x="855.9" y="83.2" font-size="26.9">exQTL</text>
<text x="855.3" y="109.4" font-size="21.4">RTC not testable</text>
<text x="649.3" y="271.7" font-size="21.4" fill="#a0a2a4">rs7163381</text>
<text x="857.0" y="278.5" font-size="26.9">inQTL</text>
<text x="857.0" y="305.0" font-size="21.4">RTC not testable</text>
<text x="698.1" y="467.1" font-size="21.4">rs2278670</text>
<text x="620.3" y="499.1" font-size="26.9">ex-inQTL</text>
<text x="619.7" y="524.9" font-size="21.4">RTC p=0.025</text>
<text x="622.2" y="665.2" font-size="21.4" fill="#e62330">Lung function (FVC)</text>
<text x="1137.5" y="83.2" font-size="26.9">exQTL</text>
<text x="1137.2" y="109.4" font-size="21.4">no significant QTL</text>
<text x="1351.4" y="270.0" font-size="21.4">rs60252802</text>
<text x="1136.9" y="280.3" font-size="26.9">inQTL</text>
<text x="1136.9" y="306.7" font-size="21.4">RTC p=0.037</text>
<text x="1137.5" y="474.0" font-size="26.9">ex-inQTL</text>
<text x="1136.9" y="500.8" font-size="21.4">RTC p=0.06</text>
<text x="1351.4" y="467.1" font-size="21.4">rs60252802</text>
<text x="1138.6" y="872.8" font-size="21.4" fill="#e62330">Systemic lupus erythematosus</text>
<text x="125.8" y="1355.4" font-size="21.4" fill="#a0a2a4">rs11525538</text>
<text x="350.3" y="1359.5" font-size="26.9">exQTL</text>
<text x="349.7" y="1386.3" font-size="21.4">RTC not testable</text>
<text x="328.0" y="1552.4" font-size="21.4">rs1156242</text>
<text x="380.7" y="1602.0" font-size="26.9">inQTL</text>
<text x="380.7" y="1627.1" font-size="21.4">RTC p=0.043</text>
<text x="130.3" y="1745.0" font-size="21.4" fill="#a0a2a4">rs11050071</text>
<text x="350.3" y="1748.4" font-size="26.9">ex-inQTL</text>
<text x="349.7" y="1773.9" font-size="21.4">RTC not testable</text>
<text x="114.0" y="1942.4" font-size="21.4" fill="#e62330">Interleukin-27</text>
<text x="114.5" y="1963.0" font-size="21.4" fill="#e62330">levels</text>
<text x="623.8" y="1363.2" font-size="26.9">exQTL</text>
<text x="623.2" y="1389.6" font-size="21.4">RTC p=0.006</text>
<text x="849.4" y="1358.7" font-size="21.4">rs914615</text>
<text x="623.2" y="1559.9" font-size="26.9">inQTL</text>
<text x="623.2" y="1586.7" font-size="21.4">RTC p=0.0</text>
<text x="851.5" y="1553.3" font-size="21.4">rs370545</text>
<text x="623.8" y="1770.7" font-size="26.9">ex-inQTL</text>
<text x="623.5" y="1797.2" font-size="21.4">no significant QTL</text>
<text x="627.7" y="1941.6" font-size="21.4" fill="#e62330">Mean corpuscular hemoglobin</text>
<text x="628.5" y="1961.5" font-size="21.4" fill="#e62330">concentration</text>
<text x="1142.0" y="1364.9" font-size="26.9">exQTL</text>
<text x="1141.4" y="1391.4" font-size="21.4">RTC p=0.043</text>
<text x="1388.2" y="1359.7" font-size="21.4">rs72844546</text>
<text x="1141.4" y="1560.9" font-size="26.9">inQTL</text>
<text x="1141.7" y="1587.4" font-size="21.4">no significant QTL</text>
<text x="1142.0" y="1756.9" font-size="26.9">ex-inQTL</text>
<text x="1141.7" y="1782.0" font-size="21.4">no significant QTL</text>
<text x="1142.1" y="1942.6" font-size="21.4" fill="#e62330">Sex hormone binding globulin levels</text>
<line x1="253.7" y1="915.5" x2="308.5" y2="915.5" stroke="#231f20" stroke-width="1.8"/>
<line x1="253.7" y1="907.5" x2="253.7" y2="923.5" stroke="#555" stroke-width="1.2"/>
<line x1="257.9" y1="902.5" x2="257.9" y2="928.5" stroke="#231f20" stroke-width="1.6"/>
<rect x="264.1" y="908.0" width="2.1" height="15.0" fill="#231f20"/>
<line x1="265.6" y1="902.5" x2="265.6" y2="928.5" stroke="#231f20" stroke-width="1.6"/>
<line x1="270.9" y1="902.5" x2="270.9" y2="928.5" stroke="#231f20" stroke-width="2.8"/>
<line x1="272.4" y1="902.5" x2="272.4" y2="928.5" stroke="#231f20" stroke-width="2.8"/>
<line x1="275.1" y1="902.5" x2="275.1" y2="928.5" stroke="#231f20" stroke-width="1.6"/>
<line x1="276.9" y1="902.5" x2="276.9" y2="928.5" stroke="#231f20" stroke-width="1.6"/>
<line x1="280.7" y1="902.5" x2="280.7" y2="928.5" stroke="#666" stroke-width="1.0"/>
<line x1="302.8" y1="902.5" x2="302.8" y2="928.5" stroke="#666" stroke-width="1.0"/>
<line x1="304.2" y1="902.5" x2="304.2" y2="928.5" stroke="#666" stroke-width="1.0"/>
<line x1="307.9" y1="902.5" x2="307.9" y2="928.5" stroke="#231f20" stroke-width="1.6"/>
<line x1="714.6" y1="914.8" x2="821.4" y2="914.8" stroke="#231f20" stroke-width="1.8"/>
<line x1="714.6" y1="901.8" x2="714.6" y2="927.8" stroke="#231f20" stroke-width="1.6"/>
<line x1="741.7" y1="901.8" x2="741.7" y2="927.8" stroke="#666" stroke-width="1.0"/>
<line x1="763.5" y1="906.8" x2="763.5" y2="922.8" stroke="#555" stroke-width="1.2"/>
<line x1="774.6" y1="901.8" x2="774.6" y2="927.8" stroke="#666" stroke-width="1.0"/>
<line x1="796.8" y1="901.8" x2="796.8" y2="927.8" stroke="#231f20" stroke-width="2.8"/>
<line x1="800.8" y1="901.8" x2="800.8" y2="927.8" stroke="#231f20" stroke-width="1.6"/>
<line x1="809.5" y1="901.8" x2="809.5" y2="927.8" stroke="#231f20" stroke-width="1.6"/>
<line x1="811.9" y1="901.8" x2="811.9" y2="927.8" stroke="#231f20" stroke-width="1.6"/>
<line x1="814.3" y1="901.8" x2="814.3" y2="927.8" stroke="#231f20" stroke-width="1.6"/>
<line x1="816.7" y1="901.8" x2="816.7" y2="927.8" stroke="#231f20" stroke-width="1.6"/>
<rect x="818.3" y="907.3" width="3.1" height="15.0" fill="#231f20"/>
<line x1="1323.7" y1="915.4" x2="1336.7" y2="915.4" stroke="#231f20" stroke-width="1.8"/>
<line x1="1323.7" y1="902.4" x2="1323.7" y2="928.4" stroke="#231f20" stroke-width="2.8"/>
<line x1="1325.5" y1="902.4" x2="1325.5" y2="928.4" stroke="#231f20" stroke-width="2.8"/>
<line x1="1327.3" y1="902.4" x2="1327.3" y2="928.4" stroke="#231f20" stroke-width="1.6"/>
<line x1="1329.0" y1="902.4" x2="1329.0" y2="928.4" stroke="#231f20" stroke-width="1.6"/>
<line x1="1330.6" y1="902.4" x2="1330.6" y2="928.4" stroke="#231f20" stroke-width="1.6"/>
<line x1="1332.4" y1="902.4" x2="1332.4" y2="928.4" stroke="#231f20" stroke-width="1.6"/>
<line x1="1334.5" y1="902.4" x2="1334.5" y2="928.4" stroke="#666" stroke-width="1.0"/>
<line x1="1336.7" y1="902.4" x2="1336.7" y2="928.4" stroke="#231f20" stroke-width="1.6"/>
<line x1="127.2" y1="2193.4" x2="279.2" y2="2193.4" stroke="#231f20" stroke-width="1.8"/>
<line x1="127.2" y1="2185.4" x2="127.2" y2="2201.4" stroke="#555" stroke-width="1.2"/>
<line x1="176.1" y1="2180.4" x2="176.1" y2="2206.4" stroke="#231f20" stroke-width="1.6"/>
<line x1="188.4" y1="2185.4" x2="188.4" y2="2201.4" stroke="#555" stroke-width="1.2"/>
<line x1="227.0" y1="2180.4" x2="227.0" y2="2206.4" stroke="#231f20" stroke-width="1.6"/>
<line x1="244.8" y1="2180.4" x2="244.8" y2="2206.4" stroke="#666" stroke-width="1.0"/>
<line x1="247.6" y1="2180.4" x2="247.6" y2="2206.4" stroke="#231f20" stroke-width="1.6"/>
<line x1="258.9" y1="2180.4" x2="258.9" y2="2206.4" stroke="#231f20" stroke-width="2.8"/>
<line x1="260.3" y1="2180.4" x2="260.3" y2="2206.4" stroke="#231f20" stroke-width="2.8"/>
<line x1="264.8" y1="2180.4" x2="264.8" y2="2206.4" stroke="#231f20" stroke-width="1.6"/>
<line x1="268.9" y1="2180.4" x2="268.9" y2="2206.4" stroke="#231f20" stroke-width="1.6"/>
<line x1="273.4" y1="2180.4" x2="273.4" y2="2206.4" stroke="#231f20" stroke-width="1.6"/>
<line x1="277.8" y1="2180.4" x2="277.8" y2="2206.4" stroke="#231f20" stroke-width="1.6"/>
<line x1="829.5" y1="2194.3" x2="839.8" y2="2194.3" stroke="#231f20" stroke-width="1.8"/>
<line x1="829.5" y1="2181.3" x2="829.5" y2="2207.3" stroke="#231f20" stroke-width="2.8"/>
<line x1="831.2" y1="2181.3" x2="831.2" y2="2207.3" stroke="#231f20" stroke-width="1.6"/>
<line x1="833.0" y1="2181.3" x2="833.0" y2="2207.3" stroke="#666" stroke-width="1.0"/>
<line x1="839.8" y1="2181.3" x2="839.8" y2="2207.3" stroke="#666" stroke-width="1.0"/>
<line x1="1353.5" y1="2194.3" x2="1367.3" y2="2194.3" stroke="#231f20" stroke-width="1.8"/>
<line x1="1353.5" y1="2181.3" x2="1353.5" y2="2207.3" stroke="#231f20" stroke-width="2.8"/>
<line x1="1356.0" y1="2181.3" x2="1356.0" y2="2207.3" stroke="#231f20" stroke-width="1.6"/>
<line x1="1360.5" y1="2181.3" x2="1360.5" y2="2207.3" stroke="#231f20" stroke-width="1.6"/>
<line x1="1364.0" y1="2181.3" x2="1364.0" y2="2207.3" stroke="#666" stroke-width="1.0"/>
<line x1="1367.3" y1="2181.3" x2="1367.3" y2="2207.3" stroke="#231f20" stroke-width="1.6"/>
<text transform="translate(318.2,921.8) scale(0.910,1)" font-size="21.6">TMEM156</text>
<text transform="translate(842.7,921.7) scale(0.917,1)" font-size="22">SMAD3</text>
<text transform="translate(1347.8,921.0) scale(0.880,1)" font-size="21.6">SDF4</text>
<text transform="translate(292.4,2202.0) scale(0.941,1)" font-size="21.6">FAR2</text>
<text transform="translate(849.1,2201.2) scale(0.919,1)" font-size="21.6">GBAP1</text>
<text transform="translate(1378.4,2201.2) scale(0.933,1)" font-size="21.6">SUMO2</text>
<line x1="102.5" y1="933.1" x2="515.8" y2="933.1" stroke="#231f20" stroke-width="2.6"/>
<line x1="281.3" y1="933.1" x2="281.3" y2="951.6" stroke="#231f20" stroke-width="2.6"/>
<line x1="487.6" y1="933.1" x2="487.6" y2="951.6" stroke="#231f20" stroke-width="2.6"/>
<line x1="612.7" y1="933.1" x2="1027.0" y2="933.1" stroke="#231f20" stroke-width="2.6"/>
<line x1="661.9" y1="933.1" x2="661.9" y2="951.6" stroke="#231f20" stroke-width="2.6"/>
<line x1="868.4" y1="933.1" x2="868.4" y2="951.6" stroke="#231f20" stroke-width="2.6"/>
<line x1="1129.0" y1="933.4" x2="1544.3" y2="933.4" stroke="#231f20" stroke-width="2.6"/>
<line x1="1144.6" y1="933.4" x2="1144.6" y2="951.9" stroke="#231f20" stroke-width="2.6"/>
<line x1="1351.1" y1="933.4" x2="1351.1" y2="951.9" stroke="#231f20" stroke-width="2.6"/>
<line x1="104.0" y1="2213.4" x2="516.0" y2="2213.4" stroke="#231f20" stroke-width="2.6"/>
<line x1="211.0" y1="2213.4" x2="211.0" y2="2231.9" stroke="#231f20" stroke-width="2.6"/>
<line x1="416.8" y1="2213.4" x2="416.8" y2="2231.9" stroke="#231f20" stroke-width="2.6"/>
<line x1="614.6" y1="2213.2" x2="1027.2" y2="2213.2" stroke="#231f20" stroke-width="2.6"/>
<line x1="652.0" y1="2213.2" x2="652.0" y2="2231.7" stroke="#231f20" stroke-width="2.6"/>
<line x1="857.0" y1="2213.2" x2="857.0" y2="2231.7" stroke="#231f20" stroke-width="2.6"/>
<line x1="1131.7" y1="2213.2" x2="1543.7" y2="2213.2" stroke="#231f20" stroke-width="2.6"/>
<line x1="1217.7" y1="2213.2" x2="1217.7" y2="2231.7" stroke="#231f20" stroke-width="2.6"/>
<line x1="1422.3" y1="2213.2" x2="1422.3" y2="2231.7" stroke="#231f20" stroke-width="2.6"/>
<text x="56.7" y="955.4" font-size="22.4">Chr4 (Mb)</text>
<text x="56.8" y="973.6" font-size="22.4">- strand</text>
<text x="539.5" y="953.7" font-size="22.4">Chr15 (Mb)</text>
<text x="539.5" y="971.5" font-size="22.4">+ strand</text>
<text x="1031.2" y="953.4" font-size="22.4">Chr1 (Mb)</text>
<text x="1045.4" y="972.1" font-size="22.4">- strand</text>
<text x="55.6" y="2237.5" font-size="22.4">Chr12 (Mb)</text>
<text x="55.6" y="2255.7" font-size="22.4">+ strand</text>
<text x="542.3" y="2237.3" font-size="22.4">Chr1 (Mb)</text>
<text x="542.4" y="2255.2" font-size="22.4">- strand</text>
<text x="1064.6" y="2237.3" font-size="22.4">Chr17 (Mb)</text>
<text x="1064.7" y="2255.2" font-size="22.4">- strand</text>
<text x="259.9" y="970.2" font-size="22.41">39.0</text>
<text x="457.9" y="970.2" font-size="22.14">39.25</text>
<text x="648.9" y="970.9" font-size="22.61">67.0</text>
<text x="840.4" y="970.9" font-size="22.09">67.25</text>
<text x="1133.8" y="971.4" font-size="21.21">1.0</text>
<text x="1327.9" y="971.4" font-size="22.51">1.25</text>
<text x="182.2" y="2253.6" font-size="22.38">29.25</text>
<text x="397.1" y="2253.6" font-size="22.64">29.5</text>
<text x="635.3" y="2253.8" font-size="21.59">155.0</text>
<text x="822.6" y="2253.8" font-size="22.23">155.25</text>
<text x="1197.7" y="2253.8" font-size="21.86">75.0</text>
<text x="1396.1" y="2253.8" font-size="22.51">75.25</text>
<line x1="116.0" y1="1049.8" x2="287.0" y2="1049.8" stroke="#4a72bf" stroke-width="1.3"/>
<path d="M116 1049.8h6v-6.5h1v1h1v2.5h1v-2.5h1v-2.5h1v-11h1v-4.5h1v-4.5h1v-13.5h1v-8h3v49h1v-0.5h1v-2h1v0.5h1v0.5h1v2h1v-2.5h1v2.5h5v-1h1v-0.5h1v0.5h1v-0.5h1v1.5h3v-3h1v-46.5h1v14.5h1v34.5h1v-1.5h1v2h1v-1.5h1v1h1v-1.5h1v-1h1v3h2v-2.5h1v2h1v-1.5h1v2h1v-2h1v-1h1v3h1v-1h1v-1.5h1v2.5h4v-2.5h1v2.5h8v-0.5h1v-0.5h1v-1.5h1v1h1v1.5h2v-1.5h1v1.5h1v-1.5h1v1.5h1v-1.5h2v1.5h1v-2h1v2h1v-3h1v3h1v-2h1v2h1v-1h1v1h3v-2h1v2h1v-1h1v-1.5h1v2.5h2v-3h1v1h1v-1h1v0.5h3v-0.5h1v3h1v-3.5h1v2h1v-2h1v0.5h1v3h1v-2h1v-0.5h1v1.5h1v1h1v-1.5h1v-0.5h1v-1.5h1v2h1v-2h1v0.5h1v-0.5h1v2h1v-1.5h1v1.5h1v1h1v-2h2v1.5h1v1h1v-2h1v-3h1v2h1v-33h2v-0.5h1v36.5h2v-1.5h1v-1h1v0.5h1v2h2v-2.5h2v1.5h1v-0.5h1v1.5h2v-0.5h1v-46h2v46.5h3v-2h1v-0.5h1v2.5h1v-3h1v3h1v-0.5h1v-2h1v1.5h1v1h1v-2h1v0.5h1v1.5h4V1049.8Z" fill="#2a55a3"/>
<line x1="304.0" y1="1049.8" x2="521.5" y2="1049.8" stroke="#4a72bf" stroke-width="1.3"/>
<path d="M304 1049.8h9v-2h2v2h3v-3h1v1.5h1v0.5h1v1h1v-2h1v1h1v0.5h1v0.5h1v-0.5h1v0.5h3v-2h1v2h1v-3.5h1v3.5h2v-2h1v2h1v-3h1v3h2v-1.5h1v1.5h1v-3h1v3h2v-0.5h1v-3h1v3.5h1v-1h1v1h2v-1h1v1h1v-4h1v4h3v-2.5h1v2.5h1v-2.5h1v2.5h2v-2.5h1v2.5h2v-1h1v1h3v-3h1v2h1v1h3v-3.5h1v3.5h2v-2.5h1v-1.5h1v3h1v1h2v-1h1v-1.5h1v2.5h1v-1.5h1v1h1v0.5h2v-0.5h1v0.5h1v-2.5h1v1.5h1v-3h1v1h1v1h1v-1.5h1v3.5h1v-1.5h1v1.5h1v-2.5h1v2.5h3v-2h1v1h1v-1.5h1v2h1v-1.5h1v2h1v-2h1v0.5h1v-2h1v1.5h1v2h2v-3h1v1h1v2h1v-1.5h1v-2h1v0.5h1v1h1v-2h1v4h1v-3h1v1.5h1v1.5h3v-2h1v-1.5h1v3.5h2v-3h1v1.5h1v1h1v-1.5h1v1h1v-2h1v3h14v-38h1v-1h1v-1h1v3h1v-3h1v10h1v14.5h1v11.5h1v4h6v-8.5h5v6.5h1v1h1v1h47V1049.8Z" fill="#2a55a3"/>
<line x1="116.0" y1="1117.3" x2="287.0" y2="1117.3" stroke="#ee4b55" stroke-width="1.3"/>
<path d="M116 1117.3h6v-2h1v-0.5h1v-1h1v-0.5h1v-3h1v-3h1v-2.5h1v-3h1v-1h1v2.5h1v0.5h1v0.5h1v13h3v-2.5h1v2.5h1v-1.5h1v1.5h1v-1.5h1v1.5h2v-1h1v1h1v-1.5h1v1.5h3v-3h1v3h1v-1h1v-1.5h1v-10.5h1v4h1v7.5h1v1.5h2v-2h1v-0.5h1v0.5h1v2h1v-1h1v0.5h1v0.5h1v-2.5h1v1.5h1v-2h2v1.5h1v1.5h1v-2.5h2v1h1v1.5h2v-0.5h1v0.5h1v-2.5h1v1h1v1.5h1v-1.5h1v-1h1v1.5h1v1h1v-1h2v1h2v-3h1v3h1v-3h1v3h4v-3h1v3h1v-3h1v0.5h1v0.5h1v2h3v-3h1v3h1v-1.5h1v-1.5h1v0.5h1v2.5h1v-1.5h1v-0.5h1v-1h2v2h1v-1.5h1v0.5h1v1.5h1v-0.5h1v-2.5h2v0.5h4v1.5h1v-2h1v1.5h1v-0.5h1v-1h1v2h2v-1.5h1v1h1v-2h1v1.5h1v-1h1v0.5h1v1h1v2h1v-2.5h1v-0.5h1v2.5h1v-2h1v-0.5h1v0.5h2v2.5h1v-1h1v-2h1v-3h1v-2.5h2v8.5h1v-2.5h1v2.5h3v-2h1v1.5h1v-2.5h1v3h1v-2h1v2h1v-1.5h1v-1h1v2.5h1v-9.5h2v8.5h1v-2h1v1.5h1v1.5h2v-2.5h1v1h1v-0.5h2v2h2v-2.5h1v0.5h2v1h1v1h3V1117.3Z" fill="#e8202b"/>
<line x1="304.0" y1="1117.3" x2="521.5" y2="1117.3" stroke="#ee4b55" stroke-width="1.3"/>
<path d="M304 1117.3h9v-0.5h1v-0.5h1v-0.5h1v-0.5h1v-0.5h1v-0.5h1v-3h1v-3h1v-3h1v-4.5h1v-4h1v-4.5h1v-2.5h1v-2.5h1v1h1v1h1v18h1v2h1v-1h1v5h1v-1h1v-1.5h1v1.5h2v1h1v1h1v-2h1v-1.5h1v-3h1v4.5h2v-3.5h1v2.5h1v1h1v0.5h1v3h1v-6.5h1v3h3v2h1v3h4v-8h1v-1h1v8h1v1h8v-4h1v-2.5h1v6.5h2v-6.5h1v5.5h1v-4h1v5h9v-1.5h1v-0.5h1v-1.5h1v-1.5h1v2h1v-2h1v1h1v3.5h1v0.5h2v-9.5h1v3h1v5.5h1v1h1v-10h1v5h1v2h2v-0.5h1v-2h1v-3h1v3.5h2v-3.5h1v3.5h3v-5h1v1.5h1v1h1v7.5h1v-1h1v-0.5h1v-8h1v6.5h1v-2h1v-3.5h1v5h1v-0.5h1v-1h1v2h1v-1h1v-3h1v1h1v1h1v-3h1v1.5h1v6.5h2v-4h1v0.5h1v-5h1v0.5h1v1h1v3.5h2v3.5h1v-0.5h2v-7h1v7.5h2v-1h1v-2h1v0.5h1v1h1v1.5h3v-23h1v-2.5h1v-2.5h1v-0.5h1v-0.5h1v5h1v2h1v20h1v2h5v-1.5h1v-1.5h1v-2.5h1v-1h1v3.5h1v0.5h1v0.5h2v0.5h1v0.5h1v0.5h1v0.5h44V1117.3Z" fill="#e8202b"/>
<rect x="328.1" y="1012.3" width="2.6" height="105.0" fill="#c7c8ca" stroke="#939598" stroke-width="0.8" fill-opacity="0.7"/>
<rect x="513.9" y="1009.8" width="2.6" height="107.5" fill="#c7c8ca" stroke="#939598" stroke-width="0.8" fill-opacity="0.7"/>
<line x1="122.0" y1="1140.6" x2="287.0" y2="1140.6" stroke="#231f20" stroke-width="2.6"/>
<rect x="122.1" y="1135.1" width="10.6" height="11.0" fill="#231f20"/>
<line x1="154.6" y1="1130.4" x2="154.6" y2="1150.8" stroke="#6d6e71" stroke-width="1.0"/>
<line x1="252.8" y1="1130.4" x2="252.8" y2="1150.8" stroke="#6d6e71" stroke-width="1.0"/>
<line x1="269.1" y1="1130.4" x2="269.1" y2="1150.8" stroke="#6d6e71" stroke-width="1.0"/>
<line x1="122.0" y1="1165.3" x2="287.0" y2="1165.3" stroke="#231f20" stroke-width="2.6"/>
<rect x="122.1" y="1159.8" width="10.6" height="11.0" fill="#231f20"/>
<line x1="154.6" y1="1155.1" x2="154.6" y2="1175.5" stroke="#6d6e71" stroke-width="1.0"/>
<line x1="252.8" y1="1155.1" x2="252.8" y2="1175.5" stroke="#6d6e71" stroke-width="1.0"/>
<line x1="269.1" y1="1155.1" x2="269.1" y2="1175.5" stroke="#6d6e71" stroke-width="1.0"/>
<line x1="304.0" y1="1140.6" x2="455.3" y2="1140.6" stroke="#231f20" stroke-width="2.6"/>
<line x1="455.3" y1="1130.5" x2="455.3" y2="1150.3" stroke="#231f20" stroke-width="2.4"/>
<rect x="457.8" y="1135.5" width="4.2" height="10.7" fill="#231f20"/>
<line x1="462.0" y1="1140.6" x2="469.4" y2="1140.6" stroke="#231f20" stroke-width="1.2"/>
<line x1="469.4" y1="1135.5" x2="469.4" y2="1145.5" stroke="#231f20" stroke-width="1.2"/>
<line x1="304.0" y1="1165.3" x2="457.0" y2="1165.3" stroke="#231f20" stroke-width="2.6"/>
<rect x="325.5" y="1160.3" width="5.0" height="9.9" fill="#231f20"/>
<line x1="457.0" y1="1156.0" x2="457.0" y2="1175.0" stroke="#231f20" stroke-width="2.0"/>
<line x1="116.0" y1="1182.0" x2="287.0" y2="1182.0" stroke="#231f20" stroke-width="1.6"/>
<line x1="304.0" y1="1182.0" x2="521.5" y2="1182.0" stroke="#231f20" stroke-width="1.6"/>
<line x1="147.7" y1="1182.0" x2="147.7" y2="1192.0" stroke="#231f20" stroke-width="1.6"/>
<line x1="211.7" y1="1182.0" x2="211.7" y2="1192.0" stroke="#231f20" stroke-width="1.6"/>
<line x1="276.0" y1="1182.0" x2="276.0" y2="1192.0" stroke="#231f20" stroke-width="1.6"/>
<line x1="309.8" y1="1182.0" x2="309.8" y2="1192.0" stroke="#231f20" stroke-width="1.6"/>
<line x1="378.8" y1="1182.0" x2="378.8" y2="1192.0" stroke="#231f20" stroke-width="1.6"/>
<line x1="446.7" y1="1182.0" x2="446.7" y2="1192.0" stroke="#231f20" stroke-width="1.6"/>
<line x1="515.2" y1="1182.0" x2="515.2" y2="1192.0" stroke="#231f20" stroke-width="1.6"/>
<line x1="283.3" y1="1189.3" x2="292" y2="1172.6" stroke="#231f20" stroke-width="1.6"/>
<line x1="298.6" y1="1189.3" x2="306.6" y2="1172.6" stroke="#231f20" stroke-width="1.6"/>
<text x="280.7" y="1003.5" font-size="20.69">rs2254075</text>
<text x="431.2" y="1002.4" font-size="20.34">rs2711977</text>
<text x="47.1" y="1038.6" font-size="21.62">Ref/Ref</text>
<text x="64.6" y="1105.0" font-size="21.40">Alt/Alt</text>
<text x="23.7" y="1158.3" font-size="21.18">TMEM156</text>
<text x="110.0" y="1210.3" font-size="18.87">38970kb</text>
<text x="233.1" y="1210.3" font-size="18.76">38990kb</text>
<text x="343.2" y="1210.3" font-size="18.76">39030kb</text>
<text x="453.9" y="1210.3" font-size="18.87">39034kb</text>
<line x1="607.6" y1="1070.3" x2="1026.8" y2="1070.3" stroke="#4a72bf" stroke-width="1.3"/>
<path d="M607 1070.3h1v-4h1v1.5h1v-0.5h1v1h1v-2h1v4h1v-3.5h1v-1.5h1v5h1v-4h1v1.5h1v1.5h1v-5.5h1v-0.5h1v7h2v-2h1v-3.5h1v-0.5h1v6h1v-2h1v2h1v-5h1v2.5h1v-0.5h1v-3.5h2v6.5h6v-40h1v-8h2v18h1v-2h1v-8h1v2h1v38h6v-2h1v2h30v-0.5h1v0.5h4v-1.5h1v1.5h4v-1.5h1v1.5h17v-1.5h1v0.5h1v1h20v-38h1v-7h1v-2h1v-2h1v7h1v2h1v40h14v-2h1v2h2v-1.5h1v1.5h2v-2.5h2v2.5h1v-1h1v-1h1v-1.5h2v3.5h2v-1.5h1v1.5h1v-3.5h1v2h1v-1h1v-0.5h1v3h1v-0.5h1v-2.5h1v-0.5h1v0.5h1v2h1v-0.5h1v1.5h1v-0.5h1v0.5h3v-2.5h1v2.5h1v-2h1v2h1v-3h1v0.5h1v2.5h2v-2.5h1v-0.5h1v1.5h1v-2h1v2.5h1v-0.5h2v-2h1v3.5h2v-35h1v-2h1v-2h1v1.5h1v2.5h1v35h16v-1h1v1h14v-2h1v2h23v-2h1v2h7v-1.5h1v1.5h13v-36h1v-0.5h2v-0.5h1v-0.5h1v-0.5h1v-2.5h1v-2.5h1v-2.5h1v-2.5h1v0.5h1v1h1v0.5h1v8h1v8h1v14.5h1v-2.5h1v3.5h1v-4.5h1v4h1v-3.5h1v4.5h2v-9.5h1v-9.5h1v-1h2v4.5h1v-2.5h1v5.5h1v-0.5h1v-3.5h1v3.5h1v8h1v-12h1v-0.5h1v4h1v12h1v-8.5h1v7h1v-6h1v-6.5h1v3.5h1v3h1v8.5h1v-2.5h1v-3.5h1v-1h1v-8h1v11h1v-1.5h1v-2.5h1v-18h1v13.5h1v2.5h1v-9.5h2v1.5h1v-1.5h2v-1.5h1v4.5h1v-10.5h1v0.5h1v7h1v-10.5h1v12.5h1v-4.5h1v2.5h1v-13h1v13h1v2h1v-2h1v-7h1v4.5h1v9h1v-7h1v11h1v7.5h1v-8h1v-15h1v4h1v16h1v-2.5h1v7.5h1v-18.5h1v13h1v5.5h1v-2h1v0.5h1v-8h1v6.5h1v-6.5h1v8.5h1v-6.5h1v-6h1v-15h1v12.5h1v-2.5h1v-12.5h1v8h1v-2.5h1v-2.5h1v-2h1v-1.5h1v-1.5h1v-2h1v3h2v6h1v10.5h1v-10.5h1v6h1v-4.5h1v-9.5h1v12.5h1v4h1v-2.5h2v-2.5h1v-3.5h1v1h1v1h1v-9h1v13h2v4.5h1v1h1v-5.5h1v29h1v5h9V1070.3Z" fill="#2a55a3"/>
<line x1="607.6" y1="1145.4" x2="1026.8" y2="1145.4" stroke="#ee4b55" stroke-width="1.3"/>
<path d="M607 1145.4h7v-3h1v3h1v-2h1v2h1v-4.5h1v-0.5h1v1h1v2.5h1v-2h1v3.5h2v-2.5h1v2.5h5v-4h1v2h1v2h1v-1h1v-3h1v4h2v-4h1v3h1v-1h1v-31h1v-1h1v-1.5h1v-6.5h1v-3h1v-1.5h3v46.5h6v-0.5h1v0.5h8v-2.5h1v2.5h12v-0.5h1v0.5h13v-1h1v1h11v-1h1v1h5v-2.5h1v2.5h11v-2.5h1v2.5h4v-1.5h1v1.5h1v-2.5h1v2.5h6v-53.5h2v4h1v4.5h1v3h1v2h1v38.5h1v1.5h7v-0.5h1v0.5h11v-1h1v1h4v-1.5h1v1.5h1v-1h1v-0.5h1v1.5h5v-1.5h1v1.5h16v-2.5h1v2.5h2v-1h1v1h1v-0.5h1v0.5h2v-2.5h2v1h1v1.5h3v-36h1v-4.5h1v-3h3v3.5h1v37.5h1v2.5h11v-3h1v3h6v-2h1v2h3v-0.5h1v0.5h13v-1.5h2v1.5h1v-2.5h1v2.5h1v-1.5h2v1.5h3v-2h1v2h6v-2h1v2h1v-1h1v1h1v-0.5h1v0.5h3v-1h1v1h13v-40h1v-5.5h1v-6.5h1v0.5h2v0.5h1v0.5h2v0.5h1v0.5h1v0.5h2v-3.5h1v4.5h1v7.5h1v-2h1v-1.5h4v3.5h1v-3.5h1v-14h1v14h1v-8.5h1v4.5h1v9h1v-3h1v5.5h1v-2h1v1.5h1v9h1v-7h1v1h1v-3.5h1v1.5h2v5h2v-10.5h1v1.5h1v1h1v8h1v-5h1v6h1v-3h2v3.5h1v5.5h1v-7h1v5h1v2h1v-2.5h1v-5.5h1v-1.5h1v5h1v-1h1v-5.5h1v-3h1v-3h1v-3h1v-3h1v-3h1v1h1v1h1v1h1v0.5h1v1.5h1v1.5h1v1.5h1v1h1v1.5h1v1.5h1v1.5h1v12.5h1v-2h1v-2.5h1v-9.5h1v9.5h1v0.5h1v-18.5h1v7h1v-4.5h1v-4.5h1v4.5h1v5h1v4.5h1v-0.5h1v-12.5h1v3h1v3.5h1v6.5h1v-5.5h1v-3h1v-3h1v-3h1v-3h1v-3h1v0.5h2v0.5h2v0.5h1v0.5h2v0.5h2v0.5h1v-5.5h1v8h1v1.5h1v1.5h1v1.5h1v0.5h1v0.5h1v1h1v0.5h1v0.5h1v1h1v0.5h1v0.5h1v2.5h1v-8h1v2h1v13.5h1v-18h2v2h1v-6.5h1v42.5h1v10h9V1145.4Z" fill="#e8202b"/>
<line x1="617.5" y1="1012.6" x2="617.5" y2="1145.4" stroke="#a7a9ac" stroke-width="1.0"/>
<line x1="692.8" y1="1012.6" x2="692.8" y2="1145.4" stroke="#a7a9ac" stroke-width="1.0"/>
<line x1="726.6" y1="1012.6" x2="726.6" y2="1145.4" stroke="#a7a9ac" stroke-width="1.0"/>
<line x1="727.9" y1="1012.6" x2="727.9" y2="1145.4" stroke="#a7a9ac" stroke-width="1.0"/>
<line x1="732.4" y1="1012.6" x2="732.4" y2="1145.4" stroke="#a7a9ac" stroke-width="1.0"/>
<line x1="840.6" y1="1012.6" x2="840.6" y2="1145.4" stroke="#a7a9ac" stroke-width="1.0"/>
<line x1="848.6" y1="1012.6" x2="848.6" y2="1145.4" stroke="#a7a9ac" stroke-width="1.0"/>
<line x1="868.5" y1="1012.6" x2="868.5" y2="1145.4" stroke="#a7a9ac" stroke-width="1.0"/>
<line x1="902.4" y1="1012.6" x2="902.4" y2="1145.4" stroke="#a7a9ac" stroke-width="1.0"/>
<line x1="921.3" y1="1012.6" x2="921.3" y2="1145.4" stroke="#a7a9ac" stroke-width="1.0"/>
<line x1="925.0" y1="1012.6" x2="925.0" y2="1145.4" stroke="#a7a9ac" stroke-width="1.0"/>
<line x1="953.3" y1="1012.6" x2="953.3" y2="1145.4" stroke="#a7a9ac" stroke-width="1.0"/>
<line x1="967.1" y1="1012.6" x2="967.1" y2="1145.4" stroke="#a7a9ac" stroke-width="1.0"/>
<line x1="996.9" y1="1012.6" x2="996.9" y2="1145.4" stroke="#a7a9ac" stroke-width="1.0"/>
<line x1="999.1" y1="1012.6" x2="999.1" y2="1145.4" stroke="#a7a9ac" stroke-width="1.0"/>
<line x1="1017.3" y1="1012.6" x2="1017.3" y2="1145.4" stroke="#a7a9ac" stroke-width="1.0"/>
<line x1="929.3" y1="1002.4" x2="929.3" y2="1145.4" stroke="#58595b" stroke-width="2.2"/>
<line x1="609.5" y1="1166.8" x2="888.1" y2="1166.8" stroke="#231f20" stroke-width="2.6"/>
<rect x="641.2" y="1155.9" width="6.4" height="21.8" fill="#231f20"/>
<rect x="735.3" y="1155.9" width="4.4" height="21.8" fill="#231f20"/>
<rect x="806.3" y="1155.9" width="4.4" height="21.8" fill="#231f20"/>
<rect x="888.1" y="1155.9" width="3.4" height="21.8" fill="#231f20"/>
<rect x="891.5" y="1161.4" width="125.1" height="11.2" fill="#231f20"/>
<line x1="912.9" y1="1161.6" x2="912.9" y2="1172.4" stroke="#62b948" stroke-width="0.9"/>
<line x1="923.9" y1="1161.6" x2="923.9" y2="1172.4" stroke="#62b948" stroke-width="0.9"/>
<line x1="929.3" y1="1161.6" x2="929.3" y2="1172.4" stroke="#62b948" stroke-width="0.9"/>
<line x1="930.5" y1="1161.6" x2="930.5" y2="1172.4" stroke="#62b948" stroke-width="0.9"/>
<line x1="935.1" y1="1161.6" x2="935.1" y2="1172.4" stroke="#62b948" stroke-width="0.9"/>
<line x1="960.6" y1="1161.6" x2="960.6" y2="1172.4" stroke="#62b948" stroke-width="0.9"/>
<line x1="972.2" y1="1161.6" x2="972.2" y2="1172.4" stroke="#62b948" stroke-width="0.9"/>
<line x1="975.4" y1="1161.6" x2="975.4" y2="1172.4" stroke="#62b948" stroke-width="0.9"/>
<line x1="997.7" y1="1161.6" x2="997.7" y2="1172.4" stroke="#62b948" stroke-width="0.9"/>
<line x1="998.9" y1="1161.6" x2="998.9" y2="1172.4" stroke="#62b948" stroke-width="0.9"/>
<line x1="1002.8" y1="1161.6" x2="1002.8" y2="1172.4" stroke="#62b948" stroke-width="0.9"/>
<path d="M627.6 1162.2 L632.7 1166.8 L627.6 1171.4" fill="none" stroke="#231f20" stroke-width="2"/>
<line x1="607.6" y1="1184.7" x2="1026.8" y2="1184.7" stroke="#231f20" stroke-width="1.6"/>
<line x1="675.4" y1="1184.7" x2="675.4" y2="1193.7" stroke="#231f20" stroke-width="1.6"/>
<line x1="742.6" y1="1184.7" x2="742.6" y2="1193.7" stroke="#231f20" stroke-width="1.6"/>
<line x1="809.5" y1="1184.7" x2="809.5" y2="1193.7" stroke="#231f20" stroke-width="1.6"/>
<line x1="876.9" y1="1184.7" x2="876.9" y2="1193.7" stroke="#231f20" stroke-width="1.6"/>
<line x1="944.6" y1="1184.7" x2="944.6" y2="1193.7" stroke="#231f20" stroke-width="1.6"/>
<line x1="1012.0" y1="1184.7" x2="1012.0" y2="1193.7" stroke="#231f20" stroke-width="1.6"/>
<text x="827.3" y="1006.7" font-size="20.53">rs2278670</text>
<text x="536.2" y="1059.7" font-size="21.37">Ref/Ref</text>
<text x="554.4" y="1127.8" font-size="21.09">Alt/Alt</text>
<text x="534.5" y="1172.5" font-size="21.50">SMAD3</text>
<text x="706.4" y="1211.0" font-size="19.01">67185kb</text>
<text x="840.6" y="1211.0" font-size="18.83">67190kb</text>
<text x="969.6" y="1211.0" font-size="18.83">67195kb</text>
<path d="M1205.7 1050.4 C1235 1092 1480 1094 1518.2 1050.4 C1478 1080 1245 1076 1205.7 1050.4Z" fill="#bcbec0"/>
<path d="M1205.7 1121 C1235 1168 1480 1170 1518.2 1121 C1478 1152 1245 1146 1205.7 1121Z" fill="#bcbec0"/>
<path d="M1205.7 1121 C1232 1158 1450 1156 1477.5 1121 C1448 1146 1250 1141 1205.7 1121Z" fill="#a7a9ac"/>
<line x1="1142.4" y1="1050.4" x2="1547.0" y2="1050.4" stroke="#4a72bf" stroke-width="1.3"/>
<path d="M1142 1050.4h12v-37h4v0.5h5v1h1v0.5h1v5h1v-3.5h2v-0.5h3v-2.5h1v-8.5h2v0.5h1v0.5h2v0.5h1v0.5h1v0.5h1v0.5h2v0.5h1v1h1v1h1v1h1v3.5h1v2.5h1v3h1v-4h1v-5h1v-6h1v-1h1v-1.5h1v-1h1v-0.5h1v-1h1v1.5h1v1.5h1v3.5h1v4.5h1v4.5h1v3.5h1v3h1v3h1v0.5h5v24h68v-1.5h7v1.5h233v-24h1v-0.5h1v-1h1v-1.5h1v-1h1v-1.5h1v-2.5h1v1h1v2h1v2h1v1.5h1v5h1v4h1v9.5h1v3.5h1v1h1v1h1v1h1v0.5h12V1050.4Z" fill="#2a55a3"/>
<line x1="1142.4" y1="1121.0" x2="1547.0" y2="1121.0" stroke="#ee4b55" stroke-width="1.3"/>
<path d="M1142 1121.0h12v-42h1v-1h1v-0.5h1v-0.5h1v-1h1v-1.5h1v1.5h1v2h1v4h1v4.5h1v4.5h1v3h1v-5.5h1v-6h1v-0.5h3v-0.5h1v4h1v3h1v1.5h1v-1.5h1v-1h1v-1h3v-0.5h2v-2h1v-1.5h1v2.5h1v3h1v1h1v-0.5h2v-0.5h3v-0.5h1v-2h1v-5.5h1v-5h1v-2.5h1v-3h1v-4h1v2.5h1v4h1v4h1v2h1v1.5h1v1h1v6h1v4.5h4v30h196v-1.5h5v1.5h67v-10h3v0.5h1v0.5h1v1.5h1v1.5h2v0.5h3v0.5h2v-0.5h1v-0.5h1v-0.5h2v-0.5h3v1h1v1h1v1h1v-0.5h1v-0.5h2v-0.5h1v-0.5h2v0.5h2v0.5h1v1h1v0.5h2v0.5h1v0.5h2v0.5h2v-26.5h1v-1.5h1v-3.5h1v-4.5h1v-1.5h1v-3h4v0.5h1v9.5h1v9.5h1v11.5h1v7h1v1h1v0.5h1v1h1v0.5h1v0.5h1v1h11V1121.0Z" fill="#e8202b"/>
<rect x="1478" y="1018.4" width="2.4" height="102.6" fill="#a7a9ac" fill-opacity="0.85"/>
<line x1="1139.5" y1="1167.5" x2="1519.0" y2="1167.5" stroke="#000" stroke-width="3.0"/>
<path d="M1149.6 1162.4 L1144.5 1167.5 L1149.6 1172.6" fill="none" stroke="#000" stroke-width="2.2"/>
<rect x="1156.2" y="1156.6" width="33.8" height="20.1" fill="#000"/>
<rect x="1190.0" y="1161.7" width="16.0" height="10.9" fill="#000"/>
<rect x="1519.0" y="1161.7" width="18.2" height="10.9" fill="#000"/>
<line x1="1142.4" y1="1184.7" x2="1547.0" y2="1184.7" stroke="#231f20" stroke-width="1.6"/>
<line x1="1212.9" y1="1184.7" x2="1212.9" y2="1193.7" stroke="#231f20" stroke-width="1.6"/>
<line x1="1318.4" y1="1184.7" x2="1318.4" y2="1193.7" stroke="#231f20" stroke-width="1.6"/>
<line x1="1424.8" y1="1184.7" x2="1424.8" y2="1193.7" stroke="#231f20" stroke-width="1.6"/>
<line x1="1531.3" y1="1184.7" x2="1531.3" y2="1193.7" stroke="#231f20" stroke-width="1.6"/>
<text x="1424.5" y="1013.3" font-size="20.65">rs60252802</text>
<text x="1073.3" y="1044.1" font-size="21.28">Ref/Ref</text>
<text x="1091.1" y="1106.7" font-size="21.25">Alt/Alt</text>
<text x="1081.0" y="1172.0" font-size="21.03">SDF4</text>
<text x="1286.8" y="1211.3" font-size="18.80">1230kb</text>
<text x="1489.6" y="1211.3" font-size="19.05">1232kb</text>
<rect x="399.5" y="2302.2" width="78.1" height="167.3" fill="#e8e9e9" stroke="#a7a9ac" stroke-width="0.9" stroke-dasharray="3,2"/>
<line x1="113.1" y1="2349.6" x2="515.4" y2="2349.6" stroke="#4a72bf" stroke-width="1.3"/>
<path d="M113 2349.6h15v-26h1v26h2v-2h1v2h2v-2.5h1v2.5h7v-2.5h1v2.5h1v-3h1v-11h1v14h2v-2h1v2h1v-3h1v1h1v2h1v-2.5h1v2.5h6v-5h1v5h1v-3h1v3h1v-3h1v3h1v-2h1v2h1v-5h1v5h1v-3h1v3h1v-3h1v3h1v-2h1v2h10v-2.5h1v2.5h9v-3h1v3h1v-2h1v2h36v-3h1v3h11v-2h1v2h3v-2h1v2h6v-3h1v3h9v-2.5h1v2.5h11v-2h1v2h16v-3h1v3h5v-3h1v3h2v-2h1v2h27v-3h1v3h26v-2.5h1v2.5h14v-3h1v3h3v-33.5h1v33.5h9v-3h1v3h3v-5h1v-1h1v2h1v4h1v-6h1v6h88v-26h1v26h1v-3h1v3h1v-2.5h1v2.5h1v-2h1v2h3v-3h1v3h2v-2h1v2h1v-2.5h1v-2.5h1v-19h1v6h1v7h1v-7.5h1v-1.5h1v-5h1v-5h1v-11.5h1v2h1v4.5h1v5h1v5h1v21h1V2349.6Z" fill="#2a55a3"/>
<path d="M400 2349.6v-10h1v2h1v-5h1v-2h1v3h1v7h1v5h4v-3h1v3h3v-5h1v5h5v-3h1v3h3v-6h1v-4h1v-21.5h1v31.5h2v-3h1v3h4v-38.5h1v38.5h3v-3h1v3h2v-3h1v3h5v-4h1v4h4v-8h1v-2h1v4h1v-4h1v-2h1v-26.5h1v18.5h1v-10h1v30h1v-12h1v12h1v-34h1v34h1v-26h1v26h1v-5h1v5h2v-7h1v7h2v-8h1v8h1v-5h1v-29h1v34h1V2349.6Z" fill="#aeb3d6"/>
<line x1="113.1" y1="2414.5" x2="515.4" y2="2414.5" stroke="#ee4b55" stroke-width="1.3"/>
<path d="M113 2414.5h15v-29h1v29h2v-3h1v3h2v-2h1v2h2v-3h1v3h4v-4h1v4h2v-2h1v2h1v-4h1v4h2v-3h1v3h4v-3h1v3h1v-6h1v6h2v-3h1v3h2v-4h1v4h2v-2h1v2h3v-5h1v5h1v-3h1v3h1v-2h1v2h1v-4h1v4h1v-3h1v3h6v-3h1v3h20v-3h1v3h14v-3h1v3h6v-3h1v3h31v-3h1v3h3v-3h1v3h5v-3h1v3h3v-3h1v3h15v-3h1v3h34v-4h1v4h9v-3h1v3h3v-2h1v2h15v-3h1v3h1v-3h1v3h21v-48.5h1v48.5h13v-10.5h1v1h1v2h1v-2.5h1v3h1v-3.5h1v-1h1v11.5h77v-6.5h1v4.5h1v-6.5h1v5.5h1v-3h1v-2.5h1v5h1v-3h1v2.5h1v-25h1v27h1v-1.5h1v-6h1v3.5h1v-4h1v2h1v0.5h1v-0.5h1v0.5h1v-1h1v3h1v0.5h1v0.5h1v-13.5h1v4h1v-13.5h1v17h1v-0.5h1v-7h1v-7h1v2.5h1v9.5h1v-20h1v4.5h1v-11.5h1v16.5h1v-1.5h1v6h1v7.5h1V2414.5Z" fill="#e8202b"/>
<path d="M400 2414.5v-22h1v4h1v3h1v3h1v6h1v-2h1v2h1v2h4v1h1v-1h1v-1h1v3h1v-2h1v1.5h1v-1.5h1v-1h1v-0.5h1v-2.5h1v-2h1v-4h1v8h1v-12h1v3h1v-33.5h1v44.5h1v-2h1v4h1v-2h1v0.5h1v-6.5h1v5.5h1v-3.5h1v1h1v2h1v-1.5h1v-6.5h1v9h1v-6h1v6h1v-2h2v-3h1v2.5h1v1.5h1v-0.5h1v-1.5h1v0.5h1v1.5h1v2h1v-7h1v3.5h1v-6.5h1v7h1v-6h1v-21h1v15h1v13.5h1v-9.5h1v8.5h1v-14.5h1v-13h1v27h1v-9h1v11.5h1v-14.5h1v13h1v-5h1v3.5h1v-1.5h1v5h1v-3h1v0.5h1v1.5h1v-21h1v21.5h1V2414.5Z" fill="#eeb6a3"/>
<line x1="399.5" y1="2349.6" x2="477.6" y2="2349.6" stroke="#7f86c0" stroke-width="1.8"/>
<line x1="399.5" y1="2414.5" x2="477.6" y2="2414.5" stroke="#e98c79" stroke-width="1.8"/>
<line x1="128.4" y1="2433.6" x2="379.4" y2="2433.6" stroke="#414042" stroke-width="2.4"/>
<line x1="379.4" y1="2433.6" x2="426.4" y2="2433.6" stroke="#6d6e71" stroke-width="2.4"/>
<line x1="426.4" y1="2433.6" x2="477.6" y2="2433.6" stroke="#b1b3b6" stroke-width="2.4"/>
<line x1="477.6" y1="2433.6" x2="485.3" y2="2433.6" stroke="#808285" stroke-width="2.4"/>
<line x1="485.3" y1="2433.6" x2="513.7" y2="2433.6" stroke="#231f20" stroke-width="2.4"/>
<line x1="128.4" y1="2428.0" x2="128.4" y2="2439.0" stroke="#58595b" stroke-width="1.2"/>
<line x1="252.0" y1="2423.5" x2="252.0" y2="2443.9" stroke="#58595b" stroke-width="1.6"/>
<line x1="282.6" y1="2428.0" x2="282.6" y2="2439.0" stroke="#939598" stroke-width="1.0"/>
<line x1="379.4" y1="2423.5" x2="379.4" y2="2443.9" stroke="#231f20" stroke-width="1.2"/>
<line x1="426.4" y1="2423.5" x2="426.4" y2="2443.9" stroke="#b1b3b6" stroke-width="1.2"/>
<line x1="434.8" y1="2423.5" x2="434.8" y2="2443.9" stroke="#b1b3b6" stroke-width="1.2"/>
<line x1="456.2" y1="2423.5" x2="456.2" y2="2443.9" stroke="#b1b3b6" stroke-width="1.2"/>
<line x1="458.4" y1="2423.5" x2="458.4" y2="2443.9" stroke="#b1b3b6" stroke-width="1.2"/>
<line x1="460.5" y1="2423.5" x2="460.5" y2="2443.9" stroke="#b1b3b6" stroke-width="1.2"/>
<line x1="464.2" y1="2423.5" x2="464.2" y2="2443.9" stroke="#b1b3b6" stroke-width="1.2"/>
<line x1="465.6" y1="2423.5" x2="465.6" y2="2443.9" stroke="#b1b3b6" stroke-width="1.2"/>
<line x1="475.9" y1="2423.5" x2="475.9" y2="2443.9" stroke="#b1b3b6" stroke-width="1.2"/>
<line x1="485.3" y1="2423.5" x2="485.3" y2="2443.9" stroke="#231f20" stroke-width="1.2"/>
<rect x="508.9" y="2426.0" width="4.8" height="15.0" fill="#231f20"/>
<line x1="508.9" y1="2423.5" x2="508.9" y2="2443.9" stroke="#231f20" stroke-width="1.2"/>
<path d="M320.8 2429.5 L323.6 2433.6 L320.8 2437.7" fill="none" stroke="#939598" stroke-width="2"/>
<line x1="399.5" y1="2455.7" x2="477.3" y2="2455.7" stroke="#b1b3b6" stroke-width="2.4"/>
<line x1="400.2" y1="2448.0" x2="400.2" y2="2463.0" stroke="#b1b3b6" stroke-width="1.2"/>
<line x1="402.4" y1="2448.0" x2="402.4" y2="2463.0" stroke="#b1b3b6" stroke-width="1.2"/>
<line x1="424.2" y1="2448.0" x2="424.2" y2="2463.0" stroke="#b1b3b6" stroke-width="1.2"/>
<line x1="426.4" y1="2448.0" x2="426.4" y2="2463.0" stroke="#b1b3b6" stroke-width="1.2"/>
<line x1="457.0" y1="2448.0" x2="457.0" y2="2463.0" stroke="#b1b3b6" stroke-width="1.2"/>
<line x1="459.9" y1="2448.0" x2="459.9" y2="2463.0" stroke="#b1b3b6" stroke-width="1.2"/>
<path d="M445 2451.6 L441.5 2455.7 L445 2459.8" fill="none" stroke="#b1b3b6" stroke-width="2.4"/>
<line x1="113.1" y1="2469.6" x2="515.9" y2="2469.6" stroke="#414042" stroke-width="1.6"/>
<line x1="129.8" y1="2469.6" x2="129.8" y2="2478.0" stroke="#414042" stroke-width="1.6"/>
<line x1="233.6" y1="2469.6" x2="233.6" y2="2478.0" stroke="#414042" stroke-width="1.6"/>
<line x1="336.6" y1="2469.6" x2="336.6" y2="2478.0" stroke="#414042" stroke-width="1.6"/>
<line x1="441.0" y1="2469.6" x2="441.0" y2="2478.0" stroke="#414042" stroke-width="1.6"/>
<g stroke="#231f20" stroke-width="0.45">
<text x="121.6" y="2288.9" font-size="15.83" font-style="italic">rs1156242 is downstream (&gt;)</text>
<text x="121.6" y="2304.9" font-size="15.83" font-style="italic">in intron of ERGIC2</text>
<g stroke="#939598">
<text x="393.9" y="2280.4" font-size="15.81" font-style="italic" fill="#939598">excluded due to</text>
<text x="393.9" y="2295.2" font-size="15.78" font-style="italic" fill="#939598">overlapping gene</text>
</g>
<text x="49.2" y="2338.0" font-size="21.16">Ref/Ref</text>
<text x="67.0" y="2401.6" font-size="21.09">Alt/Alt</text>
<text x="69.8" y="2439.4" font-size="21.75">FAR2</text>
<text x="261.5" y="2460.8" font-size="19.12">RP11-996F15.2</text>
<text x="196.7" y="2492.7" font-size="19.31">29200kb</text>
<text x="403.0" y="2492.7" font-size="19.31">29300kb</text>
</g>
<line x1="624.7" y1="2351.0" x2="1025.5" y2="2351.0" stroke="#4a72bf" stroke-width="1.3"/>
<path d="M624 2351.0h3v-3.5h1v3.5h2v-1.5h1v-3h1v4.5h1v-4.5h1v3.5h1v1h3v-3.5h1v1h1v1.5h1v1h1v-1h1v-2.5h1v3.5h2v-4.5h1v4.5h3v-1h1v1h4v-1.5h1v1.5h1v-3h1v3h1v-4.5h1v3h1v1.5h1v-8h1v7.5h1v0.5h1v-0.5h1v0.5h1v-1h1v1h1v-2.5h1v2.5h1v-3h1v3h5v-3.5h1v2.5h1v1h1v-10h1v5.5h1v-1.5h1v3.5h1v2.5h1v-8h1v8h3v-13h1v11.5h1v-2h1v3.5h3v-2h1v-0.5h1v-6.5h1v9h3v-1.5h1v-2h1v3.5h1v-4h1v4h1v-1.5h1v-2.5h1v4h1v-17h1v7h1v10h5v-3.5h1v1.5h1v2h1v-17h1v7h1v10h1v-17h1v17h4v-2.5h1v2.5h2v-4h1v4h3v-3h1v3h2v-3.5h1v-9h1v12.5h2v-4h1v4h1v-10h1v10h2v-2h1v1.5h1v0.5h3v-12.5h1v12.5h3v-8h1v8h1v-8h1v8h2v-4h1v4h1v-2.5h1v2.5h2v-3.5h1v3.5h1v-4h1v4h1v-1h1v1h8v-1h1v1h1v-2h1v2h2v-2.5h1v-1.5h1v4h4v-1.5h1v1.5h2v-2.5h1v-0.5h1v3h3v-2h2v2h1v-8h1v8h2v-12h1v12h1v-8h1v8h8v-1.5h1v1.5h1v-4h1v1.5h1v2.5h1v-1h1v1h2v-5h1v1h1v4h1v-3.5h1v3.5h4v-1h1v-2h1v3h1v-5h1v1.5h1v-1.5h1v3.5h2v-1.5h1v3h1v-2h1v2h1v-1.5h1v-2.5h1v4h1v-4h1v4h1v-2h1v2h6v-2h1v2h1v-1h1v-2h1v3h2v-3.5h1v2h1v1.5h1v-2.5h1v2h1v0.5h5v-2h1v-2.5h1v2.5h1v2h7v-4.5h2v4.5h2v-3h1v3h1v-0.5h1v0.5h3v-1h1v-3h1v4h3v-2h1v2h2v-5h1v0.5h1v2.5h1v-2h1v3h1v1h3v-0.5h1v0.5h5v-3h1v3h4v-3.5h1v3.5h4v-2.5h1v2.5h2v-3h1v3h7v-0.5h1v-1.5h1v2h4v-1.5h1v1.5h5v-2.5h1v2.5h3v-1.5h1v1.5h2v-3.5h1v3.5h1v-2h1v-1.5h1v-1.5h2v5h1v-2.5h1v2.5h5v-4h1v4h3v-4h1v4h1v-4.5h1v4.5h3v-2h1v2h2v-3h1v3h5v-4.5h1v4.5h5v-0.5h1v-3h1v2h1v1.5h2v-3h1v3h1v-6h1v0.5h1v5.5h1v-3h1v-4h1v2.5h1v4.5h1v-6h1v-2h1v-2h1v-2h1v-9h1v7h1v-4h1v5h1v5h1v8h3v-1.5h2v1.5h1v-1.5h1v1.5h6V2351.0Z" fill="#2a55a3"/>
<line x1="624.7" y1="2405.3" x2="1025.5" y2="2405.3" stroke="#ee4b55" stroke-width="1.3"/>
<path d="M624 2405.3h12v-13h4v13h3v-20.5h2v20.5h11v-25h1v15h1v-18h1v20h1v-11.5h1v4.5h1v3h1v-6.5h1v-6.5h1v10h1v-7.5h1v-7.5h1v-2.5h1v-2.5h1v-3.5h1v-3.5h1v-4.5h4v5.5h1v6h1v15h1v15h1v1.5h1v-0.5h1v4h1v-5.5h1v5.5h9v-2.5h1v-42.5h1v-0.5h1v-0.5h1v11h1v-2.5h1v-2.5h1v10.5h1v29.5h7v-40h1v-3h1v16.5h1v-3.5h1v2.5h1v2.5h1v25h3v-2.5h1v-27.5h2v15h1v-13h1v-2h1v30h2v-19.5h1v19.5h1v-19.5h1v-0.5h1v5h1v15h1v-17h1v9h1v8h1v-12h1v-5h1v-2.5h1v19.5h1v-1h1v-12.5h1v-16.5h1v-20h1v37.5h1v-15.5h1v5h1v21h1v-17.5h1v7h1v7h1v-14.5h1v-5h1v24.5h1v-29.5h1v20h1v-10h1v5h1v13.5h1v-2.5h1v2h1v-2h1v-0.5h1v-4h1v6h1v-1h1v1.5h1v-4h1v0.5h1v-16.5h1v16h1v-3.5h1v-2h1v-2.5h1v5.5h1v-2h1v10h1v-2h1v-4h1v-2.5h1v5h1v1h1v-3.5h1v3.5h1v3h1v-4.5h1v1h1v0.5h1v-0.5h1v-3.5h1v7h2v-4.5h1v-1h1v1h1v2.5h1v-5h1v1h1v5.5h1v-5.5h1v5.5h1v-4h1v-2h1v6.5h1v-4.5h1v-2.5h2v-1h2v6.5h1v1.5h1v-1h1v-3h1v3.5h1v-6h1v-2h1v-13.5h1v12.5h1v4h1v-1.5h1v-10h1v10h1v-7h1v13.5h1v-8.5h1v4h1v-4h1v3h1v-5h1v9.5h1v-7.5h1v5.5h1v-6h1v6.5h1v-7h1v-2h1v12h1v-3.5h1v1h1v1h1v0.5h1v-3h1v1.5h1v-4.5h1v3.5h1v-7.5h1v7h1v-5h1v5.5h1v-10h1v7.5h4v2h1v3h1v-3h1v-1.5h1v4.5h1v1h1v-3.5h1v0.5h1v-0.5h1v3.5h1v-2h1v-7h1v3.5h2v-0.5h1v-4h1v4h2v-1h1v1h1v-3h1v5.5h1v-3.5h1v5h1v-6.5h1v5.5h1v-5.5h1v2.5h1v5h1v-6.5h1v-1h1v6h1v-1.5h1v1h1v1h1v-2.5h1v-7h1v1h1v4.5h1v-2h2v-4.5h1v6.5h1v-2h1v-1.5h1v4h1v0.5h1v-5h1v-10h1v-7h1v-7h1v2h1v-4h1v12h1v6h1v9h1v6h1v-10.5h1v13.5h2v-1.5h1v-0.5h1v2h1v-3h1v1h1v-9.5h1v11.5h1v-13h1v11h1v-11.5h1v11h1v1h1v-2.5h1v-0.5h1v1h1v-0.5h1v2.5h1v-0.5h1v-8.5h1v-2h1v8h2v-0.5h1v-5h1v-8h1v-3.5h1v-3.5h1v2.5h1v2.5h1v10h1v6.5h1v-2.5h1v3.5h1v-8.5h1v3h1v-2h1v7.5h1v-6h1v2.5h3v-6h1v7h1v-1h1v-5h1v4.5h1v0.5h1v2.5h1v-8h1v5.5h1v-4.5h1v1h1v7.5h1v1h1v-6.5h1v4.5h1v1.5h1v-5.5h2v5h1v-4h1v5h1v-10h1v11h1v-9.5h1v1.5h1v8h2v-2h1v-3.5h1v-0.5h1v1.5h1v-1.5h1v-12h1v9.5h1v2.5h1v-8h1v4h1v5h1v-2.5h1v1.5h2v-3.5h1v-1h1v5h1v1.5h1v1h1v-4.5h1v-3.5h1v-0.5h1v5.5h1v1.5h1v2h1v-2h1v2.5h1v2h1v-24h1v24h4v-2h1v2h1v-3h1v3h1v-1.5h1v1.5h2v-1.5h1v1.5h5V2405.3Z" fill="#e8202b"/>
<line x1="810.6" y1="2294.7" x2="810.6" y2="2405.3" stroke="#a7a9ac" stroke-width="1.0"/>
<line x1="904.5" y1="2294.7" x2="904.5" y2="2405.3" stroke="#a7a9ac" stroke-width="1.0"/>
<line x1="1011.7" y1="2294.7" x2="1011.7" y2="2405.3" stroke="#a7a9ac" stroke-width="1.0"/>
<line x1="1016.9" y1="2294.7" x2="1016.9" y2="2405.3" stroke="#a7a9ac" stroke-width="1.0"/>
<line x1="636.4" y1="2423.8" x2="1012.4" y2="2423.8" stroke="#231f20" stroke-width="2.6"/>
<rect x="636.4" y="2415.5" width="2.2" height="16.7" fill="#231f20"/>
<rect x="642.2" y="2415.5" width="2.2" height="16.7" fill="#231f20"/>
<rect x="655.3" y="2415.5" width="2.9" height="16.7" fill="#231f20"/>
<rect x="670.6" y="2415.5" width="1.4" height="16.7" fill="#231f20"/>
<rect x="693.8" y="2415.5" width="5.9" height="16.7" fill="#231f20"/>
<rect x="707.7" y="2415.5" width="4.3" height="16.7" fill="#231f20"/>
<rect x="718.1" y="2415.5" width="2.9" height="16.7" fill="#231f20"/>
<rect x="726.6" y="2415.5" width="1.4" height="16.7" fill="#231f20"/>
<rect x="739.0" y="2415.5" width="1.4" height="16.7" fill="#231f20"/>
<rect x="751.3" y="2415.5" width="1.5" height="16.7" fill="#231f20"/>
<rect x="764.4" y="2415.5" width="2.2" height="16.7" fill="#231f20"/>
<rect x="1008.3" y="2415.5" width="4.1" height="16.7" fill="#231f20"/>
<line x1="675.7" y1="2415.5" x2="675.7" y2="2432.2" stroke="#231f20" stroke-width="0.9"/>
<line x1="624.0" y1="2443.1" x2="1027.2" y2="2443.1" stroke="#231f20" stroke-width="1.6"/>
<line x1="654.6" y1="2443.1" x2="654.6" y2="2451.0" stroke="#231f20" stroke-width="1.6"/>
<line x1="797.1" y1="2443.1" x2="797.1" y2="2451.0" stroke="#231f20" stroke-width="1.6"/>
<line x1="940.2" y1="2443.1" x2="940.2" y2="2451.0" stroke="#231f20" stroke-width="1.6"/>
<text x="604.1" y="2291.8" font-size="15.72" font-style="italic">rs370545 and rs914615 are downstream (&lt;) in intron of THBS3</text>
<text x="555.4" y="2333.5" font-size="21.83">Ref/Ref</text>
<text x="574.3" y="2389.6" font-size="21.13">Alt/Alt</text>
<text x="561.9" y="2429.8" font-size="21.25">GBAP1</text>
<text x="612.4" y="2470.0" font-size="18.89">155215kb</text>
<text x="756.6" y="2470.0" font-size="18.73">155220kb</text>
<text x="900.3" y="2470.0" font-size="18.66">155225kb</text>
<line x1="1154.3" y1="2352.5" x2="1539.2" y2="2352.5" stroke="#4a72bf" stroke-width="1.3"/>
<path d="M1154 2352.5h25v-1h1v-11.5h1v-16h1v1.5h1v-5.5h1v-0.5h1v-1h1v1.5h1v-3h1v-2.5h1v2.5h1v1h1v3.5h1v3.5h1v3h1v-0.5h1v0.5h1v0.5h1v24h143v-30h1v-7.5h1v-14.5h1v4h1v48h141v-25h1v-3h1v1h1v-5.5h1v1.5h1v31h36v-26h1v-2h1v-4.5h1v3.5h1v4h1v23h1v2h8V2352.5Z" fill="#2a55a3"/>
<line x1="1154.3" y1="2404.6" x2="1539.2" y2="2404.6" stroke="#ee4b55" stroke-width="1.3"/>
<path d="M1154 2404.6h27v-12h1v-3.5h1v-0.5h1v-3h1v-1h1v-1h1v-1h1v-4h1v1h1v1h1v3h1v1h1v4h1v-5.5h1v7.5h2v14h143v-22h1v-4h1v-12h1v4h1v34h141v-20h1v-3h1v1.5h1v-0.5h1v1h1v21h36v-18h1v-1.5h1v-1.5h1v3.5h1v2.5h1v13h1v2h8V2404.6Z" fill="#e8202b"/>
<line x1="1167.1" y1="2299.8" x2="1167.1" y2="2404.6" stroke="#a7a9ac" stroke-width="1.0"/>
<line x1="1245.9" y1="2299.8" x2="1245.9" y2="2404.6" stroke="#a7a9ac" stroke-width="1.0"/>
<line x1="1355.2" y1="2299.8" x2="1355.2" y2="2404.6" stroke="#a7a9ac" stroke-width="1.0"/>
<line x1="1379.3" y1="2299.8" x2="1379.3" y2="2404.6" stroke="#a7a9ac" stroke-width="1.0"/>
<line x1="1443.6" y1="2299.8" x2="1443.6" y2="2404.6" stroke="#a7a9ac" stroke-width="1.0"/>
<line x1="1479.0" y1="2299.8" x2="1479.0" y2="2404.6" stroke="#a7a9ac" stroke-width="1.0"/>
<line x1="1513.4" y1="2299.8" x2="1513.4" y2="2404.6" stroke="#a7a9ac" stroke-width="1.0"/>
<rect x="1180.4" y="2417.7" width="12.7" height="10.9" fill="#231f20"/>
<line x1="1194.1" y1="2413.3" x2="1194.1" y2="2433.0" stroke="#231f20" stroke-width="1.6"/>
<line x1="1193.1" y1="2423.1" x2="1528.9" y2="2423.1" stroke="#231f20" stroke-width="2.6"/>
<line x1="1341.5" y1="2413.3" x2="1341.5" y2="2433.0" stroke="#231f20" stroke-width="2.4"/>
<line x1="1487.6" y1="2413.3" x2="1487.6" y2="2433.0" stroke="#231f20" stroke-width="2.4"/>
<line x1="1527.2" y1="2415.0" x2="1527.2" y2="2431.0" stroke="#231f20" stroke-width="1.6"/>
<line x1="1154.3" y1="2441.0" x2="1539.2" y2="2441.0" stroke="#231f20" stroke-width="1.6"/>
<line x1="1232.1" y1="2441.0" x2="1232.1" y2="2450.4" stroke="#231f20" stroke-width="1.6"/>
<line x1="1345.6" y1="2441.0" x2="1345.6" y2="2450.4" stroke="#231f20" stroke-width="1.6"/>
<line x1="1461.8" y1="2441.0" x2="1461.8" y2="2450.4" stroke="#231f20" stroke-width="1.6"/>
<text x="1154.3" y="2294.7" font-size="15.75" font-style="italic">rs72844546 is downstream (&lt;) in intron of JPT1</text>
<text x="1083.6" y="2330.1" font-size="21.07">Ref/Ref</text>
<text x="1102.5" y="2392.0" font-size="20.13">Alt/Alt</text>
<text x="1087.7" y="2429.8" font-size="21.37">SUMO2</text>
<text x="1195.1" y="2470.8" font-size="18.85">75170kb</text>
<text x="1427.2" y="2470.8" font-size="18.83">75180kb</text>
</svg>
</body></html>
